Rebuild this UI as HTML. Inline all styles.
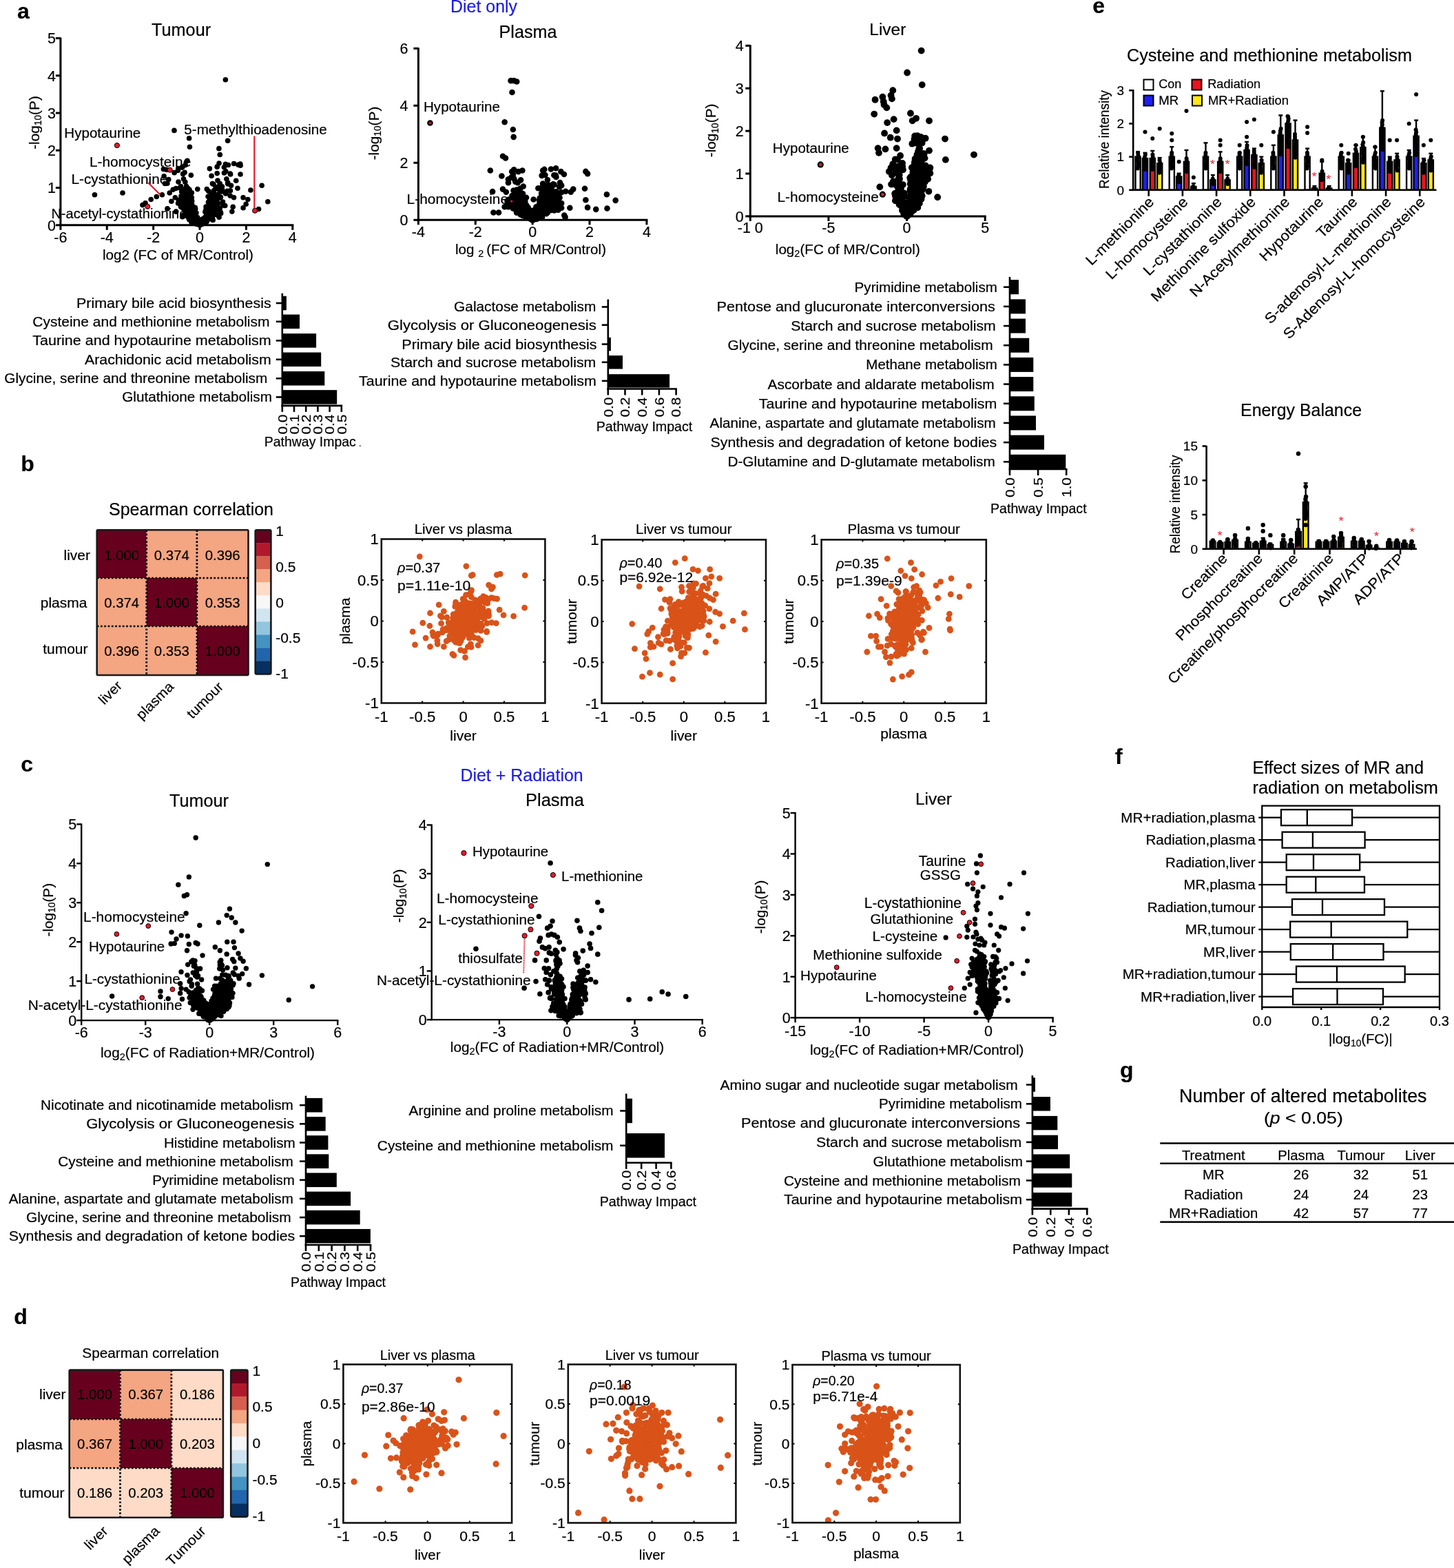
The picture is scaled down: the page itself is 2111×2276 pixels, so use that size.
<!DOCTYPE html>
<html><head><meta charset="utf-8"><title>Figure</title>
<style>
html,body{margin:0;padding:0;background:#fff;}
svg{display:block;}
text{font-family:"Liberation Sans",Arial,Helvetica,sans-serif;stroke:#000;stroke-width:0.2px;}
</style></head><body>
<svg width="2111" height="2276" viewBox="0 0 2111 2276">
<rect x="0" y="0" width="2111" height="2276" fill="#fff"/>
<text x="25" y="27.3" font-size="32" font-weight="bold">a</text>
<text x="654" y="17.6" font-size="25.18" textLength="97" lengthAdjust="spacingAndGlyphs" fill="#1c1ce6" style="stroke:#1c1ce6">Diet only</text>
<text x="263.1" y="52.4" font-size="25.49" text-anchor="middle" textLength="86" lengthAdjust="spacingAndGlyphs">Tumour</text>
<circle cx="265.61" cy="252.51" r="3.8" fill="#000"/>
<circle cx="290.03" cy="326.77" r="3.8" fill="#000"/>
<circle cx="319.37" cy="287.08" r="3.8" fill="#000"/>
<circle cx="325.39" cy="242.71" r="3.8" fill="#000"/>
<circle cx="302.8" cy="309.15" r="3.8" fill="#000"/>
<circle cx="276" cy="311.17" r="3.8" fill="#000"/>
<circle cx="263.76" cy="278.22" r="3.8" fill="#000"/>
<circle cx="309.84" cy="301.37" r="3.8" fill="#000"/>
<circle cx="283.73" cy="324.51" r="3.8" fill="#000"/>
<circle cx="294.78" cy="320.33" r="3.8" fill="#000"/>
<circle cx="297.17" cy="316.84" r="3.8" fill="#000"/>
<circle cx="284.33" cy="319.73" r="3.8" fill="#000"/>
<circle cx="297.55" cy="321.06" r="3.8" fill="#000"/>
<circle cx="278.7" cy="323.08" r="3.8" fill="#000"/>
<circle cx="258.99" cy="264.12" r="3.8" fill="#000"/>
<circle cx="309.14" cy="319.55" r="3.8" fill="#000"/>
<circle cx="309.01" cy="292.7" r="3.8" fill="#000"/>
<circle cx="284.27" cy="322.03" r="3.8" fill="#000"/>
<circle cx="298.68" cy="318.65" r="3.8" fill="#000"/>
<circle cx="283.24" cy="322.99" r="3.8" fill="#000"/>
<circle cx="328.9" cy="259.74" r="3.8" fill="#000"/>
<circle cx="282.75" cy="321.41" r="3.8" fill="#000"/>
<circle cx="304.68" cy="293.9" r="3.8" fill="#000"/>
<circle cx="282.56" cy="322.05" r="3.8" fill="#000"/>
<circle cx="291.14" cy="325.59" r="3.8" fill="#000"/>
<circle cx="298.42" cy="317.5" r="3.8" fill="#000"/>
<circle cx="293.35" cy="318.27" r="3.8" fill="#000"/>
<circle cx="334.66" cy="252.97" r="3.8" fill="#000"/>
<circle cx="272.74" cy="314.03" r="3.8" fill="#000"/>
<circle cx="300.69" cy="314.81" r="3.8" fill="#000"/>
<circle cx="318.12" cy="315.36" r="3.8" fill="#000"/>
<circle cx="306.46" cy="318.07" r="3.8" fill="#000"/>
<circle cx="281.07" cy="320.16" r="3.8" fill="#000"/>
<circle cx="253.13" cy="250.63" r="3.8" fill="#000"/>
<circle cx="323.9" cy="298.02" r="3.8" fill="#000"/>
<circle cx="307.08" cy="255.24" r="3.8" fill="#000"/>
<circle cx="348.85" cy="238.08" r="3.8" fill="#000"/>
<circle cx="311.5" cy="304.94" r="3.8" fill="#000"/>
<circle cx="264.72" cy="314.65" r="3.8" fill="#000"/>
<circle cx="273.81" cy="303.41" r="3.8" fill="#000"/>
<circle cx="287.4" cy="324.82" r="3.8" fill="#000"/>
<circle cx="305.22" cy="310.74" r="3.8" fill="#000"/>
<circle cx="297.34" cy="319.99" r="3.8" fill="#000"/>
<circle cx="322.43" cy="270.89" r="3.8" fill="#000"/>
<circle cx="279" cy="316.64" r="3.8" fill="#000"/>
<circle cx="269.68" cy="303.76" r="3.8" fill="#000"/>
<circle cx="342.72" cy="262.21" r="3.8" fill="#000"/>
<circle cx="320.34" cy="286.14" r="3.8" fill="#000"/>
<circle cx="299.99" cy="312.58" r="3.8" fill="#000"/>
<circle cx="286.78" cy="315.91" r="3.8" fill="#000"/>
<circle cx="265.05" cy="242.01" r="3.8" fill="#000"/>
<circle cx="313.15" cy="304.99" r="3.8" fill="#000"/>
<circle cx="320.34" cy="308.34" r="3.8" fill="#000"/>
<circle cx="286.21" cy="324.48" r="3.8" fill="#000"/>
<circle cx="319.04" cy="277.28" r="3.8" fill="#000"/>
<circle cx="255.38" cy="273.53" r="3.8" fill="#000"/>
<circle cx="274.02" cy="308.01" r="3.8" fill="#000"/>
<circle cx="282.49" cy="319.9" r="3.8" fill="#000"/>
<circle cx="243.01" cy="302.88" r="3.8" fill="#000"/>
<circle cx="325.48" cy="251" r="3.8" fill="#000"/>
<circle cx="271.97" cy="303.51" r="3.8" fill="#000"/>
<circle cx="309.34" cy="306.92" r="3.8" fill="#000"/>
<circle cx="302.88" cy="277.46" r="3.8" fill="#000"/>
<circle cx="266.75" cy="311.8" r="3.8" fill="#000"/>
<circle cx="299.07" cy="303.74" r="3.8" fill="#000"/>
<circle cx="272.93" cy="273.53" r="3.8" fill="#000"/>
<circle cx="269.33" cy="312.59" r="3.8" fill="#000"/>
<circle cx="288.17" cy="325.73" r="3.8" fill="#000"/>
<circle cx="297.88" cy="307.56" r="3.8" fill="#000"/>
<circle cx="277.93" cy="322.5" r="3.8" fill="#000"/>
<circle cx="275.09" cy="292.39" r="3.8" fill="#000"/>
<circle cx="323.01" cy="276.35" r="3.8" fill="#000"/>
<circle cx="293.26" cy="325.22" r="3.8" fill="#000"/>
<circle cx="251.14" cy="275.21" r="3.8" fill="#000"/>
<circle cx="268.08" cy="250.24" r="3.8" fill="#000"/>
<circle cx="273.85" cy="316.16" r="3.8" fill="#000"/>
<circle cx="290.03" cy="326.77" r="3.8" fill="#000"/>
<circle cx="266.73" cy="313.43" r="3.8" fill="#000"/>
<circle cx="318.05" cy="237.08" r="3.8" fill="#000"/>
<circle cx="264.64" cy="286.52" r="3.8" fill="#000"/>
<circle cx="315.97" cy="312.31" r="3.8" fill="#000"/>
<circle cx="318.22" cy="270" r="3.8" fill="#000"/>
<circle cx="279.88" cy="300.39" r="3.8" fill="#000"/>
<circle cx="291.63" cy="324.78" r="3.8" fill="#000"/>
<circle cx="299.31" cy="305.88" r="3.8" fill="#000"/>
<circle cx="280.94" cy="310.43" r="3.8" fill="#000"/>
<circle cx="264.39" cy="243.09" r="3.8" fill="#000"/>
<circle cx="268.84" cy="264.37" r="3.8" fill="#000"/>
<circle cx="307.13" cy="306.33" r="3.8" fill="#000"/>
<circle cx="261.55" cy="295.56" r="3.8" fill="#000"/>
<circle cx="300.35" cy="321.38" r="3.8" fill="#000"/>
<circle cx="288.72" cy="325.4" r="3.8" fill="#000"/>
<circle cx="276.79" cy="312.1" r="3.8" fill="#000"/>
<circle cx="305.31" cy="309.78" r="3.8" fill="#000"/>
<circle cx="287.28" cy="324.73" r="3.8" fill="#000"/>
<circle cx="295.62" cy="321.7" r="3.8" fill="#000"/>
<circle cx="270.88" cy="304.54" r="3.8" fill="#000"/>
<circle cx="269.37" cy="279" r="3.8" fill="#000"/>
<circle cx="297.3" cy="324.1" r="3.8" fill="#000"/>
<circle cx="317.45" cy="285.84" r="3.8" fill="#000"/>
<circle cx="289.09" cy="326.23" r="3.8" fill="#000"/>
<circle cx="326.77" cy="298.44" r="3.8" fill="#000"/>
<circle cx="288.92" cy="325.83" r="3.8" fill="#000"/>
<circle cx="285.45" cy="321.41" r="3.8" fill="#000"/>
<circle cx="272.8" cy="301.28" r="3.8" fill="#000"/>
<circle cx="303.67" cy="298.57" r="3.8" fill="#000"/>
<circle cx="306.45" cy="280.64" r="3.8" fill="#000"/>
<circle cx="284.5" cy="322.11" r="3.8" fill="#000"/>
<circle cx="268.38" cy="279.9" r="3.8" fill="#000"/>
<circle cx="276.39" cy="303.95" r="3.8" fill="#000"/>
<circle cx="294.21" cy="322.53" r="3.8" fill="#000"/>
<circle cx="317.13" cy="302.19" r="3.8" fill="#000"/>
<circle cx="283.68" cy="318.75" r="3.8" fill="#000"/>
<circle cx="275.59" cy="315.13" r="3.8" fill="#000"/>
<circle cx="296.31" cy="322.42" r="3.8" fill="#000"/>
<circle cx="316.12" cy="284.21" r="3.8" fill="#000"/>
<circle cx="278.33" cy="309.52" r="3.8" fill="#000"/>
<circle cx="320.83" cy="273.64" r="3.8" fill="#000"/>
<circle cx="275.58" cy="313.05" r="3.8" fill="#000"/>
<circle cx="320.71" cy="274.8" r="3.8" fill="#000"/>
<circle cx="287.32" cy="325.21" r="3.8" fill="#000"/>
<circle cx="317.11" cy="304.37" r="3.8" fill="#000"/>
<circle cx="274.99" cy="311.09" r="3.8" fill="#000"/>
<circle cx="302.15" cy="285.21" r="3.8" fill="#000"/>
<circle cx="322.39" cy="278.05" r="3.8" fill="#000"/>
<circle cx="285.19" cy="325.15" r="3.8" fill="#000"/>
<circle cx="296.94" cy="316.09" r="3.8" fill="#000"/>
<circle cx="291.89" cy="325.43" r="3.8" fill="#000"/>
<circle cx="313.01" cy="293.51" r="3.8" fill="#000"/>
<circle cx="272.58" cy="292.58" r="3.8" fill="#000"/>
<circle cx="273.72" cy="287.71" r="3.8" fill="#000"/>
<circle cx="292.92" cy="323.19" r="3.8" fill="#000"/>
<circle cx="294.71" cy="319.56" r="3.8" fill="#000"/>
<circle cx="272.53" cy="301.77" r="3.8" fill="#000"/>
<circle cx="285.01" cy="323.88" r="3.8" fill="#000"/>
<circle cx="271.65" cy="305.66" r="3.8" fill="#000"/>
<circle cx="292.42" cy="322.4" r="3.8" fill="#000"/>
<circle cx="310.93" cy="301.32" r="3.8" fill="#000"/>
<circle cx="242.88" cy="266.29" r="3.8" fill="#000"/>
<circle cx="315.99" cy="262.11" r="3.8" fill="#000"/>
<circle cx="334.18" cy="252.12" r="3.8" fill="#000"/>
<circle cx="265.66" cy="302.17" r="3.8" fill="#000"/>
<circle cx="284.74" cy="315.84" r="3.8" fill="#000"/>
<circle cx="241.79" cy="246.37" r="3.8" fill="#000"/>
<circle cx="275.72" cy="314.69" r="3.8" fill="#000"/>
<circle cx="302.73" cy="306.67" r="3.8" fill="#000"/>
<circle cx="280.63" cy="322.59" r="3.8" fill="#000"/>
<circle cx="334.46" cy="276.77" r="3.8" fill="#000"/>
<circle cx="284.85" cy="317.95" r="3.8" fill="#000"/>
<circle cx="284.1" cy="324.08" r="3.8" fill="#000"/>
<circle cx="304.49" cy="306.04" r="3.8" fill="#000"/>
<circle cx="263.92" cy="292.31" r="3.8" fill="#000"/>
<circle cx="272.28" cy="304.14" r="3.8" fill="#000"/>
<circle cx="311.25" cy="311.43" r="3.8" fill="#000"/>
<circle cx="296.77" cy="318.29" r="3.8" fill="#000"/>
<circle cx="298.87" cy="322.92" r="3.8" fill="#000"/>
<circle cx="302.44" cy="293.57" r="3.8" fill="#000"/>
<circle cx="330.69" cy="265.16" r="3.8" fill="#000"/>
<circle cx="291.16" cy="325.58" r="3.8" fill="#000"/>
<circle cx="302.48" cy="306.49" r="3.8" fill="#000"/>
<circle cx="290.44" cy="326.32" r="3.8" fill="#000"/>
<circle cx="279.49" cy="322.78" r="3.8" fill="#000"/>
<circle cx="312.49" cy="310.48" r="3.8" fill="#000"/>
<circle cx="281.42" cy="318.73" r="3.8" fill="#000"/>
<circle cx="288.35" cy="325.01" r="3.8" fill="#000"/>
<circle cx="311.32" cy="306.61" r="3.8" fill="#000"/>
<circle cx="300.71" cy="315.6" r="3.8" fill="#000"/>
<circle cx="258.83" cy="244.55" r="3.8" fill="#000"/>
<circle cx="302.56" cy="308.71" r="3.8" fill="#000"/>
<circle cx="274.77" cy="311.43" r="3.8" fill="#000"/>
<circle cx="271.3" cy="289.75" r="3.8" fill="#000"/>
<circle cx="314.56" cy="282.54" r="3.8" fill="#000"/>
<circle cx="327.65" cy="280.93" r="3.8" fill="#000"/>
<circle cx="312.8" cy="310.55" r="3.8" fill="#000"/>
<circle cx="262.5" cy="270.62" r="3.8" fill="#000"/>
<circle cx="290.93" cy="326.33" r="3.8" fill="#000"/>
<circle cx="292.37" cy="325.75" r="3.8" fill="#000"/>
<circle cx="280.84" cy="316.3" r="3.8" fill="#000"/>
<circle cx="295.63" cy="323.18" r="3.8" fill="#000"/>
<circle cx="292.18" cy="324.02" r="3.8" fill="#000"/>
<circle cx="285.54" cy="317.48" r="3.8" fill="#000"/>
<circle cx="323.52" cy="293.06" r="3.8" fill="#000"/>
<circle cx="303.64" cy="312.84" r="3.8" fill="#000"/>
<circle cx="278.94" cy="310.89" r="3.8" fill="#000"/>
<circle cx="312.72" cy="274.32" r="3.8" fill="#000"/>
<circle cx="274.71" cy="318.79" r="3.8" fill="#000"/>
<circle cx="330.66" cy="266.86" r="3.8" fill="#000"/>
<circle cx="306.13" cy="308.74" r="3.8" fill="#000"/>
<circle cx="327.46" cy="238.41" r="3.8" fill="#000"/>
<circle cx="295.38" cy="322.47" r="3.8" fill="#000"/>
<circle cx="327.78" cy="248.78" r="3.8" fill="#000"/>
<circle cx="298.96" cy="314.01" r="3.8" fill="#000"/>
<circle cx="277.79" cy="306.06" r="3.8" fill="#000"/>
<circle cx="295.4" cy="323.23" r="3.8" fill="#000"/>
<circle cx="276.92" cy="304.83" r="3.8" fill="#000"/>
<circle cx="283.79" cy="321.31" r="3.8" fill="#000"/>
<circle cx="310.03" cy="267.6" r="3.8" fill="#000"/>
<circle cx="301.85" cy="302.64" r="3.8" fill="#000"/>
<circle cx="310.37" cy="276.78" r="3.8" fill="#000"/>
<circle cx="267.7" cy="278.16" r="3.8" fill="#000"/>
<circle cx="291.95" cy="323.85" r="3.8" fill="#000"/>
<circle cx="298.43" cy="318.32" r="3.8" fill="#000"/>
<circle cx="295.38" cy="321.98" r="3.8" fill="#000"/>
<circle cx="314.14" cy="271.85" r="3.8" fill="#000"/>
<circle cx="293.45" cy="323.36" r="3.8" fill="#000"/>
<circle cx="244.75" cy="260.6" r="3.8" fill="#000"/>
<circle cx="275.16" cy="299.09" r="3.8" fill="#000"/>
<circle cx="282.85" cy="319.5" r="3.8" fill="#000"/>
<circle cx="301.23" cy="316.88" r="3.8" fill="#000"/>
<circle cx="276.99" cy="316.19" r="3.8" fill="#000"/>
<circle cx="303.3" cy="307.11" r="3.8" fill="#000"/>
<circle cx="292.92" cy="324.86" r="3.8" fill="#000"/>
<circle cx="303.65" cy="315.65" r="3.8" fill="#000"/>
<circle cx="295.93" cy="323.29" r="3.8" fill="#000"/>
<circle cx="345.93" cy="239.18" r="3.8" fill="#000"/>
<circle cx="255.61" cy="307.13" r="3.8" fill="#000"/>
<circle cx="279.94" cy="302.19" r="3.8" fill="#000"/>
<circle cx="237.43" cy="245.45" r="3.8" fill="#000"/>
<circle cx="319.27" cy="302.54" r="3.8" fill="#000"/>
<circle cx="284.39" cy="323.9" r="3.8" fill="#000"/>
<circle cx="327.38" cy="115.8" r="3.8" fill="#000"/>
<circle cx="252.98" cy="189.39" r="3.8" fill="#000"/>
<circle cx="274.62" cy="200.76" r="3.8" fill="#000"/>
<circle cx="330.63" cy="204.27" r="3.8" fill="#000"/>
<circle cx="275.43" cy="213.2" r="3.8" fill="#000"/>
<circle cx="317.91" cy="215.64" r="3.8" fill="#000"/>
<circle cx="319.26" cy="224.57" r="3.8" fill="#000"/>
<circle cx="137.45" cy="282.74" r="3.8" fill="#000"/>
<circle cx="178.03" cy="280.03" r="3.8" fill="#000"/>
<circle cx="380.14" cy="269.21" r="3.8" fill="#000"/>
<circle cx="388.8" cy="292.75" r="3.8" fill="#000"/>
<circle cx="363.91" cy="275.97" r="3.8" fill="#000"/>
<circle cx="375.54" cy="303.57" r="3.8" fill="#000"/>
<circle cx="304.38" cy="244.86" r="3.8" fill="#000"/>
<circle cx="315.21" cy="242.15" r="3.8" fill="#000"/>
<circle cx="331.44" cy="239.45" r="3.8" fill="#000"/>
<circle cx="339.56" cy="237.55" r="3.8" fill="#000"/>
<circle cx="349.03" cy="240.26" r="3.8" fill="#000"/>
<circle cx="349.03" cy="252.98" r="3.8" fill="#000"/>
<circle cx="315.21" cy="251.62" r="3.8" fill="#000"/>
<circle cx="277.33" cy="254.33" r="3.8" fill="#000"/>
<circle cx="258.39" cy="247.56" r="3.8" fill="#000"/>
<circle cx="269.21" cy="239.45" r="3.8" fill="#000"/>
<circle cx="238.1" cy="255.68" r="3.8" fill="#000"/>
<circle cx="239.45" cy="266.5" r="3.8" fill="#000"/>
<circle cx="235.39" cy="282.74" r="3.8" fill="#000"/>
<circle cx="227.27" cy="285.44" r="3.8" fill="#000"/>
<circle cx="219.16" cy="289.5" r="3.8" fill="#000"/>
<circle cx="211.04" cy="294.91" r="3.8" fill="#000"/>
<circle cx="206.98" cy="297.62" r="3.8" fill="#000"/>
<circle cx="286.8" cy="274.62" r="3.8" fill="#000"/>
<circle cx="300.32" cy="274.62" r="3.8" fill="#000"/>
<circle cx="308.44" cy="266.5" r="3.8" fill="#000"/>
<circle cx="319.26" cy="266.5" r="3.8" fill="#000"/>
<circle cx="335.5" cy="269.21" r="3.8" fill="#000"/>
<circle cx="344.97" cy="273.27" r="3.8" fill="#000"/>
<circle cx="353.08" cy="286.8" r="3.8" fill="#000"/>
<circle cx="359.85" cy="289.5" r="3.8" fill="#000"/>
<circle cx="357.14" cy="296.27" r="3.8" fill="#000"/>
<circle cx="353.08" cy="301.68" r="3.8" fill="#000"/>
<circle cx="338.2" cy="300.32" r="3.8" fill="#000"/>
<circle cx="336.85" cy="307.09" r="3.8" fill="#000"/>
<circle cx="313.85" cy="297.62" r="3.8" fill="#000"/>
<circle cx="320.62" cy="309.79" r="3.8" fill="#000"/>
<circle cx="308.44" cy="316.56" r="3.8" fill="#000"/>
<circle cx="270.56" cy="289.5" r="3.8" fill="#000"/>
<circle cx="254.33" cy="286.8" r="3.8" fill="#000"/>
<circle cx="248.92" cy="292.21" r="3.8" fill="#000"/>
<circle cx="246.21" cy="280.03" r="3.8" fill="#000"/>
<circle cx="271.92" cy="233.23" r="3.8" fill="#000"/>
<circle cx="334.15" cy="284.09" r="3.8" fill="#000"/>
<circle cx="339.56" cy="286.8" r="3.8" fill="#000"/>
<circle cx="330.09" cy="277.33" r="3.8" fill="#000"/>
<circle cx="261.09" cy="272.73" r="3.8" fill="#000"/>
<circle cx="266.5" cy="259.74" r="3.8" fill="#000"/>
<circle cx="270.56" cy="270.56" r="3.8" fill="#000"/>
<circle cx="268.42" cy="274.73" r="3.8" fill="#000"/>
<circle cx="272.29" cy="275.46" r="3.8" fill="#000"/>
<circle cx="274.92" cy="275.22" r="3.8" fill="#000"/>
<circle cx="267.16" cy="279.95" r="3.8" fill="#000"/>
<circle cx="271.38" cy="278.83" r="3.8" fill="#000"/>
<circle cx="275.47" cy="277.76" r="3.8" fill="#000"/>
<circle cx="278.34" cy="279.74" r="3.8" fill="#000"/>
<circle cx="263" cy="284.64" r="3.8" fill="#000"/>
<circle cx="267.37" cy="283.2" r="3.8" fill="#000"/>
<circle cx="270.64" cy="283.46" r="3.8" fill="#000"/>
<circle cx="276.84" cy="281.87" r="3.8" fill="#000"/>
<circle cx="262.97" cy="287.46" r="3.8" fill="#000"/>
<circle cx="266.72" cy="287.05" r="3.8" fill="#000"/>
<circle cx="271.43" cy="287.86" r="3.8" fill="#000"/>
<circle cx="275.83" cy="287.38" r="3.8" fill="#000"/>
<circle cx="278.3" cy="286.71" r="3.8" fill="#000"/>
<circle cx="259.29" cy="290.46" r="3.8" fill="#000"/>
<circle cx="261.55" cy="290.26" r="3.8" fill="#000"/>
<circle cx="267.89" cy="290.95" r="3.8" fill="#000"/>
<circle cx="270.18" cy="292.05" r="3.8" fill="#000"/>
<circle cx="275.04" cy="290.42" r="3.8" fill="#000"/>
<circle cx="278.68" cy="291.76" r="3.8" fill="#000"/>
<circle cx="258.55" cy="294.95" r="3.8" fill="#000"/>
<circle cx="261.82" cy="297.03" r="3.8" fill="#000"/>
<circle cx="267.17" cy="295.01" r="3.8" fill="#000"/>
<circle cx="271.63" cy="296.79" r="3.8" fill="#000"/>
<circle cx="274.1" cy="294.45" r="3.8" fill="#000"/>
<circle cx="278.65" cy="296.5" r="3.8" fill="#000"/>
<circle cx="262.65" cy="300.26" r="3.8" fill="#000"/>
<circle cx="266.62" cy="300.42" r="3.8" fill="#000"/>
<circle cx="270.03" cy="299.45" r="3.8" fill="#000"/>
<circle cx="276.87" cy="301.14" r="3.8" fill="#000"/>
<circle cx="279.11" cy="301.09" r="3.8" fill="#000"/>
<circle cx="283.31" cy="301.33" r="3.8" fill="#000"/>
<circle cx="268.22" cy="305.61" r="3.8" fill="#000"/>
<circle cx="271.92" cy="304.25" r="3.8" fill="#000"/>
<circle cx="275.14" cy="303.77" r="3.8" fill="#000"/>
<circle cx="278.82" cy="304.73" r="3.8" fill="#000"/>
<circle cx="283.66" cy="303.32" r="3.8" fill="#000"/>
<circle cx="270.85" cy="307.56" r="3.8" fill="#000"/>
<circle cx="276.01" cy="309.39" r="3.8" fill="#000"/>
<circle cx="280.94" cy="307.94" r="3.8" fill="#000"/>
<circle cx="284.98" cy="308.95" r="3.8" fill="#000"/>
<circle cx="276.58" cy="312.88" r="3.8" fill="#000"/>
<circle cx="281.01" cy="313.71" r="3.8" fill="#000"/>
<circle cx="282.79" cy="312.73" r="3.8" fill="#000"/>
<circle cx="280.92" cy="316.64" r="3.8" fill="#000"/>
<circle cx="283.21" cy="317.6" r="3.8" fill="#000"/>
<circle cx="285.06" cy="320.34" r="3.8" fill="#000"/>
<circle cx="287.32" cy="320.87" r="3.8" fill="#000"/>
<circle cx="307.28" cy="282.67" r="3.8" fill="#000"/>
<circle cx="311.38" cy="282.2" r="3.8" fill="#000"/>
<circle cx="316.96" cy="283.17" r="3.8" fill="#000"/>
<circle cx="305.05" cy="287.34" r="3.8" fill="#000"/>
<circle cx="306.57" cy="288.02" r="3.8" fill="#000"/>
<circle cx="312.81" cy="286.97" r="3.8" fill="#000"/>
<circle cx="314.97" cy="287.15" r="3.8" fill="#000"/>
<circle cx="303.81" cy="291.67" r="3.8" fill="#000"/>
<circle cx="306.91" cy="292.5" r="3.8" fill="#000"/>
<circle cx="310.92" cy="292.24" r="3.8" fill="#000"/>
<circle cx="315.06" cy="291.59" r="3.8" fill="#000"/>
<circle cx="304.68" cy="296.42" r="3.8" fill="#000"/>
<circle cx="306.65" cy="297.43" r="3.8" fill="#000"/>
<circle cx="311.16" cy="295.29" r="3.8" fill="#000"/>
<circle cx="316.98" cy="295.5" r="3.8" fill="#000"/>
<circle cx="299.08" cy="300.04" r="3.8" fill="#000"/>
<circle cx="304.98" cy="300.13" r="3.8" fill="#000"/>
<circle cx="308.04" cy="301.25" r="3.8" fill="#000"/>
<circle cx="311.07" cy="299.17" r="3.8" fill="#000"/>
<circle cx="300.58" cy="304.66" r="3.8" fill="#000"/>
<circle cx="303.41" cy="303.2" r="3.8" fill="#000"/>
<circle cx="306.47" cy="305.71" r="3.8" fill="#000"/>
<circle cx="311.23" cy="304.96" r="3.8" fill="#000"/>
<circle cx="299.63" cy="309.57" r="3.8" fill="#000"/>
<circle cx="303.97" cy="307.9" r="3.8" fill="#000"/>
<circle cx="309.04" cy="307.67" r="3.8" fill="#000"/>
<circle cx="310.59" cy="307.86" r="3.8" fill="#000"/>
<circle cx="300.87" cy="313.18" r="3.8" fill="#000"/>
<circle cx="304.2" cy="312.97" r="3.8" fill="#000"/>
<circle cx="306.77" cy="311.36" r="3.8" fill="#000"/>
<circle cx="298.22" cy="317.03" r="3.8" fill="#000"/>
<circle cx="296.34" cy="321.29" r="3.8" fill="#000"/>
<circle cx="299.83" cy="320.74" r="3.8" fill="#000"/>
<line x1="369.3" y1="197.5" x2="369.3" y2="305.7" stroke="#e8182c" stroke-width="2.2"/>
<line x1="215.1" y1="265.2" x2="232.7" y2="282.7" stroke="#e8182c" stroke-width="2.2"/>
<circle cx="169.91" cy="211.04" r="3.6" fill="#e8182c" stroke="#000" stroke-width="1"/>
<circle cx="246.75" cy="246.75" r="3.6" fill="#e8182c" stroke="#000" stroke-width="1"/>
<circle cx="214.29" cy="299.78" r="3.6" fill="#e8182c" stroke="#000" stroke-width="1"/>
<circle cx="370.13" cy="305.74" r="3.6" fill="#e8182c" stroke="#000" stroke-width="1"/>
<line x1="87.9" y1="54.5" x2="87.9" y2="328.3" stroke="#000" stroke-width="3"/>
<line x1="86.4" y1="326.8" x2="426.3" y2="326.8" stroke="#000" stroke-width="3"/>
<line x1="80.9" y1="326.8" x2="87.9" y2="326.8" stroke="#000" stroke-width="3"/>
<text x="80.9" y="334.54" font-size="21.5" text-anchor="end">0</text>
<line x1="80.9" y1="272.54" x2="87.9" y2="272.54" stroke="#000" stroke-width="3"/>
<text x="80.9" y="280.28" font-size="21.5" text-anchor="end">1</text>
<line x1="80.9" y1="218.28" x2="87.9" y2="218.28" stroke="#000" stroke-width="3"/>
<text x="80.9" y="226.02" font-size="21.5" text-anchor="end">2</text>
<line x1="80.9" y1="164.02" x2="87.9" y2="164.02" stroke="#000" stroke-width="3"/>
<text x="80.9" y="171.76" font-size="21.5" text-anchor="end">3</text>
<line x1="80.9" y1="109.76" x2="87.9" y2="109.76" stroke="#000" stroke-width="3"/>
<text x="80.9" y="117.5" font-size="21.5" text-anchor="end">4</text>
<line x1="80.9" y1="55.5" x2="87.9" y2="55.5" stroke="#000" stroke-width="3"/>
<text x="80.9" y="63.24" font-size="21.5" text-anchor="end">5</text>
<line x1="87.9" y1="326.8" x2="87.9" y2="333.8" stroke="#000" stroke-width="3"/>
<text x="87.9" y="351.7" font-size="21.5" text-anchor="middle">-6</text>
<line x1="155.28" y1="326.8" x2="155.28" y2="333.8" stroke="#000" stroke-width="3"/>
<text x="155.28" y="351.7" font-size="21.5" text-anchor="middle">-4</text>
<line x1="222.66" y1="326.8" x2="222.66" y2="333.8" stroke="#000" stroke-width="3"/>
<text x="222.66" y="351.7" font-size="21.5" text-anchor="middle">-2</text>
<line x1="290.04" y1="326.8" x2="290.04" y2="333.8" stroke="#000" stroke-width="3"/>
<text x="290.04" y="351.7" font-size="21.5" text-anchor="middle">0</text>
<line x1="357.42" y1="326.8" x2="357.42" y2="333.8" stroke="#000" stroke-width="3"/>
<text x="357.42" y="351.7" font-size="21.5" text-anchor="middle">2</text>
<line x1="424.8" y1="326.8" x2="424.8" y2="333.8" stroke="#000" stroke-width="3"/>
<text x="424.8" y="351.7" font-size="21.5" text-anchor="middle">4</text>
<text x="56.8" y="178" font-size="20.8" text-anchor="middle" transform="rotate(-90 56.8 178)">-log<tspan font-size="13.73" dy="3.54">10</tspan><tspan dy="-3.54">(P)</tspan></text>
<text x="258.4" y="377" font-size="20.84" text-anchor="middle" textLength="219" lengthAdjust="spacingAndGlyphs">log2 (FC of MR/Control)</text>
<text x="93.3" y="200.2" font-size="20.79" textLength="111" lengthAdjust="spacingAndGlyphs">Hypotaurine</text>
<text x="267.3" y="194.8" font-size="20.83" textLength="207.5" lengthAdjust="spacingAndGlyphs">5-methylthioadenosine</text>
<text x="129.9" y="241.6" font-size="21.09" textLength="147.4" lengthAdjust="spacingAndGlyphs">L-homocysteine</text>
<text x="103.4" y="266.5" font-size="21.02" textLength="140" lengthAdjust="spacingAndGlyphs">L-cystathionine</text>
<text x="74.4" y="316.6" font-size="20.23" textLength="197" lengthAdjust="spacingAndGlyphs">N-acetyl-cystathionine</text>
<text x="766.5" y="55" font-size="25.44" text-anchor="middle" textLength="84" lengthAdjust="spacingAndGlyphs">Plasma</text>
<circle cx="771.99" cy="318.54" r="4.3" fill="#000"/>
<circle cx="772.61" cy="318.77" r="4.3" fill="#000"/>
<circle cx="758.02" cy="299.51" r="4.3" fill="#000"/>
<circle cx="800.33" cy="290.87" r="4.3" fill="#000"/>
<circle cx="798.78" cy="289.7" r="4.3" fill="#000"/>
<circle cx="785.47" cy="307.47" r="4.3" fill="#000"/>
<circle cx="742.78" cy="294.68" r="4.3" fill="#000"/>
<circle cx="787.79" cy="307.24" r="4.3" fill="#000"/>
<circle cx="758.86" cy="297.57" r="4.3" fill="#000"/>
<circle cx="783.62" cy="308.13" r="4.3" fill="#000"/>
<circle cx="788.09" cy="293.33" r="4.3" fill="#000"/>
<circle cx="783.69" cy="310.66" r="4.3" fill="#000"/>
<circle cx="763.6" cy="315.64" r="4.3" fill="#000"/>
<circle cx="788.83" cy="310.7" r="4.3" fill="#000"/>
<circle cx="764.44" cy="305.65" r="4.3" fill="#000"/>
<circle cx="770.17" cy="316.51" r="4.3" fill="#000"/>
<circle cx="790.39" cy="301.94" r="4.3" fill="#000"/>
<circle cx="768.03" cy="311.11" r="4.3" fill="#000"/>
<circle cx="766.51" cy="316.07" r="4.3" fill="#000"/>
<circle cx="760.55" cy="307.58" r="4.3" fill="#000"/>
<circle cx="786.13" cy="280.51" r="4.3" fill="#000"/>
<circle cx="778.3" cy="316.95" r="4.3" fill="#000"/>
<circle cx="775.09" cy="316.72" r="4.3" fill="#000"/>
<circle cx="787.6" cy="302.41" r="4.3" fill="#000"/>
<circle cx="746.95" cy="298.74" r="4.3" fill="#000"/>
<circle cx="791.16" cy="307.48" r="4.3" fill="#000"/>
<circle cx="807.14" cy="278.37" r="4.3" fill="#000"/>
<circle cx="779.76" cy="305.57" r="4.3" fill="#000"/>
<circle cx="790.04" cy="289.13" r="4.3" fill="#000"/>
<circle cx="767.91" cy="309.21" r="4.3" fill="#000"/>
<circle cx="757.25" cy="293.07" r="4.3" fill="#000"/>
<circle cx="747.09" cy="288.79" r="4.3" fill="#000"/>
<circle cx="807.2" cy="284.24" r="4.3" fill="#000"/>
<circle cx="784.7" cy="299.73" r="4.3" fill="#000"/>
<circle cx="754.09" cy="306.87" r="4.3" fill="#000"/>
<circle cx="800.12" cy="285.34" r="4.3" fill="#000"/>
<circle cx="782.39" cy="312.06" r="4.3" fill="#000"/>
<circle cx="810.32" cy="280.64" r="4.3" fill="#000"/>
<circle cx="788.04" cy="307.35" r="4.3" fill="#000"/>
<circle cx="744.8" cy="302.37" r="4.3" fill="#000"/>
<circle cx="797.08" cy="297.07" r="4.3" fill="#000"/>
<circle cx="773.48" cy="319.13" r="4.3" fill="#000"/>
<circle cx="750.13" cy="308.66" r="4.3" fill="#000"/>
<circle cx="788.73" cy="299.57" r="4.3" fill="#000"/>
<circle cx="784.02" cy="311.58" r="4.3" fill="#000"/>
<circle cx="779.79" cy="315.94" r="4.3" fill="#000"/>
<circle cx="763.59" cy="306.77" r="4.3" fill="#000"/>
<circle cx="798.88" cy="284.46" r="4.3" fill="#000"/>
<circle cx="759.05" cy="310.5" r="4.3" fill="#000"/>
<circle cx="748.7" cy="282.93" r="4.3" fill="#000"/>
<circle cx="774.21" cy="318.26" r="4.3" fill="#000"/>
<circle cx="760.99" cy="310.4" r="4.3" fill="#000"/>
<circle cx="800.68" cy="297.8" r="4.3" fill="#000"/>
<circle cx="784.45" cy="308.38" r="4.3" fill="#000"/>
<circle cx="780.45" cy="314.19" r="4.3" fill="#000"/>
<circle cx="773.64" cy="318.94" r="4.3" fill="#000"/>
<circle cx="789.16" cy="300.78" r="4.3" fill="#000"/>
<circle cx="793.12" cy="302.2" r="4.3" fill="#000"/>
<circle cx="818.95" cy="253.02" r="4.3" fill="#000"/>
<circle cx="768.43" cy="313.97" r="4.3" fill="#000"/>
<circle cx="777.02" cy="317.17" r="4.3" fill="#000"/>
<circle cx="770.32" cy="317.27" r="4.3" fill="#000"/>
<circle cx="754.01" cy="299.33" r="4.3" fill="#000"/>
<circle cx="785.55" cy="307.76" r="4.3" fill="#000"/>
<circle cx="768.36" cy="316.22" r="4.3" fill="#000"/>
<circle cx="783.14" cy="305.15" r="4.3" fill="#000"/>
<circle cx="765.81" cy="311.75" r="4.3" fill="#000"/>
<circle cx="772.62" cy="318.84" r="4.3" fill="#000"/>
<circle cx="775.91" cy="317.83" r="4.3" fill="#000"/>
<circle cx="795.03" cy="308.55" r="4.3" fill="#000"/>
<circle cx="742.04" cy="257.78" r="4.3" fill="#000"/>
<circle cx="770.23" cy="317.45" r="4.3" fill="#000"/>
<circle cx="791.45" cy="253.95" r="4.3" fill="#000"/>
<circle cx="780.94" cy="315.4" r="4.3" fill="#000"/>
<circle cx="774.2" cy="318.49" r="4.3" fill="#000"/>
<circle cx="793.81" cy="295.62" r="4.3" fill="#000"/>
<circle cx="775.46" cy="318.39" r="4.3" fill="#000"/>
<circle cx="799.02" cy="274.91" r="4.3" fill="#000"/>
<circle cx="796.24" cy="282.48" r="4.3" fill="#000"/>
<circle cx="780.04" cy="314.84" r="4.3" fill="#000"/>
<circle cx="781.9" cy="313.25" r="4.3" fill="#000"/>
<circle cx="790.03" cy="280.53" r="4.3" fill="#000"/>
<circle cx="756.02" cy="261.34" r="4.3" fill="#000"/>
<circle cx="803.53" cy="292.77" r="4.3" fill="#000"/>
<circle cx="777.31" cy="312.14" r="4.3" fill="#000"/>
<circle cx="793.17" cy="310.2" r="4.3" fill="#000"/>
<circle cx="758.85" cy="313.04" r="4.3" fill="#000"/>
<circle cx="797.76" cy="281.41" r="4.3" fill="#000"/>
<circle cx="736.44" cy="297.39" r="4.3" fill="#000"/>
<circle cx="775.3" cy="316.74" r="4.3" fill="#000"/>
<circle cx="785.57" cy="308.88" r="4.3" fill="#000"/>
<circle cx="800.84" cy="304.89" r="4.3" fill="#000"/>
<circle cx="807.38" cy="256.88" r="4.3" fill="#000"/>
<circle cx="761.88" cy="312.8" r="4.3" fill="#000"/>
<circle cx="779.68" cy="313.49" r="4.3" fill="#000"/>
<circle cx="806.8" cy="254.46" r="4.3" fill="#000"/>
<circle cx="738.88" cy="289.47" r="4.3" fill="#000"/>
<circle cx="783.86" cy="302.94" r="4.3" fill="#000"/>
<circle cx="777.09" cy="317.02" r="4.3" fill="#000"/>
<circle cx="778.93" cy="316.67" r="4.3" fill="#000"/>
<circle cx="776.02" cy="317.83" r="4.3" fill="#000"/>
<circle cx="808.2" cy="301.28" r="4.3" fill="#000"/>
<circle cx="763.37" cy="313.32" r="4.3" fill="#000"/>
<circle cx="736.63" cy="291.91" r="4.3" fill="#000"/>
<circle cx="751.77" cy="291.71" r="4.3" fill="#000"/>
<circle cx="773.31" cy="319.16" r="4.3" fill="#000"/>
<circle cx="765.04" cy="312.31" r="4.3" fill="#000"/>
<circle cx="814.41" cy="249.16" r="4.3" fill="#000"/>
<circle cx="788.3" cy="310.02" r="4.3" fill="#000"/>
<circle cx="773.19" cy="319.23" r="4.3" fill="#000"/>
<circle cx="765.79" cy="315.38" r="4.3" fill="#000"/>
<circle cx="743.19" cy="249.02" r="4.3" fill="#000"/>
<circle cx="798.17" cy="299.51" r="4.3" fill="#000"/>
<circle cx="777.45" cy="316.76" r="4.3" fill="#000"/>
<circle cx="780.73" cy="304.18" r="4.3" fill="#000"/>
<circle cx="744.89" cy="253.12" r="4.3" fill="#000"/>
<circle cx="796.41" cy="272.89" r="4.3" fill="#000"/>
<circle cx="758.6" cy="291.92" r="4.3" fill="#000"/>
<circle cx="745.56" cy="276.44" r="4.3" fill="#000"/>
<circle cx="752.85" cy="299.37" r="4.3" fill="#000"/>
<circle cx="728.4" cy="255.52" r="4.3" fill="#000"/>
<circle cx="764" cy="286.83" r="4.3" fill="#000"/>
<circle cx="792.31" cy="290.86" r="4.3" fill="#000"/>
<circle cx="783.32" cy="305.39" r="4.3" fill="#000"/>
<circle cx="793.45" cy="303.75" r="4.3" fill="#000"/>
<circle cx="791.1" cy="301.91" r="4.3" fill="#000"/>
<circle cx="804.93" cy="289.3" r="4.3" fill="#000"/>
<circle cx="786.64" cy="254.84" r="4.3" fill="#000"/>
<circle cx="795.87" cy="306.72" r="4.3" fill="#000"/>
<circle cx="771.14" cy="317.08" r="4.3" fill="#000"/>
<circle cx="787.01" cy="315.56" r="4.3" fill="#000"/>
<circle cx="758.08" cy="308.18" r="4.3" fill="#000"/>
<circle cx="788.92" cy="308.97" r="4.3" fill="#000"/>
<circle cx="758.53" cy="301.85" r="4.3" fill="#000"/>
<circle cx="783.36" cy="312.81" r="4.3" fill="#000"/>
<circle cx="776.58" cy="315.9" r="4.3" fill="#000"/>
<circle cx="756.24" cy="293.95" r="4.3" fill="#000"/>
<circle cx="795.77" cy="291.74" r="4.3" fill="#000"/>
<circle cx="759.62" cy="293.3" r="4.3" fill="#000"/>
<circle cx="790.17" cy="304.58" r="4.3" fill="#000"/>
<circle cx="812.19" cy="271.4" r="4.3" fill="#000"/>
<circle cx="775.9" cy="317.47" r="4.3" fill="#000"/>
<circle cx="737.01" cy="291.64" r="4.3" fill="#000"/>
<circle cx="784.02" cy="301.61" r="4.3" fill="#000"/>
<circle cx="804.76" cy="305.4" r="4.3" fill="#000"/>
<circle cx="748.24" cy="263.72" r="4.3" fill="#000"/>
<circle cx="783.33" cy="309.9" r="4.3" fill="#000"/>
<circle cx="769.04" cy="312.89" r="4.3" fill="#000"/>
<circle cx="821.23" cy="277.81" r="4.3" fill="#000"/>
<circle cx="752.55" cy="249.15" r="4.3" fill="#000"/>
<circle cx="812.58" cy="287.05" r="4.3" fill="#000"/>
<circle cx="815.02" cy="279.28" r="4.3" fill="#000"/>
<circle cx="759.23" cy="306.16" r="4.3" fill="#000"/>
<circle cx="776.07" cy="317.34" r="4.3" fill="#000"/>
<circle cx="762.22" cy="306.95" r="4.3" fill="#000"/>
<circle cx="786.79" cy="307.38" r="4.3" fill="#000"/>
<circle cx="790.51" cy="301.32" r="4.3" fill="#000"/>
<circle cx="770.58" cy="317.81" r="4.3" fill="#000"/>
<circle cx="778.32" cy="311.64" r="4.3" fill="#000"/>
<circle cx="764.33" cy="310.45" r="4.3" fill="#000"/>
<circle cx="775.02" cy="317.81" r="4.3" fill="#000"/>
<circle cx="777.28" cy="315.89" r="4.3" fill="#000"/>
<circle cx="774.51" cy="317.06" r="4.3" fill="#000"/>
<circle cx="786.02" cy="311.87" r="4.3" fill="#000"/>
<circle cx="786.3" cy="303.06" r="4.3" fill="#000"/>
<circle cx="786.54" cy="291.37" r="4.3" fill="#000"/>
<circle cx="738.01" cy="265.31" r="4.3" fill="#000"/>
<circle cx="758.02" cy="308.46" r="4.3" fill="#000"/>
<circle cx="755.76" cy="311.53" r="4.3" fill="#000"/>
<circle cx="769.38" cy="312.02" r="4.3" fill="#000"/>
<circle cx="761.48" cy="310.25" r="4.3" fill="#000"/>
<circle cx="787.59" cy="304.81" r="4.3" fill="#000"/>
<circle cx="808.04" cy="286.17" r="4.3" fill="#000"/>
<circle cx="776.86" cy="316.88" r="4.3" fill="#000"/>
<circle cx="811.57" cy="287.82" r="4.3" fill="#000"/>
<circle cx="774.22" cy="318.68" r="4.3" fill="#000"/>
<circle cx="771.15" cy="318.31" r="4.3" fill="#000"/>
<circle cx="789.65" cy="308.43" r="4.3" fill="#000"/>
<circle cx="772.89" cy="319.24" r="4.3" fill="#000"/>
<circle cx="802.99" cy="267.42" r="4.3" fill="#000"/>
<circle cx="779.17" cy="317.89" r="4.3" fill="#000"/>
<circle cx="770.18" cy="317.65" r="4.3" fill="#000"/>
<circle cx="797.61" cy="286.42" r="4.3" fill="#000"/>
<circle cx="753.11" cy="297.27" r="4.3" fill="#000"/>
<circle cx="784.74" cy="313" r="4.3" fill="#000"/>
<circle cx="793.51" cy="294.15" r="4.3" fill="#000"/>
<circle cx="794.98" cy="299.77" r="4.3" fill="#000"/>
<circle cx="781.56" cy="311.21" r="4.3" fill="#000"/>
<circle cx="772.25" cy="318.77" r="4.3" fill="#000"/>
<circle cx="755.45" cy="286.69" r="4.3" fill="#000"/>
<circle cx="777.4" cy="310.45" r="4.3" fill="#000"/>
<circle cx="768.26" cy="304.64" r="4.3" fill="#000"/>
<circle cx="763.15" cy="311.95" r="4.3" fill="#000"/>
<circle cx="789.03" cy="300.3" r="4.3" fill="#000"/>
<circle cx="772.48" cy="318.15" r="4.3" fill="#000"/>
<circle cx="815.16" cy="269.23" r="4.3" fill="#000"/>
<circle cx="799.95" cy="245.52" r="4.3" fill="#000"/>
<circle cx="773.46" cy="318.66" r="4.3" fill="#000"/>
<circle cx="793.46" cy="305.48" r="4.3" fill="#000"/>
<circle cx="737.98" cy="260.4" r="4.3" fill="#000"/>
<circle cx="790.35" cy="245.92" r="4.3" fill="#000"/>
<circle cx="764.26" cy="297.77" r="4.3" fill="#000"/>
<circle cx="777.95" cy="315.45" r="4.3" fill="#000"/>
<circle cx="790.43" cy="306.24" r="4.3" fill="#000"/>
<circle cx="808.43" cy="294.84" r="4.3" fill="#000"/>
<circle cx="750.11" cy="275.57" r="4.3" fill="#000"/>
<circle cx="755.33" cy="273.64" r="4.3" fill="#000"/>
<circle cx="775.61" cy="317.16" r="4.3" fill="#000"/>
<circle cx="787.45" cy="271.16" r="4.3" fill="#000"/>
<circle cx="751.65" cy="291.29" r="4.3" fill="#000"/>
<circle cx="773.16" cy="319.29" r="4.3" fill="#000"/>
<circle cx="775.98" cy="315.54" r="4.3" fill="#000"/>
<circle cx="791.82" cy="301.32" r="4.3" fill="#000"/>
<circle cx="775.48" cy="316.41" r="4.3" fill="#000"/>
<circle cx="773.69" cy="317.49" r="4.3" fill="#000"/>
<circle cx="756.96" cy="300.95" r="4.3" fill="#000"/>
<circle cx="746.13" cy="286.27" r="4.3" fill="#000"/>
<circle cx="780.35" cy="303.24" r="4.3" fill="#000"/>
<circle cx="772.1" cy="318.26" r="4.3" fill="#000"/>
<circle cx="786.82" cy="308.94" r="4.3" fill="#000"/>
<circle cx="776.54" cy="314.48" r="4.3" fill="#000"/>
<circle cx="774.3" cy="318.29" r="4.3" fill="#000"/>
<circle cx="792.51" cy="299.69" r="4.3" fill="#000"/>
<circle cx="762.32" cy="292.07" r="4.3" fill="#000"/>
<circle cx="769.56" cy="314.48" r="4.3" fill="#000"/>
<circle cx="754.26" cy="294.31" r="4.3" fill="#000"/>
<circle cx="767.12" cy="313.93" r="4.3" fill="#000"/>
<circle cx="788.14" cy="296.98" r="4.3" fill="#000"/>
<circle cx="800.12" cy="284.47" r="4.3" fill="#000"/>
<circle cx="761.72" cy="308.91" r="4.3" fill="#000"/>
<circle cx="741.61" cy="117.15" r="4.3" fill="#000"/>
<circle cx="746.21" cy="117.15" r="4.3" fill="#000"/>
<circle cx="750.27" cy="118.51" r="4.3" fill="#000"/>
<circle cx="743.51" cy="133.93" r="4.3" fill="#000"/>
<circle cx="732.68" cy="177.22" r="4.3" fill="#000"/>
<circle cx="744.86" cy="188.04" r="4.3" fill="#000"/>
<circle cx="745.67" cy="198.86" r="4.3" fill="#000"/>
<circle cx="729.98" cy="226.73" r="4.3" fill="#000"/>
<circle cx="734.04" cy="229.44" r="4.3" fill="#000"/>
<circle cx="711.85" cy="247.56" r="4.3" fill="#000"/>
<circle cx="746.21" cy="246.21" r="4.3" fill="#000"/>
<circle cx="758.39" cy="247.56" r="4.3" fill="#000"/>
<circle cx="788.15" cy="247.56" r="4.3" fill="#000"/>
<circle cx="807.09" cy="244.32" r="4.3" fill="#000"/>
<circle cx="850.38" cy="248.92" r="4.3" fill="#000"/>
<circle cx="853.08" cy="252.16" r="4.3" fill="#000"/>
<circle cx="849.03" cy="273.81" r="4.3" fill="#000"/>
<circle cx="832.25" cy="274.62" r="4.3" fill="#000"/>
<circle cx="828.73" cy="278.68" r="4.3" fill="#000"/>
<circle cx="880.95" cy="282.2" r="4.3" fill="#000"/>
<circle cx="893.67" cy="290.85" r="4.3" fill="#000"/>
<circle cx="850.38" cy="290.31" r="4.3" fill="#000"/>
<circle cx="853.08" cy="301.14" r="4.3" fill="#000"/>
<circle cx="865.26" cy="303.84" r="4.3" fill="#000"/>
<circle cx="881.49" cy="302.49" r="4.3" fill="#000"/>
<circle cx="716.45" cy="308.44" r="4.3" fill="#000"/>
<circle cx="724.03" cy="308.44" r="4.3" fill="#000"/>
<circle cx="715.1" cy="278.14" r="4.3" fill="#000"/>
<circle cx="819.26" cy="312.5" r="4.3" fill="#000"/>
<circle cx="820.62" cy="315.21" r="4.3" fill="#000"/>
<circle cx="729.98" cy="274.62" r="4.3" fill="#000"/>
<circle cx="734.85" cy="278.68" r="4.3" fill="#000"/>
<circle cx="746.21" cy="259.2" r="4.3" fill="#000"/>
<circle cx="751.62" cy="265.15" r="4.3" fill="#000"/>
<circle cx="813.04" cy="265.15" r="4.3" fill="#000"/>
<circle cx="804.38" cy="254.33" r="4.3" fill="#000"/>
<circle cx="794.91" cy="261.09" r="4.3" fill="#000"/>
<circle cx="788.15" cy="266.5" r="4.3" fill="#000"/>
<circle cx="804.38" cy="267.86" r="4.3" fill="#000"/>
<circle cx="774.62" cy="289.5" r="4.3" fill="#000"/>
<circle cx="827.38" cy="301.68" r="4.3" fill="#000"/>
<circle cx="797.62" cy="270.56" r="4.3" fill="#000"/>
<circle cx="781.39" cy="273.27" r="4.3" fill="#000"/>
<circle cx="792.21" cy="278.68" r="4.3" fill="#000"/>
<circle cx="754.33" cy="275.97" r="4.3" fill="#000"/>
<circle cx="759.74" cy="270.56" r="4.3" fill="#000"/>
<circle cx="743.51" cy="284.09" r="4.3" fill="#000"/>
<circle cx="738.1" cy="300.32" r="4.3" fill="#000"/>
<circle cx="732.68" cy="300.32" r="4.3" fill="#000"/>
<circle cx="795.4" cy="268.03" r="4.3" fill="#000"/>
<circle cx="799.84" cy="268.97" r="4.3" fill="#000"/>
<circle cx="804.38" cy="268.22" r="4.3" fill="#000"/>
<circle cx="793" cy="270.96" r="4.3" fill="#000"/>
<circle cx="796.77" cy="271.84" r="4.3" fill="#000"/>
<circle cx="801.27" cy="271.01" r="4.3" fill="#000"/>
<circle cx="787.77" cy="276.06" r="4.3" fill="#000"/>
<circle cx="790.43" cy="275.87" r="4.3" fill="#000"/>
<circle cx="795.6" cy="275.98" r="4.3" fill="#000"/>
<circle cx="801.29" cy="276.8" r="4.3" fill="#000"/>
<circle cx="750.19" cy="281.21" r="4.3" fill="#000"/>
<circle cx="753.98" cy="283.05" r="4.3" fill="#000"/>
<circle cx="759.02" cy="280.95" r="4.3" fill="#000"/>
<circle cx="786.73" cy="281.6" r="4.3" fill="#000"/>
<circle cx="790.79" cy="281.94" r="4.3" fill="#000"/>
<circle cx="795.08" cy="280.94" r="4.3" fill="#000"/>
<circle cx="800.8" cy="283.09" r="4.3" fill="#000"/>
<circle cx="804.55" cy="282.49" r="4.3" fill="#000"/>
<circle cx="744.93" cy="287.9" r="4.3" fill="#000"/>
<circle cx="749.83" cy="284.81" r="4.3" fill="#000"/>
<circle cx="754.45" cy="287.3" r="4.3" fill="#000"/>
<circle cx="759.39" cy="286.37" r="4.3" fill="#000"/>
<circle cx="783.73" cy="287.49" r="4.3" fill="#000"/>
<circle cx="786.36" cy="285.49" r="4.3" fill="#000"/>
<circle cx="791.72" cy="285.58" r="4.3" fill="#000"/>
<circle cx="796.25" cy="286.97" r="4.3" fill="#000"/>
<circle cx="802.61" cy="286.66" r="4.3" fill="#000"/>
<circle cx="807" cy="285.04" r="4.3" fill="#000"/>
<circle cx="810.2" cy="288.03" r="4.3" fill="#000"/>
<circle cx="740.22" cy="289.88" r="4.3" fill="#000"/>
<circle cx="743.79" cy="290.22" r="4.3" fill="#000"/>
<circle cx="749.76" cy="291.71" r="4.3" fill="#000"/>
<circle cx="753.72" cy="291.19" r="4.3" fill="#000"/>
<circle cx="757.37" cy="291.25" r="4.3" fill="#000"/>
<circle cx="782.97" cy="290.79" r="4.3" fill="#000"/>
<circle cx="788.67" cy="292.05" r="4.3" fill="#000"/>
<circle cx="792" cy="289.93" r="4.3" fill="#000"/>
<circle cx="796.3" cy="289.55" r="4.3" fill="#000"/>
<circle cx="801.54" cy="292.37" r="4.3" fill="#000"/>
<circle cx="804.89" cy="291.14" r="4.3" fill="#000"/>
<circle cx="810.62" cy="290.8" r="4.3" fill="#000"/>
<circle cx="740.54" cy="296.36" r="4.3" fill="#000"/>
<circle cx="745.33" cy="297.01" r="4.3" fill="#000"/>
<circle cx="748.28" cy="296.24" r="4.3" fill="#000"/>
<circle cx="753.6" cy="296.39" r="4.3" fill="#000"/>
<circle cx="760.23" cy="296.29" r="4.3" fill="#000"/>
<circle cx="761.76" cy="295.72" r="4.3" fill="#000"/>
<circle cx="783.06" cy="296.19" r="4.3" fill="#000"/>
<circle cx="788.37" cy="297.11" r="4.3" fill="#000"/>
<circle cx="790.44" cy="296.89" r="4.3" fill="#000"/>
<circle cx="797.37" cy="294.85" r="4.3" fill="#000"/>
<circle cx="802.03" cy="296.13" r="4.3" fill="#000"/>
<circle cx="804.93" cy="296.85" r="4.3" fill="#000"/>
<circle cx="809.48" cy="296.21" r="4.3" fill="#000"/>
<circle cx="815.19" cy="295.02" r="4.3" fill="#000"/>
<circle cx="744.41" cy="301.69" r="4.3" fill="#000"/>
<circle cx="749.71" cy="301.41" r="4.3" fill="#000"/>
<circle cx="753.87" cy="301.15" r="4.3" fill="#000"/>
<circle cx="758.1" cy="299.8" r="4.3" fill="#000"/>
<circle cx="763.39" cy="299.01" r="4.3" fill="#000"/>
<circle cx="766.72" cy="301.41" r="4.3" fill="#000"/>
<circle cx="778.51" cy="300.25" r="4.3" fill="#000"/>
<circle cx="782.88" cy="301.52" r="4.3" fill="#000"/>
<circle cx="788.24" cy="299.36" r="4.3" fill="#000"/>
<circle cx="790.64" cy="300.18" r="4.3" fill="#000"/>
<circle cx="796.37" cy="299.89" r="4.3" fill="#000"/>
<circle cx="799.6" cy="300.76" r="4.3" fill="#000"/>
<circle cx="807.5" cy="300.13" r="4.3" fill="#000"/>
<circle cx="810.81" cy="300.18" r="4.3" fill="#000"/>
<circle cx="815.22" cy="301.8" r="4.3" fill="#000"/>
<circle cx="749.67" cy="306.28" r="4.3" fill="#000"/>
<circle cx="754.43" cy="304.95" r="4.3" fill="#000"/>
<circle cx="759.78" cy="303.95" r="4.3" fill="#000"/>
<circle cx="763.82" cy="304.94" r="4.3" fill="#000"/>
<circle cx="768.21" cy="306.46" r="4.3" fill="#000"/>
<circle cx="773.83" cy="305.73" r="4.3" fill="#000"/>
<circle cx="776.93" cy="304.42" r="4.3" fill="#000"/>
<circle cx="782.16" cy="304.41" r="4.3" fill="#000"/>
<circle cx="786.29" cy="306.82" r="4.3" fill="#000"/>
<circle cx="790.48" cy="306.35" r="4.3" fill="#000"/>
<circle cx="796.09" cy="304.85" r="4.3" fill="#000"/>
<circle cx="800.62" cy="303.9" r="4.3" fill="#000"/>
<circle cx="805.81" cy="304.2" r="4.3" fill="#000"/>
<circle cx="810.49" cy="304.61" r="4.3" fill="#000"/>
<circle cx="754.9" cy="309.15" r="4.3" fill="#000"/>
<circle cx="759.67" cy="310.47" r="4.3" fill="#000"/>
<circle cx="763.05" cy="311.1" r="4.3" fill="#000"/>
<circle cx="767.59" cy="311.28" r="4.3" fill="#000"/>
<circle cx="774.25" cy="310.04" r="4.3" fill="#000"/>
<circle cx="778.2" cy="311.52" r="4.3" fill="#000"/>
<circle cx="783.1" cy="310.86" r="4.3" fill="#000"/>
<circle cx="766.95" cy="314.15" r="4.3" fill="#000"/>
<circle cx="774.25" cy="313.42" r="4.3" fill="#000"/>
<circle cx="776.39" cy="313.78" r="4.3" fill="#000"/>
<circle cx="781.48" cy="314.5" r="4.3" fill="#000"/>
<circle cx="624.46" cy="178.57" r="4.3" fill="#000"/>
<circle cx="624.46" cy="178.57" r="1.6" fill="#e8182c"/>
<circle cx="742.69" cy="292.21" r="1.6" fill="#e8182c"/>
<line x1="607.4" y1="69.3" x2="607.4" y2="320.8" stroke="#000" stroke-width="3"/>
<line x1="605.9" y1="319.3" x2="940.4" y2="319.3" stroke="#000" stroke-width="3"/>
<line x1="600.4" y1="319.3" x2="607.4" y2="319.3" stroke="#000" stroke-width="3"/>
<text x="592.4" y="327.04" font-size="21.5" text-anchor="end">0</text>
<line x1="600.4" y1="236.3" x2="607.4" y2="236.3" stroke="#000" stroke-width="3"/>
<text x="592.4" y="244.04" font-size="21.5" text-anchor="end">2</text>
<line x1="600.4" y1="153.3" x2="607.4" y2="153.3" stroke="#000" stroke-width="3"/>
<text x="592.4" y="161.04" font-size="21.5" text-anchor="end">4</text>
<line x1="600.4" y1="70.3" x2="607.4" y2="70.3" stroke="#000" stroke-width="3"/>
<text x="592.4" y="78.04" font-size="21.5" text-anchor="end">6</text>
<line x1="607.4" y1="319.3" x2="607.4" y2="326.3" stroke="#000" stroke-width="3"/>
<text x="607.4" y="344.2" font-size="21.5" text-anchor="middle">-4</text>
<line x1="690.27" y1="319.3" x2="690.27" y2="326.3" stroke="#000" stroke-width="3"/>
<text x="690.27" y="344.2" font-size="21.5" text-anchor="middle">-2</text>
<line x1="773.15" y1="319.3" x2="773.15" y2="326.3" stroke="#000" stroke-width="3"/>
<text x="773.15" y="344.2" font-size="21.5" text-anchor="middle">0</text>
<line x1="856.02" y1="319.3" x2="856.02" y2="326.3" stroke="#000" stroke-width="3"/>
<text x="856.02" y="344.2" font-size="21.5" text-anchor="middle">2</text>
<line x1="938.9" y1="319.3" x2="938.9" y2="326.3" stroke="#000" stroke-width="3"/>
<text x="938.9" y="344.2" font-size="21.5" text-anchor="middle">4</text>
<text x="549.8" y="193.5" font-size="20.8" text-anchor="middle" transform="rotate(-90 549.8 193.5)">-log<tspan font-size="13.73" dy="3.54">10</tspan><tspan dy="-3.54">(P)</tspan></text>
<text x="661" y="369.3" font-size="20.6" textLength="219" lengthAdjust="spacingAndGlyphs">log <tspan font-size="14.4" dy="4">2 </tspan><tspan dy="-4">(FC of MR/Control)</tspan></text>
<text x="615" y="162.3" font-size="20.79" textLength="111" lengthAdjust="spacingAndGlyphs">Hypotaurine</text>
<text x="590.6" y="295.7" font-size="21.09" textLength="147.4" lengthAdjust="spacingAndGlyphs">L-homocysteine</text>
<text x="1288.8" y="51" font-size="24.7" text-anchor="middle" textLength="53" lengthAdjust="spacingAndGlyphs">Liver</text>
<circle cx="1325.7" cy="299.51" r="4.9" fill="#000"/>
<circle cx="1312.88" cy="308.06" r="4.9" fill="#000"/>
<circle cx="1321.28" cy="299.18" r="4.9" fill="#000"/>
<circle cx="1323.98" cy="299.06" r="4.9" fill="#000"/>
<circle cx="1338.61" cy="207.66" r="4.9" fill="#000"/>
<circle cx="1331.87" cy="197.06" r="4.9" fill="#000"/>
<circle cx="1319.94" cy="303.02" r="4.9" fill="#000"/>
<circle cx="1307.87" cy="243.31" r="4.9" fill="#000"/>
<circle cx="1304.19" cy="262.66" r="4.9" fill="#000"/>
<circle cx="1322.37" cy="294.33" r="4.9" fill="#000"/>
<circle cx="1325.39" cy="249.75" r="4.9" fill="#000"/>
<circle cx="1323.53" cy="295.92" r="4.9" fill="#000"/>
<circle cx="1319.52" cy="292.02" r="4.9" fill="#000"/>
<circle cx="1318.23" cy="301.92" r="4.9" fill="#000"/>
<circle cx="1306.78" cy="296.95" r="4.9" fill="#000"/>
<circle cx="1297" cy="263.33" r="4.9" fill="#000"/>
<circle cx="1328.62" cy="262.2" r="4.9" fill="#000"/>
<circle cx="1330.26" cy="277.46" r="4.9" fill="#000"/>
<circle cx="1337.59" cy="200.22" r="4.9" fill="#000"/>
<circle cx="1317.12" cy="312.22" r="4.9" fill="#000"/>
<circle cx="1312.19" cy="301.9" r="4.9" fill="#000"/>
<circle cx="1314.7" cy="311.18" r="4.9" fill="#000"/>
<circle cx="1312.61" cy="280.38" r="4.9" fill="#000"/>
<circle cx="1320.98" cy="298.22" r="4.9" fill="#000"/>
<circle cx="1322.58" cy="288.87" r="4.9" fill="#000"/>
<circle cx="1323.53" cy="297.01" r="4.9" fill="#000"/>
<circle cx="1343.58" cy="240.28" r="4.9" fill="#000"/>
<circle cx="1318.48" cy="309.89" r="4.9" fill="#000"/>
<circle cx="1318.7" cy="311.52" r="4.9" fill="#000"/>
<circle cx="1327.14" cy="273.47" r="4.9" fill="#000"/>
<circle cx="1321.67" cy="298.24" r="4.9" fill="#000"/>
<circle cx="1322.31" cy="287.26" r="4.9" fill="#000"/>
<circle cx="1322.69" cy="299.6" r="4.9" fill="#000"/>
<circle cx="1321.96" cy="297.61" r="4.9" fill="#000"/>
<circle cx="1328.68" cy="290.06" r="4.9" fill="#000"/>
<circle cx="1318.92" cy="306.89" r="4.9" fill="#000"/>
<circle cx="1312.2" cy="310.23" r="4.9" fill="#000"/>
<circle cx="1334.22" cy="202.6" r="4.9" fill="#000"/>
<circle cx="1309.84" cy="297.23" r="4.9" fill="#000"/>
<circle cx="1314.12" cy="303.52" r="4.9" fill="#000"/>
<circle cx="1308.32" cy="279.49" r="4.9" fill="#000"/>
<circle cx="1306.4" cy="291.26" r="4.9" fill="#000"/>
<circle cx="1325.34" cy="296.8" r="4.9" fill="#000"/>
<circle cx="1322.71" cy="295.86" r="4.9" fill="#000"/>
<circle cx="1310.34" cy="301.45" r="4.9" fill="#000"/>
<circle cx="1341.67" cy="201" r="4.9" fill="#000"/>
<circle cx="1321.55" cy="298.17" r="4.9" fill="#000"/>
<circle cx="1314.76" cy="307.43" r="4.9" fill="#000"/>
<circle cx="1319.51" cy="302.42" r="4.9" fill="#000"/>
<circle cx="1319.05" cy="299.99" r="4.9" fill="#000"/>
<circle cx="1328.9" cy="271.48" r="4.9" fill="#000"/>
<circle cx="1310.11" cy="237.01" r="4.9" fill="#000"/>
<circle cx="1324.42" cy="300.9" r="4.9" fill="#000"/>
<circle cx="1315.35" cy="310.29" r="4.9" fill="#000"/>
<circle cx="1317.42" cy="312.44" r="4.9" fill="#000"/>
<circle cx="1313.07" cy="308.38" r="4.9" fill="#000"/>
<circle cx="1320.73" cy="306.99" r="4.9" fill="#000"/>
<circle cx="1324.93" cy="284.18" r="4.9" fill="#000"/>
<circle cx="1306.04" cy="259.69" r="4.9" fill="#000"/>
<circle cx="1321.26" cy="304.88" r="4.9" fill="#000"/>
<circle cx="1327.58" cy="255.6" r="4.9" fill="#000"/>
<circle cx="1329.64" cy="287.87" r="4.9" fill="#000"/>
<circle cx="1322.66" cy="291.61" r="4.9" fill="#000"/>
<circle cx="1319.6" cy="308.74" r="4.9" fill="#000"/>
<circle cx="1331.25" cy="207.94" r="4.9" fill="#000"/>
<circle cx="1329.21" cy="252.07" r="4.9" fill="#000"/>
<circle cx="1315.13" cy="311.99" r="4.9" fill="#000"/>
<circle cx="1325.51" cy="292.7" r="4.9" fill="#000"/>
<circle cx="1316.53" cy="313.81" r="4.9" fill="#000"/>
<circle cx="1328.62" cy="286.83" r="4.9" fill="#000"/>
<circle cx="1328.5" cy="240.47" r="4.9" fill="#000"/>
<circle cx="1331.65" cy="274.25" r="4.9" fill="#000"/>
<circle cx="1327.23" cy="255.77" r="4.9" fill="#000"/>
<circle cx="1317.13" cy="313.02" r="4.9" fill="#000"/>
<circle cx="1313.29" cy="307.34" r="4.9" fill="#000"/>
<circle cx="1330.91" cy="248.69" r="4.9" fill="#000"/>
<circle cx="1296.48" cy="267.2" r="4.9" fill="#000"/>
<circle cx="1332.47" cy="235.99" r="4.9" fill="#000"/>
<circle cx="1323.85" cy="243.29" r="4.9" fill="#000"/>
<circle cx="1316.66" cy="313.57" r="4.9" fill="#000"/>
<circle cx="1321.75" cy="304.9" r="4.9" fill="#000"/>
<circle cx="1325.18" cy="292.14" r="4.9" fill="#000"/>
<circle cx="1315.79" cy="311.71" r="4.9" fill="#000"/>
<circle cx="1325.92" cy="278.27" r="4.9" fill="#000"/>
<circle cx="1329.5" cy="284.3" r="4.9" fill="#000"/>
<circle cx="1316.58" cy="313.84" r="4.9" fill="#000"/>
<circle cx="1299.19" cy="280.91" r="4.9" fill="#000"/>
<circle cx="1315.82" cy="311.62" r="4.9" fill="#000"/>
<circle cx="1324.13" cy="306.02" r="4.9" fill="#000"/>
<circle cx="1302.92" cy="270.79" r="4.9" fill="#000"/>
<circle cx="1319.57" cy="308.04" r="4.9" fill="#000"/>
<circle cx="1302.03" cy="241.88" r="4.9" fill="#000"/>
<circle cx="1335.03" cy="284.71" r="4.9" fill="#000"/>
<circle cx="1325.2" cy="285.03" r="4.9" fill="#000"/>
<circle cx="1307.32" cy="239.95" r="4.9" fill="#000"/>
<circle cx="1333.98" cy="252.62" r="4.9" fill="#000"/>
<circle cx="1322.74" cy="304.63" r="4.9" fill="#000"/>
<circle cx="1312" cy="304.53" r="4.9" fill="#000"/>
<circle cx="1324.65" cy="288.22" r="4.9" fill="#000"/>
<circle cx="1330.65" cy="266.71" r="4.9" fill="#000"/>
<circle cx="1327.86" cy="280.98" r="4.9" fill="#000"/>
<circle cx="1337.17" cy="252.17" r="4.9" fill="#000"/>
<circle cx="1320.15" cy="307.66" r="4.9" fill="#000"/>
<circle cx="1313.8" cy="309.96" r="4.9" fill="#000"/>
<circle cx="1314.4" cy="307.13" r="4.9" fill="#000"/>
<circle cx="1328.56" cy="288.43" r="4.9" fill="#000"/>
<circle cx="1335.86" cy="267.23" r="4.9" fill="#000"/>
<circle cx="1321.93" cy="288.41" r="4.9" fill="#000"/>
<circle cx="1331.39" cy="267.06" r="4.9" fill="#000"/>
<circle cx="1312.61" cy="307.54" r="4.9" fill="#000"/>
<circle cx="1327.01" cy="249.84" r="4.9" fill="#000"/>
<circle cx="1313.55" cy="307.64" r="4.9" fill="#000"/>
<circle cx="1305.05" cy="275.04" r="4.9" fill="#000"/>
<circle cx="1307.63" cy="295.36" r="4.9" fill="#000"/>
<circle cx="1315.43" cy="311.44" r="4.9" fill="#000"/>
<circle cx="1305.74" cy="268.6" r="4.9" fill="#000"/>
<circle cx="1336.36" cy="249.58" r="4.9" fill="#000"/>
<circle cx="1301.54" cy="281.44" r="4.9" fill="#000"/>
<circle cx="1335.67" cy="205.51" r="4.9" fill="#000"/>
<circle cx="1323.45" cy="302.81" r="4.9" fill="#000"/>
<circle cx="1340.9" cy="263.23" r="4.9" fill="#000"/>
<circle cx="1310.84" cy="268.04" r="4.9" fill="#000"/>
<circle cx="1322.88" cy="275.44" r="4.9" fill="#000"/>
<circle cx="1337.79" cy="257.23" r="4.9" fill="#000"/>
<circle cx="1331.48" cy="257.16" r="4.9" fill="#000"/>
<circle cx="1325.09" cy="282.16" r="4.9" fill="#000"/>
<circle cx="1329.31" cy="274.7" r="4.9" fill="#000"/>
<circle cx="1330.26" cy="246.61" r="4.9" fill="#000"/>
<circle cx="1341.95" cy="261.8" r="4.9" fill="#000"/>
<circle cx="1313.53" cy="295.11" r="4.9" fill="#000"/>
<circle cx="1325.55" cy="280.67" r="4.9" fill="#000"/>
<circle cx="1326.15" cy="248.02" r="4.9" fill="#000"/>
<circle cx="1323.23" cy="288.56" r="4.9" fill="#000"/>
<circle cx="1324.33" cy="208.72" r="4.9" fill="#000"/>
<circle cx="1334.78" cy="252.07" r="4.9" fill="#000"/>
<circle cx="1302.94" cy="231.65" r="4.9" fill="#000"/>
<circle cx="1324.91" cy="295.8" r="4.9" fill="#000"/>
<circle cx="1324.52" cy="302.51" r="4.9" fill="#000"/>
<circle cx="1324.8" cy="267.22" r="4.9" fill="#000"/>
<circle cx="1316.07" cy="313.08" r="4.9" fill="#000"/>
<circle cx="1316.86" cy="313.45" r="4.9" fill="#000"/>
<circle cx="1337.28" cy="250.89" r="4.9" fill="#000"/>
<circle cx="1337.24" cy="207.64" r="4.9" fill="#000"/>
<circle cx="1324.4" cy="280.07" r="4.9" fill="#000"/>
<circle cx="1316.89" cy="312.37" r="4.9" fill="#000"/>
<circle cx="1317.58" cy="309.97" r="4.9" fill="#000"/>
<circle cx="1306.68" cy="284.26" r="4.9" fill="#000"/>
<circle cx="1330.2" cy="250.81" r="4.9" fill="#000"/>
<circle cx="1341.63" cy="247.82" r="4.9" fill="#000"/>
<circle cx="1305.87" cy="288.12" r="4.9" fill="#000"/>
<circle cx="1328.37" cy="287.34" r="4.9" fill="#000"/>
<circle cx="1329.73" cy="291.47" r="4.9" fill="#000"/>
<circle cx="1320.92" cy="305.65" r="4.9" fill="#000"/>
<circle cx="1313.33" cy="284.73" r="4.9" fill="#000"/>
<circle cx="1318.97" cy="311.01" r="4.9" fill="#000"/>
<circle cx="1303.57" cy="288.51" r="4.9" fill="#000"/>
<circle cx="1316.03" cy="312.41" r="4.9" fill="#000"/>
<circle cx="1325.07" cy="290.46" r="4.9" fill="#000"/>
<circle cx="1312.34" cy="303.37" r="4.9" fill="#000"/>
<circle cx="1330.07" cy="284.2" r="4.9" fill="#000"/>
<circle cx="1315.09" cy="312.2" r="4.9" fill="#000"/>
<circle cx="1348.36" cy="277.81" r="4.9" fill="#000"/>
<circle cx="1307.76" cy="288.82" r="4.9" fill="#000"/>
<circle cx="1301.28" cy="267.33" r="4.9" fill="#000"/>
<circle cx="1304.69" cy="276.94" r="4.9" fill="#000"/>
<circle cx="1332.37" cy="205.93" r="4.9" fill="#000"/>
<circle cx="1321.25" cy="258.2" r="4.9" fill="#000"/>
<circle cx="1315.68" cy="311.97" r="4.9" fill="#000"/>
<circle cx="1326.42" cy="300.73" r="4.9" fill="#000"/>
<circle cx="1310.26" cy="241.84" r="4.9" fill="#000"/>
<circle cx="1330.17" cy="239.51" r="4.9" fill="#000"/>
<circle cx="1328.1" cy="288.02" r="4.9" fill="#000"/>
<circle cx="1332.03" cy="289.08" r="4.9" fill="#000"/>
<circle cx="1323.73" cy="306.53" r="4.9" fill="#000"/>
<circle cx="1319.43" cy="309.4" r="4.9" fill="#000"/>
<circle cx="1323.82" cy="286.32" r="4.9" fill="#000"/>
<circle cx="1344.31" cy="242.02" r="4.9" fill="#000"/>
<circle cx="1321.48" cy="305.53" r="4.9" fill="#000"/>
<circle cx="1308.1" cy="273.09" r="4.9" fill="#000"/>
<circle cx="1335.8" cy="232.13" r="4.9" fill="#000"/>
<circle cx="1311.24" cy="302.27" r="4.9" fill="#000"/>
<circle cx="1328.63" cy="294.07" r="4.9" fill="#000"/>
<circle cx="1336.48" cy="206.16" r="4.9" fill="#000"/>
<circle cx="1318.47" cy="308.96" r="4.9" fill="#000"/>
<circle cx="1321.65" cy="307.31" r="4.9" fill="#000"/>
<circle cx="1344.37" cy="255.45" r="4.9" fill="#000"/>
<circle cx="1329.26" cy="260.57" r="4.9" fill="#000"/>
<circle cx="1335.81" cy="206.38" r="4.9" fill="#000"/>
<circle cx="1327.47" cy="202.02" r="4.9" fill="#000"/>
<circle cx="1319.23" cy="310.59" r="4.9" fill="#000"/>
<circle cx="1311.69" cy="283.03" r="4.9" fill="#000"/>
<circle cx="1322.47" cy="306.88" r="4.9" fill="#000"/>
<circle cx="1318.55" cy="308.8" r="4.9" fill="#000"/>
<circle cx="1312.88" cy="304.47" r="4.9" fill="#000"/>
<circle cx="1320.77" cy="288.73" r="4.9" fill="#000"/>
<circle cx="1317.28" cy="312.05" r="4.9" fill="#000"/>
<circle cx="1313.76" cy="301.35" r="4.9" fill="#000"/>
<circle cx="1335.83" cy="288.57" r="4.9" fill="#000"/>
<circle cx="1320.93" cy="299.25" r="4.9" fill="#000"/>
<circle cx="1330.8" cy="251.54" r="4.9" fill="#000"/>
<circle cx="1314.74" cy="311.61" r="4.9" fill="#000"/>
<circle cx="1311.5" cy="293.09" r="4.9" fill="#000"/>
<circle cx="1316.22" cy="312.71" r="4.9" fill="#000"/>
<circle cx="1321.54" cy="303.82" r="4.9" fill="#000"/>
<circle cx="1342.54" cy="229.61" r="4.9" fill="#000"/>
<circle cx="1324.96" cy="257.46" r="4.9" fill="#000"/>
<circle cx="1323.75" cy="276.64" r="4.9" fill="#000"/>
<circle cx="1323.3" cy="302.31" r="4.9" fill="#000"/>
<circle cx="1327.07" cy="273.95" r="4.9" fill="#000"/>
<circle cx="1315.11" cy="310.38" r="4.9" fill="#000"/>
<circle cx="1325.91" cy="260.53" r="4.9" fill="#000"/>
<circle cx="1318.2" cy="311.31" r="4.9" fill="#000"/>
<circle cx="1303.76" cy="252.41" r="4.9" fill="#000"/>
<circle cx="1309.93" cy="305.4" r="4.9" fill="#000"/>
<circle cx="1332.08" cy="270.24" r="4.9" fill="#000"/>
<circle cx="1329.47" cy="274.92" r="4.9" fill="#000"/>
<circle cx="1328.17" cy="197.36" r="4.9" fill="#000"/>
<circle cx="1327.74" cy="287.18" r="4.9" fill="#000"/>
<circle cx="1306.67" cy="293.85" r="4.9" fill="#000"/>
<circle cx="1318.63" cy="308.04" r="4.9" fill="#000"/>
<circle cx="1317.93" cy="311.2" r="4.9" fill="#000"/>
<circle cx="1308.56" cy="285.96" r="4.9" fill="#000"/>
<circle cx="1327.33" cy="290.29" r="4.9" fill="#000"/>
<circle cx="1325.13" cy="283.01" r="4.9" fill="#000"/>
<circle cx="1336.19" cy="206.22" r="4.9" fill="#000"/>
<circle cx="1308.88" cy="284" r="4.9" fill="#000"/>
<circle cx="1320.43" cy="298.58" r="4.9" fill="#000"/>
<circle cx="1308.33" cy="268.43" r="4.9" fill="#000"/>
<circle cx="1316.88" cy="312.79" r="4.9" fill="#000"/>
<circle cx="1310.79" cy="296.03" r="4.9" fill="#000"/>
<circle cx="1329.86" cy="289.71" r="4.9" fill="#000"/>
<circle cx="1338.85" cy="226.59" r="4.9" fill="#000"/>
<circle cx="1316.28" cy="312.94" r="4.9" fill="#000"/>
<circle cx="1329.78" cy="253.83" r="4.9" fill="#000"/>
<circle cx="1329.12" cy="202.53" r="4.9" fill="#000"/>
<circle cx="1335.74" cy="245.55" r="4.9" fill="#000"/>
<circle cx="1325.04" cy="292.92" r="4.9" fill="#000"/>
<circle cx="1313.31" cy="310.47" r="4.9" fill="#000"/>
<circle cx="1322.23" cy="292.8" r="4.9" fill="#000"/>
<circle cx="1323.78" cy="277.04" r="4.9" fill="#000"/>
<circle cx="1325.14" cy="259.39" r="4.9" fill="#000"/>
<circle cx="1327.38" cy="281.33" r="4.9" fill="#000"/>
<circle cx="1331.9" cy="265.18" r="4.9" fill="#000"/>
<circle cx="1332.31" cy="280.76" r="4.9" fill="#000"/>
<circle cx="1319.66" cy="299.35" r="4.9" fill="#000"/>
<circle cx="1308.55" cy="297.16" r="4.9" fill="#000"/>
<circle cx="1319.82" cy="308.95" r="4.9" fill="#000"/>
<circle cx="1325.09" cy="264.52" r="4.9" fill="#000"/>
<circle cx="1335.84" cy="289.24" r="4.9" fill="#000"/>
<circle cx="1322.26" cy="286.65" r="4.9" fill="#000"/>
<circle cx="1313.95" cy="309.66" r="4.9" fill="#000"/>
<circle cx="1317.21" cy="312.11" r="4.9" fill="#000"/>
<circle cx="1333.08" cy="247.72" r="4.9" fill="#000"/>
<circle cx="1325.96" cy="271.76" r="4.9" fill="#000"/>
<circle cx="1316.54" cy="313.84" r="4.9" fill="#000"/>
<circle cx="1326.46" cy="291.04" r="4.9" fill="#000"/>
<circle cx="1318.28" cy="310.4" r="4.9" fill="#000"/>
<circle cx="1330.47" cy="264.74" r="4.9" fill="#000"/>
<circle cx="1331.65" cy="282.93" r="4.9" fill="#000"/>
<circle cx="1327" cy="280.75" r="4.9" fill="#000"/>
<circle cx="1312.4" cy="304.57" r="4.9" fill="#000"/>
<circle cx="1323.35" cy="290.17" r="4.9" fill="#000"/>
<circle cx="1314.21" cy="309.48" r="4.9" fill="#000"/>
<circle cx="1325.6" cy="291.63" r="4.9" fill="#000"/>
<circle cx="1317.12" cy="312.69" r="4.9" fill="#000"/>
<circle cx="1316.24" cy="312.91" r="4.9" fill="#000"/>
<circle cx="1327.43" cy="281.97" r="4.9" fill="#000"/>
<circle cx="1323.12" cy="283.8" r="4.9" fill="#000"/>
<circle cx="1327.82" cy="235.7" r="4.9" fill="#000"/>
<circle cx="1334.16" cy="220.71" r="4.9" fill="#000"/>
<circle cx="1324.52" cy="298.24" r="4.9" fill="#000"/>
<circle cx="1321.41" cy="303.01" r="4.9" fill="#000"/>
<circle cx="1310.93" cy="246.42" r="4.9" fill="#000"/>
<circle cx="1323.63" cy="292.44" r="4.9" fill="#000"/>
<circle cx="1329.87" cy="267.7" r="4.9" fill="#000"/>
<circle cx="1326.16" cy="286.95" r="4.9" fill="#000"/>
<circle cx="1341.7" cy="223.17" r="4.9" fill="#000"/>
<circle cx="1331.3" cy="240.65" r="4.9" fill="#000"/>
<circle cx="1327.59" cy="274.13" r="4.9" fill="#000"/>
<circle cx="1318.76" cy="310.99" r="4.9" fill="#000"/>
<circle cx="1329.58" cy="262.23" r="4.9" fill="#000"/>
<circle cx="1317.96" cy="312.52" r="4.9" fill="#000"/>
<circle cx="1333.86" cy="267.42" r="4.9" fill="#000"/>
<circle cx="1315" cy="311.87" r="4.9" fill="#000"/>
<circle cx="1331.5" cy="245.14" r="4.9" fill="#000"/>
<circle cx="1323.22" cy="262.52" r="4.9" fill="#000"/>
<circle cx="1335.04" cy="206.41" r="4.9" fill="#000"/>
<circle cx="1316.76" cy="313.53" r="4.9" fill="#000"/>
<circle cx="1327.15" cy="240.71" r="4.9" fill="#000"/>
<circle cx="1323.59" cy="299.03" r="4.9" fill="#000"/>
<circle cx="1321.39" cy="286.08" r="4.9" fill="#000"/>
<circle cx="1321.49" cy="291.01" r="4.9" fill="#000"/>
<circle cx="1317.32" cy="312.19" r="4.9" fill="#000"/>
<circle cx="1323.86" cy="289.34" r="4.9" fill="#000"/>
<circle cx="1303.9" cy="277.34" r="4.9" fill="#000"/>
<circle cx="1322.03" cy="294.84" r="4.9" fill="#000"/>
<circle cx="1326.46" cy="302.82" r="4.9" fill="#000"/>
<circle cx="1308.46" cy="246.25" r="4.9" fill="#000"/>
<circle cx="1318.49" cy="310.76" r="4.9" fill="#000"/>
<circle cx="1335.87" cy="251.28" r="4.9" fill="#000"/>
<circle cx="1337.66" cy="73.59" r="4.9" fill="#000"/>
<circle cx="1317.1" cy="105.52" r="4.9" fill="#000"/>
<circle cx="1338.74" cy="123.11" r="4.9" fill="#000"/>
<circle cx="1296.27" cy="131.22" r="4.9" fill="#000"/>
<circle cx="1293.56" cy="138.53" r="4.9" fill="#000"/>
<circle cx="1270.56" cy="144.75" r="4.9" fill="#000"/>
<circle cx="1281.39" cy="140.69" r="4.9" fill="#000"/>
<circle cx="1282.74" cy="147.46" r="4.9" fill="#000"/>
<circle cx="1283.55" cy="152.06" r="4.9" fill="#000"/>
<circle cx="1287.34" cy="156.39" r="4.9" fill="#000"/>
<circle cx="1269.21" cy="165.58" r="4.9" fill="#000"/>
<circle cx="1294.91" cy="143.4" r="4.9" fill="#000"/>
<circle cx="1297.62" cy="173.16" r="4.9" fill="#000"/>
<circle cx="1288.15" cy="178.03" r="4.9" fill="#000"/>
<circle cx="1321.97" cy="164.5" r="4.9" fill="#000"/>
<circle cx="1330.09" cy="171.81" r="4.9" fill="#000"/>
<circle cx="1324.68" cy="175.32" r="4.9" fill="#000"/>
<circle cx="1349.03" cy="175.32" r="4.9" fill="#000"/>
<circle cx="1301.68" cy="189.39" r="4.9" fill="#000"/>
<circle cx="1284.09" cy="193.45" r="4.9" fill="#000"/>
<circle cx="1292.75" cy="199.68" r="4.9" fill="#000"/>
<circle cx="1303.03" cy="201.57" r="4.9" fill="#000"/>
<circle cx="1274.62" cy="215.1" r="4.9" fill="#000"/>
<circle cx="1285.44" cy="216.45" r="4.9" fill="#000"/>
<circle cx="1301.68" cy="215.1" r="4.9" fill="#000"/>
<circle cx="1275.97" cy="221.86" r="4.9" fill="#000"/>
<circle cx="1336.85" cy="198.86" r="4.9" fill="#000"/>
<circle cx="1343.61" cy="200.76" r="4.9" fill="#000"/>
<circle cx="1372.02" cy="201.57" r="4.9" fill="#000"/>
<circle cx="1413.96" cy="224.57" r="4.9" fill="#000"/>
<circle cx="1372.84" cy="231.87" r="4.9" fill="#000"/>
<circle cx="1349.03" cy="218.61" r="4.9" fill="#000"/>
<circle cx="1361.2" cy="286.26" r="4.9" fill="#000"/>
<circle cx="1277.33" cy="271.37" r="4.9" fill="#000"/>
<circle cx="1307.09" cy="225.92" r="4.9" fill="#000"/>
<circle cx="1299.78" cy="231.33" r="4.9" fill="#000"/>
<circle cx="1296.27" cy="238.1" r="4.9" fill="#000"/>
<circle cx="1293.56" cy="243.51" r="4.9" fill="#000"/>
<circle cx="1290.85" cy="248.92" r="4.9" fill="#000"/>
<circle cx="1294.91" cy="254.33" r="4.9" fill="#000"/>
<circle cx="1300.32" cy="248.38" r="4.9" fill="#000"/>
<circle cx="1305.74" cy="253.79" r="4.9" fill="#000"/>
<circle cx="1350.38" cy="243.51" r="4.9" fill="#000"/>
<circle cx="1350.38" cy="251.62" r="4.9" fill="#000"/>
<circle cx="1347.13" cy="259.74" r="4.9" fill="#000"/>
<circle cx="1343.07" cy="263.8" r="4.9" fill="#000"/>
<circle cx="1340.91" cy="270.56" r="4.9" fill="#000"/>
<circle cx="1332.79" cy="208.33" r="4.9" fill="#000"/>
<circle cx="1334.15" cy="216.45" r="4.9" fill="#000"/>
<circle cx="1331.44" cy="224.57" r="4.9" fill="#000"/>
<circle cx="1328.73" cy="232.68" r="4.9" fill="#000"/>
<circle cx="1338.2" cy="232.68" r="4.9" fill="#000"/>
<circle cx="1335.5" cy="238.1" r="4.9" fill="#000"/>
<circle cx="1335.52" cy="208.14" r="4.9" fill="#000"/>
<circle cx="1335.12" cy="215.52" r="4.9" fill="#000"/>
<circle cx="1332.98" cy="220.17" r="4.9" fill="#000"/>
<circle cx="1332.62" cy="224.2" r="4.9" fill="#000"/>
<circle cx="1339.57" cy="223.25" r="4.9" fill="#000"/>
<circle cx="1328.59" cy="230.39" r="4.9" fill="#000"/>
<circle cx="1335.42" cy="229.97" r="4.9" fill="#000"/>
<circle cx="1338.89" cy="230.77" r="4.9" fill="#000"/>
<circle cx="1328.87" cy="233.67" r="4.9" fill="#000"/>
<circle cx="1334.24" cy="235.2" r="4.9" fill="#000"/>
<circle cx="1327.86" cy="240.01" r="4.9" fill="#000"/>
<circle cx="1333.27" cy="241.08" r="4.9" fill="#000"/>
<circle cx="1329.12" cy="244.61" r="4.9" fill="#000"/>
<circle cx="1333.09" cy="245.48" r="4.9" fill="#000"/>
<circle cx="1340.41" cy="245.88" r="4.9" fill="#000"/>
<circle cx="1349.31" cy="246.68" r="4.9" fill="#000"/>
<circle cx="1329.53" cy="252.78" r="4.9" fill="#000"/>
<circle cx="1332.57" cy="250.66" r="4.9" fill="#000"/>
<circle cx="1340.31" cy="252.04" r="4.9" fill="#000"/>
<circle cx="1345.7" cy="250.92" r="4.9" fill="#000"/>
<circle cx="1348.53" cy="250.72" r="4.9" fill="#000"/>
<circle cx="1322.68" cy="256.55" r="4.9" fill="#000"/>
<circle cx="1329.96" cy="255.59" r="4.9" fill="#000"/>
<circle cx="1331.89" cy="258.56" r="4.9" fill="#000"/>
<circle cx="1340.58" cy="258.73" r="4.9" fill="#000"/>
<circle cx="1344.29" cy="258.59" r="4.9" fill="#000"/>
<circle cx="1322.18" cy="261.68" r="4.9" fill="#000"/>
<circle cx="1327.34" cy="260.65" r="4.9" fill="#000"/>
<circle cx="1334.09" cy="261.48" r="4.9" fill="#000"/>
<circle cx="1340.32" cy="260.56" r="4.9" fill="#000"/>
<circle cx="1321.74" cy="266.91" r="4.9" fill="#000"/>
<circle cx="1328.98" cy="267.76" r="4.9" fill="#000"/>
<circle cx="1333.43" cy="269.33" r="4.9" fill="#000"/>
<circle cx="1339.57" cy="267.07" r="4.9" fill="#000"/>
<circle cx="1321.74" cy="274.16" r="4.9" fill="#000"/>
<circle cx="1329.96" cy="274.21" r="4.9" fill="#000"/>
<circle cx="1334.98" cy="271.2" r="4.9" fill="#000"/>
<circle cx="1339.64" cy="274.43" r="4.9" fill="#000"/>
<circle cx="1321.3" cy="277.04" r="4.9" fill="#000"/>
<circle cx="1326.95" cy="276.82" r="4.9" fill="#000"/>
<circle cx="1335.55" cy="279.79" r="4.9" fill="#000"/>
<circle cx="1337.59" cy="278.46" r="4.9" fill="#000"/>
<circle cx="1321.56" cy="284.05" r="4.9" fill="#000"/>
<circle cx="1329.19" cy="283.39" r="4.9" fill="#000"/>
<circle cx="1332.17" cy="282.63" r="4.9" fill="#000"/>
<circle cx="1338.67" cy="284.23" r="4.9" fill="#000"/>
<circle cx="1322.68" cy="289.96" r="4.9" fill="#000"/>
<circle cx="1328.22" cy="288.27" r="4.9" fill="#000"/>
<circle cx="1333.9" cy="289.97" r="4.9" fill="#000"/>
<circle cx="1337.53" cy="288.95" r="4.9" fill="#000"/>
<circle cx="1321.56" cy="295.8" r="4.9" fill="#000"/>
<circle cx="1328.98" cy="296.08" r="4.9" fill="#000"/>
<circle cx="1334.86" cy="295.25" r="4.9" fill="#000"/>
<circle cx="1324.42" cy="298.8" r="4.9" fill="#000"/>
<circle cx="1326.57" cy="301.3" r="4.9" fill="#000"/>
<circle cx="1332.33" cy="301.31" r="4.9" fill="#000"/>
<circle cx="1318.4" cy="303.92" r="4.9" fill="#000"/>
<circle cx="1323.92" cy="307.04" r="4.9" fill="#000"/>
<circle cx="1326.71" cy="304.74" r="4.9" fill="#000"/>
<circle cx="1321.41" cy="310.79" r="4.9" fill="#000"/>
<circle cx="1304.66" cy="259.08" r="4.9" fill="#000"/>
<circle cx="1303.56" cy="261.36" r="4.9" fill="#000"/>
<circle cx="1294.06" cy="267.6" r="4.9" fill="#000"/>
<circle cx="1297.59" cy="266.6" r="4.9" fill="#000"/>
<circle cx="1299.99" cy="284.54" r="4.9" fill="#000"/>
<circle cx="1305.62" cy="283.92" r="4.9" fill="#000"/>
<circle cx="1299.89" cy="291.28" r="4.9" fill="#000"/>
<circle cx="1303.15" cy="290.27" r="4.9" fill="#000"/>
<circle cx="1305.55" cy="296.81" r="4.9" fill="#000"/>
<circle cx="1309.8" cy="293.35" r="4.9" fill="#000"/>
<circle cx="1308.1" cy="298.59" r="4.9" fill="#000"/>
<circle cx="1191.29" cy="238.91" r="4.6" fill="#000"/>
<circle cx="1191.29" cy="238.91" r="2.2" fill="#e8182c"/>
<circle cx="1281.39" cy="282.2" r="4.6" fill="#000"/>
<circle cx="1281.39" cy="282.2" r="2.2" fill="#e8182c"/>
<line x1="1089.3" y1="65.3" x2="1089.3" y2="315.4" stroke="#000" stroke-width="3"/>
<line x1="1087.8" y1="313.9" x2="1431.7" y2="313.9" stroke="#000" stroke-width="3"/>
<line x1="1082.3" y1="313.9" x2="1089.3" y2="313.9" stroke="#000" stroke-width="3"/>
<text x="1079.8" y="321.64" font-size="21.5" text-anchor="end">0</text>
<line x1="1082.3" y1="252" x2="1089.3" y2="252" stroke="#000" stroke-width="3"/>
<text x="1079.8" y="259.74" font-size="21.5" text-anchor="end">1</text>
<line x1="1082.3" y1="190.1" x2="1089.3" y2="190.1" stroke="#000" stroke-width="3"/>
<text x="1079.8" y="197.84" font-size="21.5" text-anchor="end">2</text>
<line x1="1082.3" y1="128.2" x2="1089.3" y2="128.2" stroke="#000" stroke-width="3"/>
<text x="1079.8" y="135.94" font-size="21.5" text-anchor="end">3</text>
<line x1="1082.3" y1="66.3" x2="1089.3" y2="66.3" stroke="#000" stroke-width="3"/>
<text x="1079.8" y="74.04" font-size="21.5" text-anchor="end">4</text>
<line x1="1089.3" y1="313.9" x2="1089.3" y2="320.9" stroke="#000" stroke-width="3"/>
<text x="1089.3" y="338.2" font-size="21.5" text-anchor="middle">-1 0</text>
<line x1="1202.93" y1="313.9" x2="1202.93" y2="320.9" stroke="#000" stroke-width="3"/>
<text x="1202.93" y="338.2" font-size="21.5" text-anchor="middle">-5</text>
<line x1="1316.57" y1="313.9" x2="1316.57" y2="320.9" stroke="#000" stroke-width="3"/>
<text x="1316.57" y="338.2" font-size="21.5" text-anchor="middle">0</text>
<line x1="1430.2" y1="313.9" x2="1430.2" y2="320.9" stroke="#000" stroke-width="3"/>
<text x="1430.2" y="338.2" font-size="21.5" text-anchor="middle">5</text>
<text x="1039.3" y="189.4" font-size="20.8" text-anchor="middle" transform="rotate(-90 1039.3 189.4)">-log<tspan font-size="13.73" dy="3.54">10</tspan><tspan dy="-3.54">(P)</tspan></text>
<text x="1125.8" y="369.3" font-size="20.6" textLength="210" lengthAdjust="spacingAndGlyphs">log<tspan font-size="14.4" dy="4">2</tspan><tspan dy="-4">(FC of MR/Control)</tspan></text>
<text x="1121.8" y="221.9" font-size="20.79" textLength="111" lengthAdjust="spacingAndGlyphs">Hypotaurine</text>
<text x="1128.5" y="293" font-size="21.09" textLength="147.4" lengthAdjust="spacingAndGlyphs">L-homocysteine</text>
<rect x="409.8" y="429.75" width="6.1" height="20.5" fill="#000"/>
<line x1="400.8" y1="440" x2="409.8" y2="440" stroke="#000" stroke-width="2.6"/>
<text x="393.7" y="446.99" font-size="19.7" text-anchor="end" textLength="282.7" lengthAdjust="spacingAndGlyphs">Primary bile acid biosynthesis</text>
<rect x="409.8" y="456.55" width="25.2" height="20.5" fill="#000"/>
<line x1="400.8" y1="466.8" x2="409.8" y2="466.8" stroke="#000" stroke-width="2.6"/>
<text x="391.5" y="473.79" font-size="19.7" text-anchor="end" textLength="344.2" lengthAdjust="spacingAndGlyphs">Cysteine and methionine metabolism</text>
<rect x="409.8" y="484.15" width="49.3" height="20.5" fill="#000"/>
<line x1="400.8" y1="494.4" x2="409.8" y2="494.4" stroke="#000" stroke-width="2.6"/>
<text x="393.7" y="501.39" font-size="19.7" text-anchor="end" textLength="346.4" lengthAdjust="spacingAndGlyphs">Taurine and hypotaurine metabolism</text>
<rect x="409.8" y="511.55" width="56.4" height="20.5" fill="#000"/>
<line x1="400.8" y1="521.8" x2="409.8" y2="521.8" stroke="#000" stroke-width="2.6"/>
<text x="393.7" y="528.79" font-size="19.7" text-anchor="end" textLength="270.6" lengthAdjust="spacingAndGlyphs">Arachidonic acid metabolism</text>
<rect x="409.8" y="539.05" width="61.5" height="20.5" fill="#000"/>
<line x1="400.8" y1="549.3" x2="409.8" y2="549.3" stroke="#000" stroke-width="2.6"/>
<text x="388.3" y="556.29" font-size="19.7" text-anchor="end" textLength="382" lengthAdjust="spacingAndGlyphs">Glycine, serine and threonine metabolism</text>
<rect x="409.8" y="566.15" width="79.4" height="20.5" fill="#000"/>
<line x1="400.8" y1="576.4" x2="409.8" y2="576.4" stroke="#000" stroke-width="2.6"/>
<text x="395" y="583.39" font-size="19.7" text-anchor="end" textLength="217.8" lengthAdjust="spacingAndGlyphs">Glutathione metabolism</text>
<line x1="409.8" y1="425.7" x2="409.8" y2="590.2" stroke="#000" stroke-width="2.6"/>
<line x1="408.5" y1="588.9" x2="497.1" y2="588.9" stroke="#000" stroke-width="2.6"/>
<line x1="409.8" y1="588.9" x2="409.8" y2="597.9" stroke="#000" stroke-width="2.6"/>
<text x="416.64" y="601.5" font-size="19" text-anchor="end" textLength="29.05" lengthAdjust="spacingAndGlyphs" transform="rotate(-90 416.64 601.5)">0.0</text>
<line x1="427" y1="588.9" x2="427" y2="597.9" stroke="#000" stroke-width="2.6"/>
<text x="433.84" y="601.5" font-size="19" text-anchor="end" textLength="29.05" lengthAdjust="spacingAndGlyphs" transform="rotate(-90 433.84 601.5)">0.1</text>
<line x1="444.2" y1="588.9" x2="444.2" y2="597.9" stroke="#000" stroke-width="2.6"/>
<text x="451.04" y="601.5" font-size="19" text-anchor="end" textLength="29.05" lengthAdjust="spacingAndGlyphs" transform="rotate(-90 451.04 601.5)">0.2</text>
<line x1="461.4" y1="588.9" x2="461.4" y2="597.9" stroke="#000" stroke-width="2.6"/>
<text x="468.24" y="601.5" font-size="19" text-anchor="end" textLength="29.05" lengthAdjust="spacingAndGlyphs" transform="rotate(-90 468.24 601.5)">0.3</text>
<line x1="478.6" y1="588.9" x2="478.6" y2="597.9" stroke="#000" stroke-width="2.6"/>
<text x="485.44" y="601.5" font-size="19" text-anchor="end" textLength="29.05" lengthAdjust="spacingAndGlyphs" transform="rotate(-90 485.44 601.5)">0.4</text>
<line x1="495.8" y1="588.9" x2="495.8" y2="597.9" stroke="#000" stroke-width="2.6"/>
<text x="502.64" y="601.5" font-size="19" text-anchor="end" textLength="29.05" lengthAdjust="spacingAndGlyphs" transform="rotate(-90 502.64 601.5)">0.5</text>
<text x="383.8" y="648" font-size="19.65" textLength="133" lengthAdjust="spacingAndGlyphs">Pathway Impac</text>
<text x="521" y="648" font-size="12">.</text>
<line x1="873.8" y1="445.5" x2="882.8" y2="445.5" stroke="#000" stroke-width="2.6"/>
<text x="865.3" y="452.49" font-size="19.7" text-anchor="end" textLength="206.2" lengthAdjust="spacingAndGlyphs">Galactose metabolism</text>
<line x1="873.8" y1="471.7" x2="882.8" y2="471.7" stroke="#000" stroke-width="2.6"/>
<text x="865.8" y="478.69" font-size="19.7" text-anchor="end" textLength="303" lengthAdjust="spacingAndGlyphs">Glycolysis or Gluconeogenesis</text>
<rect x="882.8" y="489.85" width="4.1" height="19.5" fill="#000"/>
<line x1="873.8" y1="499.6" x2="882.8" y2="499.6" stroke="#000" stroke-width="2.6"/>
<text x="866.6" y="506.59" font-size="19.7" text-anchor="end" textLength="283.3" lengthAdjust="spacingAndGlyphs">Primary bile acid biosynthesis</text>
<rect x="882.8" y="516.05" width="21.2" height="19.5" fill="#000"/>
<line x1="873.8" y1="525.8" x2="882.8" y2="525.8" stroke="#000" stroke-width="2.6"/>
<text x="865.3" y="532.79" font-size="19.7" text-anchor="end" textLength="298.2" lengthAdjust="spacingAndGlyphs">Starch and sucrose metabolism</text>
<rect x="882.8" y="543.15" width="89.3" height="19.5" fill="#000"/>
<line x1="873.8" y1="552.9" x2="882.8" y2="552.9" stroke="#000" stroke-width="2.6"/>
<text x="865.8" y="559.89" font-size="19.7" text-anchor="end" textLength="344.7" lengthAdjust="spacingAndGlyphs">Taurine and hypotaurine metabolism</text>
<line x1="882.8" y1="434.6" x2="882.8" y2="565.8" stroke="#000" stroke-width="2.6"/>
<line x1="881.5" y1="564.5" x2="982.9" y2="564.5" stroke="#000" stroke-width="2.6"/>
<line x1="882.8" y1="564.5" x2="882.8" y2="573.5" stroke="#000" stroke-width="2.6"/>
<text x="889.64" y="576.5" font-size="19" text-anchor="end" textLength="29.05" lengthAdjust="spacingAndGlyphs" transform="rotate(-90 889.64 576.5)">0.0</text>
<line x1="907.5" y1="564.5" x2="907.5" y2="573.5" stroke="#000" stroke-width="2.6"/>
<text x="914.34" y="576.5" font-size="19" text-anchor="end" textLength="29.05" lengthAdjust="spacingAndGlyphs" transform="rotate(-90 914.34 576.5)">0.2</text>
<line x1="932.2" y1="564.5" x2="932.2" y2="573.5" stroke="#000" stroke-width="2.6"/>
<text x="939.04" y="576.5" font-size="19" text-anchor="end" textLength="29.05" lengthAdjust="spacingAndGlyphs" transform="rotate(-90 939.04 576.5)">0.4</text>
<line x1="956.9" y1="564.5" x2="956.9" y2="573.5" stroke="#000" stroke-width="2.6"/>
<text x="963.74" y="576.5" font-size="19" text-anchor="end" textLength="29.05" lengthAdjust="spacingAndGlyphs" transform="rotate(-90 963.74 576.5)">0.6</text>
<line x1="981.6" y1="564.5" x2="981.6" y2="573.5" stroke="#000" stroke-width="2.6"/>
<text x="988.44" y="576.5" font-size="19" text-anchor="end" textLength="29.05" lengthAdjust="spacingAndGlyphs" transform="rotate(-90 988.44 576.5)">0.8</text>
<text x="865.7" y="626" font-size="19.82" textLength="139.6" lengthAdjust="spacingAndGlyphs">Pathway Impact</text>
<rect x="1466" y="406.2" width="13" height="21" fill="#000"/>
<line x1="1457" y1="416.7" x2="1466" y2="416.7" stroke="#000" stroke-width="2.6"/>
<text x="1447.9" y="423.69" font-size="19.7" text-anchor="end" textLength="207.3" lengthAdjust="spacingAndGlyphs">Pyrimidine metabolism</text>
<rect x="1466" y="434.38" width="23" height="21" fill="#000"/>
<line x1="1457" y1="444.88" x2="1466" y2="444.88" stroke="#000" stroke-width="2.6"/>
<text x="1444.8" y="451.87" font-size="19.7" text-anchor="end" textLength="404.2" lengthAdjust="spacingAndGlyphs">Pentose and glucuronate interconversions</text>
<rect x="1466" y="462.56" width="23" height="21" fill="#000"/>
<line x1="1457" y1="473.06" x2="1466" y2="473.06" stroke="#000" stroke-width="2.6"/>
<text x="1445.8" y="480.05" font-size="19.7" text-anchor="end" textLength="297.6" lengthAdjust="spacingAndGlyphs">Starch and sucrose metabolism</text>
<rect x="1466" y="490.74" width="28.2" height="21" fill="#000"/>
<line x1="1457" y1="501.24" x2="1466" y2="501.24" stroke="#000" stroke-width="2.6"/>
<text x="1441.8" y="508.23" font-size="19.7" text-anchor="end" textLength="385.4" lengthAdjust="spacingAndGlyphs">Glycine, serine and threonine metabolism</text>
<rect x="1466" y="518.92" width="34.3" height="21" fill="#000"/>
<line x1="1457" y1="529.42" x2="1466" y2="529.42" stroke="#000" stroke-width="2.6"/>
<text x="1447.9" y="536.41" font-size="19.7" text-anchor="end" textLength="190.6" lengthAdjust="spacingAndGlyphs">Methane metabolism</text>
<rect x="1466" y="547.1" width="34.3" height="21" fill="#000"/>
<line x1="1457" y1="557.6" x2="1466" y2="557.6" stroke="#000" stroke-width="2.6"/>
<text x="1443.6" y="564.59" font-size="19.7" text-anchor="end" textLength="329.1" lengthAdjust="spacingAndGlyphs">Ascorbate and aldarate metabolism</text>
<rect x="1466" y="575.28" width="35.8" height="21" fill="#000"/>
<line x1="1457" y1="585.78" x2="1466" y2="585.78" stroke="#000" stroke-width="2.6"/>
<text x="1447.3" y="592.77" font-size="19.7" text-anchor="end" textLength="345.5" lengthAdjust="spacingAndGlyphs">Taurine and hypotaurine metabolism</text>
<rect x="1466" y="603.46" width="38" height="21" fill="#000"/>
<line x1="1457" y1="613.96" x2="1466" y2="613.96" stroke="#000" stroke-width="2.6"/>
<text x="1445.8" y="620.95" font-size="19.7" text-anchor="end" textLength="415.2" lengthAdjust="spacingAndGlyphs">Alanine, aspartate and glutamate metabolism</text>
<rect x="1466" y="631.64" width="50" height="21" fill="#000"/>
<line x1="1457" y1="642.14" x2="1466" y2="642.14" stroke="#000" stroke-width="2.6"/>
<text x="1447.3" y="649.13" font-size="19.7" text-anchor="end" textLength="415.8" lengthAdjust="spacingAndGlyphs">Synthesis and degradation of ketone bodies</text>
<rect x="1466" y="659.82" width="81.3" height="21" fill="#000"/>
<line x1="1457" y1="670.32" x2="1466" y2="670.32" stroke="#000" stroke-width="2.6"/>
<text x="1444.8" y="677.31" font-size="19.7" text-anchor="end" textLength="388.4" lengthAdjust="spacingAndGlyphs">D-Glutamine and D-glutamate metabolism</text>
<line x1="1466" y1="402" x2="1466" y2="682.3" stroke="#000" stroke-width="2.6"/>
<line x1="1464.7" y1="681" x2="1549.5" y2="681" stroke="#000" stroke-width="2.6"/>
<line x1="1466" y1="681" x2="1466" y2="690" stroke="#000" stroke-width="2.6"/>
<text x="1472.84" y="693" font-size="19" text-anchor="end" textLength="29.05" lengthAdjust="spacingAndGlyphs" transform="rotate(-90 1472.84 693)">0.0</text>
<line x1="1507.1" y1="681" x2="1507.1" y2="690" stroke="#000" stroke-width="2.6"/>
<text x="1513.94" y="693" font-size="19" text-anchor="end" textLength="29.05" lengthAdjust="spacingAndGlyphs" transform="rotate(-90 1513.94 693)">0.5</text>
<line x1="1548.2" y1="681" x2="1548.2" y2="690" stroke="#000" stroke-width="2.6"/>
<text x="1555.04" y="693" font-size="19" text-anchor="end" textLength="29.05" lengthAdjust="spacingAndGlyphs" transform="rotate(-90 1555.04 693)">1.0</text>
<text x="1438" y="744.5" font-size="19.82" textLength="139.6" lengthAdjust="spacingAndGlyphs">Pathway Impact</text>
<rect x="444" y="1593.9" width="24.2" height="20.6" fill="#000"/>
<line x1="435" y1="1604.2" x2="444" y2="1604.2" stroke="#000" stroke-width="2.6"/>
<text x="425.8" y="1611.26" font-size="19.9" text-anchor="end" textLength="366.7" lengthAdjust="spacingAndGlyphs">Nicotinate and nicotinamide metabolism</text>
<rect x="444" y="1621.05" width="28.7" height="20.6" fill="#000"/>
<line x1="435" y1="1631.35" x2="444" y2="1631.35" stroke="#000" stroke-width="2.6"/>
<text x="427.3" y="1638.41" font-size="19.9" text-anchor="end" textLength="302.1" lengthAdjust="spacingAndGlyphs">Glycolysis or Gluconeogenesis</text>
<rect x="444" y="1648.2" width="32.4" height="20.6" fill="#000"/>
<line x1="435" y1="1658.5" x2="444" y2="1658.5" stroke="#000" stroke-width="2.6"/>
<text x="428.8" y="1665.56" font-size="19.9" text-anchor="end" textLength="190.9" lengthAdjust="spacingAndGlyphs">Histidine metabolism</text>
<rect x="444" y="1675.35" width="33.3" height="20.6" fill="#000"/>
<line x1="435" y1="1685.65" x2="444" y2="1685.65" stroke="#000" stroke-width="2.6"/>
<text x="425.8" y="1692.71" font-size="19.9" text-anchor="end" textLength="341.6" lengthAdjust="spacingAndGlyphs">Cysteine and methionine metabolism</text>
<rect x="444" y="1702.5" width="44.8" height="20.6" fill="#000"/>
<line x1="435" y1="1712.8" x2="444" y2="1712.8" stroke="#000" stroke-width="2.6"/>
<text x="427.9" y="1719.86" font-size="19.9" text-anchor="end" textLength="206.7" lengthAdjust="spacingAndGlyphs">Pyrimidine metabolism</text>
<rect x="444" y="1729.65" width="65.1" height="20.6" fill="#000"/>
<line x1="435" y1="1739.95" x2="444" y2="1739.95" stroke="#000" stroke-width="2.6"/>
<text x="425.8" y="1747.01" font-size="19.9" text-anchor="end" textLength="413.1" lengthAdjust="spacingAndGlyphs">Alanine, aspartate and glutamate metabolism</text>
<rect x="444" y="1756.8" width="78.7" height="20.6" fill="#000"/>
<line x1="435" y1="1767.1" x2="444" y2="1767.1" stroke="#000" stroke-width="2.6"/>
<text x="422.7" y="1774.16" font-size="19.9" text-anchor="end" textLength="384.8" lengthAdjust="spacingAndGlyphs">Glycine, serine and threonine metabolism</text>
<rect x="444" y="1783.95" width="93.9" height="20.6" fill="#000"/>
<line x1="435" y1="1794.25" x2="444" y2="1794.25" stroke="#000" stroke-width="2.6"/>
<text x="428.2" y="1801.31" font-size="19.9" text-anchor="end" textLength="415.5" lengthAdjust="spacingAndGlyphs">Synthesis and degradation of ketone bodies</text>
<line x1="444" y1="1590.6" x2="444" y2="1808.3" stroke="#000" stroke-width="2.6"/>
<line x1="442.7" y1="1807" x2="539.3" y2="1807" stroke="#000" stroke-width="2.6"/>
<line x1="444" y1="1807" x2="444" y2="1816" stroke="#000" stroke-width="2.6"/>
<text x="450.84" y="1817" font-size="19" text-anchor="end" textLength="29.05" lengthAdjust="spacingAndGlyphs" transform="rotate(-90 450.84 1817)">0.0</text>
<line x1="462.8" y1="1807" x2="462.8" y2="1816" stroke="#000" stroke-width="2.6"/>
<text x="469.64" y="1817" font-size="19" text-anchor="end" textLength="29.05" lengthAdjust="spacingAndGlyphs" transform="rotate(-90 469.64 1817)">0.1</text>
<line x1="481.6" y1="1807" x2="481.6" y2="1816" stroke="#000" stroke-width="2.6"/>
<text x="488.44" y="1817" font-size="19" text-anchor="end" textLength="29.05" lengthAdjust="spacingAndGlyphs" transform="rotate(-90 488.44 1817)">0.2</text>
<line x1="500.4" y1="1807" x2="500.4" y2="1816" stroke="#000" stroke-width="2.6"/>
<text x="507.24" y="1817" font-size="19" text-anchor="end" textLength="29.05" lengthAdjust="spacingAndGlyphs" transform="rotate(-90 507.24 1817)">0.3</text>
<line x1="519.2" y1="1807" x2="519.2" y2="1816" stroke="#000" stroke-width="2.6"/>
<text x="526.04" y="1817" font-size="19" text-anchor="end" textLength="29.05" lengthAdjust="spacingAndGlyphs" transform="rotate(-90 526.04 1817)">0.4</text>
<line x1="538" y1="1807" x2="538" y2="1816" stroke="#000" stroke-width="2.6"/>
<text x="544.84" y="1817" font-size="19" text-anchor="end" textLength="29.05" lengthAdjust="spacingAndGlyphs" transform="rotate(-90 544.84 1817)">0.5</text>
<text x="422" y="1868" font-size="19.59" textLength="138" lengthAdjust="spacingAndGlyphs">Pathway Impact</text>
<rect x="909.2" y="1594.65" width="8.8" height="35.5" fill="#000"/>
<line x1="900.2" y1="1612.4" x2="909.2" y2="1612.4" stroke="#000" stroke-width="2.6"/>
<text x="890.5" y="1619.46" font-size="19.9" text-anchor="end" textLength="296.9" lengthAdjust="spacingAndGlyphs">Arginine and proline metabolism</text>
<rect x="909.2" y="1645.05" width="55.8" height="35.5" fill="#000"/>
<line x1="900.2" y1="1662.8" x2="909.2" y2="1662.8" stroke="#000" stroke-width="2.6"/>
<text x="890.5" y="1669.86" font-size="19.9" text-anchor="end" textLength="342.7" lengthAdjust="spacingAndGlyphs">Cysteine and methionine metabolism</text>
<line x1="909.2" y1="1587.5" x2="909.2" y2="1689.1" stroke="#000" stroke-width="2.6"/>
<line x1="907.9" y1="1687.8" x2="975.7" y2="1687.8" stroke="#000" stroke-width="2.6"/>
<line x1="909.2" y1="1687.8" x2="909.2" y2="1696.8" stroke="#000" stroke-width="2.6"/>
<text x="916.04" y="1698.6" font-size="19" text-anchor="end" textLength="29.05" lengthAdjust="spacingAndGlyphs" transform="rotate(-90 916.04 1698.6)">0.0</text>
<line x1="931.2" y1="1687.8" x2="931.2" y2="1696.8" stroke="#000" stroke-width="2.6"/>
<text x="938.04" y="1698.6" font-size="19" text-anchor="end" textLength="29.05" lengthAdjust="spacingAndGlyphs" transform="rotate(-90 938.04 1698.6)">0.2</text>
<line x1="952.6" y1="1687.8" x2="952.6" y2="1696.8" stroke="#000" stroke-width="2.6"/>
<text x="959.44" y="1698.6" font-size="19" text-anchor="end" textLength="29.05" lengthAdjust="spacingAndGlyphs" transform="rotate(-90 959.44 1698.6)">0.4</text>
<line x1="974.4" y1="1687.8" x2="974.4" y2="1696.8" stroke="#000" stroke-width="2.6"/>
<text x="981.24" y="1698.6" font-size="19" text-anchor="end" textLength="29.05" lengthAdjust="spacingAndGlyphs" transform="rotate(-90 981.24 1698.6)">0.6</text>
<text x="870.7" y="1751" font-size="19.92" textLength="140.3" lengthAdjust="spacingAndGlyphs">Pathway Impact</text>
<rect x="1498.9" y="1564.3" width="4.1" height="20.4" fill="#000"/>
<line x1="1489.9" y1="1574.5" x2="1498.9" y2="1574.5" stroke="#000" stroke-width="2.6"/>
<text x="1477.8" y="1581.56" font-size="19.9" text-anchor="end" textLength="432.2" lengthAdjust="spacingAndGlyphs">Amino sugar and nucleotide sugar metabolism</text>
<rect x="1498.9" y="1592.1" width="26.1" height="20.4" fill="#000"/>
<line x1="1489.9" y1="1602.3" x2="1498.9" y2="1602.3" stroke="#000" stroke-width="2.6"/>
<text x="1484.1" y="1609.36" font-size="19.9" text-anchor="end" textLength="208.1" lengthAdjust="spacingAndGlyphs">Pyrimidine metabolism</text>
<rect x="1498.9" y="1619.9" width="36.4" height="20.4" fill="#000"/>
<line x1="1489.9" y1="1630.1" x2="1498.9" y2="1630.1" stroke="#000" stroke-width="2.6"/>
<text x="1481" y="1637.16" font-size="19.9" text-anchor="end" textLength="404.9" lengthAdjust="spacingAndGlyphs">Pentose and glucuronate interconversions</text>
<rect x="1498.9" y="1647.7" width="37.1" height="20.4" fill="#000"/>
<line x1="1489.9" y1="1657.9" x2="1498.9" y2="1657.9" stroke="#000" stroke-width="2.6"/>
<text x="1483.2" y="1664.96" font-size="19.9" text-anchor="end" textLength="298.2" lengthAdjust="spacingAndGlyphs">Starch and sucrose metabolism</text>
<rect x="1498.9" y="1675.5" width="54.3" height="20.4" fill="#000"/>
<line x1="1489.9" y1="1685.7" x2="1498.9" y2="1685.7" stroke="#000" stroke-width="2.6"/>
<text x="1485" y="1692.76" font-size="19.9" text-anchor="end" textLength="217.4" lengthAdjust="spacingAndGlyphs">Glutathione metabolism</text>
<rect x="1498.9" y="1703.3" width="57.4" height="20.4" fill="#000"/>
<line x1="1489.9" y1="1713.5" x2="1498.9" y2="1713.5" stroke="#000" stroke-width="2.6"/>
<text x="1481.9" y="1720.56" font-size="19.9" text-anchor="end" textLength="344" lengthAdjust="spacingAndGlyphs">Cysteine and methionine metabolism</text>
<rect x="1498.9" y="1731.1" width="57.4" height="20.4" fill="#000"/>
<line x1="1489.9" y1="1741.3" x2="1498.9" y2="1741.3" stroke="#000" stroke-width="2.6"/>
<text x="1484.1" y="1748.36" font-size="19.9" text-anchor="end" textLength="346.2" lengthAdjust="spacingAndGlyphs">Taurine and hypotaurine metabolism</text>
<line x1="1498.9" y1="1561" x2="1498.9" y2="1755.9" stroke="#000" stroke-width="2.6"/>
<line x1="1497.6" y1="1754.6" x2="1579.6" y2="1754.6" stroke="#000" stroke-width="2.6"/>
<line x1="1498.9" y1="1754.6" x2="1498.9" y2="1763.6" stroke="#000" stroke-width="2.6"/>
<text x="1505.74" y="1766.6" font-size="19" text-anchor="end" textLength="29.05" lengthAdjust="spacingAndGlyphs" transform="rotate(-90 1505.74 1766.6)">0.0</text>
<line x1="1525.3" y1="1754.6" x2="1525.3" y2="1763.6" stroke="#000" stroke-width="2.6"/>
<text x="1532.14" y="1766.6" font-size="19" text-anchor="end" textLength="29.05" lengthAdjust="spacingAndGlyphs" transform="rotate(-90 1532.14 1766.6)">0.2</text>
<line x1="1551.9" y1="1754.6" x2="1551.9" y2="1763.6" stroke="#000" stroke-width="2.6"/>
<text x="1558.74" y="1766.6" font-size="19" text-anchor="end" textLength="29.05" lengthAdjust="spacingAndGlyphs" transform="rotate(-90 1558.74 1766.6)">0.4</text>
<line x1="1578.3" y1="1754.6" x2="1578.3" y2="1763.6" stroke="#000" stroke-width="2.6"/>
<text x="1585.14" y="1766.6" font-size="19" text-anchor="end" textLength="29.05" lengthAdjust="spacingAndGlyphs" transform="rotate(-90 1585.14 1766.6)">0.6</text>
<text x="1470" y="1820" font-size="19.83" textLength="139.7" lengthAdjust="spacingAndGlyphs">Pathway Impact</text>
<text x="1586.3" y="19.3" font-size="32" font-weight="bold">e</text>
<text x="1636" y="89.4" font-size="25.5" textLength="414" lengthAdjust="spacingAndGlyphs">Cysteine and methionine metabolism</text>
<rect x="1660.5" y="115.5" width="14" height="15" fill="#fff" stroke="#000" stroke-width="2"/>
<rect x="1730.5" y="115.5" width="14" height="15" fill="#e8141e" stroke="#000" stroke-width="2"/>
<rect x="1660.5" y="138.5" width="14" height="15" fill="#1e1ef0" stroke="#000" stroke-width="2"/>
<rect x="1731" y="138.5" width="14" height="15" fill="#ffe614" stroke="#000" stroke-width="2"/>
<text x="1682.3" y="128.4" font-size="18.17" textLength="33" lengthAdjust="spacingAndGlyphs">Con</text>
<text x="1753.2" y="128.4" font-size="18.41" textLength="77" lengthAdjust="spacingAndGlyphs">Radiation</text>
<text x="1682.3" y="151.6" font-size="18.83" textLength="29" lengthAdjust="spacingAndGlyphs">MR</text>
<text x="1754" y="151.6" font-size="18.57" textLength="117" lengthAdjust="spacingAndGlyphs">MR+Radiation</text>
<line x1="1652.1" y1="227.6" x2="1652.1" y2="220.37" stroke="#000" stroke-width="2.4"/>
<line x1="1649.1" y1="220.37" x2="1655.1" y2="220.37" stroke="#000" stroke-width="2.4"/>
<rect x="1648.5" y="227.6" width="7.2" height="48.2" fill="#ffffff" stroke="#000" stroke-width="2.4"/>
<circle cx="1651.7" cy="244.47" r="3" fill="#000"/>
<circle cx="1652.33" cy="241.23" r="3" fill="#000"/>
<circle cx="1652.26" cy="238" r="3" fill="#000"/>
<circle cx="1652.07" cy="234.76" r="3" fill="#000"/>
<circle cx="1651.76" cy="231.52" r="3" fill="#000"/>
<circle cx="1652.45" cy="228.29" r="3" fill="#000"/>
<circle cx="1652.47" cy="225.05" r="3" fill="#000"/>
<circle cx="1652.11" cy="221.82" r="3" fill="#000"/>
<line x1="1662.5" y1="230.01" x2="1662.5" y2="221.82" stroke="#000" stroke-width="2.4"/>
<line x1="1659.5" y1="221.82" x2="1665.5" y2="221.82" stroke="#000" stroke-width="2.4"/>
<rect x="1658.9" y="230.01" width="7.2" height="45.79" fill="#1e1ef0" stroke="#000" stroke-width="2.4"/>
<circle cx="1662.51" cy="246.04" r="3" fill="#000"/>
<circle cx="1662.18" cy="242.45" r="3" fill="#000"/>
<circle cx="1661.9" cy="238.86" r="3" fill="#000"/>
<circle cx="1662.35" cy="235.28" r="3" fill="#000"/>
<circle cx="1662.6" cy="231.69" r="3" fill="#000"/>
<circle cx="1661.98" cy="228.1" r="3" fill="#000"/>
<circle cx="1662.85" cy="224.52" r="3" fill="#000"/>
<circle cx="1662.5" cy="191.45" r="3" fill="#000"/>
<line x1="1673.3" y1="230.01" x2="1673.3" y2="218.92" stroke="#000" stroke-width="2.4"/>
<line x1="1670.3" y1="218.92" x2="1676.3" y2="218.92" stroke="#000" stroke-width="2.4"/>
<rect x="1669.7" y="230.01" width="7.2" height="45.79" fill="#e8141e" stroke="#000" stroke-width="2.4"/>
<circle cx="1672.98" cy="246.04" r="3" fill="#000"/>
<circle cx="1672.98" cy="242.45" r="3" fill="#000"/>
<circle cx="1672.75" cy="238.86" r="3" fill="#000"/>
<circle cx="1673.9" cy="235.28" r="3" fill="#000"/>
<circle cx="1673.59" cy="231.69" r="3" fill="#000"/>
<circle cx="1673.75" cy="228.1" r="3" fill="#000"/>
<circle cx="1673.44" cy="224.52" r="3" fill="#000"/>
<circle cx="1673.3" cy="201.09" r="3" fill="#000"/>
<line x1="1683.7" y1="237.24" x2="1683.7" y2="229.05" stroke="#000" stroke-width="2.4"/>
<line x1="1680.7" y1="229.05" x2="1686.7" y2="229.05" stroke="#000" stroke-width="2.4"/>
<rect x="1680.1" y="237.24" width="7.2" height="38.56" fill="#ffe614" stroke="#000" stroke-width="2.4"/>
<circle cx="1683.14" cy="250.74" r="3" fill="#000"/>
<circle cx="1683.49" cy="247.11" r="3" fill="#000"/>
<circle cx="1683.7" cy="243.49" r="3" fill="#000"/>
<circle cx="1683.24" cy="239.86" r="3" fill="#000"/>
<circle cx="1684.24" cy="236.24" r="3" fill="#000"/>
<circle cx="1683.54" cy="232.61" r="3" fill="#000"/>
<circle cx="1683.7" cy="186.63" r="3" fill="#000"/>
<line x1="1701.3" y1="227.6" x2="1701.3" y2="213.14" stroke="#000" stroke-width="2.4"/>
<line x1="1698.3" y1="213.14" x2="1704.3" y2="213.14" stroke="#000" stroke-width="2.4"/>
<rect x="1697.7" y="227.6" width="7.2" height="48.2" fill="#ffffff" stroke="#000" stroke-width="2.4"/>
<circle cx="1700.89" cy="244.47" r="3" fill="#000"/>
<circle cx="1701.68" cy="241.23" r="3" fill="#000"/>
<circle cx="1700.85" cy="238" r="3" fill="#000"/>
<circle cx="1701.81" cy="234.76" r="3" fill="#000"/>
<circle cx="1701.24" cy="231.52" r="3" fill="#000"/>
<circle cx="1701.36" cy="228.29" r="3" fill="#000"/>
<circle cx="1701.11" cy="225.05" r="3" fill="#000"/>
<circle cx="1701.28" cy="221.82" r="3" fill="#000"/>
<circle cx="1701.3" cy="193.86" r="3" fill="#000"/>
<circle cx="1701.3" cy="203.5" r="3" fill="#000"/>
<line x1="1711.7" y1="256.52" x2="1711.7" y2="251.7" stroke="#000" stroke-width="2.4"/>
<line x1="1708.7" y1="251.7" x2="1714.7" y2="251.7" stroke="#000" stroke-width="2.4"/>
<rect x="1708.1" y="256.52" width="7.2" height="19.28" fill="#1e1ef0" stroke="#000" stroke-width="2.4"/>
<circle cx="1711.32" cy="264.23" r="3" fill="#000"/>
<circle cx="1711.14" cy="260.89" r="3" fill="#000"/>
<circle cx="1712.14" cy="257.55" r="3" fill="#000"/>
<circle cx="1711.38" cy="254.21" r="3" fill="#000"/>
<circle cx="1711.7" cy="234.83" r="3" fill="#000"/>
<line x1="1722.5" y1="234.83" x2="1722.5" y2="217.96" stroke="#000" stroke-width="2.4"/>
<line x1="1719.5" y1="217.96" x2="1725.5" y2="217.96" stroke="#000" stroke-width="2.4"/>
<rect x="1718.9" y="234.83" width="7.2" height="40.97" fill="#e8141e" stroke="#000" stroke-width="2.4"/>
<circle cx="1722.84" cy="249.17" r="3" fill="#000"/>
<circle cx="1722.15" cy="245.96" r="3" fill="#000"/>
<circle cx="1723.06" cy="242.75" r="3" fill="#000"/>
<circle cx="1722.97" cy="239.54" r="3" fill="#000"/>
<circle cx="1722.81" cy="236.33" r="3" fill="#000"/>
<circle cx="1722.82" cy="233.12" r="3" fill="#000"/>
<circle cx="1722.6" cy="229.91" r="3" fill="#000"/>
<circle cx="1722.5" cy="161.08" r="3" fill="#000"/>
<line x1="1732.9" y1="270.98" x2="1732.9" y2="266.16" stroke="#000" stroke-width="2.4"/>
<line x1="1729.9" y1="266.16" x2="1735.9" y2="266.16" stroke="#000" stroke-width="2.4"/>
<rect x="1729.3" y="270.98" width="7.2" height="4.82" fill="#ffe614" stroke="#000" stroke-width="2.4"/>
<circle cx="1733.18" cy="272.91" r="3" fill="#000"/>
<circle cx="1732.45" cy="270.4" r="3" fill="#000"/>
<circle cx="1732.9" cy="257.48" r="3" fill="#000"/>
<line x1="1750.5" y1="227.6" x2="1750.5" y2="207.36" stroke="#000" stroke-width="2.4"/>
<line x1="1747.5" y1="207.36" x2="1753.5" y2="207.36" stroke="#000" stroke-width="2.4"/>
<rect x="1746.9" y="227.6" width="7.2" height="48.2" fill="#ffffff" stroke="#000" stroke-width="2.4"/>
<circle cx="1750.47" cy="244.47" r="3" fill="#000"/>
<circle cx="1750.89" cy="241.23" r="3" fill="#000"/>
<circle cx="1750.14" cy="238" r="3" fill="#000"/>
<circle cx="1751.01" cy="234.76" r="3" fill="#000"/>
<circle cx="1750.97" cy="231.52" r="3" fill="#000"/>
<circle cx="1750.39" cy="228.29" r="3" fill="#000"/>
<circle cx="1750.34" cy="225.05" r="3" fill="#000"/>
<circle cx="1750.44" cy="221.82" r="3" fill="#000"/>
<line x1="1760.9" y1="261.34" x2="1760.9" y2="254.11" stroke="#000" stroke-width="2.4"/>
<line x1="1757.9" y1="254.11" x2="1763.9" y2="254.11" stroke="#000" stroke-width="2.4"/>
<rect x="1757.3" y="261.34" width="7.2" height="14.46" fill="#1e1ef0" stroke="#000" stroke-width="2.4"/>
<circle cx="1760.76" cy="267.12" r="3" fill="#000"/>
<circle cx="1761.49" cy="263.36" r="3" fill="#000"/>
<circle cx="1760.76" cy="259.6" r="3" fill="#000"/>
<line x1="1771.7" y1="234.83" x2="1771.7" y2="220.37" stroke="#000" stroke-width="2.4"/>
<line x1="1768.7" y1="220.37" x2="1774.7" y2="220.37" stroke="#000" stroke-width="2.4"/>
<rect x="1768.1" y="234.83" width="7.2" height="40.97" fill="#e8141e" stroke="#000" stroke-width="2.4"/>
<circle cx="1771.13" cy="249.17" r="3" fill="#000"/>
<circle cx="1771.21" cy="245.96" r="3" fill="#000"/>
<circle cx="1771.96" cy="242.75" r="3" fill="#000"/>
<circle cx="1772.29" cy="239.54" r="3" fill="#000"/>
<circle cx="1771.7" cy="236.33" r="3" fill="#000"/>
<circle cx="1771.69" cy="233.12" r="3" fill="#000"/>
<circle cx="1771.76" cy="229.91" r="3" fill="#000"/>
<circle cx="1771.7" cy="203.5" r="3" fill="#000"/>
<circle cx="1771.7" cy="210.73" r="3" fill="#000"/>
<line x1="1782.1" y1="261.34" x2="1782.1" y2="254.11" stroke="#000" stroke-width="2.4"/>
<line x1="1779.1" y1="254.11" x2="1785.1" y2="254.11" stroke="#000" stroke-width="2.4"/>
<rect x="1778.5" y="261.34" width="7.2" height="14.46" fill="#ffe614" stroke="#000" stroke-width="2.4"/>
<circle cx="1782.4" cy="267.12" r="3" fill="#000"/>
<circle cx="1781.77" cy="263.36" r="3" fill="#000"/>
<circle cx="1782.23" cy="259.6" r="3" fill="#000"/>
<line x1="1799.7" y1="227.6" x2="1799.7" y2="221.82" stroke="#000" stroke-width="2.4"/>
<line x1="1796.7" y1="221.82" x2="1802.7" y2="221.82" stroke="#000" stroke-width="2.4"/>
<rect x="1796.1" y="227.6" width="7.2" height="48.2" fill="#ffffff" stroke="#000" stroke-width="2.4"/>
<circle cx="1799.77" cy="244.47" r="3" fill="#000"/>
<circle cx="1799.85" cy="241.23" r="3" fill="#000"/>
<circle cx="1799.32" cy="238" r="3" fill="#000"/>
<circle cx="1799.3" cy="234.76" r="3" fill="#000"/>
<circle cx="1799.52" cy="231.52" r="3" fill="#000"/>
<circle cx="1800.21" cy="228.29" r="3" fill="#000"/>
<circle cx="1799.52" cy="225.05" r="3" fill="#000"/>
<circle cx="1799.82" cy="221.82" r="3" fill="#000"/>
<circle cx="1799.7" cy="210.73" r="3" fill="#000"/>
<line x1="1810.1" y1="217.96" x2="1810.1" y2="205.91" stroke="#000" stroke-width="2.4"/>
<line x1="1807.1" y1="205.91" x2="1813.1" y2="205.91" stroke="#000" stroke-width="2.4"/>
<rect x="1806.5" y="217.96" width="7.2" height="57.84" fill="#1e1ef0" stroke="#000" stroke-width="2.4"/>
<circle cx="1809.87" cy="238.2" r="3" fill="#000"/>
<circle cx="1809.62" cy="234.81" r="3" fill="#000"/>
<circle cx="1809.58" cy="231.41" r="3" fill="#000"/>
<circle cx="1810.48" cy="228.01" r="3" fill="#000"/>
<circle cx="1810.43" cy="224.61" r="3" fill="#000"/>
<circle cx="1809.95" cy="221.21" r="3" fill="#000"/>
<circle cx="1810.32" cy="217.82" r="3" fill="#000"/>
<circle cx="1810.31" cy="214.42" r="3" fill="#000"/>
<circle cx="1810.58" cy="211.02" r="3" fill="#000"/>
<circle cx="1810.1" cy="176.99" r="3" fill="#000"/>
<circle cx="1810.1" cy="198.68" r="3" fill="#000"/>
<line x1="1820.9" y1="225.19" x2="1820.9" y2="215.55" stroke="#000" stroke-width="2.4"/>
<line x1="1817.9" y1="215.55" x2="1823.9" y2="215.55" stroke="#000" stroke-width="2.4"/>
<rect x="1817.3" y="225.19" width="7.2" height="50.61" fill="#e8141e" stroke="#000" stroke-width="2.4"/>
<circle cx="1821.45" cy="242.9" r="3" fill="#000"/>
<circle cx="1820.79" cy="239.51" r="3" fill="#000"/>
<circle cx="1821.49" cy="236.11" r="3" fill="#000"/>
<circle cx="1821.45" cy="232.71" r="3" fill="#000"/>
<circle cx="1821.01" cy="229.31" r="3" fill="#000"/>
<circle cx="1821.36" cy="225.91" r="3" fill="#000"/>
<circle cx="1820.89" cy="222.51" r="3" fill="#000"/>
<circle cx="1820.75" cy="219.12" r="3" fill="#000"/>
<circle cx="1820.9" cy="173.62" r="3" fill="#000"/>
<line x1="1831.3" y1="237.24" x2="1831.3" y2="227.6" stroke="#000" stroke-width="2.4"/>
<line x1="1828.3" y1="227.6" x2="1834.3" y2="227.6" stroke="#000" stroke-width="2.4"/>
<rect x="1827.7" y="237.24" width="7.2" height="38.56" fill="#ffe614" stroke="#000" stroke-width="2.4"/>
<circle cx="1831" cy="250.74" r="3" fill="#000"/>
<circle cx="1831.75" cy="247.11" r="3" fill="#000"/>
<circle cx="1830.89" cy="243.49" r="3" fill="#000"/>
<circle cx="1830.78" cy="239.86" r="3" fill="#000"/>
<circle cx="1831.67" cy="236.24" r="3" fill="#000"/>
<circle cx="1831.63" cy="232.61" r="3" fill="#000"/>
<circle cx="1831.3" cy="210.73" r="3" fill="#000"/>
<line x1="1848.9" y1="227.6" x2="1848.9" y2="210.73" stroke="#000" stroke-width="2.4"/>
<line x1="1845.9" y1="210.73" x2="1851.9" y2="210.73" stroke="#000" stroke-width="2.4"/>
<rect x="1845.3" y="227.6" width="7.2" height="48.2" fill="#ffffff" stroke="#000" stroke-width="2.4"/>
<circle cx="1848.88" cy="244.47" r="3" fill="#000"/>
<circle cx="1849.3" cy="241.23" r="3" fill="#000"/>
<circle cx="1848.36" cy="238" r="3" fill="#000"/>
<circle cx="1848.61" cy="234.76" r="3" fill="#000"/>
<circle cx="1848.65" cy="231.52" r="3" fill="#000"/>
<circle cx="1848.8" cy="228.29" r="3" fill="#000"/>
<circle cx="1848.5" cy="225.05" r="3" fill="#000"/>
<circle cx="1848.38" cy="221.82" r="3" fill="#000"/>
<circle cx="1848.9" cy="191.45" r="3" fill="#000"/>
<line x1="1859.3" y1="196.27" x2="1859.3" y2="167.35" stroke="#000" stroke-width="2.4"/>
<line x1="1856.3" y1="167.35" x2="1862.3" y2="167.35" stroke="#000" stroke-width="2.4"/>
<rect x="1855.7" y="196.27" width="7.2" height="79.53" fill="#1e1ef0" stroke="#000" stroke-width="2.4"/>
<circle cx="1859.11" cy="224.11" r="3" fill="#000"/>
<circle cx="1859.78" cy="220.71" r="3" fill="#000"/>
<circle cx="1859.88" cy="217.31" r="3" fill="#000"/>
<circle cx="1859.6" cy="213.91" r="3" fill="#000"/>
<circle cx="1859.27" cy="210.51" r="3" fill="#000"/>
<circle cx="1859" cy="207.12" r="3" fill="#000"/>
<circle cx="1859.85" cy="203.72" r="3" fill="#000"/>
<circle cx="1859.33" cy="200.32" r="3" fill="#000"/>
<circle cx="1859.57" cy="196.92" r="3" fill="#000"/>
<circle cx="1858.73" cy="193.52" r="3" fill="#000"/>
<circle cx="1858.95" cy="190.12" r="3" fill="#000"/>
<circle cx="1859.71" cy="186.73" r="3" fill="#000"/>
<line x1="1870.1" y1="179.4" x2="1870.1" y2="168.8" stroke="#000" stroke-width="2.4"/>
<line x1="1867.1" y1="168.8" x2="1873.1" y2="168.8" stroke="#000" stroke-width="2.4"/>
<rect x="1866.5" y="179.4" width="7.2" height="96.4" fill="#e8141e" stroke="#000" stroke-width="2.4"/>
<circle cx="1870.45" cy="213.14" r="3" fill="#000"/>
<circle cx="1870.56" cy="209.73" r="3" fill="#000"/>
<circle cx="1870.22" cy="206.32" r="3" fill="#000"/>
<circle cx="1870.01" cy="202.91" r="3" fill="#000"/>
<circle cx="1870.2" cy="199.5" r="3" fill="#000"/>
<circle cx="1870.52" cy="196.08" r="3" fill="#000"/>
<circle cx="1869.87" cy="192.67" r="3" fill="#000"/>
<circle cx="1870.14" cy="189.26" r="3" fill="#000"/>
<circle cx="1869.83" cy="185.85" r="3" fill="#000"/>
<circle cx="1870.42" cy="182.44" r="3" fill="#000"/>
<circle cx="1869.51" cy="179.03" r="3" fill="#000"/>
<circle cx="1870.32" cy="175.62" r="3" fill="#000"/>
<circle cx="1870.64" cy="172.21" r="3" fill="#000"/>
<circle cx="1869.53" cy="168.8" r="3" fill="#000"/>
<line x1="1880.5" y1="203.5" x2="1880.5" y2="174.58" stroke="#000" stroke-width="2.4"/>
<line x1="1877.5" y1="174.58" x2="1883.5" y2="174.58" stroke="#000" stroke-width="2.4"/>
<rect x="1876.9" y="203.5" width="7.2" height="72.3" fill="#ffe614" stroke="#000" stroke-width="2.4"/>
<circle cx="1880.61" cy="228.81" r="3" fill="#000"/>
<circle cx="1880.67" cy="225.41" r="3" fill="#000"/>
<circle cx="1880.92" cy="222.01" r="3" fill="#000"/>
<circle cx="1880.6" cy="218.61" r="3" fill="#000"/>
<circle cx="1880.21" cy="215.21" r="3" fill="#000"/>
<circle cx="1880.39" cy="211.81" r="3" fill="#000"/>
<circle cx="1881.05" cy="208.42" r="3" fill="#000"/>
<circle cx="1880.99" cy="205.02" r="3" fill="#000"/>
<circle cx="1880.06" cy="201.62" r="3" fill="#000"/>
<circle cx="1880.01" cy="198.22" r="3" fill="#000"/>
<circle cx="1880.01" cy="194.82" r="3" fill="#000"/>
<line x1="1898.1" y1="227.6" x2="1898.1" y2="215.55" stroke="#000" stroke-width="2.4"/>
<line x1="1895.1" y1="215.55" x2="1901.1" y2="215.55" stroke="#000" stroke-width="2.4"/>
<rect x="1894.5" y="227.6" width="7.2" height="48.2" fill="#ffffff" stroke="#000" stroke-width="2.4"/>
<circle cx="1897.53" cy="244.47" r="3" fill="#000"/>
<circle cx="1898.04" cy="241.23" r="3" fill="#000"/>
<circle cx="1897.67" cy="238" r="3" fill="#000"/>
<circle cx="1898.54" cy="234.76" r="3" fill="#000"/>
<circle cx="1898.29" cy="231.52" r="3" fill="#000"/>
<circle cx="1897.65" cy="228.29" r="3" fill="#000"/>
<circle cx="1898.15" cy="225.05" r="3" fill="#000"/>
<circle cx="1897.89" cy="221.82" r="3" fill="#000"/>
<circle cx="1898.1" cy="184.22" r="3" fill="#000"/>
<circle cx="1898.1" cy="192.9" r="3" fill="#000"/>
<line x1="1908.5" y1="273.39" x2="1908.5" y2="270.02" stroke="#000" stroke-width="2.4"/>
<line x1="1905.5" y1="270.02" x2="1911.5" y2="270.02" stroke="#000" stroke-width="2.4"/>
<rect x="1904.9" y="273.39" width="7.2" height="2.41" fill="#1e1ef0" stroke="#000" stroke-width="2.4"/>
<circle cx="1908.49" cy="274.35" r="3" fill="#000"/>
<circle cx="1908.16" cy="273.1" r="3" fill="#000"/>
<line x1="1919.3" y1="251.7" x2="1919.3" y2="234.83" stroke="#000" stroke-width="2.4"/>
<line x1="1916.3" y1="234.83" x2="1922.3" y2="234.83" stroke="#000" stroke-width="2.4"/>
<rect x="1915.7" y="251.7" width="7.2" height="24.1" fill="#e8141e" stroke="#000" stroke-width="2.4"/>
<circle cx="1918.9" cy="261.34" r="3" fill="#000"/>
<circle cx="1918.92" cy="257.16" r="3" fill="#000"/>
<circle cx="1919.15" cy="252.99" r="3" fill="#000"/>
<circle cx="1919.55" cy="248.81" r="3" fill="#000"/>
<circle cx="1919.3" cy="232.42" r="3" fill="#000"/>
<line x1="1929.7" y1="273.39" x2="1929.7" y2="270.02" stroke="#000" stroke-width="2.4"/>
<line x1="1926.7" y1="270.02" x2="1932.7" y2="270.02" stroke="#000" stroke-width="2.4"/>
<rect x="1926.1" y="273.39" width="7.2" height="2.41" fill="#ffe614" stroke="#000" stroke-width="2.4"/>
<circle cx="1929.76" cy="274.35" r="3" fill="#000"/>
<circle cx="1929.16" cy="273.1" r="3" fill="#000"/>
<line x1="1947.3" y1="227.6" x2="1947.3" y2="221.82" stroke="#000" stroke-width="2.4"/>
<line x1="1944.3" y1="221.82" x2="1950.3" y2="221.82" stroke="#000" stroke-width="2.4"/>
<rect x="1943.7" y="227.6" width="7.2" height="48.2" fill="#ffffff" stroke="#000" stroke-width="2.4"/>
<circle cx="1947.55" cy="244.47" r="3" fill="#000"/>
<circle cx="1947.75" cy="241.23" r="3" fill="#000"/>
<circle cx="1947.63" cy="238" r="3" fill="#000"/>
<circle cx="1947.65" cy="234.76" r="3" fill="#000"/>
<circle cx="1946.71" cy="231.52" r="3" fill="#000"/>
<circle cx="1947.26" cy="228.29" r="3" fill="#000"/>
<circle cx="1946.78" cy="225.05" r="3" fill="#000"/>
<circle cx="1947.62" cy="221.82" r="3" fill="#000"/>
<circle cx="1947.3" cy="210.73" r="3" fill="#000"/>
<line x1="1957.7" y1="237.24" x2="1957.7" y2="232.42" stroke="#000" stroke-width="2.4"/>
<line x1="1954.7" y1="232.42" x2="1960.7" y2="232.42" stroke="#000" stroke-width="2.4"/>
<rect x="1954.1" y="237.24" width="7.2" height="38.56" fill="#1e1ef0" stroke="#000" stroke-width="2.4"/>
<circle cx="1957.31" cy="250.74" r="3" fill="#000"/>
<circle cx="1957.95" cy="247.11" r="3" fill="#000"/>
<circle cx="1957.4" cy="243.49" r="3" fill="#000"/>
<circle cx="1957.94" cy="239.86" r="3" fill="#000"/>
<circle cx="1957.48" cy="236.24" r="3" fill="#000"/>
<circle cx="1957.15" cy="232.61" r="3" fill="#000"/>
<circle cx="1957.7" cy="222.78" r="3" fill="#000"/>
<line x1="1968.5" y1="222.78" x2="1968.5" y2="210.73" stroke="#000" stroke-width="2.4"/>
<line x1="1965.5" y1="210.73" x2="1971.5" y2="210.73" stroke="#000" stroke-width="2.4"/>
<rect x="1964.9" y="222.78" width="7.2" height="53.02" fill="#e8141e" stroke="#000" stroke-width="2.4"/>
<circle cx="1968.37" cy="241.34" r="3" fill="#000"/>
<circle cx="1968.27" cy="237.78" r="3" fill="#000"/>
<circle cx="1968.98" cy="234.22" r="3" fill="#000"/>
<circle cx="1968.25" cy="230.66" r="3" fill="#000"/>
<circle cx="1968.5" cy="227.1" r="3" fill="#000"/>
<circle cx="1968.56" cy="223.54" r="3" fill="#000"/>
<circle cx="1969.04" cy="219.98" r="3" fill="#000"/>
<circle cx="1968.02" cy="216.42" r="3" fill="#000"/>
<circle cx="1968.5" cy="210.73" r="3" fill="#000"/>
<line x1="1978.9" y1="214.1" x2="1978.9" y2="198.68" stroke="#000" stroke-width="2.4"/>
<line x1="1975.9" y1="198.68" x2="1981.9" y2="198.68" stroke="#000" stroke-width="2.4"/>
<rect x="1975.3" y="214.1" width="7.2" height="61.7" fill="#ffe614" stroke="#000" stroke-width="2.4"/>
<circle cx="1979.02" cy="235.7" r="3" fill="#000"/>
<circle cx="1978.91" cy="232.48" r="3" fill="#000"/>
<circle cx="1979.18" cy="229.25" r="3" fill="#000"/>
<circle cx="1979.46" cy="226.03" r="3" fill="#000"/>
<circle cx="1978.67" cy="222.81" r="3" fill="#000"/>
<circle cx="1979.14" cy="219.59" r="3" fill="#000"/>
<circle cx="1978.93" cy="216.37" r="3" fill="#000"/>
<circle cx="1978.97" cy="213.14" r="3" fill="#000"/>
<circle cx="1978.38" cy="209.92" r="3" fill="#000"/>
<circle cx="1979.28" cy="206.7" r="3" fill="#000"/>
<circle cx="1978.9" cy="198.68" r="3" fill="#000"/>
<line x1="1996.5" y1="227.6" x2="1996.5" y2="213.14" stroke="#000" stroke-width="2.4"/>
<line x1="1993.5" y1="213.14" x2="1999.5" y2="213.14" stroke="#000" stroke-width="2.4"/>
<rect x="1992.9" y="227.6" width="7.2" height="48.2" fill="#ffffff" stroke="#000" stroke-width="2.4"/>
<circle cx="1997.07" cy="244.47" r="3" fill="#000"/>
<circle cx="1996.33" cy="241.23" r="3" fill="#000"/>
<circle cx="1996.28" cy="238" r="3" fill="#000"/>
<circle cx="1997.09" cy="234.76" r="3" fill="#000"/>
<circle cx="1996.03" cy="231.52" r="3" fill="#000"/>
<circle cx="1995.99" cy="228.29" r="3" fill="#000"/>
<circle cx="1995.99" cy="225.05" r="3" fill="#000"/>
<circle cx="1996.88" cy="221.82" r="3" fill="#000"/>
<circle cx="1996.5" cy="213.14" r="3" fill="#000"/>
<line x1="2006.9" y1="185.67" x2="2006.9" y2="132.16" stroke="#000" stroke-width="2.4"/>
<line x1="2003.9" y1="132.16" x2="2009.9" y2="132.16" stroke="#000" stroke-width="2.4"/>
<rect x="2003.3" y="185.67" width="7.2" height="90.13" fill="#1e1ef0" stroke="#000" stroke-width="2.4"/>
<circle cx="2007.21" cy="217.21" r="3" fill="#000"/>
<circle cx="2006.84" cy="213.95" r="3" fill="#000"/>
<circle cx="2007.05" cy="210.7" r="3" fill="#000"/>
<circle cx="2006.32" cy="207.44" r="3" fill="#000"/>
<circle cx="2007.07" cy="204.18" r="3" fill="#000"/>
<circle cx="2006.83" cy="200.92" r="3" fill="#000"/>
<circle cx="2006.92" cy="197.66" r="3" fill="#000"/>
<circle cx="2006.77" cy="194.4" r="3" fill="#000"/>
<circle cx="2006.78" cy="191.14" r="3" fill="#000"/>
<circle cx="2006.57" cy="187.88" r="3" fill="#000"/>
<circle cx="2006.36" cy="184.63" r="3" fill="#000"/>
<circle cx="2006.82" cy="181.37" r="3" fill="#000"/>
<circle cx="2006.6" cy="178.11" r="3" fill="#000"/>
<circle cx="2007.15" cy="174.85" r="3" fill="#000"/>
<line x1="2017.7" y1="234.83" x2="2017.7" y2="227.6" stroke="#000" stroke-width="2.4"/>
<line x1="2014.7" y1="227.6" x2="2020.7" y2="227.6" stroke="#000" stroke-width="2.4"/>
<rect x="2014.1" y="234.83" width="7.2" height="40.97" fill="#e8141e" stroke="#000" stroke-width="2.4"/>
<circle cx="2018.08" cy="249.17" r="3" fill="#000"/>
<circle cx="2017.97" cy="245.96" r="3" fill="#000"/>
<circle cx="2017.65" cy="242.75" r="3" fill="#000"/>
<circle cx="2017.38" cy="239.54" r="3" fill="#000"/>
<circle cx="2017.56" cy="236.33" r="3" fill="#000"/>
<circle cx="2017.68" cy="233.12" r="3" fill="#000"/>
<circle cx="2017.86" cy="229.91" r="3" fill="#000"/>
<circle cx="2017.7" cy="203.5" r="3" fill="#000"/>
<line x1="2028.1" y1="232.42" x2="2028.1" y2="222.78" stroke="#000" stroke-width="2.4"/>
<line x1="2025.1" y1="222.78" x2="2031.1" y2="222.78" stroke="#000" stroke-width="2.4"/>
<rect x="2024.5" y="232.42" width="7.2" height="43.38" fill="#ffe614" stroke="#000" stroke-width="2.4"/>
<circle cx="2028.66" cy="247.6" r="3" fill="#000"/>
<circle cx="2027.6" cy="244.2" r="3" fill="#000"/>
<circle cx="2028.08" cy="240.81" r="3" fill="#000"/>
<circle cx="2028.09" cy="237.41" r="3" fill="#000"/>
<circle cx="2028.36" cy="234.01" r="3" fill="#000"/>
<circle cx="2028.57" cy="230.61" r="3" fill="#000"/>
<circle cx="2028.44" cy="227.21" r="3" fill="#000"/>
<circle cx="2028.1" cy="203.5" r="3" fill="#000"/>
<line x1="2045.7" y1="227.6" x2="2045.7" y2="217.96" stroke="#000" stroke-width="2.4"/>
<line x1="2042.7" y1="217.96" x2="2048.7" y2="217.96" stroke="#000" stroke-width="2.4"/>
<rect x="2042.1" y="227.6" width="7.2" height="48.2" fill="#ffffff" stroke="#000" stroke-width="2.4"/>
<circle cx="2045.85" cy="244.47" r="3" fill="#000"/>
<circle cx="2046.01" cy="241.23" r="3" fill="#000"/>
<circle cx="2045.9" cy="238" r="3" fill="#000"/>
<circle cx="2046.13" cy="234.76" r="3" fill="#000"/>
<circle cx="2045.94" cy="231.52" r="3" fill="#000"/>
<circle cx="2045.92" cy="228.29" r="3" fill="#000"/>
<circle cx="2045.39" cy="225.05" r="3" fill="#000"/>
<circle cx="2046.2" cy="221.82" r="3" fill="#000"/>
<circle cx="2045.7" cy="179.4" r="3" fill="#000"/>
<line x1="2056.1" y1="197.72" x2="2056.1" y2="174.58" stroke="#000" stroke-width="2.4"/>
<line x1="2053.1" y1="174.58" x2="2059.1" y2="174.58" stroke="#000" stroke-width="2.4"/>
<rect x="2052.5" y="197.72" width="7.2" height="78.08" fill="#1e1ef0" stroke="#000" stroke-width="2.4"/>
<circle cx="2055.96" cy="225.05" r="3" fill="#000"/>
<circle cx="2056.24" cy="221.71" r="3" fill="#000"/>
<circle cx="2056.49" cy="218.37" r="3" fill="#000"/>
<circle cx="2056.66" cy="215.04" r="3" fill="#000"/>
<circle cx="2056.69" cy="211.7" r="3" fill="#000"/>
<circle cx="2055.51" cy="208.36" r="3" fill="#000"/>
<circle cx="2055.88" cy="205.03" r="3" fill="#000"/>
<circle cx="2055.87" cy="201.69" r="3" fill="#000"/>
<circle cx="2055.97" cy="198.35" r="3" fill="#000"/>
<circle cx="2055.67" cy="195.02" r="3" fill="#000"/>
<circle cx="2056.16" cy="191.68" r="3" fill="#000"/>
<circle cx="2055.6" cy="188.35" r="3" fill="#000"/>
<circle cx="2056.1" cy="136.98" r="3" fill="#000"/>
<line x1="2066.9" y1="237.24" x2="2066.9" y2="230.01" stroke="#000" stroke-width="2.4"/>
<line x1="2063.9" y1="230.01" x2="2069.9" y2="230.01" stroke="#000" stroke-width="2.4"/>
<rect x="2063.3" y="237.24" width="7.2" height="38.56" fill="#e8141e" stroke="#000" stroke-width="2.4"/>
<circle cx="2066.66" cy="250.74" r="3" fill="#000"/>
<circle cx="2067.43" cy="247.11" r="3" fill="#000"/>
<circle cx="2067.19" cy="243.49" r="3" fill="#000"/>
<circle cx="2066.85" cy="239.86" r="3" fill="#000"/>
<circle cx="2066.43" cy="236.24" r="3" fill="#000"/>
<circle cx="2067.45" cy="232.61" r="3" fill="#000"/>
<circle cx="2066.9" cy="210.73" r="3" fill="#000"/>
<line x1="2077.3" y1="232.42" x2="2077.3" y2="222.78" stroke="#000" stroke-width="2.4"/>
<line x1="2074.3" y1="222.78" x2="2080.3" y2="222.78" stroke="#000" stroke-width="2.4"/>
<rect x="2073.7" y="232.42" width="7.2" height="43.38" fill="#ffe614" stroke="#000" stroke-width="2.4"/>
<circle cx="2077.54" cy="247.6" r="3" fill="#000"/>
<circle cx="2076.95" cy="244.2" r="3" fill="#000"/>
<circle cx="2077.1" cy="240.81" r="3" fill="#000"/>
<circle cx="2077.47" cy="237.41" r="3" fill="#000"/>
<circle cx="2077.52" cy="234.01" r="3" fill="#000"/>
<circle cx="2077.01" cy="230.61" r="3" fill="#000"/>
<circle cx="2077.84" cy="227.21" r="3" fill="#000"/>
<circle cx="2077.3" cy="203.5" r="3" fill="#000"/>
<text x="1760.4" y="243.5" font-size="17.1" text-anchor="middle" fill="#f0283c" style="stroke:#f0283c">*</text>
<text x="1782.1" y="243.5" font-size="17.1" text-anchor="middle" fill="#f0283c" style="stroke:#f0283c">*</text>
<text x="1908.2" y="262" font-size="17.1" text-anchor="middle" fill="#f0283c" style="stroke:#f0283c">*</text>
<text x="1928.8" y="266" font-size="17.1" text-anchor="middle" fill="#f0283c" style="stroke:#f0283c">*</text>
<line x1="1645.2" y1="130" x2="1645.2" y2="277.1" stroke="#000" stroke-width="2.6"/>
<line x1="1643.9" y1="275.8" x2="2085.5" y2="275.8" stroke="#000" stroke-width="2.6"/>
<line x1="1639.2" y1="275.8" x2="1645.2" y2="275.8" stroke="#000" stroke-width="2.6"/>
<text x="1632" y="282.6" font-size="19" text-anchor="end">0</text>
<line x1="1639.2" y1="227.6" x2="1645.2" y2="227.6" stroke="#000" stroke-width="2.6"/>
<text x="1632" y="234.4" font-size="19" text-anchor="end">1</text>
<line x1="1639.2" y1="179.4" x2="1645.2" y2="179.4" stroke="#000" stroke-width="2.6"/>
<text x="1632" y="186.2" font-size="19" text-anchor="end">2</text>
<line x1="1639.2" y1="131.2" x2="1645.2" y2="131.2" stroke="#000" stroke-width="2.6"/>
<text x="1632" y="138" font-size="19" text-anchor="end">3</text>
<line x1="1667.7" y1="275.8" x2="1667.7" y2="284.8" stroke="#000" stroke-width="2.6"/>
<text x="1676.7" y="294.5" font-size="21" text-anchor="end" textLength="129.89" lengthAdjust="spacingAndGlyphs" transform="rotate(-45 1676.7 294.5)">L-methionine</text>
<line x1="1716.9" y1="275.8" x2="1716.9" y2="284.8" stroke="#000" stroke-width="2.6"/>
<text x="1725.9" y="294.5" font-size="21" text-anchor="end" textLength="158.61" lengthAdjust="spacingAndGlyphs" transform="rotate(-45 1725.9 294.5)">L-homocysteine</text>
<line x1="1766.1" y1="275.8" x2="1766.1" y2="284.8" stroke="#000" stroke-width="2.6"/>
<text x="1775.1" y="294.5" font-size="21" text-anchor="end" textLength="151.12" lengthAdjust="spacingAndGlyphs" transform="rotate(-45 1775.1 294.5)">L-cystathionine</text>
<line x1="1815.3" y1="275.8" x2="1815.3" y2="284.8" stroke="#000" stroke-width="2.6"/>
<text x="1824.3" y="294.5" font-size="21" text-anchor="end" textLength="204.84" lengthAdjust="spacingAndGlyphs" transform="rotate(-45 1824.3 294.5)">Methionine sulfoxide</text>
<line x1="1864.5" y1="275.8" x2="1864.5" y2="284.8" stroke="#000" stroke-width="2.6"/>
<text x="1873.5" y="294.5" font-size="21" text-anchor="end" textLength="194.81" lengthAdjust="spacingAndGlyphs" transform="rotate(-45 1873.5 294.5)">N-Acetylmethionine</text>
<line x1="1913.7" y1="275.8" x2="1913.7" y2="284.8" stroke="#000" stroke-width="2.6"/>
<text x="1922.7" y="294.5" font-size="21" text-anchor="end" textLength="121.15" lengthAdjust="spacingAndGlyphs" transform="rotate(-45 1922.7 294.5)">Hypotaurine</text>
<line x1="1962.9" y1="275.8" x2="1962.9" y2="284.8" stroke="#000" stroke-width="2.6"/>
<text x="1971.9" y="294.5" font-size="21" text-anchor="end" textLength="73.69" lengthAdjust="spacingAndGlyphs" transform="rotate(-45 1971.9 294.5)">Taurine</text>
<line x1="2012.1" y1="275.8" x2="2012.1" y2="284.8" stroke="#000" stroke-width="2.6"/>
<text x="2021.1" y="294.5" font-size="21" text-anchor="end" textLength="249.79" lengthAdjust="spacingAndGlyphs" transform="rotate(-45 2021.1 294.5)">S-adenosyl-L-methionine</text>
<line x1="2061.3" y1="275.8" x2="2061.3" y2="284.8" stroke="#000" stroke-width="2.6"/>
<text x="2070.3" y="294.5" font-size="21" text-anchor="end" textLength="280.99" lengthAdjust="spacingAndGlyphs" transform="rotate(-45 2070.3 294.5)">S-Adenosyl-L-homocysteine</text>
<text x="1610" y="202.5" font-size="19.5" text-anchor="middle" textLength="143" lengthAdjust="spacingAndGlyphs" transform="rotate(-90 1610 202.5)">Relative intensity</text>
<text x="1801" y="604.2" font-size="25.18" textLength="176" lengthAdjust="spacingAndGlyphs">Energy Balance</text>
<line x1="1760.6" y1="785.85" x2="1760.6" y2="783.87" stroke="#000" stroke-width="2.4"/>
<line x1="1757.6" y1="783.87" x2="1763.6" y2="783.87" stroke="#000" stroke-width="2.4"/>
<rect x="1756.8" y="785.85" width="7.6" height="10.95" fill="#ffffff" stroke="#000" stroke-width="2.4"/>
<circle cx="1760.39" cy="794.06" r="3.2" fill="#000"/>
<circle cx="1760.31" cy="789.3" r="3.2" fill="#000"/>
<circle cx="1761.01" cy="784.54" r="3.2" fill="#000"/>
<line x1="1771.6" y1="787.84" x2="1771.6" y2="786.85" stroke="#000" stroke-width="2.4"/>
<line x1="1768.6" y1="786.85" x2="1774.6" y2="786.85" stroke="#000" stroke-width="2.4"/>
<rect x="1767.8" y="787.84" width="7.6" height="8.96" fill="#1e1ef0" stroke="#000" stroke-width="2.4"/>
<circle cx="1771.18" cy="794.56" r="3.2" fill="#000"/>
<circle cx="1771.82" cy="790.71" r="3.2" fill="#000"/>
<circle cx="1771.24" cy="786.85" r="3.2" fill="#000"/>
<line x1="1782.4" y1="786.85" x2="1782.4" y2="782.87" stroke="#000" stroke-width="2.4"/>
<line x1="1779.4" y1="782.87" x2="1785.4" y2="782.87" stroke="#000" stroke-width="2.4"/>
<rect x="1778.6" y="786.85" width="7.6" height="9.95" fill="#e8141e" stroke="#000" stroke-width="2.4"/>
<circle cx="1782.52" cy="794.31" r="3.2" fill="#000"/>
<circle cx="1782.13" cy="789.98" r="3.2" fill="#000"/>
<circle cx="1782.25" cy="785.66" r="3.2" fill="#000"/>
<circle cx="1782.4" cy="782.87" r="3.2" fill="#000"/>
<line x1="1793.1" y1="783.87" x2="1793.1" y2="776.9" stroke="#000" stroke-width="2.4"/>
<line x1="1790.1" y1="776.9" x2="1796.1" y2="776.9" stroke="#000" stroke-width="2.4"/>
<rect x="1789.3" y="783.87" width="7.6" height="12.93" fill="#ffe614" stroke="#000" stroke-width="2.4"/>
<circle cx="1793.63" cy="793.57" r="3.2" fill="#000"/>
<circle cx="1793.06" cy="789.82" r="3.2" fill="#000"/>
<circle cx="1793.02" cy="786.06" r="3.2" fill="#000"/>
<circle cx="1793.24" cy="782.31" r="3.2" fill="#000"/>
<circle cx="1793.1" cy="776.9" r="3.2" fill="#000"/>
<line x1="1811.9" y1="786.85" x2="1811.9" y2="781.88" stroke="#000" stroke-width="2.4"/>
<line x1="1808.9" y1="781.88" x2="1814.9" y2="781.88" stroke="#000" stroke-width="2.4"/>
<rect x="1808.1" y="786.85" width="7.6" height="9.95" fill="#ffffff" stroke="#000" stroke-width="2.4"/>
<circle cx="1811.64" cy="794.31" r="3.2" fill="#000"/>
<circle cx="1811.51" cy="789.98" r="3.2" fill="#000"/>
<circle cx="1811.76" cy="785.66" r="3.2" fill="#000"/>
<circle cx="1811.9" cy="766.95" r="3.2" fill="#000"/>
<circle cx="1811.9" cy="781.88" r="3.2" fill="#000"/>
<line x1="1822.9" y1="788.84" x2="1822.9" y2="787.35" stroke="#000" stroke-width="2.4"/>
<line x1="1819.9" y1="787.35" x2="1825.9" y2="787.35" stroke="#000" stroke-width="2.4"/>
<rect x="1819.1" y="788.84" width="7.6" height="7.96" fill="#1e1ef0" stroke="#000" stroke-width="2.4"/>
<circle cx="1822.63" cy="794.81" r="3.2" fill="#000"/>
<circle cx="1822.53" cy="791.35" r="3.2" fill="#000"/>
<circle cx="1823.45" cy="787.88" r="3.2" fill="#000"/>
<line x1="1833.7" y1="785.85" x2="1833.7" y2="780.88" stroke="#000" stroke-width="2.4"/>
<line x1="1830.7" y1="780.88" x2="1836.7" y2="780.88" stroke="#000" stroke-width="2.4"/>
<rect x="1829.9" y="785.85" width="7.6" height="10.95" fill="#e8141e" stroke="#000" stroke-width="2.4"/>
<circle cx="1833.14" cy="794.06" r="3.2" fill="#000"/>
<circle cx="1834.07" cy="789.3" r="3.2" fill="#000"/>
<circle cx="1834.22" cy="784.54" r="3.2" fill="#000"/>
<circle cx="1833.7" cy="761.97" r="3.2" fill="#000"/>
<circle cx="1833.7" cy="770.93" r="3.2" fill="#000"/>
<line x1="1844.4" y1="790.83" x2="1844.4" y2="788.84" stroke="#000" stroke-width="2.4"/>
<line x1="1841.4" y1="788.84" x2="1847.4" y2="788.84" stroke="#000" stroke-width="2.4"/>
<rect x="1840.6" y="790.83" width="7.6" height="5.97" fill="#ffe614" stroke="#000" stroke-width="2.4"/>
<circle cx="1844.65" cy="795.31" r="3.2" fill="#000"/>
<circle cx="1843.82" cy="790.11" r="3.2" fill="#000"/>
<circle cx="1844.4" cy="776.9" r="3.2" fill="#000"/>
<line x1="1863.2" y1="786.85" x2="1863.2" y2="781.88" stroke="#000" stroke-width="2.4"/>
<line x1="1860.2" y1="781.88" x2="1866.2" y2="781.88" stroke="#000" stroke-width="2.4"/>
<rect x="1859.4" y="786.85" width="7.6" height="9.95" fill="#ffffff" stroke="#000" stroke-width="2.4"/>
<circle cx="1863.2" cy="794.31" r="3.2" fill="#000"/>
<circle cx="1862.65" cy="789.98" r="3.2" fill="#000"/>
<circle cx="1863.33" cy="785.66" r="3.2" fill="#000"/>
<circle cx="1863.2" cy="776.9" r="3.2" fill="#000"/>
<circle cx="1863.2" cy="783.87" r="3.2" fill="#000"/>
<line x1="1874.2" y1="789.83" x2="1874.2" y2="783.87" stroke="#000" stroke-width="2.4"/>
<line x1="1871.2" y1="783.87" x2="1877.2" y2="783.87" stroke="#000" stroke-width="2.4"/>
<rect x="1870.4" y="789.83" width="7.6" height="6.97" fill="#1e1ef0" stroke="#000" stroke-width="2.4"/>
<circle cx="1874.44" cy="795.06" r="3.2" fill="#000"/>
<circle cx="1873.89" cy="789" r="3.2" fill="#000"/>
<circle cx="1874.2" cy="783.87" r="3.2" fill="#000"/>
<line x1="1885" y1="771.92" x2="1885" y2="754.01" stroke="#000" stroke-width="2.4"/>
<line x1="1882" y1="754.01" x2="1888" y2="754.01" stroke="#000" stroke-width="2.4"/>
<rect x="1881.2" y="771.92" width="7.6" height="24.88" fill="#e8141e" stroke="#000" stroke-width="2.4"/>
<circle cx="1884.41" cy="790.58" r="3.2" fill="#000"/>
<circle cx="1885.05" cy="786.97" r="3.2" fill="#000"/>
<circle cx="1884.51" cy="783.37" r="3.2" fill="#000"/>
<circle cx="1884.77" cy="779.76" r="3.2" fill="#000"/>
<circle cx="1884.94" cy="776.15" r="3.2" fill="#000"/>
<circle cx="1885.47" cy="772.55" r="3.2" fill="#000"/>
<circle cx="1884.84" cy="768.94" r="3.2" fill="#000"/>
<circle cx="1885" cy="658.49" r="3.2" fill="#000"/>
<line x1="1895.7" y1="729.14" x2="1895.7" y2="701.28" stroke="#000" stroke-width="2.4"/>
<line x1="1892.7" y1="701.28" x2="1898.7" y2="701.28" stroke="#000" stroke-width="2.4"/>
<rect x="1891.9" y="729.14" width="7.6" height="67.66" fill="#ffe614" stroke="#000" stroke-width="2.4"/>
<circle cx="1895.26" cy="752.82" r="3.2" fill="#000"/>
<circle cx="1896.05" cy="749.29" r="3.2" fill="#000"/>
<circle cx="1896.09" cy="745.75" r="3.2" fill="#000"/>
<circle cx="1895.74" cy="742.22" r="3.2" fill="#000"/>
<circle cx="1895.16" cy="738.69" r="3.2" fill="#000"/>
<circle cx="1895.33" cy="735.15" r="3.2" fill="#000"/>
<circle cx="1895.58" cy="731.62" r="3.2" fill="#000"/>
<circle cx="1895.76" cy="728.09" r="3.2" fill="#000"/>
<circle cx="1895.37" cy="724.55" r="3.2" fill="#000"/>
<circle cx="1896.06" cy="721.02" r="3.2" fill="#000"/>
<circle cx="1895.7" cy="706.25" r="3.2" fill="#000"/>
<circle cx="1895.7" cy="761.97" r="3.2" fill="#000"/>
<line x1="1914.5" y1="786.85" x2="1914.5" y2="784.36" stroke="#000" stroke-width="2.4"/>
<line x1="1911.5" y1="784.36" x2="1917.5" y2="784.36" stroke="#000" stroke-width="2.4"/>
<rect x="1910.7" y="786.85" width="7.6" height="9.95" fill="#ffffff" stroke="#000" stroke-width="2.4"/>
<circle cx="1914.91" cy="794.31" r="3.2" fill="#000"/>
<circle cx="1915.01" cy="789.98" r="3.2" fill="#000"/>
<circle cx="1914.96" cy="785.66" r="3.2" fill="#000"/>
<line x1="1925.5" y1="786.85" x2="1925.5" y2="784.86" stroke="#000" stroke-width="2.4"/>
<line x1="1922.5" y1="784.86" x2="1928.5" y2="784.86" stroke="#000" stroke-width="2.4"/>
<rect x="1921.7" y="786.85" width="7.6" height="9.95" fill="#1e1ef0" stroke="#000" stroke-width="2.4"/>
<circle cx="1924.92" cy="794.31" r="3.2" fill="#000"/>
<circle cx="1925.6" cy="789.98" r="3.2" fill="#000"/>
<circle cx="1925" cy="785.66" r="3.2" fill="#000"/>
<line x1="1936.3" y1="785.85" x2="1936.3" y2="783.87" stroke="#000" stroke-width="2.4"/>
<line x1="1933.3" y1="783.87" x2="1939.3" y2="783.87" stroke="#000" stroke-width="2.4"/>
<rect x="1932.5" y="785.85" width="7.6" height="10.95" fill="#e8141e" stroke="#000" stroke-width="2.4"/>
<circle cx="1936.78" cy="794.06" r="3.2" fill="#000"/>
<circle cx="1936.6" cy="789.3" r="3.2" fill="#000"/>
<circle cx="1936.61" cy="784.54" r="3.2" fill="#000"/>
<circle cx="1936.3" cy="778.89" r="3.2" fill="#000"/>
<line x1="1947" y1="779.88" x2="1947" y2="772.92" stroke="#000" stroke-width="2.4"/>
<line x1="1944" y1="772.92" x2="1950" y2="772.92" stroke="#000" stroke-width="2.4"/>
<rect x="1943.2" y="779.88" width="7.6" height="16.91" fill="#ffe614" stroke="#000" stroke-width="2.4"/>
<circle cx="1946.63" cy="792.57" r="3.2" fill="#000"/>
<circle cx="1946.47" cy="788.89" r="3.2" fill="#000"/>
<circle cx="1947.38" cy="785.21" r="3.2" fill="#000"/>
<circle cx="1947.13" cy="781.53" r="3.2" fill="#000"/>
<circle cx="1947.14" cy="777.86" r="3.2" fill="#000"/>
<circle cx="1947" cy="773.91" r="3.2" fill="#000"/>
<line x1="1965.8" y1="785.85" x2="1965.8" y2="780.88" stroke="#000" stroke-width="2.4"/>
<line x1="1962.8" y1="780.88" x2="1968.8" y2="780.88" stroke="#000" stroke-width="2.4"/>
<rect x="1962" y="785.85" width="7.6" height="10.95" fill="#ffffff" stroke="#000" stroke-width="2.4"/>
<circle cx="1965.77" cy="794.06" r="3.2" fill="#000"/>
<circle cx="1966.16" cy="789.3" r="3.2" fill="#000"/>
<circle cx="1965.61" cy="784.54" r="3.2" fill="#000"/>
<circle cx="1965.8" cy="780.88" r="3.2" fill="#000"/>
<line x1="1976.8" y1="785.85" x2="1976.8" y2="782.87" stroke="#000" stroke-width="2.4"/>
<line x1="1973.8" y1="782.87" x2="1979.8" y2="782.87" stroke="#000" stroke-width="2.4"/>
<rect x="1973" y="785.85" width="7.6" height="10.95" fill="#1e1ef0" stroke="#000" stroke-width="2.4"/>
<circle cx="1976.52" cy="794.06" r="3.2" fill="#000"/>
<circle cx="1976.62" cy="789.3" r="3.2" fill="#000"/>
<circle cx="1976.56" cy="784.54" r="3.2" fill="#000"/>
<circle cx="1976.8" cy="782.87" r="3.2" fill="#000"/>
<line x1="1987.6" y1="791.82" x2="1987.6" y2="785.85" stroke="#000" stroke-width="2.4"/>
<line x1="1984.6" y1="785.85" x2="1990.6" y2="785.85" stroke="#000" stroke-width="2.4"/>
<rect x="1983.8" y="791.82" width="7.6" height="4.98" fill="#e8141e" stroke="#000" stroke-width="2.4"/>
<circle cx="1987.75" cy="795.56" r="3.2" fill="#000"/>
<circle cx="1988.07" cy="791.23" r="3.2" fill="#000"/>
<circle cx="1987.6" cy="785.85" r="3.2" fill="#000"/>
<line x1="1998.3" y1="795.8" x2="1998.3" y2="793.81" stroke="#000" stroke-width="2.4"/>
<line x1="1995.3" y1="793.81" x2="2001.3" y2="793.81" stroke="#000" stroke-width="2.4"/>
<rect x="1994.5" y="795.8" width="7.6" height="1" fill="#ffe614" stroke="#000" stroke-width="2.4"/>
<circle cx="1997.79" cy="795.8" r="3.2" fill="#000"/>
<circle cx="1997.78" cy="795.69" r="3.2" fill="#000"/>
<circle cx="1998.3" cy="792.82" r="3.2" fill="#000"/>
<line x1="2017.1" y1="786.85" x2="2017.1" y2="783.87" stroke="#000" stroke-width="2.4"/>
<line x1="2014.1" y1="783.87" x2="2020.1" y2="783.87" stroke="#000" stroke-width="2.4"/>
<rect x="2013.3" y="786.85" width="7.6" height="9.95" fill="#ffffff" stroke="#000" stroke-width="2.4"/>
<circle cx="2017.11" cy="794.31" r="3.2" fill="#000"/>
<circle cx="2017.31" cy="789.98" r="3.2" fill="#000"/>
<circle cx="2016.73" cy="785.66" r="3.2" fill="#000"/>
<circle cx="2017.1" cy="783.87" r="3.2" fill="#000"/>
<line x1="2028.1" y1="786.85" x2="2028.1" y2="784.36" stroke="#000" stroke-width="2.4"/>
<line x1="2025.1" y1="784.36" x2="2031.1" y2="784.36" stroke="#000" stroke-width="2.4"/>
<rect x="2024.3" y="786.85" width="7.6" height="9.95" fill="#1e1ef0" stroke="#000" stroke-width="2.4"/>
<circle cx="2027.82" cy="794.31" r="3.2" fill="#000"/>
<circle cx="2027.57" cy="789.98" r="3.2" fill="#000"/>
<circle cx="2027.54" cy="785.66" r="3.2" fill="#000"/>
<circle cx="2028.1" cy="784.36" r="3.2" fill="#000"/>
<line x1="2038.9" y1="788.84" x2="2038.9" y2="785.85" stroke="#000" stroke-width="2.4"/>
<line x1="2035.9" y1="785.85" x2="2041.9" y2="785.85" stroke="#000" stroke-width="2.4"/>
<rect x="2035.1" y="788.84" width="7.6" height="7.96" fill="#e8141e" stroke="#000" stroke-width="2.4"/>
<circle cx="2038.89" cy="794.81" r="3.2" fill="#000"/>
<circle cx="2039.12" cy="791.35" r="3.2" fill="#000"/>
<circle cx="2039.08" cy="787.88" r="3.2" fill="#000"/>
<circle cx="2038.9" cy="785.85" r="3.2" fill="#000"/>
<line x1="2049.6" y1="790.83" x2="2049.6" y2="786.85" stroke="#000" stroke-width="2.4"/>
<line x1="2046.6" y1="786.85" x2="2052.6" y2="786.85" stroke="#000" stroke-width="2.4"/>
<rect x="2045.8" y="790.83" width="7.6" height="5.97" fill="#ffe614" stroke="#000" stroke-width="2.4"/>
<circle cx="2049.19" cy="795.31" r="3.2" fill="#000"/>
<circle cx="2049.12" cy="790.11" r="3.2" fill="#000"/>
<circle cx="2049.6" cy="785.85" r="3.2" fill="#000"/>
<text x="1771.2" y="782.5" font-size="17.1" text-anchor="middle" fill="#f0283c" style="stroke:#f0283c">*</text>
<text x="1947.1" y="761.5" font-size="17.1" text-anchor="middle" fill="#f0283c" style="stroke:#f0283c">*</text>
<text x="1998.4" y="783.5" font-size="17.1" text-anchor="middle" fill="#f0283c" style="stroke:#f0283c">*</text>
<text x="2050.4" y="777.5" font-size="17.1" text-anchor="middle" fill="#f0283c" style="stroke:#f0283c">*</text>
<line x1="1751.6" y1="647" x2="1751.6" y2="798.1" stroke="#000" stroke-width="2.6"/>
<line x1="1750.3" y1="796.8" x2="2057" y2="796.8" stroke="#000" stroke-width="2.6"/>
<line x1="1745.6" y1="796.8" x2="1751.6" y2="796.8" stroke="#000" stroke-width="2.6"/>
<text x="1739" y="803.6" font-size="19" text-anchor="end">0</text>
<line x1="1745.6" y1="747.05" x2="1751.6" y2="747.05" stroke="#000" stroke-width="2.6"/>
<text x="1739" y="753.85" font-size="19" text-anchor="end">5</text>
<line x1="1745.6" y1="697.3" x2="1751.6" y2="697.3" stroke="#000" stroke-width="2.6"/>
<text x="1739" y="704.1" font-size="19" text-anchor="end">10</text>
<line x1="1745.6" y1="647.55" x2="1751.6" y2="647.55" stroke="#000" stroke-width="2.6"/>
<text x="1739" y="654.35" font-size="19" text-anchor="end">15</text>
<line x1="1776.6" y1="796.8" x2="1776.6" y2="804.8" stroke="#000" stroke-width="2.6"/>
<text x="1783.1" y="812" font-size="21" text-anchor="end" textLength="84.93" lengthAdjust="spacingAndGlyphs" transform="rotate(-45 1783.1 812)">Creatine</text>
<line x1="1827.9" y1="796.8" x2="1827.9" y2="804.8" stroke="#000" stroke-width="2.6"/>
<text x="1834.4" y="812" font-size="21" text-anchor="end" textLength="168.63" lengthAdjust="spacingAndGlyphs" transform="rotate(-45 1834.4 812)">Phosphocreatine</text>
<line x1="1879.2" y1="796.8" x2="1879.2" y2="804.8" stroke="#000" stroke-width="2.6"/>
<text x="1885.7" y="812" font-size="21" text-anchor="end" textLength="257.31" lengthAdjust="spacingAndGlyphs" transform="rotate(-45 1885.7 812)">Creatine/phosphocreatine</text>
<line x1="1930.5" y1="796.8" x2="1930.5" y2="804.8" stroke="#000" stroke-width="2.6"/>
<text x="1937" y="812" font-size="21" text-anchor="end" textLength="102.41" lengthAdjust="spacingAndGlyphs" transform="rotate(-45 1937 812)">Creatinine</text>
<line x1="1981.8" y1="796.8" x2="1981.8" y2="804.8" stroke="#000" stroke-width="2.6"/>
<text x="1988.3" y="812" font-size="21" text-anchor="end" textLength="96.97" lengthAdjust="spacingAndGlyphs" transform="rotate(-45 1988.3 812)">AMP/ATP</text>
<line x1="2033.1" y1="796.8" x2="2033.1" y2="804.8" stroke="#000" stroke-width="2.6"/>
<text x="2039.6" y="812" font-size="21" text-anchor="end" textLength="94.48" lengthAdjust="spacingAndGlyphs" transform="rotate(-45 2039.6 812)">ADP/ATP</text>
<text x="1713" y="732" font-size="19.5" text-anchor="middle" textLength="143" lengthAdjust="spacingAndGlyphs" transform="rotate(-90 1713 732)">Relative intensity</text>
<text x="30.3" y="684.3" font-size="32" font-weight="bold">b</text>
<text x="158" y="747.7" font-size="25.25" textLength="239" lengthAdjust="spacingAndGlyphs">Spearman correlation</text>
<rect x="140.7" y="769.3" width="72" height="69.7" fill="#67001f"/>
<rect x="212.7" y="769.3" width="73.2" height="69.7" fill="#f4a582"/>
<rect x="285.9" y="769.3" width="74.6" height="69.7" fill="#f4a582"/>
<rect x="140.7" y="839" width="72" height="70" fill="#f4a582"/>
<rect x="212.7" y="839" width="73.2" height="70" fill="#67001f"/>
<rect x="285.9" y="839" width="74.6" height="70" fill="#f4a582"/>
<rect x="140.7" y="909" width="72" height="71" fill="#f4a582"/>
<rect x="212.7" y="909" width="73.2" height="71" fill="#f4a582"/>
<rect x="285.9" y="909" width="74.6" height="71" fill="#67001f"/>
<text x="176.7" y="812.5" font-size="20.4" text-anchor="middle" textLength="51" lengthAdjust="spacingAndGlyphs">1.000</text>
<text x="249.3" y="812.5" font-size="20.4" text-anchor="middle" textLength="51" lengthAdjust="spacingAndGlyphs">0.374</text>
<text x="323.2" y="812.5" font-size="20.4" text-anchor="middle" textLength="51" lengthAdjust="spacingAndGlyphs">0.396</text>
<text x="176.7" y="881.8" font-size="20.4" text-anchor="middle" textLength="51" lengthAdjust="spacingAndGlyphs">0.374</text>
<text x="249.3" y="881.8" font-size="20.4" text-anchor="middle" textLength="51" lengthAdjust="spacingAndGlyphs">1.000</text>
<text x="323.2" y="881.8" font-size="20.4" text-anchor="middle" textLength="51" lengthAdjust="spacingAndGlyphs">0.353</text>
<text x="176.7" y="952.3" font-size="20.4" text-anchor="middle" textLength="51" lengthAdjust="spacingAndGlyphs">0.396</text>
<text x="249.3" y="952.3" font-size="20.4" text-anchor="middle" textLength="51" lengthAdjust="spacingAndGlyphs">0.353</text>
<text x="323.2" y="952.3" font-size="20.4" text-anchor="middle" textLength="51" lengthAdjust="spacingAndGlyphs">1.000</text>
<line x1="212.7" y1="769.3" x2="212.7" y2="980" stroke="#000" stroke-width="2.7" stroke-dasharray="2.7 2.6"/>
<line x1="140.7" y1="839" x2="360.5" y2="839" stroke="#000" stroke-width="2.7" stroke-dasharray="2.7 2.6"/>
<line x1="285.9" y1="769.3" x2="285.9" y2="980" stroke="#000" stroke-width="2.7" stroke-dasharray="2.7 2.6"/>
<line x1="140.7" y1="909" x2="360.5" y2="909" stroke="#000" stroke-width="2.7" stroke-dasharray="2.7 2.6"/>
<rect x="140.7" y="769.3" width="219.8" height="210.7" fill="none" stroke="#1a1a1a" stroke-width="2.6" rx="1.5"/>
<rect x="370.7" y="769.3" width="22.7" height="19.31" fill="#67001f"/>
<rect x="370.7" y="788.31" width="22.7" height="19.31" fill="#b2182b"/>
<rect x="370.7" y="807.32" width="22.7" height="19.31" fill="#d6604d"/>
<rect x="370.7" y="826.33" width="22.7" height="19.31" fill="#f4a582"/>
<rect x="370.7" y="845.34" width="22.7" height="19.31" fill="#fddbc7"/>
<rect x="370.7" y="864.35" width="22.7" height="19.31" fill="#f7f7f7"/>
<rect x="370.7" y="883.35" width="22.7" height="19.31" fill="#d1e5f0"/>
<rect x="370.7" y="902.36" width="22.7" height="19.31" fill="#92c5de"/>
<rect x="370.7" y="921.37" width="22.7" height="19.31" fill="#4393c3"/>
<rect x="370.7" y="940.38" width="22.7" height="19.31" fill="#2166ac"/>
<rect x="370.7" y="959.39" width="22.7" height="19.31" fill="#053061"/>
<rect x="370.7" y="769.3" width="22.7" height="209.1" fill="none" stroke="#1a1a1a" stroke-width="2.6" rx="2"/>
<text x="400.2" y="778.4" font-size="20" textLength="11.68" lengthAdjust="spacingAndGlyphs">1</text>
<text x="400.2" y="829.5" font-size="20" textLength="29.19" lengthAdjust="spacingAndGlyphs">0.5</text>
<text x="400.2" y="881.8" font-size="20" textLength="11.68" lengthAdjust="spacingAndGlyphs">0</text>
<text x="400.2" y="933" font-size="20" textLength="36.18" lengthAdjust="spacingAndGlyphs">-0.5</text>
<text x="400.2" y="985.2" font-size="20" textLength="18.67" lengthAdjust="spacingAndGlyphs">-1</text>
<text x="131" y="812.5" font-size="20" text-anchor="end" textLength="38.5" lengthAdjust="spacingAndGlyphs">liver</text>
<text x="126.4" y="881.8" font-size="20" text-anchor="end" textLength="67.69" lengthAdjust="spacingAndGlyphs">plasma</text>
<text x="127.5" y="948.9" font-size="20" text-anchor="end" textLength="65.35" lengthAdjust="spacingAndGlyphs">tumour</text>
<text x="178.5" y="996.5" font-size="20" text-anchor="end" textLength="38.5" lengthAdjust="spacingAndGlyphs" transform="rotate(-45 178.5 996.5)">liver</text>
<text x="253.5" y="998" font-size="20" text-anchor="end" textLength="67.69" lengthAdjust="spacingAndGlyphs" transform="rotate(-45 253.5 998)">plasma</text>
<text x="325.5" y="998" font-size="20" text-anchor="end" textLength="65.35" lengthAdjust="spacingAndGlyphs" transform="rotate(-45 325.5 998)">tumour</text>
<circle cx="697.59" cy="869.09" r="4.4" fill="#d95319"/>
<circle cx="677.27" cy="911.19" r="4.4" fill="#d95319"/>
<circle cx="658" cy="908.03" r="4.4" fill="#d95319"/>
<circle cx="659.16" cy="929.35" r="4.4" fill="#d95319"/>
<circle cx="679.48" cy="896.83" r="4.4" fill="#d95319"/>
<circle cx="685.25" cy="909.81" r="4.4" fill="#d95319"/>
<circle cx="676.25" cy="901.24" r="4.4" fill="#d95319"/>
<circle cx="651.12" cy="903.59" r="4.4" fill="#d95319"/>
<circle cx="681.5" cy="862.36" r="4.4" fill="#d95319"/>
<circle cx="679.54" cy="900.94" r="4.4" fill="#d95319"/>
<circle cx="696.67" cy="888.11" r="4.4" fill="#d95319"/>
<circle cx="691.28" cy="898.93" r="4.4" fill="#d95319"/>
<circle cx="679.79" cy="883.44" r="4.4" fill="#d95319"/>
<circle cx="687.74" cy="893.18" r="4.4" fill="#d95319"/>
<circle cx="658.16" cy="901.8" r="4.4" fill="#d95319"/>
<circle cx="677.44" cy="889.01" r="4.4" fill="#d95319"/>
<circle cx="679.76" cy="882.5" r="4.4" fill="#d95319"/>
<circle cx="675.31" cy="897.69" r="4.4" fill="#d95319"/>
<circle cx="687.25" cy="911.48" r="4.4" fill="#d95319"/>
<circle cx="669.48" cy="910.76" r="4.4" fill="#d95319"/>
<circle cx="709.11" cy="886.84" r="4.4" fill="#d95319"/>
<circle cx="687.01" cy="886.21" r="4.4" fill="#d95319"/>
<circle cx="671.49" cy="925.49" r="4.4" fill="#d95319"/>
<circle cx="692.21" cy="899.13" r="4.4" fill="#d95319"/>
<circle cx="688.11" cy="914.35" r="4.4" fill="#d95319"/>
<circle cx="668.88" cy="884.89" r="4.4" fill="#d95319"/>
<circle cx="699.96" cy="908.96" r="4.4" fill="#d95319"/>
<circle cx="654" cy="910.96" r="4.4" fill="#d95319"/>
<circle cx="688.28" cy="892.46" r="4.4" fill="#d95319"/>
<circle cx="681.21" cy="912.75" r="4.4" fill="#d95319"/>
<circle cx="685.92" cy="879.29" r="4.4" fill="#d95319"/>
<circle cx="668.92" cy="924.9" r="4.4" fill="#d95319"/>
<circle cx="663.54" cy="894.67" r="4.4" fill="#d95319"/>
<circle cx="647.33" cy="914.67" r="4.4" fill="#d95319"/>
<circle cx="659.68" cy="909.69" r="4.4" fill="#d95319"/>
<circle cx="672.1" cy="901.91" r="4.4" fill="#d95319"/>
<circle cx="701.13" cy="882.8" r="4.4" fill="#d95319"/>
<circle cx="698.35" cy="892.42" r="4.4" fill="#d95319"/>
<circle cx="668.19" cy="898.27" r="4.4" fill="#d95319"/>
<circle cx="629" cy="922.16" r="4.4" fill="#d95319"/>
<circle cx="678.83" cy="917.49" r="4.4" fill="#d95319"/>
<circle cx="683.89" cy="905.15" r="4.4" fill="#d95319"/>
<circle cx="635.26" cy="921.92" r="4.4" fill="#d95319"/>
<circle cx="659.88" cy="915.39" r="4.4" fill="#d95319"/>
<circle cx="673.63" cy="882.84" r="4.4" fill="#d95319"/>
<circle cx="677.88" cy="899.96" r="4.4" fill="#d95319"/>
<circle cx="682.63" cy="924.35" r="4.4" fill="#d95319"/>
<circle cx="696.79" cy="907.04" r="4.4" fill="#d95319"/>
<circle cx="683.47" cy="913.78" r="4.4" fill="#d95319"/>
<circle cx="659.92" cy="913.53" r="4.4" fill="#d95319"/>
<circle cx="707.69" cy="875.72" r="4.4" fill="#d95319"/>
<circle cx="666.12" cy="909.07" r="4.4" fill="#d95319"/>
<circle cx="657.01" cy="909.45" r="4.4" fill="#d95319"/>
<circle cx="666.63" cy="893.87" r="4.4" fill="#d95319"/>
<circle cx="653.59" cy="915.46" r="4.4" fill="#d95319"/>
<circle cx="662.16" cy="917.32" r="4.4" fill="#d95319"/>
<circle cx="687.99" cy="893.1" r="4.4" fill="#d95319"/>
<circle cx="685.9" cy="878.23" r="4.4" fill="#d95319"/>
<circle cx="695.28" cy="912.1" r="4.4" fill="#d95319"/>
<circle cx="685.09" cy="922.49" r="4.4" fill="#d95319"/>
<circle cx="675.1" cy="872.24" r="4.4" fill="#d95319"/>
<circle cx="672.94" cy="907.25" r="4.4" fill="#d95319"/>
<circle cx="679" cy="898.77" r="4.4" fill="#d95319"/>
<circle cx="676.61" cy="911.38" r="4.4" fill="#d95319"/>
<circle cx="694.16" cy="878.97" r="4.4" fill="#d95319"/>
<circle cx="672.63" cy="897.22" r="4.4" fill="#d95319"/>
<circle cx="687.12" cy="880.02" r="4.4" fill="#d95319"/>
<circle cx="682.7" cy="887.02" r="4.4" fill="#d95319"/>
<circle cx="671.79" cy="918.19" r="4.4" fill="#d95319"/>
<circle cx="667.93" cy="888.86" r="4.4" fill="#d95319"/>
<circle cx="692.43" cy="890.8" r="4.4" fill="#d95319"/>
<circle cx="666.73" cy="899.99" r="4.4" fill="#d95319"/>
<circle cx="703.83" cy="867.69" r="4.4" fill="#d95319"/>
<circle cx="664.8" cy="906.08" r="4.4" fill="#d95319"/>
<circle cx="652.02" cy="928.09" r="4.4" fill="#d95319"/>
<circle cx="679.3" cy="898.53" r="4.4" fill="#d95319"/>
<circle cx="692.21" cy="874.22" r="4.4" fill="#d95319"/>
<circle cx="690.05" cy="874.42" r="4.4" fill="#d95319"/>
<circle cx="667.06" cy="921.21" r="4.4" fill="#d95319"/>
<circle cx="684.49" cy="856.7" r="4.4" fill="#d95319"/>
<circle cx="682.1" cy="914.77" r="4.4" fill="#d95319"/>
<circle cx="680.2" cy="877.28" r="4.4" fill="#d95319"/>
<circle cx="658.96" cy="896.11" r="4.4" fill="#d95319"/>
<circle cx="666" cy="885.95" r="4.4" fill="#d95319"/>
<circle cx="689.23" cy="889.9" r="4.4" fill="#d95319"/>
<circle cx="709.43" cy="891.4" r="4.4" fill="#d95319"/>
<circle cx="664.75" cy="877.86" r="4.4" fill="#d95319"/>
<circle cx="661.59" cy="874.17" r="4.4" fill="#d95319"/>
<circle cx="675.5" cy="916.03" r="4.4" fill="#d95319"/>
<circle cx="676.13" cy="898.38" r="4.4" fill="#d95319"/>
<circle cx="679.51" cy="901.66" r="4.4" fill="#d95319"/>
<circle cx="694.15" cy="926.72" r="4.4" fill="#d95319"/>
<circle cx="666.94" cy="908.37" r="4.4" fill="#d95319"/>
<circle cx="706.43" cy="916.32" r="4.4" fill="#d95319"/>
<circle cx="670.51" cy="919.86" r="4.4" fill="#d95319"/>
<circle cx="665.11" cy="895.77" r="4.4" fill="#d95319"/>
<circle cx="683" cy="875.8" r="4.4" fill="#d95319"/>
<circle cx="666.19" cy="900.81" r="4.4" fill="#d95319"/>
<circle cx="695.68" cy="878.07" r="4.4" fill="#d95319"/>
<circle cx="670.58" cy="886.05" r="4.4" fill="#d95319"/>
<circle cx="660.8" cy="880.41" r="4.4" fill="#d95319"/>
<circle cx="678.73" cy="900.83" r="4.4" fill="#d95319"/>
<circle cx="680.67" cy="885.65" r="4.4" fill="#d95319"/>
<circle cx="705.13" cy="889.37" r="4.4" fill="#d95319"/>
<circle cx="670.05" cy="894.34" r="4.4" fill="#d95319"/>
<circle cx="661.67" cy="932.08" r="4.4" fill="#d95319"/>
<circle cx="690.07" cy="899.69" r="4.4" fill="#d95319"/>
<circle cx="694.91" cy="907.14" r="4.4" fill="#d95319"/>
<circle cx="627.99" cy="917.81" r="4.4" fill="#d95319"/>
<circle cx="678.74" cy="875.34" r="4.4" fill="#d95319"/>
<circle cx="684.9" cy="891.77" r="4.4" fill="#d95319"/>
<circle cx="685.92" cy="901.38" r="4.4" fill="#d95319"/>
<circle cx="677.45" cy="919.84" r="4.4" fill="#d95319"/>
<circle cx="684.8" cy="908.4" r="4.4" fill="#d95319"/>
<circle cx="668.75" cy="893.24" r="4.4" fill="#d95319"/>
<circle cx="691.39" cy="908.43" r="4.4" fill="#d95319"/>
<circle cx="709.49" cy="894.09" r="4.4" fill="#d95319"/>
<circle cx="690.05" cy="879.9" r="4.4" fill="#d95319"/>
<circle cx="679.89" cy="896.07" r="4.4" fill="#d95319"/>
<circle cx="706.06" cy="873.59" r="4.4" fill="#d95319"/>
<circle cx="683.57" cy="924.11" r="4.4" fill="#d95319"/>
<circle cx="663.74" cy="888.61" r="4.4" fill="#d95319"/>
<circle cx="679.39" cy="913.06" r="4.4" fill="#d95319"/>
<circle cx="665.48" cy="909.68" r="4.4" fill="#d95319"/>
<circle cx="687.57" cy="889.41" r="4.4" fill="#d95319"/>
<circle cx="692.75" cy="904.99" r="4.4" fill="#d95319"/>
<circle cx="692.56" cy="900.38" r="4.4" fill="#d95319"/>
<circle cx="671.19" cy="876.77" r="4.4" fill="#d95319"/>
<circle cx="677.4" cy="901.83" r="4.4" fill="#d95319"/>
<circle cx="672.67" cy="907.61" r="4.4" fill="#d95319"/>
<circle cx="702.1" cy="868.14" r="4.4" fill="#d95319"/>
<circle cx="688.09" cy="892.19" r="4.4" fill="#d95319"/>
<circle cx="693.5" cy="893.65" r="4.4" fill="#d95319"/>
<circle cx="683.69" cy="890.94" r="4.4" fill="#d95319"/>
<circle cx="677.64" cy="875.12" r="4.4" fill="#d95319"/>
<circle cx="705.36" cy="867.46" r="4.4" fill="#d95319"/>
<circle cx="644.34" cy="887.34" r="4.4" fill="#d95319"/>
<circle cx="687.85" cy="901.75" r="4.4" fill="#d95319"/>
<circle cx="675.76" cy="883.56" r="4.4" fill="#d95319"/>
<circle cx="695.7" cy="878.78" r="4.4" fill="#d95319"/>
<circle cx="678.51" cy="898.72" r="4.4" fill="#d95319"/>
<circle cx="690" cy="895.43" r="4.4" fill="#d95319"/>
<circle cx="661.23" cy="916.32" r="4.4" fill="#d95319"/>
<circle cx="673.84" cy="896.41" r="4.4" fill="#d95319"/>
<circle cx="713.81" cy="903.72" r="4.4" fill="#d95319"/>
<circle cx="684.1" cy="898.1" r="4.4" fill="#d95319"/>
<circle cx="681.17" cy="877.91" r="4.4" fill="#d95319"/>
<circle cx="696.81" cy="893.34" r="4.4" fill="#d95319"/>
<circle cx="666.89" cy="924.77" r="4.4" fill="#d95319"/>
<circle cx="674.98" cy="882.29" r="4.4" fill="#d95319"/>
<circle cx="671.76" cy="891.82" r="4.4" fill="#d95319"/>
<circle cx="687.94" cy="889.09" r="4.4" fill="#d95319"/>
<circle cx="694.19" cy="893.87" r="4.4" fill="#d95319"/>
<circle cx="662.37" cy="923.97" r="4.4" fill="#d95319"/>
<circle cx="691.58" cy="898.75" r="4.4" fill="#d95319"/>
<circle cx="670.99" cy="890.23" r="4.4" fill="#d95319"/>
<circle cx="663.04" cy="879.89" r="4.4" fill="#d95319"/>
<circle cx="687.24" cy="903.15" r="4.4" fill="#d95319"/>
<circle cx="665.63" cy="888.97" r="4.4" fill="#d95319"/>
<circle cx="656.47" cy="918.72" r="4.4" fill="#d95319"/>
<circle cx="676.27" cy="897.25" r="4.4" fill="#d95319"/>
<circle cx="676.42" cy="894.44" r="4.4" fill="#d95319"/>
<circle cx="670.11" cy="904.84" r="4.4" fill="#d95319"/>
<circle cx="697.21" cy="881.22" r="4.4" fill="#d95319"/>
<circle cx="668.68" cy="878.17" r="4.4" fill="#d95319"/>
<circle cx="643.05" cy="913.98" r="4.4" fill="#d95319"/>
<circle cx="687.28" cy="880.83" r="4.4" fill="#d95319"/>
<circle cx="678.02" cy="905.2" r="4.4" fill="#d95319"/>
<circle cx="685.91" cy="898.8" r="4.4" fill="#d95319"/>
<circle cx="684.06" cy="939.25" r="4.4" fill="#d95319"/>
<circle cx="682.51" cy="909.21" r="4.4" fill="#d95319"/>
<circle cx="691.81" cy="882.13" r="4.4" fill="#d95319"/>
<circle cx="688.29" cy="900.86" r="4.4" fill="#d95319"/>
<circle cx="683.38" cy="902.15" r="4.4" fill="#d95319"/>
<circle cx="679.74" cy="900.71" r="4.4" fill="#d95319"/>
<circle cx="661.67" cy="877.43" r="4.4" fill="#d95319"/>
<circle cx="688.2" cy="925.48" r="4.4" fill="#d95319"/>
<circle cx="691.03" cy="914.35" r="4.4" fill="#d95319"/>
<circle cx="672.3" cy="910.71" r="4.4" fill="#d95319"/>
<circle cx="667.27" cy="900.73" r="4.4" fill="#d95319"/>
<circle cx="670.75" cy="924.3" r="4.4" fill="#d95319"/>
<circle cx="676.07" cy="894.93" r="4.4" fill="#d95319"/>
<circle cx="705.6" cy="893.21" r="4.4" fill="#d95319"/>
<circle cx="656.38" cy="914.89" r="4.4" fill="#d95319"/>
<circle cx="687.03" cy="908.56" r="4.4" fill="#d95319"/>
<circle cx="664.17" cy="897.47" r="4.4" fill="#d95319"/>
<circle cx="675.98" cy="897.09" r="4.4" fill="#d95319"/>
<circle cx="665.7" cy="917.32" r="4.4" fill="#d95319"/>
<circle cx="670.77" cy="905.03" r="4.4" fill="#d95319"/>
<circle cx="670.6" cy="896.4" r="4.4" fill="#d95319"/>
<circle cx="685.26" cy="888.05" r="4.4" fill="#d95319"/>
<circle cx="684.14" cy="909.9" r="4.4" fill="#d95319"/>
<circle cx="657.55" cy="896.77" r="4.4" fill="#d95319"/>
<circle cx="676.37" cy="898.4" r="4.4" fill="#d95319"/>
<circle cx="656.87" cy="912.15" r="4.4" fill="#d95319"/>
<circle cx="665.56" cy="917.95" r="4.4" fill="#d95319"/>
<circle cx="665.69" cy="927.26" r="4.4" fill="#d95319"/>
<circle cx="677.58" cy="882.32" r="4.4" fill="#d95319"/>
<circle cx="664.39" cy="904.21" r="4.4" fill="#d95319"/>
<circle cx="658" cy="898.5" r="4.4" fill="#d95319"/>
<circle cx="707.16" cy="904.69" r="4.4" fill="#d95319"/>
<circle cx="672.38" cy="880.83" r="4.4" fill="#d95319"/>
<circle cx="682.28" cy="895.84" r="4.4" fill="#d95319"/>
<circle cx="642.18" cy="917.87" r="4.4" fill="#d95319"/>
<circle cx="691.43" cy="872.06" r="4.4" fill="#d95319"/>
<circle cx="686.83" cy="904.13" r="4.4" fill="#d95319"/>
<circle cx="664.74" cy="932.52" r="4.4" fill="#d95319"/>
<circle cx="658.27" cy="891.68" r="4.4" fill="#d95319"/>
<circle cx="674.26" cy="921.09" r="4.4" fill="#d95319"/>
<circle cx="698.1" cy="915.31" r="4.4" fill="#d95319"/>
<circle cx="697.13" cy="895.66" r="4.4" fill="#d95319"/>
<circle cx="681.81" cy="887.66" r="4.4" fill="#d95319"/>
<circle cx="680.53" cy="879.43" r="4.4" fill="#d95319"/>
<circle cx="676.43" cy="905.05" r="4.4" fill="#d95319"/>
<circle cx="665.16" cy="926.77" r="4.4" fill="#d95319"/>
<circle cx="664.61" cy="890.91" r="4.4" fill="#d95319"/>
<circle cx="689.89" cy="873.42" r="4.4" fill="#d95319"/>
<circle cx="721.53" cy="869.25" r="4.4" fill="#d95319"/>
<circle cx="684.5" cy="916.12" r="4.4" fill="#d95319"/>
<circle cx="672.13" cy="869.46" r="4.4" fill="#d95319"/>
<circle cx="684.97" cy="898.39" r="4.4" fill="#d95319"/>
<circle cx="681.31" cy="926.19" r="4.4" fill="#d95319"/>
<circle cx="662.29" cy="926.05" r="4.4" fill="#d95319"/>
<circle cx="640.6" cy="904.9" r="4.4" fill="#d95319"/>
<circle cx="692.22" cy="895.7" r="4.4" fill="#d95319"/>
<circle cx="681.92" cy="912.7" r="4.4" fill="#d95319"/>
<circle cx="683.7" cy="885.56" r="4.4" fill="#d95319"/>
<circle cx="701.69" cy="865.58" r="4.4" fill="#d95319"/>
<circle cx="684.27" cy="898.55" r="4.4" fill="#d95319"/>
<circle cx="662.42" cy="915.51" r="4.4" fill="#d95319"/>
<circle cx="686.42" cy="887.27" r="4.4" fill="#d95319"/>
<circle cx="676.47" cy="875.41" r="4.4" fill="#d95319"/>
<circle cx="686.95" cy="895.2" r="4.4" fill="#d95319"/>
<circle cx="672.99" cy="900.59" r="4.4" fill="#d95319"/>
<circle cx="660.38" cy="922" r="4.4" fill="#d95319"/>
<circle cx="681.94" cy="906.41" r="4.4" fill="#d95319"/>
<circle cx="671.66" cy="884.18" r="4.4" fill="#d95319"/>
<circle cx="672.95" cy="882.22" r="4.4" fill="#d95319"/>
<circle cx="676.02" cy="877.8" r="4.4" fill="#d95319"/>
<circle cx="683.89" cy="922.99" r="4.4" fill="#d95319"/>
<circle cx="696.76" cy="894.11" r="4.4" fill="#d95319"/>
<circle cx="643.49" cy="913.35" r="4.4" fill="#d95319"/>
<circle cx="678.75" cy="918.35" r="4.4" fill="#d95319"/>
<circle cx="666.06" cy="896.72" r="4.4" fill="#d95319"/>
<circle cx="699.65" cy="872.75" r="4.4" fill="#d95319"/>
<circle cx="696.5" cy="874.47" r="4.4" fill="#d95319"/>
<circle cx="634.84" cy="929.75" r="4.4" fill="#d95319"/>
<circle cx="679.28" cy="938.9" r="4.4" fill="#d95319"/>
<circle cx="688.97" cy="881.27" r="4.4" fill="#d95319"/>
<circle cx="663.27" cy="911.78" r="4.4" fill="#d95319"/>
<circle cx="660.54" cy="907.62" r="4.4" fill="#d95319"/>
<circle cx="675.49" cy="900.72" r="4.4" fill="#d95319"/>
<circle cx="659.17" cy="902.21" r="4.4" fill="#d95319"/>
<circle cx="670.49" cy="888.72" r="4.4" fill="#d95319"/>
<circle cx="681.37" cy="920.04" r="4.4" fill="#d95319"/>
<circle cx="652.17" cy="910.09" r="4.4" fill="#d95319"/>
<circle cx="668.09" cy="896.96" r="4.4" fill="#d95319"/>
<circle cx="689.57" cy="893.97" r="4.4" fill="#d95319"/>
<circle cx="648.13" cy="930.72" r="4.4" fill="#d95319"/>
<circle cx="685.68" cy="911.64" r="4.4" fill="#d95319"/>
<circle cx="694.61" cy="893.34" r="4.4" fill="#d95319"/>
<circle cx="684.81" cy="909.57" r="4.4" fill="#d95319"/>
<circle cx="674.5" cy="945.12" r="4.4" fill="#d95319"/>
<circle cx="672.7" cy="893.32" r="4.4" fill="#d95319"/>
<circle cx="661.25" cy="919.57" r="4.4" fill="#d95319"/>
<circle cx="675.28" cy="899.74" r="4.4" fill="#d95319"/>
<circle cx="662.72" cy="896.31" r="4.4" fill="#d95319"/>
<circle cx="648.79" cy="896.07" r="4.4" fill="#d95319"/>
<circle cx="652.82" cy="923.08" r="4.4" fill="#d95319"/>
<circle cx="698.31" cy="905.12" r="4.4" fill="#d95319"/>
<circle cx="648.67" cy="911.58" r="4.4" fill="#d95319"/>
<circle cx="660.87" cy="923.82" r="4.4" fill="#d95319"/>
<circle cx="664.5" cy="916.63" r="4.4" fill="#d95319"/>
<circle cx="659.95" cy="922.92" r="4.4" fill="#d95319"/>
<circle cx="702.98" cy="898.23" r="4.4" fill="#d95319"/>
<circle cx="692.32" cy="913.93" r="4.4" fill="#d95319"/>
<circle cx="685.22" cy="914.84" r="4.4" fill="#d95319"/>
<circle cx="668.54" cy="894.29" r="4.4" fill="#d95319"/>
<circle cx="667.34" cy="933.52" r="4.4" fill="#d95319"/>
<circle cx="666.98" cy="906.8" r="4.4" fill="#d95319"/>
<circle cx="685.7" cy="910.86" r="4.4" fill="#d95319"/>
<circle cx="671.2" cy="901.62" r="4.4" fill="#d95319"/>
<circle cx="648.74" cy="914.26" r="4.4" fill="#d95319"/>
<circle cx="662.39" cy="900" r="4.4" fill="#d95319"/>
<circle cx="674.33" cy="903.61" r="4.4" fill="#d95319"/>
<circle cx="636" cy="920.03" r="4.4" fill="#d95319"/>
<circle cx="670" cy="917.13" r="4.4" fill="#d95319"/>
<circle cx="667.67" cy="922.94" r="4.4" fill="#d95319"/>
<circle cx="679.06" cy="889.19" r="4.4" fill="#d95319"/>
<circle cx="686.1" cy="903.57" r="4.4" fill="#d95319"/>
<circle cx="704.1" cy="875" r="4.4" fill="#d95319"/>
<circle cx="660.39" cy="909.49" r="4.4" fill="#d95319"/>
<circle cx="649.06" cy="914.28" r="4.4" fill="#d95319"/>
<circle cx="688.02" cy="876.09" r="4.4" fill="#d95319"/>
<circle cx="669.21" cy="930.06" r="4.4" fill="#d95319"/>
<circle cx="673.34" cy="881.33" r="4.4" fill="#d95319"/>
<circle cx="678.56" cy="880.26" r="4.4" fill="#d95319"/>
<circle cx="689.93" cy="870.89" r="4.4" fill="#d95319"/>
<circle cx="686.12" cy="905.71" r="4.4" fill="#d95319"/>
<circle cx="683.58" cy="859.22" r="4.4" fill="#d95319"/>
<circle cx="609.3" cy="807.82" r="4.4" fill="#d95319"/>
<circle cx="676.88" cy="821.84" r="4.4" fill="#d95319"/>
<circle cx="684.29" cy="835.48" r="4.4" fill="#d95319"/>
<circle cx="686.23" cy="834.5" r="4.4" fill="#d95319"/>
<circle cx="721.29" cy="834.5" r="4.4" fill="#d95319"/>
<circle cx="726.16" cy="833.14" r="4.4" fill="#d95319"/>
<circle cx="762.19" cy="835.09" r="4.4" fill="#d95319"/>
<circle cx="709.6" cy="849.11" r="4.4" fill="#d95319"/>
<circle cx="715.45" cy="852.03" r="4.4" fill="#d95319"/>
<circle cx="713.5" cy="854.95" r="4.4" fill="#d95319"/>
<circle cx="637.15" cy="877.93" r="4.4" fill="#d95319"/>
<circle cx="624.5" cy="890.01" r="4.4" fill="#d95319"/>
<circle cx="613.78" cy="904.23" r="4.4" fill="#d95319"/>
<circle cx="623.91" cy="908.51" r="4.4" fill="#d95319"/>
<circle cx="599.18" cy="916.89" r="4.4" fill="#d95319"/>
<circle cx="602.49" cy="935.78" r="4.4" fill="#d95319"/>
<circle cx="624.5" cy="938.7" r="4.4" fill="#d95319"/>
<circle cx="618.07" cy="926.04" r="4.4" fill="#d95319"/>
<circle cx="629.75" cy="923.12" r="4.4" fill="#d95319"/>
<circle cx="635.21" cy="934.8" r="4.4" fill="#d95319"/>
<circle cx="644.36" cy="938.7" r="4.4" fill="#d95319"/>
<circle cx="657.02" cy="949.41" r="4.4" fill="#d95319"/>
<circle cx="658.97" cy="951.36" r="4.4" fill="#d95319"/>
<circle cx="668.7" cy="943.57" r="4.4" fill="#d95319"/>
<circle cx="675.52" cy="954.28" r="4.4" fill="#d95319"/>
<circle cx="683.31" cy="934.8" r="4.4" fill="#d95319"/>
<circle cx="694.02" cy="936.75" r="4.4" fill="#d95319"/>
<circle cx="697.92" cy="929.94" r="4.4" fill="#d95319"/>
<circle cx="706.68" cy="917.28" r="4.4" fill="#d95319"/>
<circle cx="720.31" cy="904.62" r="4.4" fill="#d95319"/>
<circle cx="725.18" cy="885.14" r="4.4" fill="#d95319"/>
<circle cx="731.03" cy="892.93" r="4.4" fill="#d95319"/>
<circle cx="745.63" cy="894.29" r="4.4" fill="#d95319"/>
<circle cx="761.6" cy="882.22" r="4.4" fill="#d95319"/>
<circle cx="676.5" cy="863.72" r="4.4" fill="#d95319"/>
<circle cx="684.29" cy="866.64" r="4.4" fill="#d95319"/>
<circle cx="713.5" cy="867.61" r="4.4" fill="#d95319"/>
<circle cx="703.76" cy="868.59" r="4.4" fill="#d95319"/>
<circle cx="709.6" cy="869.56" r="4.4" fill="#d95319"/>
<circle cx="717.39" cy="868.59" r="4.4" fill="#d95319"/>
<circle cx="639.49" cy="893.9" r="4.4" fill="#d95319"/>
<circle cx="641.44" cy="895.85" r="4.4" fill="#d95319"/>
<rect x="553.8" y="782.5" width="237.6" height="238" fill="none" stroke="#111" stroke-width="2.6"/>
<line x1="613.2" y1="1020.5" x2="613.2" y2="1017.5" stroke="#000" stroke-width="2"/>
<line x1="613.2" y1="782.5" x2="613.2" y2="785.5" stroke="#000" stroke-width="2"/>
<line x1="553.8" y1="961" x2="556.8" y2="961" stroke="#000" stroke-width="2"/>
<line x1="791.4" y1="961" x2="788.4" y2="961" stroke="#000" stroke-width="2"/>
<line x1="672.6" y1="1020.5" x2="672.6" y2="1017.5" stroke="#000" stroke-width="2"/>
<line x1="672.6" y1="782.5" x2="672.6" y2="785.5" stroke="#000" stroke-width="2"/>
<line x1="553.8" y1="901.5" x2="556.8" y2="901.5" stroke="#000" stroke-width="2"/>
<line x1="791.4" y1="901.5" x2="788.4" y2="901.5" stroke="#000" stroke-width="2"/>
<line x1="732" y1="1020.5" x2="732" y2="1017.5" stroke="#000" stroke-width="2"/>
<line x1="732" y1="782.5" x2="732" y2="785.5" stroke="#000" stroke-width="2"/>
<line x1="553.8" y1="842" x2="556.8" y2="842" stroke="#000" stroke-width="2"/>
<line x1="791.4" y1="842" x2="788.4" y2="842" stroke="#000" stroke-width="2"/>
<text x="553.8" y="1047.8" font-size="21.5" text-anchor="middle" textLength="19.69" lengthAdjust="spacingAndGlyphs">-1</text>
<text x="549.8" y="1028.24" font-size="21.5" text-anchor="end" textLength="19.69" lengthAdjust="spacingAndGlyphs">-1</text>
<text x="613.2" y="1047.8" font-size="21.5" text-anchor="middle" textLength="38.16" lengthAdjust="spacingAndGlyphs">-0.5</text>
<text x="549.8" y="968.74" font-size="21.5" text-anchor="end" textLength="38.16" lengthAdjust="spacingAndGlyphs">-0.5</text>
<text x="672.6" y="1047.8" font-size="21.5" text-anchor="middle" textLength="12.31" lengthAdjust="spacingAndGlyphs">0</text>
<text x="549.8" y="909.24" font-size="21.5" text-anchor="end" textLength="12.31" lengthAdjust="spacingAndGlyphs">0</text>
<text x="732" y="1047.8" font-size="21.5" text-anchor="middle" textLength="30.78" lengthAdjust="spacingAndGlyphs">0.5</text>
<text x="549.8" y="849.74" font-size="21.5" text-anchor="end" textLength="30.78" lengthAdjust="spacingAndGlyphs">0.5</text>
<text x="791.4" y="1047.8" font-size="21.5" text-anchor="middle" textLength="12.31" lengthAdjust="spacingAndGlyphs">1</text>
<text x="549.8" y="790.24" font-size="21.5" text-anchor="end" textLength="12.31" lengthAdjust="spacingAndGlyphs">1</text>
<text x="672.6" y="775" font-size="20" text-anchor="middle" textLength="141.71" lengthAdjust="spacingAndGlyphs">Liver vs plasma</text>
<text x="672.6" y="1074.5" font-size="20" text-anchor="middle" textLength="38.5" lengthAdjust="spacingAndGlyphs">liver</text>
<text x="507.5" y="901.5" font-size="20" text-anchor="middle" textLength="67.69" lengthAdjust="spacingAndGlyphs" transform="rotate(-90 507.5 901.5)">plasma</text>
<text x="577.1" y="830.6" font-size="20"><tspan font-style="italic">&#961;</tspan>=0.37</text>
<text x="577.1" y="856.9" font-size="20" textLength="106.2" lengthAdjust="spacingAndGlyphs">p=1.11e-10</text>
<circle cx="1029.82" cy="883.68" r="4.4" fill="#d95319"/>
<circle cx="1002.02" cy="888.82" r="4.4" fill="#d95319"/>
<circle cx="1008.32" cy="910.11" r="4.4" fill="#d95319"/>
<circle cx="990.44" cy="911.28" r="4.4" fill="#d95319"/>
<circle cx="981" cy="919.06" r="4.4" fill="#d95319"/>
<circle cx="989.05" cy="904.56" r="4.4" fill="#d95319"/>
<circle cx="983.41" cy="896.65" r="4.4" fill="#d95319"/>
<circle cx="988.54" cy="952.77" r="4.4" fill="#d95319"/>
<circle cx="1013.41" cy="890.12" r="4.4" fill="#d95319"/>
<circle cx="985.74" cy="897.62" r="4.4" fill="#d95319"/>
<circle cx="999.66" cy="891.93" r="4.4" fill="#d95319"/>
<circle cx="984.15" cy="899.94" r="4.4" fill="#d95319"/>
<circle cx="974.38" cy="885.84" r="4.4" fill="#d95319"/>
<circle cx="978.27" cy="910.39" r="4.4" fill="#d95319"/>
<circle cx="996.65" cy="891.2" r="4.4" fill="#d95319"/>
<circle cx="992.85" cy="889.38" r="4.4" fill="#d95319"/>
<circle cx="944.39" cy="933.34" r="4.4" fill="#d95319"/>
<circle cx="992.24" cy="907" r="4.4" fill="#d95319"/>
<circle cx="1016.41" cy="899.88" r="4.4" fill="#d95319"/>
<circle cx="993.33" cy="932.64" r="4.4" fill="#d95319"/>
<circle cx="998.42" cy="922.57" r="4.4" fill="#d95319"/>
<circle cx="971.94" cy="874.4" r="4.4" fill="#d95319"/>
<circle cx="1004.61" cy="891.82" r="4.4" fill="#d95319"/>
<circle cx="996.95" cy="920.66" r="4.4" fill="#d95319"/>
<circle cx="979.3" cy="901.46" r="4.4" fill="#d95319"/>
<circle cx="963.9" cy="914.19" r="4.4" fill="#d95319"/>
<circle cx="969.38" cy="913.06" r="4.4" fill="#d95319"/>
<circle cx="978.38" cy="879.87" r="4.4" fill="#d95319"/>
<circle cx="1009.22" cy="897.22" r="4.4" fill="#d95319"/>
<circle cx="967.07" cy="929.7" r="4.4" fill="#d95319"/>
<circle cx="993.67" cy="915.51" r="4.4" fill="#d95319"/>
<circle cx="998.61" cy="879.15" r="4.4" fill="#d95319"/>
<circle cx="993.69" cy="906.18" r="4.4" fill="#d95319"/>
<circle cx="1005.84" cy="895.8" r="4.4" fill="#d95319"/>
<circle cx="1006.83" cy="895.52" r="4.4" fill="#d95319"/>
<circle cx="1017.97" cy="887.46" r="4.4" fill="#d95319"/>
<circle cx="979.11" cy="906.97" r="4.4" fill="#d95319"/>
<circle cx="985.32" cy="920.15" r="4.4" fill="#d95319"/>
<circle cx="992.68" cy="887.04" r="4.4" fill="#d95319"/>
<circle cx="963.1" cy="919.93" r="4.4" fill="#d95319"/>
<circle cx="992.33" cy="902.22" r="4.4" fill="#d95319"/>
<circle cx="1006.23" cy="912.35" r="4.4" fill="#d95319"/>
<circle cx="1004.17" cy="895.68" r="4.4" fill="#d95319"/>
<circle cx="996.21" cy="900.81" r="4.4" fill="#d95319"/>
<circle cx="989.83" cy="910.09" r="4.4" fill="#d95319"/>
<circle cx="1000.65" cy="858.93" r="4.4" fill="#d95319"/>
<circle cx="1010.03" cy="873.53" r="4.4" fill="#d95319"/>
<circle cx="1002.89" cy="900.44" r="4.4" fill="#d95319"/>
<circle cx="1003.62" cy="857.3" r="4.4" fill="#d95319"/>
<circle cx="976.26" cy="896.16" r="4.4" fill="#d95319"/>
<circle cx="1009.67" cy="883.05" r="4.4" fill="#d95319"/>
<circle cx="1006.45" cy="866.61" r="4.4" fill="#d95319"/>
<circle cx="1027.23" cy="854.14" r="4.4" fill="#d95319"/>
<circle cx="1019.21" cy="875.6" r="4.4" fill="#d95319"/>
<circle cx="1007.27" cy="886.07" r="4.4" fill="#d95319"/>
<circle cx="999.62" cy="901.69" r="4.4" fill="#d95319"/>
<circle cx="1005.25" cy="866.02" r="4.4" fill="#d95319"/>
<circle cx="993.18" cy="893.88" r="4.4" fill="#d95319"/>
<circle cx="1004.56" cy="890.14" r="4.4" fill="#d95319"/>
<circle cx="1009.18" cy="883.07" r="4.4" fill="#d95319"/>
<circle cx="978.73" cy="924.64" r="4.4" fill="#d95319"/>
<circle cx="1006.21" cy="878.72" r="4.4" fill="#d95319"/>
<circle cx="1011.69" cy="881.36" r="4.4" fill="#d95319"/>
<circle cx="998.73" cy="920.28" r="4.4" fill="#d95319"/>
<circle cx="1015.98" cy="897.91" r="4.4" fill="#d95319"/>
<circle cx="1010.89" cy="904.9" r="4.4" fill="#d95319"/>
<circle cx="986.3" cy="899.67" r="4.4" fill="#d95319"/>
<circle cx="989.75" cy="911.53" r="4.4" fill="#d95319"/>
<circle cx="1008.87" cy="875.96" r="4.4" fill="#d95319"/>
<circle cx="1001.65" cy="897.56" r="4.4" fill="#d95319"/>
<circle cx="984.07" cy="911.51" r="4.4" fill="#d95319"/>
<circle cx="988.44" cy="901.1" r="4.4" fill="#d95319"/>
<circle cx="1007.1" cy="891.05" r="4.4" fill="#d95319"/>
<circle cx="984.65" cy="913.37" r="4.4" fill="#d95319"/>
<circle cx="1014.54" cy="880.55" r="4.4" fill="#d95319"/>
<circle cx="999.48" cy="888.57" r="4.4" fill="#d95319"/>
<circle cx="1004.67" cy="887.43" r="4.4" fill="#d95319"/>
<circle cx="1013.11" cy="870.64" r="4.4" fill="#d95319"/>
<circle cx="955.46" cy="924.59" r="4.4" fill="#d95319"/>
<circle cx="1038.64" cy="888.27" r="4.4" fill="#d95319"/>
<circle cx="998.08" cy="876.11" r="4.4" fill="#d95319"/>
<circle cx="996.28" cy="873.04" r="4.4" fill="#d95319"/>
<circle cx="978.13" cy="927.85" r="4.4" fill="#d95319"/>
<circle cx="993.6" cy="909.08" r="4.4" fill="#d95319"/>
<circle cx="980.9" cy="895.9" r="4.4" fill="#d95319"/>
<circle cx="1000.22" cy="892.29" r="4.4" fill="#d95319"/>
<circle cx="990.54" cy="894.52" r="4.4" fill="#d95319"/>
<circle cx="994.63" cy="908.18" r="4.4" fill="#d95319"/>
<circle cx="1003.71" cy="884" r="4.4" fill="#d95319"/>
<circle cx="997.54" cy="882.77" r="4.4" fill="#d95319"/>
<circle cx="980.53" cy="907.89" r="4.4" fill="#d95319"/>
<circle cx="988.86" cy="878.04" r="4.4" fill="#d95319"/>
<circle cx="1003.66" cy="855.32" r="4.4" fill="#d95319"/>
<circle cx="1018.87" cy="886.15" r="4.4" fill="#d95319"/>
<circle cx="980.72" cy="897.41" r="4.4" fill="#d95319"/>
<circle cx="992.33" cy="900.27" r="4.4" fill="#d95319"/>
<circle cx="981.19" cy="895.17" r="4.4" fill="#d95319"/>
<circle cx="999.03" cy="886.58" r="4.4" fill="#d95319"/>
<circle cx="1000.81" cy="906.89" r="4.4" fill="#d95319"/>
<circle cx="964.35" cy="920.71" r="4.4" fill="#d95319"/>
<circle cx="987.29" cy="909.72" r="4.4" fill="#d95319"/>
<circle cx="1010.1" cy="887.5" r="4.4" fill="#d95319"/>
<circle cx="1017.97" cy="877.65" r="4.4" fill="#d95319"/>
<circle cx="1006.21" cy="880.1" r="4.4" fill="#d95319"/>
<circle cx="1007.9" cy="908.03" r="4.4" fill="#d95319"/>
<circle cx="1011.97" cy="882.85" r="4.4" fill="#d95319"/>
<circle cx="982.41" cy="894.15" r="4.4" fill="#d95319"/>
<circle cx="1001.32" cy="870.52" r="4.4" fill="#d95319"/>
<circle cx="1006.84" cy="882.01" r="4.4" fill="#d95319"/>
<circle cx="973.02" cy="882.91" r="4.4" fill="#d95319"/>
<circle cx="1017.64" cy="868.1" r="4.4" fill="#d95319"/>
<circle cx="1002.97" cy="870.57" r="4.4" fill="#d95319"/>
<circle cx="983.97" cy="891.68" r="4.4" fill="#d95319"/>
<circle cx="996.7" cy="911.25" r="4.4" fill="#d95319"/>
<circle cx="1001.64" cy="885.68" r="4.4" fill="#d95319"/>
<circle cx="1020.75" cy="863.27" r="4.4" fill="#d95319"/>
<circle cx="973.45" cy="942.48" r="4.4" fill="#d95319"/>
<circle cx="995.25" cy="899.17" r="4.4" fill="#d95319"/>
<circle cx="982.98" cy="927.85" r="4.4" fill="#d95319"/>
<circle cx="993.59" cy="915.87" r="4.4" fill="#d95319"/>
<circle cx="986.49" cy="887.36" r="4.4" fill="#d95319"/>
<circle cx="999.79" cy="905.13" r="4.4" fill="#d95319"/>
<circle cx="980.3" cy="908.73" r="4.4" fill="#d95319"/>
<circle cx="1021.17" cy="886.86" r="4.4" fill="#d95319"/>
<circle cx="1021.13" cy="891.49" r="4.4" fill="#d95319"/>
<circle cx="993.37" cy="885.55" r="4.4" fill="#d95319"/>
<circle cx="985.32" cy="901.42" r="4.4" fill="#d95319"/>
<circle cx="977" cy="896.95" r="4.4" fill="#d95319"/>
<circle cx="1012.94" cy="894.67" r="4.4" fill="#d95319"/>
<circle cx="999.03" cy="899.94" r="4.4" fill="#d95319"/>
<circle cx="965.5" cy="870.33" r="4.4" fill="#d95319"/>
<circle cx="1005.37" cy="875.41" r="4.4" fill="#d95319"/>
<circle cx="1001.92" cy="888.45" r="4.4" fill="#d95319"/>
<circle cx="1030.28" cy="902.51" r="4.4" fill="#d95319"/>
<circle cx="991.89" cy="904.87" r="4.4" fill="#d95319"/>
<circle cx="993.39" cy="885.52" r="4.4" fill="#d95319"/>
<circle cx="986.05" cy="923.68" r="4.4" fill="#d95319"/>
<circle cx="980.22" cy="898.19" r="4.4" fill="#d95319"/>
<circle cx="1009.98" cy="872.66" r="4.4" fill="#d95319"/>
<circle cx="1019.22" cy="888.36" r="4.4" fill="#d95319"/>
<circle cx="1010.57" cy="874.29" r="4.4" fill="#d95319"/>
<circle cx="993.99" cy="908.95" r="4.4" fill="#d95319"/>
<circle cx="1008.93" cy="897.86" r="4.4" fill="#d95319"/>
<circle cx="992.16" cy="913.8" r="4.4" fill="#d95319"/>
<circle cx="1021.36" cy="879.27" r="4.4" fill="#d95319"/>
<circle cx="989.21" cy="903.83" r="4.4" fill="#d95319"/>
<circle cx="993.12" cy="895.69" r="4.4" fill="#d95319"/>
<circle cx="971.94" cy="930.33" r="4.4" fill="#d95319"/>
<circle cx="1003.61" cy="872.37" r="4.4" fill="#d95319"/>
<circle cx="981.89" cy="902.75" r="4.4" fill="#d95319"/>
<circle cx="988.11" cy="937.92" r="4.4" fill="#d95319"/>
<circle cx="991.9" cy="915.83" r="4.4" fill="#d95319"/>
<circle cx="1008.83" cy="890.2" r="4.4" fill="#d95319"/>
<circle cx="995.8" cy="919.46" r="4.4" fill="#d95319"/>
<circle cx="998.41" cy="925.69" r="4.4" fill="#d95319"/>
<circle cx="999.49" cy="870.27" r="4.4" fill="#d95319"/>
<circle cx="979" cy="892.51" r="4.4" fill="#d95319"/>
<circle cx="1016.47" cy="884.96" r="4.4" fill="#d95319"/>
<circle cx="1012.32" cy="883.05" r="4.4" fill="#d95319"/>
<circle cx="989.29" cy="932.78" r="4.4" fill="#d95319"/>
<circle cx="980.92" cy="929.74" r="4.4" fill="#d95319"/>
<circle cx="1030.44" cy="868.13" r="4.4" fill="#d95319"/>
<circle cx="993.86" cy="918.92" r="4.4" fill="#d95319"/>
<circle cx="1021" cy="897.79" r="4.4" fill="#d95319"/>
<circle cx="1017.61" cy="863.03" r="4.4" fill="#d95319"/>
<circle cx="997.39" cy="905.21" r="4.4" fill="#d95319"/>
<circle cx="995.69" cy="917.27" r="4.4" fill="#d95319"/>
<circle cx="1005.66" cy="861.1" r="4.4" fill="#d95319"/>
<circle cx="1009.13" cy="869.26" r="4.4" fill="#d95319"/>
<circle cx="986.35" cy="896.59" r="4.4" fill="#d95319"/>
<circle cx="981.69" cy="912.17" r="4.4" fill="#d95319"/>
<circle cx="1006.79" cy="846.85" r="4.4" fill="#d95319"/>
<circle cx="997.38" cy="893.75" r="4.4" fill="#d95319"/>
<circle cx="969.24" cy="910.13" r="4.4" fill="#d95319"/>
<circle cx="983.32" cy="926.77" r="4.4" fill="#d95319"/>
<circle cx="975.03" cy="906.83" r="4.4" fill="#d95319"/>
<circle cx="990.64" cy="887.62" r="4.4" fill="#d95319"/>
<circle cx="993" cy="897.29" r="4.4" fill="#d95319"/>
<circle cx="1017.38" cy="867.79" r="4.4" fill="#d95319"/>
<circle cx="1007.37" cy="863.37" r="4.4" fill="#d95319"/>
<circle cx="999.5" cy="909.26" r="4.4" fill="#d95319"/>
<circle cx="984.95" cy="928.35" r="4.4" fill="#d95319"/>
<circle cx="1001.43" cy="898.3" r="4.4" fill="#d95319"/>
<circle cx="1003.7" cy="876.36" r="4.4" fill="#d95319"/>
<circle cx="984.71" cy="899.69" r="4.4" fill="#d95319"/>
<circle cx="1014.6" cy="881.51" r="4.4" fill="#d95319"/>
<circle cx="1009.75" cy="889.34" r="4.4" fill="#d95319"/>
<circle cx="982.73" cy="907.85" r="4.4" fill="#d95319"/>
<circle cx="969.3" cy="901.26" r="4.4" fill="#d95319"/>
<circle cx="988.95" cy="877.69" r="4.4" fill="#d95319"/>
<circle cx="978.68" cy="904.65" r="4.4" fill="#d95319"/>
<circle cx="1001.29" cy="895.07" r="4.4" fill="#d95319"/>
<circle cx="1001.86" cy="903.84" r="4.4" fill="#d95319"/>
<circle cx="980.91" cy="928.56" r="4.4" fill="#d95319"/>
<circle cx="988.22" cy="913.89" r="4.4" fill="#d95319"/>
<circle cx="999.79" cy="898.83" r="4.4" fill="#d95319"/>
<circle cx="986.84" cy="913.48" r="4.4" fill="#d95319"/>
<circle cx="968.98" cy="919.27" r="4.4" fill="#d95319"/>
<circle cx="1002.34" cy="913.14" r="4.4" fill="#d95319"/>
<circle cx="992.66" cy="886.26" r="4.4" fill="#d95319"/>
<circle cx="986.35" cy="898.48" r="4.4" fill="#d95319"/>
<circle cx="990.19" cy="858.32" r="4.4" fill="#d95319"/>
<circle cx="1016.53" cy="861.94" r="4.4" fill="#d95319"/>
<circle cx="986.49" cy="890.76" r="4.4" fill="#d95319"/>
<circle cx="993.98" cy="890.56" r="4.4" fill="#d95319"/>
<circle cx="988.05" cy="897.88" r="4.4" fill="#d95319"/>
<circle cx="985.27" cy="897.48" r="4.4" fill="#d95319"/>
<circle cx="1021.84" cy="900.91" r="4.4" fill="#d95319"/>
<circle cx="977.28" cy="899.28" r="4.4" fill="#d95319"/>
<circle cx="1007.87" cy="893.6" r="4.4" fill="#d95319"/>
<circle cx="1004.92" cy="882.21" r="4.4" fill="#d95319"/>
<circle cx="1004.37" cy="866.66" r="4.4" fill="#d95319"/>
<circle cx="986.96" cy="890.23" r="4.4" fill="#d95319"/>
<circle cx="999.29" cy="904.55" r="4.4" fill="#d95319"/>
<circle cx="1003.66" cy="911.87" r="4.4" fill="#d95319"/>
<circle cx="974.8" cy="891.34" r="4.4" fill="#d95319"/>
<circle cx="980.29" cy="877.4" r="4.4" fill="#d95319"/>
<circle cx="1011.48" cy="893.67" r="4.4" fill="#d95319"/>
<circle cx="983.54" cy="940.78" r="4.4" fill="#d95319"/>
<circle cx="995.26" cy="923.11" r="4.4" fill="#d95319"/>
<circle cx="1019.2" cy="908.02" r="4.4" fill="#d95319"/>
<circle cx="997.26" cy="940.12" r="4.4" fill="#d95319"/>
<circle cx="991.22" cy="876.23" r="4.4" fill="#d95319"/>
<circle cx="989.83" cy="913.15" r="4.4" fill="#d95319"/>
<circle cx="989.36" cy="893.39" r="4.4" fill="#d95319"/>
<circle cx="1009.28" cy="890.45" r="4.4" fill="#d95319"/>
<circle cx="966.42" cy="909.77" r="4.4" fill="#d95319"/>
<circle cx="1010.52" cy="847.04" r="4.4" fill="#d95319"/>
<circle cx="998.76" cy="890.59" r="4.4" fill="#d95319"/>
<circle cx="988.39" cy="887.77" r="4.4" fill="#d95319"/>
<circle cx="1022.14" cy="894.74" r="4.4" fill="#d95319"/>
<circle cx="997.49" cy="911.81" r="4.4" fill="#d95319"/>
<circle cx="986.24" cy="904.91" r="4.4" fill="#d95319"/>
<circle cx="1003.5" cy="904.4" r="4.4" fill="#d95319"/>
<circle cx="991.97" cy="875.01" r="4.4" fill="#d95319"/>
<circle cx="1003.67" cy="878.5" r="4.4" fill="#d95319"/>
<circle cx="1002.09" cy="894.47" r="4.4" fill="#d95319"/>
<circle cx="1002.44" cy="882.29" r="4.4" fill="#d95319"/>
<circle cx="996.28" cy="877.86" r="4.4" fill="#d95319"/>
<circle cx="996.36" cy="879.92" r="4.4" fill="#d95319"/>
<circle cx="996.61" cy="882.64" r="4.4" fill="#d95319"/>
<circle cx="986.43" cy="911.12" r="4.4" fill="#d95319"/>
<circle cx="979.33" cy="886.14" r="4.4" fill="#d95319"/>
<circle cx="1003.76" cy="886.61" r="4.4" fill="#d95319"/>
<circle cx="1005.35" cy="903.07" r="4.4" fill="#d95319"/>
<circle cx="997.75" cy="902.7" r="4.4" fill="#d95319"/>
<circle cx="969.03" cy="917.71" r="4.4" fill="#d95319"/>
<circle cx="983.53" cy="879.58" r="4.4" fill="#d95319"/>
<circle cx="985.36" cy="912.83" r="4.4" fill="#d95319"/>
<circle cx="1010.65" cy="885.77" r="4.4" fill="#d95319"/>
<circle cx="976.76" cy="904.25" r="4.4" fill="#d95319"/>
<circle cx="985.26" cy="873.72" r="4.4" fill="#d95319"/>
<circle cx="980.79" cy="917.92" r="4.4" fill="#d95319"/>
<circle cx="956.15" cy="933.12" r="4.4" fill="#d95319"/>
<circle cx="1023.73" cy="879.01" r="4.4" fill="#d95319"/>
<circle cx="982.24" cy="899.59" r="4.4" fill="#d95319"/>
<circle cx="992.03" cy="898.65" r="4.4" fill="#d95319"/>
<circle cx="1032.76" cy="836.98" r="4.4" fill="#d95319"/>
<circle cx="1019.7" cy="851.57" r="4.4" fill="#d95319"/>
<circle cx="982.8" cy="937.02" r="4.4" fill="#d95319"/>
<circle cx="1007.18" cy="881.24" r="4.4" fill="#d95319"/>
<circle cx="996.94" cy="896.7" r="4.4" fill="#d95319"/>
<circle cx="1006.83" cy="878.6" r="4.4" fill="#d95319"/>
<circle cx="1000.12" cy="884.28" r="4.4" fill="#d95319"/>
<circle cx="993.34" cy="903.32" r="4.4" fill="#d95319"/>
<circle cx="1016.75" cy="885.69" r="4.4" fill="#d95319"/>
<circle cx="1025.5" cy="864.81" r="4.4" fill="#d95319"/>
<circle cx="997.25" cy="875.58" r="4.4" fill="#d95319"/>
<circle cx="989.09" cy="903.06" r="4.4" fill="#d95319"/>
<circle cx="991.33" cy="898.41" r="4.4" fill="#d95319"/>
<circle cx="1006.35" cy="853.35" r="4.4" fill="#d95319"/>
<circle cx="1003.99" cy="907.92" r="4.4" fill="#d95319"/>
<circle cx="984.25" cy="933.57" r="4.4" fill="#d95319"/>
<circle cx="1006.99" cy="873.18" r="4.4" fill="#d95319"/>
<circle cx="1001.19" cy="885.75" r="4.4" fill="#d95319"/>
<circle cx="1004.05" cy="882.75" r="4.4" fill="#d95319"/>
<circle cx="1005.78" cy="884.98" r="4.4" fill="#d95319"/>
<circle cx="981.89" cy="888.78" r="4.4" fill="#d95319"/>
<circle cx="1015.91" cy="909.65" r="4.4" fill="#d95319"/>
<circle cx="992.93" cy="916.42" r="4.4" fill="#d95319"/>
<circle cx="1003.77" cy="894.96" r="4.4" fill="#d95319"/>
<circle cx="1017.19" cy="862.49" r="4.4" fill="#d95319"/>
<circle cx="989.52" cy="907.63" r="4.4" fill="#d95319"/>
<circle cx="987.76" cy="891.07" r="4.4" fill="#d95319"/>
<circle cx="982.67" cy="896.77" r="4.4" fill="#d95319"/>
<circle cx="975.86" cy="891.04" r="4.4" fill="#d95319"/>
<circle cx="1003.31" cy="909.96" r="4.4" fill="#d95319"/>
<circle cx="984.84" cy="900.34" r="4.4" fill="#d95319"/>
<circle cx="1000.43" cy="940.48" r="4.4" fill="#d95319"/>
<circle cx="999.29" cy="867.63" r="4.4" fill="#d95319"/>
<circle cx="994.27" cy="810.64" r="4.4" fill="#d95319"/>
<circle cx="980.29" cy="816.53" r="4.4" fill="#d95319"/>
<circle cx="1006.04" cy="826.46" r="4.4" fill="#d95319"/>
<circle cx="1013.4" cy="828.3" r="4.4" fill="#d95319"/>
<circle cx="1030.69" cy="826.46" r="4.4" fill="#d95319"/>
<circle cx="1044.67" cy="839.35" r="4.4" fill="#d95319"/>
<circle cx="1024.44" cy="839.35" r="4.4" fill="#d95319"/>
<circle cx="1029.96" cy="846.71" r="4.4" fill="#d95319"/>
<circle cx="928.05" cy="851.12" r="4.4" fill="#d95319"/>
<circle cx="958.22" cy="854.8" r="4.4" fill="#d95319"/>
<circle cx="989.49" cy="852.23" r="4.4" fill="#d95319"/>
<circle cx="972.93" cy="869.53" r="4.4" fill="#d95319"/>
<circle cx="1039.16" cy="862.17" r="4.4" fill="#d95319"/>
<circle cx="1035.48" cy="870.63" r="4.4" fill="#d95319"/>
<circle cx="960.06" cy="883.51" r="4.4" fill="#d95319"/>
<circle cx="1044.67" cy="890.87" r="4.4" fill="#d95319"/>
<circle cx="1080.36" cy="890.14" r="4.4" fill="#d95319"/>
<circle cx="1064.17" cy="901.18" r="4.4" fill="#d95319"/>
<circle cx="1049.46" cy="909.28" r="4.4" fill="#d95319"/>
<circle cx="1081.46" cy="913.69" r="4.4" fill="#d95319"/>
<circle cx="917.75" cy="905.6" r="4.4" fill="#d95319"/>
<circle cx="921.43" cy="941.67" r="4.4" fill="#d95319"/>
<circle cx="936.14" cy="947.92" r="4.4" fill="#d95319"/>
<circle cx="937.98" cy="956.39" r="4.4" fill="#d95319"/>
<circle cx="944.24" cy="939.46" r="4.4" fill="#d95319"/>
<circle cx="949.02" cy="938.72" r="4.4" fill="#d95319"/>
<circle cx="939.82" cy="920.32" r="4.4" fill="#d95319"/>
<circle cx="941.66" cy="916.64" r="4.4" fill="#d95319"/>
<circle cx="947.18" cy="911.12" r="4.4" fill="#d95319"/>
<circle cx="960.06" cy="935.04" r="4.4" fill="#d95319"/>
<circle cx="976.61" cy="962.65" r="4.4" fill="#d95319"/>
<circle cx="989.49" cy="947.92" r="4.4" fill="#d95319"/>
<circle cx="993.9" cy="947.92" r="4.4" fill="#d95319"/>
<circle cx="1024.44" cy="947.19" r="4.4" fill="#d95319"/>
<circle cx="1039.16" cy="931.36" r="4.4" fill="#d95319"/>
<circle cx="932.46" cy="982.15" r="4.4" fill="#d95319"/>
<circle cx="943.5" cy="976.63" r="4.4" fill="#d95319"/>
<circle cx="958.22" cy="979.21" r="4.4" fill="#d95319"/>
<circle cx="976.61" cy="985.83" r="4.4" fill="#d95319"/>
<circle cx="1028.85" cy="922.16" r="4.4" fill="#d95319"/>
<circle cx="1020.76" cy="850.39" r="4.4" fill="#d95319"/>
<circle cx="1017.08" cy="857.75" r="4.4" fill="#d95319"/>
<circle cx="1009.72" cy="861.43" r="4.4" fill="#d95319"/>
<circle cx="1000.53" cy="850.39" r="4.4" fill="#d95319"/>
<rect x="873.6" y="783.4" width="238.4" height="237.4" fill="none" stroke="#111" stroke-width="2.6"/>
<line x1="933.2" y1="1020.8" x2="933.2" y2="1017.8" stroke="#000" stroke-width="2"/>
<line x1="933.2" y1="783.4" x2="933.2" y2="786.4" stroke="#000" stroke-width="2"/>
<line x1="873.6" y1="961.45" x2="876.6" y2="961.45" stroke="#000" stroke-width="2"/>
<line x1="1112" y1="961.45" x2="1109" y2="961.45" stroke="#000" stroke-width="2"/>
<line x1="992.8" y1="1020.8" x2="992.8" y2="1017.8" stroke="#000" stroke-width="2"/>
<line x1="992.8" y1="783.4" x2="992.8" y2="786.4" stroke="#000" stroke-width="2"/>
<line x1="873.6" y1="902.1" x2="876.6" y2="902.1" stroke="#000" stroke-width="2"/>
<line x1="1112" y1="902.1" x2="1109" y2="902.1" stroke="#000" stroke-width="2"/>
<line x1="1052.4" y1="1020.8" x2="1052.4" y2="1017.8" stroke="#000" stroke-width="2"/>
<line x1="1052.4" y1="783.4" x2="1052.4" y2="786.4" stroke="#000" stroke-width="2"/>
<line x1="873.6" y1="842.75" x2="876.6" y2="842.75" stroke="#000" stroke-width="2"/>
<line x1="1112" y1="842.75" x2="1109" y2="842.75" stroke="#000" stroke-width="2"/>
<text x="873.6" y="1047.8" font-size="21.5" text-anchor="middle" textLength="19.69" lengthAdjust="spacingAndGlyphs">-1</text>
<text x="869.6" y="1028.54" font-size="21.5" text-anchor="end" textLength="19.69" lengthAdjust="spacingAndGlyphs">-1</text>
<text x="933.2" y="1047.8" font-size="21.5" text-anchor="middle" textLength="38.16" lengthAdjust="spacingAndGlyphs">-0.5</text>
<text x="869.6" y="969.19" font-size="21.5" text-anchor="end" textLength="38.16" lengthAdjust="spacingAndGlyphs">-0.5</text>
<text x="992.8" y="1047.8" font-size="21.5" text-anchor="middle" textLength="12.31" lengthAdjust="spacingAndGlyphs">0</text>
<text x="869.6" y="909.84" font-size="21.5" text-anchor="end" textLength="12.31" lengthAdjust="spacingAndGlyphs">0</text>
<text x="1052.4" y="1047.8" font-size="21.5" text-anchor="middle" textLength="30.78" lengthAdjust="spacingAndGlyphs">0.5</text>
<text x="869.6" y="850.49" font-size="21.5" text-anchor="end" textLength="30.78" lengthAdjust="spacingAndGlyphs">0.5</text>
<text x="1112" y="1047.8" font-size="21.5" text-anchor="middle" textLength="12.31" lengthAdjust="spacingAndGlyphs">1</text>
<text x="869.6" y="791.14" font-size="21.5" text-anchor="end" textLength="12.31" lengthAdjust="spacingAndGlyphs">1</text>
<text x="992.8" y="775" font-size="20" text-anchor="middle" textLength="139.43" lengthAdjust="spacingAndGlyphs">Liver vs tumour</text>
<text x="992.8" y="1074.5" font-size="20" text-anchor="middle" textLength="38.5" lengthAdjust="spacingAndGlyphs">liver</text>
<text x="836.8" y="902.1" font-size="20" text-anchor="middle" textLength="65.35" lengthAdjust="spacingAndGlyphs" transform="rotate(-90 836.8 902.1)">tumour</text>
<text x="899.4" y="823.9" font-size="20"><tspan font-style="italic">&#961;</tspan>=0.40</text>
<text x="899.4" y="844.9" font-size="20" textLength="106.7" lengthAdjust="spacingAndGlyphs">p=6.92e-12</text>
<circle cx="1316.92" cy="872.06" r="4.4" fill="#d95319"/>
<circle cx="1304.65" cy="885.88" r="4.4" fill="#d95319"/>
<circle cx="1312.69" cy="904.69" r="4.4" fill="#d95319"/>
<circle cx="1338.51" cy="878.03" r="4.4" fill="#d95319"/>
<circle cx="1315.27" cy="883.43" r="4.4" fill="#d95319"/>
<circle cx="1329.27" cy="888.33" r="4.4" fill="#d95319"/>
<circle cx="1322.82" cy="911.39" r="4.4" fill="#d95319"/>
<circle cx="1311.4" cy="909.07" r="4.4" fill="#d95319"/>
<circle cx="1299.85" cy="938.28" r="4.4" fill="#d95319"/>
<circle cx="1296.33" cy="915.93" r="4.4" fill="#d95319"/>
<circle cx="1313.73" cy="905.1" r="4.4" fill="#d95319"/>
<circle cx="1316.61" cy="922.91" r="4.4" fill="#d95319"/>
<circle cx="1314.84" cy="893.37" r="4.4" fill="#d95319"/>
<circle cx="1324.77" cy="907.5" r="4.4" fill="#d95319"/>
<circle cx="1311.01" cy="940.23" r="4.4" fill="#d95319"/>
<circle cx="1309.76" cy="944.67" r="4.4" fill="#d95319"/>
<circle cx="1298.81" cy="887.91" r="4.4" fill="#d95319"/>
<circle cx="1289.46" cy="900.53" r="4.4" fill="#d95319"/>
<circle cx="1319.71" cy="900.67" r="4.4" fill="#d95319"/>
<circle cx="1321.28" cy="883.1" r="4.4" fill="#d95319"/>
<circle cx="1328.29" cy="892.93" r="4.4" fill="#d95319"/>
<circle cx="1308.71" cy="914.25" r="4.4" fill="#d95319"/>
<circle cx="1303.99" cy="906.66" r="4.4" fill="#d95319"/>
<circle cx="1306.39" cy="883.14" r="4.4" fill="#d95319"/>
<circle cx="1293.43" cy="934.75" r="4.4" fill="#d95319"/>
<circle cx="1304.39" cy="946.48" r="4.4" fill="#d95319"/>
<circle cx="1338.54" cy="928.26" r="4.4" fill="#d95319"/>
<circle cx="1312.4" cy="910.06" r="4.4" fill="#d95319"/>
<circle cx="1335.59" cy="922.08" r="4.4" fill="#d95319"/>
<circle cx="1328.61" cy="902.51" r="4.4" fill="#d95319"/>
<circle cx="1313.93" cy="911.82" r="4.4" fill="#d95319"/>
<circle cx="1323.45" cy="914.16" r="4.4" fill="#d95319"/>
<circle cx="1314.84" cy="891.11" r="4.4" fill="#d95319"/>
<circle cx="1337.8" cy="928.73" r="4.4" fill="#d95319"/>
<circle cx="1334.03" cy="865.75" r="4.4" fill="#d95319"/>
<circle cx="1310" cy="895.51" r="4.4" fill="#d95319"/>
<circle cx="1310.21" cy="869.09" r="4.4" fill="#d95319"/>
<circle cx="1318.29" cy="899.78" r="4.4" fill="#d95319"/>
<circle cx="1313.06" cy="903.22" r="4.4" fill="#d95319"/>
<circle cx="1313.68" cy="916.07" r="4.4" fill="#d95319"/>
<circle cx="1340.41" cy="917.18" r="4.4" fill="#d95319"/>
<circle cx="1272.66" cy="930.57" r="4.4" fill="#d95319"/>
<circle cx="1314.04" cy="891.31" r="4.4" fill="#d95319"/>
<circle cx="1313.34" cy="902" r="4.4" fill="#d95319"/>
<circle cx="1319.76" cy="875.55" r="4.4" fill="#d95319"/>
<circle cx="1310.43" cy="908.48" r="4.4" fill="#d95319"/>
<circle cx="1339" cy="870.39" r="4.4" fill="#d95319"/>
<circle cx="1304" cy="860.27" r="4.4" fill="#d95319"/>
<circle cx="1325.07" cy="902.25" r="4.4" fill="#d95319"/>
<circle cx="1301.74" cy="901.55" r="4.4" fill="#d95319"/>
<circle cx="1305.83" cy="925.17" r="4.4" fill="#d95319"/>
<circle cx="1300.29" cy="918.34" r="4.4" fill="#d95319"/>
<circle cx="1329.03" cy="896.38" r="4.4" fill="#d95319"/>
<circle cx="1298.45" cy="896.64" r="4.4" fill="#d95319"/>
<circle cx="1316.57" cy="880.27" r="4.4" fill="#d95319"/>
<circle cx="1330.16" cy="890.39" r="4.4" fill="#d95319"/>
<circle cx="1314.06" cy="899.48" r="4.4" fill="#d95319"/>
<circle cx="1302.22" cy="893.95" r="4.4" fill="#d95319"/>
<circle cx="1332.2" cy="882.22" r="4.4" fill="#d95319"/>
<circle cx="1312.95" cy="904.47" r="4.4" fill="#d95319"/>
<circle cx="1306.45" cy="919.77" r="4.4" fill="#d95319"/>
<circle cx="1310.99" cy="917.26" r="4.4" fill="#d95319"/>
<circle cx="1310.56" cy="931.98" r="4.4" fill="#d95319"/>
<circle cx="1319.98" cy="893.4" r="4.4" fill="#d95319"/>
<circle cx="1302" cy="952.21" r="4.4" fill="#d95319"/>
<circle cx="1315.69" cy="875.8" r="4.4" fill="#d95319"/>
<circle cx="1307.01" cy="913.08" r="4.4" fill="#d95319"/>
<circle cx="1308.99" cy="889.42" r="4.4" fill="#d95319"/>
<circle cx="1304.83" cy="885.88" r="4.4" fill="#d95319"/>
<circle cx="1312.16" cy="881.83" r="4.4" fill="#d95319"/>
<circle cx="1316.18" cy="901.6" r="4.4" fill="#d95319"/>
<circle cx="1298.11" cy="923.44" r="4.4" fill="#d95319"/>
<circle cx="1312.66" cy="886.67" r="4.4" fill="#d95319"/>
<circle cx="1318.72" cy="908.9" r="4.4" fill="#d95319"/>
<circle cx="1320.69" cy="874.52" r="4.4" fill="#d95319"/>
<circle cx="1314.01" cy="907.22" r="4.4" fill="#d95319"/>
<circle cx="1311.08" cy="884.84" r="4.4" fill="#d95319"/>
<circle cx="1322.23" cy="910.96" r="4.4" fill="#d95319"/>
<circle cx="1320.27" cy="903.55" r="4.4" fill="#d95319"/>
<circle cx="1306.8" cy="879.5" r="4.4" fill="#d95319"/>
<circle cx="1325.61" cy="904.53" r="4.4" fill="#d95319"/>
<circle cx="1316.74" cy="886.85" r="4.4" fill="#d95319"/>
<circle cx="1308.14" cy="905.18" r="4.4" fill="#d95319"/>
<circle cx="1323.76" cy="926.69" r="4.4" fill="#d95319"/>
<circle cx="1319.71" cy="880.09" r="4.4" fill="#d95319"/>
<circle cx="1321.82" cy="919.31" r="4.4" fill="#d95319"/>
<circle cx="1319.6" cy="911.54" r="4.4" fill="#d95319"/>
<circle cx="1322.61" cy="880.64" r="4.4" fill="#d95319"/>
<circle cx="1318.38" cy="910.49" r="4.4" fill="#d95319"/>
<circle cx="1308.72" cy="885.68" r="4.4" fill="#d95319"/>
<circle cx="1305.04" cy="895.32" r="4.4" fill="#d95319"/>
<circle cx="1321.9" cy="898.44" r="4.4" fill="#d95319"/>
<circle cx="1344.43" cy="875.51" r="4.4" fill="#d95319"/>
<circle cx="1341.46" cy="918.49" r="4.4" fill="#d95319"/>
<circle cx="1288.95" cy="897.3" r="4.4" fill="#d95319"/>
<circle cx="1323.4" cy="898.03" r="4.4" fill="#d95319"/>
<circle cx="1315.15" cy="935.07" r="4.4" fill="#d95319"/>
<circle cx="1308.27" cy="922.97" r="4.4" fill="#d95319"/>
<circle cx="1313.14" cy="881.9" r="4.4" fill="#d95319"/>
<circle cx="1316.42" cy="889.62" r="4.4" fill="#d95319"/>
<circle cx="1307.44" cy="911.84" r="4.4" fill="#d95319"/>
<circle cx="1317.13" cy="901.92" r="4.4" fill="#d95319"/>
<circle cx="1330.91" cy="903.69" r="4.4" fill="#d95319"/>
<circle cx="1338.4" cy="900.4" r="4.4" fill="#d95319"/>
<circle cx="1328.46" cy="903.44" r="4.4" fill="#d95319"/>
<circle cx="1335.5" cy="880.59" r="4.4" fill="#d95319"/>
<circle cx="1320.55" cy="879.37" r="4.4" fill="#d95319"/>
<circle cx="1308.19" cy="923.18" r="4.4" fill="#d95319"/>
<circle cx="1291.55" cy="890.78" r="4.4" fill="#d95319"/>
<circle cx="1307.46" cy="914.89" r="4.4" fill="#d95319"/>
<circle cx="1315.42" cy="858.67" r="4.4" fill="#d95319"/>
<circle cx="1295.12" cy="907.24" r="4.4" fill="#d95319"/>
<circle cx="1311.05" cy="890.32" r="4.4" fill="#d95319"/>
<circle cx="1294.27" cy="920.52" r="4.4" fill="#d95319"/>
<circle cx="1325.84" cy="859.64" r="4.4" fill="#d95319"/>
<circle cx="1334.88" cy="900.45" r="4.4" fill="#d95319"/>
<circle cx="1316.44" cy="899.04" r="4.4" fill="#d95319"/>
<circle cx="1299.33" cy="937.32" r="4.4" fill="#d95319"/>
<circle cx="1324.84" cy="886.07" r="4.4" fill="#d95319"/>
<circle cx="1314.08" cy="874.76" r="4.4" fill="#d95319"/>
<circle cx="1303.81" cy="895.6" r="4.4" fill="#d95319"/>
<circle cx="1315.91" cy="898.43" r="4.4" fill="#d95319"/>
<circle cx="1321.65" cy="889.72" r="4.4" fill="#d95319"/>
<circle cx="1318.98" cy="889.87" r="4.4" fill="#d95319"/>
<circle cx="1338.97" cy="886.87" r="4.4" fill="#d95319"/>
<circle cx="1327.89" cy="876.79" r="4.4" fill="#d95319"/>
<circle cx="1311.61" cy="884.76" r="4.4" fill="#d95319"/>
<circle cx="1305.53" cy="881.96" r="4.4" fill="#d95319"/>
<circle cx="1306.11" cy="913.86" r="4.4" fill="#d95319"/>
<circle cx="1319.65" cy="878.29" r="4.4" fill="#d95319"/>
<circle cx="1326.64" cy="872.1" r="4.4" fill="#d95319"/>
<circle cx="1313.31" cy="917.84" r="4.4" fill="#d95319"/>
<circle cx="1322.36" cy="886.74" r="4.4" fill="#d95319"/>
<circle cx="1304.4" cy="886.43" r="4.4" fill="#d95319"/>
<circle cx="1318.17" cy="914.41" r="4.4" fill="#d95319"/>
<circle cx="1321.07" cy="919.53" r="4.4" fill="#d95319"/>
<circle cx="1305.29" cy="896.97" r="4.4" fill="#d95319"/>
<circle cx="1297.16" cy="909.93" r="4.4" fill="#d95319"/>
<circle cx="1299.63" cy="894.46" r="4.4" fill="#d95319"/>
<circle cx="1307.09" cy="899.99" r="4.4" fill="#d95319"/>
<circle cx="1297.82" cy="916.93" r="4.4" fill="#d95319"/>
<circle cx="1327.12" cy="880.3" r="4.4" fill="#d95319"/>
<circle cx="1293.8" cy="894.96" r="4.4" fill="#d95319"/>
<circle cx="1326.46" cy="897.09" r="4.4" fill="#d95319"/>
<circle cx="1332.74" cy="905.98" r="4.4" fill="#d95319"/>
<circle cx="1314.77" cy="876.27" r="4.4" fill="#d95319"/>
<circle cx="1331.46" cy="861.09" r="4.4" fill="#d95319"/>
<circle cx="1302.7" cy="941.57" r="4.4" fill="#d95319"/>
<circle cx="1320.47" cy="922.04" r="4.4" fill="#d95319"/>
<circle cx="1314.22" cy="923.57" r="4.4" fill="#d95319"/>
<circle cx="1328.48" cy="872.55" r="4.4" fill="#d95319"/>
<circle cx="1322.44" cy="892.26" r="4.4" fill="#d95319"/>
<circle cx="1316.34" cy="902.79" r="4.4" fill="#d95319"/>
<circle cx="1320.37" cy="889.19" r="4.4" fill="#d95319"/>
<circle cx="1321.28" cy="901.82" r="4.4" fill="#d95319"/>
<circle cx="1338.5" cy="875.6" r="4.4" fill="#d95319"/>
<circle cx="1332.46" cy="859.38" r="4.4" fill="#d95319"/>
<circle cx="1305.27" cy="937.9" r="4.4" fill="#d95319"/>
<circle cx="1330.82" cy="894.2" r="4.4" fill="#d95319"/>
<circle cx="1316.77" cy="901.73" r="4.4" fill="#d95319"/>
<circle cx="1317.35" cy="919.53" r="4.4" fill="#d95319"/>
<circle cx="1314.55" cy="907.32" r="4.4" fill="#d95319"/>
<circle cx="1315.61" cy="943.21" r="4.4" fill="#d95319"/>
<circle cx="1325.61" cy="883.84" r="4.4" fill="#d95319"/>
<circle cx="1295.13" cy="926.49" r="4.4" fill="#d95319"/>
<circle cx="1316.16" cy="884.77" r="4.4" fill="#d95319"/>
<circle cx="1315.79" cy="870.26" r="4.4" fill="#d95319"/>
<circle cx="1316.05" cy="916.75" r="4.4" fill="#d95319"/>
<circle cx="1307.7" cy="888.57" r="4.4" fill="#d95319"/>
<circle cx="1308.45" cy="886.13" r="4.4" fill="#d95319"/>
<circle cx="1327.99" cy="877.11" r="4.4" fill="#d95319"/>
<circle cx="1327.95" cy="892.06" r="4.4" fill="#d95319"/>
<circle cx="1315.67" cy="909.02" r="4.4" fill="#d95319"/>
<circle cx="1308.49" cy="933.22" r="4.4" fill="#d95319"/>
<circle cx="1309.14" cy="923.07" r="4.4" fill="#d95319"/>
<circle cx="1298.71" cy="906.68" r="4.4" fill="#d95319"/>
<circle cx="1321.22" cy="900.16" r="4.4" fill="#d95319"/>
<circle cx="1332.15" cy="867.23" r="4.4" fill="#d95319"/>
<circle cx="1328.29" cy="900.24" r="4.4" fill="#d95319"/>
<circle cx="1297.94" cy="899.18" r="4.4" fill="#d95319"/>
<circle cx="1319.47" cy="880.5" r="4.4" fill="#d95319"/>
<circle cx="1320.77" cy="869.11" r="4.4" fill="#d95319"/>
<circle cx="1312.34" cy="886.74" r="4.4" fill="#d95319"/>
<circle cx="1305.08" cy="950.22" r="4.4" fill="#d95319"/>
<circle cx="1310.47" cy="871.8" r="4.4" fill="#d95319"/>
<circle cx="1295.74" cy="891.76" r="4.4" fill="#d95319"/>
<circle cx="1307.66" cy="910.99" r="4.4" fill="#d95319"/>
<circle cx="1316.31" cy="892.83" r="4.4" fill="#d95319"/>
<circle cx="1304.14" cy="903.21" r="4.4" fill="#d95319"/>
<circle cx="1321.1" cy="877.21" r="4.4" fill="#d95319"/>
<circle cx="1306.76" cy="873.42" r="4.4" fill="#d95319"/>
<circle cx="1338.6" cy="833.76" r="4.4" fill="#d95319"/>
<circle cx="1299.75" cy="905.43" r="4.4" fill="#d95319"/>
<circle cx="1293.55" cy="905.83" r="4.4" fill="#d95319"/>
<circle cx="1322.43" cy="915.11" r="4.4" fill="#d95319"/>
<circle cx="1296.82" cy="907.24" r="4.4" fill="#d95319"/>
<circle cx="1323.3" cy="907.5" r="4.4" fill="#d95319"/>
<circle cx="1312.66" cy="949.06" r="4.4" fill="#d95319"/>
<circle cx="1307.33" cy="900.52" r="4.4" fill="#d95319"/>
<circle cx="1317.6" cy="865.05" r="4.4" fill="#d95319"/>
<circle cx="1302.14" cy="951.21" r="4.4" fill="#d95319"/>
<circle cx="1321.2" cy="905.07" r="4.4" fill="#d95319"/>
<circle cx="1319.21" cy="880.83" r="4.4" fill="#d95319"/>
<circle cx="1322.97" cy="863.98" r="4.4" fill="#d95319"/>
<circle cx="1331.96" cy="918.39" r="4.4" fill="#d95319"/>
<circle cx="1315.03" cy="858.71" r="4.4" fill="#d95319"/>
<circle cx="1310.92" cy="881.89" r="4.4" fill="#d95319"/>
<circle cx="1315.12" cy="906.06" r="4.4" fill="#d95319"/>
<circle cx="1334.72" cy="863.42" r="4.4" fill="#d95319"/>
<circle cx="1312.87" cy="881.67" r="4.4" fill="#d95319"/>
<circle cx="1300.08" cy="922.78" r="4.4" fill="#d95319"/>
<circle cx="1326.58" cy="888.88" r="4.4" fill="#d95319"/>
<circle cx="1303.08" cy="897.62" r="4.4" fill="#d95319"/>
<circle cx="1319.72" cy="869.38" r="4.4" fill="#d95319"/>
<circle cx="1327.23" cy="894.58" r="4.4" fill="#d95319"/>
<circle cx="1310" cy="904.21" r="4.4" fill="#d95319"/>
<circle cx="1313.05" cy="870.68" r="4.4" fill="#d95319"/>
<circle cx="1334.78" cy="857.2" r="4.4" fill="#d95319"/>
<circle cx="1320.32" cy="898.91" r="4.4" fill="#d95319"/>
<circle cx="1326.59" cy="896.47" r="4.4" fill="#d95319"/>
<circle cx="1318.61" cy="927.96" r="4.4" fill="#d95319"/>
<circle cx="1310.72" cy="872.77" r="4.4" fill="#d95319"/>
<circle cx="1303.51" cy="935.34" r="4.4" fill="#d95319"/>
<circle cx="1313.83" cy="866.1" r="4.4" fill="#d95319"/>
<circle cx="1333.14" cy="892" r="4.4" fill="#d95319"/>
<circle cx="1310.07" cy="903.6" r="4.4" fill="#d95319"/>
<circle cx="1304.65" cy="904.61" r="4.4" fill="#d95319"/>
<circle cx="1312.2" cy="928.83" r="4.4" fill="#d95319"/>
<circle cx="1308.86" cy="907.33" r="4.4" fill="#d95319"/>
<circle cx="1305.49" cy="926.62" r="4.4" fill="#d95319"/>
<circle cx="1326.61" cy="852.49" r="4.4" fill="#d95319"/>
<circle cx="1312.35" cy="908.12" r="4.4" fill="#d95319"/>
<circle cx="1321.8" cy="897.55" r="4.4" fill="#d95319"/>
<circle cx="1306.43" cy="876.79" r="4.4" fill="#d95319"/>
<circle cx="1303.33" cy="920.57" r="4.4" fill="#d95319"/>
<circle cx="1307.84" cy="920.35" r="4.4" fill="#d95319"/>
<circle cx="1312.94" cy="888.12" r="4.4" fill="#d95319"/>
<circle cx="1333.03" cy="872.06" r="4.4" fill="#d95319"/>
<circle cx="1316.21" cy="921.55" r="4.4" fill="#d95319"/>
<circle cx="1315.05" cy="916.31" r="4.4" fill="#d95319"/>
<circle cx="1314.62" cy="879.03" r="4.4" fill="#d95319"/>
<circle cx="1318.23" cy="899.73" r="4.4" fill="#d95319"/>
<circle cx="1306.78" cy="904.23" r="4.4" fill="#d95319"/>
<circle cx="1317.11" cy="914.59" r="4.4" fill="#d95319"/>
<circle cx="1309.74" cy="884.41" r="4.4" fill="#d95319"/>
<circle cx="1295.93" cy="920.22" r="4.4" fill="#d95319"/>
<circle cx="1301.83" cy="877.04" r="4.4" fill="#d95319"/>
<circle cx="1323.03" cy="882.11" r="4.4" fill="#d95319"/>
<circle cx="1320.53" cy="888.35" r="4.4" fill="#d95319"/>
<circle cx="1319.28" cy="925.9" r="4.4" fill="#d95319"/>
<circle cx="1318.87" cy="883.52" r="4.4" fill="#d95319"/>
<circle cx="1298.71" cy="893.41" r="4.4" fill="#d95319"/>
<circle cx="1323.77" cy="921.46" r="4.4" fill="#d95319"/>
<circle cx="1310.15" cy="907.4" r="4.4" fill="#d95319"/>
<circle cx="1309.49" cy="894.2" r="4.4" fill="#d95319"/>
<circle cx="1300.52" cy="912.64" r="4.4" fill="#d95319"/>
<circle cx="1318.48" cy="881.24" r="4.4" fill="#d95319"/>
<circle cx="1316.37" cy="901.68" r="4.4" fill="#d95319"/>
<circle cx="1324.05" cy="930.42" r="4.4" fill="#d95319"/>
<circle cx="1326.95" cy="895.4" r="4.4" fill="#d95319"/>
<circle cx="1300.82" cy="916.45" r="4.4" fill="#d95319"/>
<circle cx="1293.86" cy="953.06" r="4.4" fill="#d95319"/>
<circle cx="1311.88" cy="915.37" r="4.4" fill="#d95319"/>
<circle cx="1324.56" cy="908.44" r="4.4" fill="#d95319"/>
<circle cx="1300.3" cy="927.18" r="4.4" fill="#d95319"/>
<circle cx="1336.3" cy="882.19" r="4.4" fill="#d95319"/>
<circle cx="1308.47" cy="921.96" r="4.4" fill="#d95319"/>
<circle cx="1302.65" cy="909.96" r="4.4" fill="#d95319"/>
<circle cx="1320.9" cy="871.15" r="4.4" fill="#d95319"/>
<circle cx="1329.5" cy="882.23" r="4.4" fill="#d95319"/>
<circle cx="1307.9" cy="919.83" r="4.4" fill="#d95319"/>
<circle cx="1288.12" cy="937.07" r="4.4" fill="#d95319"/>
<circle cx="1320.82" cy="900.39" r="4.4" fill="#d95319"/>
<circle cx="1320.19" cy="920.61" r="4.4" fill="#d95319"/>
<circle cx="1326.52" cy="883.9" r="4.4" fill="#d95319"/>
<circle cx="1316.29" cy="889.15" r="4.4" fill="#d95319"/>
<circle cx="1289.04" cy="927.38" r="4.4" fill="#d95319"/>
<circle cx="1305.06" cy="869.53" r="4.4" fill="#d95319"/>
<circle cx="1313.6" cy="908.81" r="4.4" fill="#d95319"/>
<circle cx="1325.99" cy="910.7" r="4.4" fill="#d95319"/>
<circle cx="1332.8" cy="898.96" r="4.4" fill="#d95319"/>
<circle cx="1315.08" cy="915.79" r="4.4" fill="#d95319"/>
<circle cx="1325.45" cy="932.97" r="4.4" fill="#d95319"/>
<circle cx="1324.05" cy="907.5" r="4.4" fill="#d95319"/>
<circle cx="1316.38" cy="919.47" r="4.4" fill="#d95319"/>
<circle cx="1318.52" cy="891.73" r="4.4" fill="#d95319"/>
<circle cx="1322.84" cy="886.15" r="4.4" fill="#d95319"/>
<circle cx="1323.24" cy="872.58" r="4.4" fill="#d95319"/>
<circle cx="1311.13" cy="923.77" r="4.4" fill="#d95319"/>
<circle cx="1300.51" cy="894.95" r="4.4" fill="#d95319"/>
<circle cx="1288.28" cy="810.82" r="4.4" fill="#d95319"/>
<circle cx="1322.5" cy="816.71" r="4.4" fill="#d95319"/>
<circle cx="1327.66" cy="826.65" r="4.4" fill="#d95319"/>
<circle cx="1307.78" cy="828.49" r="4.4" fill="#d95319"/>
<circle cx="1323.24" cy="839.53" r="4.4" fill="#d95319"/>
<circle cx="1314.04" cy="835.85" r="4.4" fill="#d95319"/>
<circle cx="1381.02" cy="839.53" r="4.4" fill="#d95319"/>
<circle cx="1406.78" cy="850.57" r="4.4" fill="#d95319"/>
<circle cx="1358.94" cy="849.84" r="4.4" fill="#d95319"/>
<circle cx="1365.56" cy="844.31" r="4.4" fill="#d95319"/>
<circle cx="1361.88" cy="868.24" r="4.4" fill="#d95319"/>
<circle cx="1380.28" cy="862.72" r="4.4" fill="#d95319"/>
<circle cx="1393.16" cy="866.4" r="4.4" fill="#d95319"/>
<circle cx="1279.08" cy="869.71" r="4.4" fill="#d95319"/>
<circle cx="1287.18" cy="879.28" r="4.4" fill="#d95319"/>
<circle cx="1273.56" cy="891.06" r="4.4" fill="#d95319"/>
<circle cx="1277.24" cy="896.58" r="4.4" fill="#d95319"/>
<circle cx="1261.42" cy="894" r="4.4" fill="#d95319"/>
<circle cx="1378.44" cy="891.06" r="4.4" fill="#d95319"/>
<circle cx="1377.34" cy="898.42" r="4.4" fill="#d95319"/>
<circle cx="1379.18" cy="913.14" r="4.4" fill="#d95319"/>
<circle cx="1379.54" cy="914.98" r="4.4" fill="#d95319"/>
<circle cx="1347.16" cy="881.86" r="4.4" fill="#d95319"/>
<circle cx="1349" cy="911.3" r="4.4" fill="#d95319"/>
<circle cx="1264.36" cy="923.08" r="4.4" fill="#d95319"/>
<circle cx="1271.72" cy="923.08" r="4.4" fill="#d95319"/>
<circle cx="1275.4" cy="938.91" r="4.4" fill="#d95319"/>
<circle cx="1279.08" cy="938.91" r="4.4" fill="#d95319"/>
<circle cx="1258.84" cy="946.27" r="4.4" fill="#d95319"/>
<circle cx="1284.6" cy="946.27" r="4.4" fill="#d95319"/>
<circle cx="1286.44" cy="953.63" r="4.4" fill="#d95319"/>
<circle cx="1291.96" cy="962.09" r="4.4" fill="#d95319"/>
<circle cx="1301.16" cy="949.21" r="4.4" fill="#d95319"/>
<circle cx="1323.24" cy="940.75" r="4.4" fill="#d95319"/>
<circle cx="1343.48" cy="946.27" r="4.4" fill="#d95319"/>
<circle cx="1296.38" cy="986.02" r="4.4" fill="#d95319"/>
<circle cx="1309.62" cy="981.97" r="4.4" fill="#d95319"/>
<circle cx="1319.56" cy="979.39" r="4.4" fill="#d95319"/>
<circle cx="1323.24" cy="975.71" r="4.4" fill="#d95319"/>
<circle cx="1293.8" cy="850.57" r="4.4" fill="#d95319"/>
<circle cx="1301.16" cy="857.93" r="4.4" fill="#d95319"/>
<circle cx="1330.6" cy="850.57" r="4.4" fill="#d95319"/>
<circle cx="1336.12" cy="859.77" r="4.4" fill="#d95319"/>
<circle cx="1341.64" cy="870.81" r="4.4" fill="#d95319"/>
<rect x="1192.6" y="783.4" width="239.2" height="237.4" fill="none" stroke="#111" stroke-width="2.6"/>
<line x1="1252.4" y1="1020.8" x2="1252.4" y2="1017.8" stroke="#000" stroke-width="2"/>
<line x1="1252.4" y1="783.4" x2="1252.4" y2="786.4" stroke="#000" stroke-width="2"/>
<line x1="1192.6" y1="961.45" x2="1195.6" y2="961.45" stroke="#000" stroke-width="2"/>
<line x1="1431.8" y1="961.45" x2="1428.8" y2="961.45" stroke="#000" stroke-width="2"/>
<line x1="1312.2" y1="1020.8" x2="1312.2" y2="1017.8" stroke="#000" stroke-width="2"/>
<line x1="1312.2" y1="783.4" x2="1312.2" y2="786.4" stroke="#000" stroke-width="2"/>
<line x1="1192.6" y1="902.1" x2="1195.6" y2="902.1" stroke="#000" stroke-width="2"/>
<line x1="1431.8" y1="902.1" x2="1428.8" y2="902.1" stroke="#000" stroke-width="2"/>
<line x1="1372" y1="1020.8" x2="1372" y2="1017.8" stroke="#000" stroke-width="2"/>
<line x1="1372" y1="783.4" x2="1372" y2="786.4" stroke="#000" stroke-width="2"/>
<line x1="1192.6" y1="842.75" x2="1195.6" y2="842.75" stroke="#000" stroke-width="2"/>
<line x1="1431.8" y1="842.75" x2="1428.8" y2="842.75" stroke="#000" stroke-width="2"/>
<text x="1192.6" y="1047.8" font-size="21.5" text-anchor="middle" textLength="19.69" lengthAdjust="spacingAndGlyphs">-1</text>
<text x="1188.6" y="1028.54" font-size="21.5" text-anchor="end" textLength="19.69" lengthAdjust="spacingAndGlyphs">-1</text>
<text x="1252.4" y="1047.8" font-size="21.5" text-anchor="middle" textLength="38.16" lengthAdjust="spacingAndGlyphs">-0.5</text>
<text x="1188.6" y="969.19" font-size="21.5" text-anchor="end" textLength="38.16" lengthAdjust="spacingAndGlyphs">-0.5</text>
<text x="1312.2" y="1047.8" font-size="21.5" text-anchor="middle" textLength="12.31" lengthAdjust="spacingAndGlyphs">0</text>
<text x="1188.6" y="909.84" font-size="21.5" text-anchor="end" textLength="12.31" lengthAdjust="spacingAndGlyphs">0</text>
<text x="1372" y="1047.8" font-size="21.5" text-anchor="middle" textLength="30.78" lengthAdjust="spacingAndGlyphs">0.5</text>
<text x="1188.6" y="850.49" font-size="21.5" text-anchor="end" textLength="30.78" lengthAdjust="spacingAndGlyphs">0.5</text>
<text x="1431.8" y="1047.8" font-size="21.5" text-anchor="middle" textLength="12.31" lengthAdjust="spacingAndGlyphs">1</text>
<text x="1188.6" y="791.14" font-size="21.5" text-anchor="end" textLength="12.31" lengthAdjust="spacingAndGlyphs">1</text>
<text x="1312.2" y="775" font-size="20" text-anchor="middle" textLength="163.24" lengthAdjust="spacingAndGlyphs">Plasma vs tumour</text>
<text x="1312.2" y="1072" font-size="20" text-anchor="middle" textLength="67.69" lengthAdjust="spacingAndGlyphs">plasma</text>
<text x="1152.5" y="902.1" font-size="20" text-anchor="middle" textLength="65.35" lengthAdjust="spacingAndGlyphs" transform="rotate(-90 1152.5 902.1)">tumour</text>
<text x="1214" y="825.4" font-size="20"><tspan font-style="italic">&#961;</tspan>=0.35</text>
<text x="1214" y="850.4" font-size="20" textLength="95.7" lengthAdjust="spacingAndGlyphs">p=1.39e-9</text>
<text x="30.3" y="1119.8" font-size="32" font-weight="bold">c</text>
<text x="668.4" y="1133.8" font-size="25.21" textLength="178.3" lengthAdjust="spacingAndGlyphs" fill="#1c1ce6" style="stroke:#1c1ce6">Diet + Radiation</text>
<text x="289" y="1171" font-size="25.49" text-anchor="middle" textLength="86" lengthAdjust="spacingAndGlyphs">Tumour</text>
<circle cx="323.76" cy="1428.8" r="3.7" fill="#000"/>
<circle cx="311.78" cy="1445.54" r="3.7" fill="#000"/>
<circle cx="304.1" cy="1480.93" r="3.7" fill="#000"/>
<circle cx="326.9" cy="1431.42" r="3.7" fill="#000"/>
<circle cx="308.53" cy="1470.43" r="3.7" fill="#000"/>
<circle cx="292.6" cy="1458.65" r="3.7" fill="#000"/>
<circle cx="340.32" cy="1414.49" r="3.7" fill="#000"/>
<circle cx="316.39" cy="1450.06" r="3.7" fill="#000"/>
<circle cx="302.29" cy="1475.59" r="3.7" fill="#000"/>
<circle cx="321.12" cy="1438.99" r="3.7" fill="#000"/>
<circle cx="298.56" cy="1467.37" r="3.7" fill="#000"/>
<circle cx="347.24" cy="1420.17" r="3.7" fill="#000"/>
<circle cx="330.27" cy="1455.73" r="3.7" fill="#000"/>
<circle cx="326.68" cy="1430.02" r="3.7" fill="#000"/>
<circle cx="338.29" cy="1412" r="3.7" fill="#000"/>
<circle cx="280.06" cy="1465.18" r="3.7" fill="#000"/>
<circle cx="286.18" cy="1463.11" r="3.7" fill="#000"/>
<circle cx="318.12" cy="1440.02" r="3.7" fill="#000"/>
<circle cx="291.54" cy="1453.36" r="3.7" fill="#000"/>
<circle cx="305.32" cy="1480.43" r="3.7" fill="#000"/>
<circle cx="317.76" cy="1468.76" r="3.7" fill="#000"/>
<circle cx="286.65" cy="1428.28" r="3.7" fill="#000"/>
<circle cx="327.58" cy="1453.32" r="3.7" fill="#000"/>
<circle cx="322.96" cy="1422.63" r="3.7" fill="#000"/>
<circle cx="288.77" cy="1471.18" r="3.7" fill="#000"/>
<circle cx="295.77" cy="1462.2" r="3.7" fill="#000"/>
<circle cx="296.8" cy="1473.56" r="3.7" fill="#000"/>
<circle cx="305.14" cy="1480.43" r="3.7" fill="#000"/>
<circle cx="306.74" cy="1474.96" r="3.7" fill="#000"/>
<circle cx="312.06" cy="1466.4" r="3.7" fill="#000"/>
<circle cx="282.81" cy="1400.71" r="3.7" fill="#000"/>
<circle cx="284.11" cy="1456.2" r="3.7" fill="#000"/>
<circle cx="299.32" cy="1474.83" r="3.7" fill="#000"/>
<circle cx="308.76" cy="1475.77" r="3.7" fill="#000"/>
<circle cx="318.73" cy="1458.66" r="3.7" fill="#000"/>
<circle cx="321.46" cy="1399.87" r="3.7" fill="#000"/>
<circle cx="311.06" cy="1467.15" r="3.7" fill="#000"/>
<circle cx="316.19" cy="1454.63" r="3.7" fill="#000"/>
<circle cx="313.52" cy="1420.13" r="3.7" fill="#000"/>
<circle cx="298.46" cy="1465.37" r="3.7" fill="#000"/>
<circle cx="315.84" cy="1461.26" r="3.7" fill="#000"/>
<circle cx="299.8" cy="1471.41" r="3.7" fill="#000"/>
<circle cx="294.55" cy="1461.57" r="3.7" fill="#000"/>
<circle cx="316.9" cy="1465.13" r="3.7" fill="#000"/>
<circle cx="305.47" cy="1477.71" r="3.7" fill="#000"/>
<circle cx="292.07" cy="1466.05" r="3.7" fill="#000"/>
<circle cx="287.73" cy="1434.04" r="3.7" fill="#000"/>
<circle cx="263.05" cy="1410.76" r="3.7" fill="#000"/>
<circle cx="309" cy="1469.36" r="3.7" fill="#000"/>
<circle cx="303.85" cy="1480.73" r="3.7" fill="#000"/>
<circle cx="305.92" cy="1478.78" r="3.7" fill="#000"/>
<circle cx="308.02" cy="1468.51" r="3.7" fill="#000"/>
<circle cx="274.04" cy="1439.66" r="3.7" fill="#000"/>
<circle cx="297.24" cy="1474.94" r="3.7" fill="#000"/>
<circle cx="295.34" cy="1457.52" r="3.7" fill="#000"/>
<circle cx="303.12" cy="1480.09" r="3.7" fill="#000"/>
<circle cx="289.97" cy="1435.25" r="3.7" fill="#000"/>
<circle cx="296.83" cy="1467.61" r="3.7" fill="#000"/>
<circle cx="283.05" cy="1394.58" r="3.7" fill="#000"/>
<circle cx="310.76" cy="1459.52" r="3.7" fill="#000"/>
<circle cx="288.09" cy="1454.7" r="3.7" fill="#000"/>
<circle cx="288.28" cy="1440.63" r="3.7" fill="#000"/>
<circle cx="323.35" cy="1439.05" r="3.7" fill="#000"/>
<circle cx="278.44" cy="1428.51" r="3.7" fill="#000"/>
<circle cx="312.39" cy="1471.89" r="3.7" fill="#000"/>
<circle cx="280.19" cy="1411.86" r="3.7" fill="#000"/>
<circle cx="329.55" cy="1423.97" r="3.7" fill="#000"/>
<circle cx="317.32" cy="1454.58" r="3.7" fill="#000"/>
<circle cx="331.61" cy="1417.33" r="3.7" fill="#000"/>
<circle cx="309.62" cy="1467.63" r="3.7" fill="#000"/>
<circle cx="314.21" cy="1445.05" r="3.7" fill="#000"/>
<circle cx="330.46" cy="1431.02" r="3.7" fill="#000"/>
<circle cx="317.63" cy="1467.98" r="3.7" fill="#000"/>
<circle cx="306.76" cy="1478.71" r="3.7" fill="#000"/>
<circle cx="327.59" cy="1415.21" r="3.7" fill="#000"/>
<circle cx="292.19" cy="1471.31" r="3.7" fill="#000"/>
<circle cx="311.21" cy="1467.35" r="3.7" fill="#000"/>
<circle cx="307.02" cy="1474.36" r="3.7" fill="#000"/>
<circle cx="301.55" cy="1478.47" r="3.7" fill="#000"/>
<circle cx="295.36" cy="1463.39" r="3.7" fill="#000"/>
<circle cx="293.68" cy="1461.74" r="3.7" fill="#000"/>
<circle cx="318.85" cy="1459.74" r="3.7" fill="#000"/>
<circle cx="302.11" cy="1476.32" r="3.7" fill="#000"/>
<circle cx="314.3" cy="1470.28" r="3.7" fill="#000"/>
<circle cx="321.01" cy="1474.56" r="3.7" fill="#000"/>
<circle cx="311.32" cy="1463.95" r="3.7" fill="#000"/>
<circle cx="303.44" cy="1480.45" r="3.7" fill="#000"/>
<circle cx="290.69" cy="1450.55" r="3.7" fill="#000"/>
<circle cx="277.76" cy="1395.98" r="3.7" fill="#000"/>
<circle cx="322.34" cy="1460.96" r="3.7" fill="#000"/>
<circle cx="320.63" cy="1463.4" r="3.7" fill="#000"/>
<circle cx="295.13" cy="1474.8" r="3.7" fill="#000"/>
<circle cx="287.35" cy="1459.02" r="3.7" fill="#000"/>
<circle cx="323.2" cy="1463.63" r="3.7" fill="#000"/>
<circle cx="312.29" cy="1453.66" r="3.7" fill="#000"/>
<circle cx="295.21" cy="1474.4" r="3.7" fill="#000"/>
<circle cx="308.92" cy="1458.86" r="3.7" fill="#000"/>
<circle cx="305.51" cy="1479.77" r="3.7" fill="#000"/>
<circle cx="308.8" cy="1475.94" r="3.7" fill="#000"/>
<circle cx="318.35" cy="1452.61" r="3.7" fill="#000"/>
<circle cx="289.13" cy="1450.64" r="3.7" fill="#000"/>
<circle cx="322.8" cy="1414.88" r="3.7" fill="#000"/>
<circle cx="329.48" cy="1464.49" r="3.7" fill="#000"/>
<circle cx="324.06" cy="1446.27" r="3.7" fill="#000"/>
<circle cx="310.25" cy="1464.02" r="3.7" fill="#000"/>
<circle cx="295.55" cy="1475.8" r="3.7" fill="#000"/>
<circle cx="314.26" cy="1466.25" r="3.7" fill="#000"/>
<circle cx="290.64" cy="1406.03" r="3.7" fill="#000"/>
<circle cx="312.56" cy="1458.02" r="3.7" fill="#000"/>
<circle cx="317.41" cy="1473.04" r="3.7" fill="#000"/>
<circle cx="319.44" cy="1420.32" r="3.7" fill="#000"/>
<circle cx="307.89" cy="1476.45" r="3.7" fill="#000"/>
<circle cx="275.25" cy="1448.13" r="3.7" fill="#000"/>
<circle cx="313.53" cy="1470.8" r="3.7" fill="#000"/>
<circle cx="332.39" cy="1418.52" r="3.7" fill="#000"/>
<circle cx="334.77" cy="1423.26" r="3.7" fill="#000"/>
<circle cx="289.36" cy="1451.34" r="3.7" fill="#000"/>
<circle cx="307.93" cy="1477.41" r="3.7" fill="#000"/>
<circle cx="309.01" cy="1469.52" r="3.7" fill="#000"/>
<circle cx="313.45" cy="1471.38" r="3.7" fill="#000"/>
<circle cx="312.16" cy="1474.88" r="3.7" fill="#000"/>
<circle cx="293.92" cy="1469.03" r="3.7" fill="#000"/>
<circle cx="318.46" cy="1469.73" r="3.7" fill="#000"/>
<circle cx="288.87" cy="1451.12" r="3.7" fill="#000"/>
<circle cx="302.87" cy="1478.66" r="3.7" fill="#000"/>
<circle cx="311.48" cy="1474.06" r="3.7" fill="#000"/>
<circle cx="272.64" cy="1400.12" r="3.7" fill="#000"/>
<circle cx="304.01" cy="1480.71" r="3.7" fill="#000"/>
<circle cx="322.43" cy="1401.27" r="3.7" fill="#000"/>
<circle cx="290.12" cy="1455.43" r="3.7" fill="#000"/>
<circle cx="329.96" cy="1404.68" r="3.7" fill="#000"/>
<circle cx="320.33" cy="1442.54" r="3.7" fill="#000"/>
<circle cx="329.5" cy="1424.94" r="3.7" fill="#000"/>
<circle cx="313.38" cy="1470.37" r="3.7" fill="#000"/>
<circle cx="318.19" cy="1454.69" r="3.7" fill="#000"/>
<circle cx="301.43" cy="1477.2" r="3.7" fill="#000"/>
<circle cx="301.49" cy="1479.04" r="3.7" fill="#000"/>
<circle cx="307.85" cy="1477.52" r="3.7" fill="#000"/>
<circle cx="298.35" cy="1473.95" r="3.7" fill="#000"/>
<circle cx="331.48" cy="1419.56" r="3.7" fill="#000"/>
<circle cx="304.61" cy="1480.23" r="3.7" fill="#000"/>
<circle cx="322.84" cy="1453.15" r="3.7" fill="#000"/>
<circle cx="292.38" cy="1459.91" r="3.7" fill="#000"/>
<circle cx="310.03" cy="1461.61" r="3.7" fill="#000"/>
<circle cx="311.16" cy="1469.07" r="3.7" fill="#000"/>
<circle cx="312.1" cy="1462.75" r="3.7" fill="#000"/>
<circle cx="298.36" cy="1471.02" r="3.7" fill="#000"/>
<circle cx="289.96" cy="1464.96" r="3.7" fill="#000"/>
<circle cx="314.05" cy="1462.11" r="3.7" fill="#000"/>
<circle cx="301.89" cy="1478.12" r="3.7" fill="#000"/>
<circle cx="308.39" cy="1471.97" r="3.7" fill="#000"/>
<circle cx="319.93" cy="1469.8" r="3.7" fill="#000"/>
<circle cx="301.79" cy="1480.44" r="3.7" fill="#000"/>
<circle cx="315.42" cy="1463.16" r="3.7" fill="#000"/>
<circle cx="293.04" cy="1461.53" r="3.7" fill="#000"/>
<circle cx="299.1" cy="1468.85" r="3.7" fill="#000"/>
<circle cx="307.2" cy="1476.87" r="3.7" fill="#000"/>
<circle cx="310.1" cy="1471.52" r="3.7" fill="#000"/>
<circle cx="271.96" cy="1415.57" r="3.7" fill="#000"/>
<circle cx="292.85" cy="1456.37" r="3.7" fill="#000"/>
<circle cx="278.2" cy="1431.22" r="3.7" fill="#000"/>
<circle cx="314.5" cy="1457.55" r="3.7" fill="#000"/>
<circle cx="299.4" cy="1469.7" r="3.7" fill="#000"/>
<circle cx="285.6" cy="1405.64" r="3.7" fill="#000"/>
<circle cx="309.39" cy="1470.54" r="3.7" fill="#000"/>
<circle cx="306.55" cy="1478" r="3.7" fill="#000"/>
<circle cx="333" cy="1459.76" r="3.7" fill="#000"/>
<circle cx="297.67" cy="1467.96" r="3.7" fill="#000"/>
<circle cx="303.44" cy="1480.44" r="3.7" fill="#000"/>
<circle cx="338.22" cy="1430.1" r="3.7" fill="#000"/>
<circle cx="304.2" cy="1481.1" r="3.7" fill="#000"/>
<circle cx="289.71" cy="1449.27" r="3.7" fill="#000"/>
<circle cx="310.04" cy="1465.71" r="3.7" fill="#000"/>
<circle cx="310.45" cy="1475.69" r="3.7" fill="#000"/>
<circle cx="300.76" cy="1476.54" r="3.7" fill="#000"/>
<circle cx="305.45" cy="1475.82" r="3.7" fill="#000"/>
<circle cx="276.52" cy="1421.85" r="3.7" fill="#000"/>
<circle cx="310.91" cy="1472.28" r="3.7" fill="#000"/>
<circle cx="315.23" cy="1470.87" r="3.7" fill="#000"/>
<circle cx="314.02" cy="1471.36" r="3.7" fill="#000"/>
<circle cx="318.73" cy="1406.1" r="3.7" fill="#000"/>
<circle cx="311.84" cy="1471.09" r="3.7" fill="#000"/>
<circle cx="314.87" cy="1461.18" r="3.7" fill="#000"/>
<circle cx="306.72" cy="1479.42" r="3.7" fill="#000"/>
<circle cx="317.65" cy="1431.91" r="3.7" fill="#000"/>
<circle cx="331.69" cy="1424.25" r="3.7" fill="#000"/>
<circle cx="311.94" cy="1467.13" r="3.7" fill="#000"/>
<circle cx="297.71" cy="1475.52" r="3.7" fill="#000"/>
<circle cx="319.17" cy="1396.72" r="3.7" fill="#000"/>
<circle cx="324.1" cy="1464.53" r="3.7" fill="#000"/>
<circle cx="285.41" cy="1406.73" r="3.7" fill="#000"/>
<circle cx="311.99" cy="1468.58" r="3.7" fill="#000"/>
<circle cx="323.22" cy="1457.56" r="3.7" fill="#000"/>
<circle cx="300.7" cy="1461.51" r="3.7" fill="#000"/>
<circle cx="311.18" cy="1469.2" r="3.7" fill="#000"/>
<circle cx="288.71" cy="1463.83" r="3.7" fill="#000"/>
<circle cx="296.72" cy="1471.31" r="3.7" fill="#000"/>
<circle cx="317.47" cy="1470.63" r="3.7" fill="#000"/>
<circle cx="299" cy="1476.24" r="3.7" fill="#000"/>
<circle cx="306.71" cy="1479.47" r="3.7" fill="#000"/>
<circle cx="301.23" cy="1476.87" r="3.7" fill="#000"/>
<circle cx="326.09" cy="1449.07" r="3.7" fill="#000"/>
<circle cx="303.43" cy="1480.32" r="3.7" fill="#000"/>
<circle cx="306.45" cy="1475.99" r="3.7" fill="#000"/>
<circle cx="287.73" cy="1453.25" r="3.7" fill="#000"/>
<circle cx="307.62" cy="1477.23" r="3.7" fill="#000"/>
<circle cx="296.02" cy="1466.1" r="3.7" fill="#000"/>
<circle cx="317.8" cy="1455.38" r="3.7" fill="#000"/>
<circle cx="325.69" cy="1437.36" r="3.7" fill="#000"/>
<circle cx="302.95" cy="1479.76" r="3.7" fill="#000"/>
<circle cx="325.16" cy="1465.16" r="3.7" fill="#000"/>
<circle cx="286.26" cy="1418.23" r="3.7" fill="#000"/>
<circle cx="339.81" cy="1395.65" r="3.7" fill="#000"/>
<circle cx="297.97" cy="1463.72" r="3.7" fill="#000"/>
<circle cx="297.01" cy="1474.41" r="3.7" fill="#000"/>
<circle cx="316.38" cy="1459.53" r="3.7" fill="#000"/>
<circle cx="298.06" cy="1466.64" r="3.7" fill="#000"/>
<circle cx="292.84" cy="1451.5" r="3.7" fill="#000"/>
<circle cx="315.33" cy="1468.41" r="3.7" fill="#000"/>
<circle cx="307.17" cy="1464.91" r="3.7" fill="#000"/>
<circle cx="303.11" cy="1479.96" r="3.7" fill="#000"/>
<circle cx="275.13" cy="1424.48" r="3.7" fill="#000"/>
<circle cx="293.43" cy="1437.93" r="3.7" fill="#000"/>
<circle cx="305.32" cy="1478.79" r="3.7" fill="#000"/>
<circle cx="290.92" cy="1445.56" r="3.7" fill="#000"/>
<circle cx="320.56" cy="1427.75" r="3.7" fill="#000"/>
<circle cx="283.55" cy="1416.08" r="3.7" fill="#000"/>
<circle cx="299.87" cy="1462.42" r="3.7" fill="#000"/>
<circle cx="308.7" cy="1471.33" r="3.7" fill="#000"/>
<circle cx="313.86" cy="1462.72" r="3.7" fill="#000"/>
<circle cx="284.19" cy="1216.06" r="3.7" fill="#000"/>
<circle cx="388.29" cy="1254.6" r="3.7" fill="#000"/>
<circle cx="274.34" cy="1272.89" r="3.7" fill="#000"/>
<circle cx="258.86" cy="1284.15" r="3.7" fill="#000"/>
<circle cx="267.3" cy="1300.47" r="3.7" fill="#000"/>
<circle cx="271.53" cy="1298.78" r="3.7" fill="#000"/>
<circle cx="270.12" cy="1325.79" r="3.7" fill="#000"/>
<circle cx="333.43" cy="1319.32" r="3.7" fill="#000"/>
<circle cx="329.21" cy="1328.6" r="3.7" fill="#000"/>
<circle cx="336.24" cy="1331.98" r="3.7" fill="#000"/>
<circle cx="341.87" cy="1339.02" r="3.7" fill="#000"/>
<circle cx="317.39" cy="1339.02" r="3.7" fill="#000"/>
<circle cx="289.81" cy="1343.24" r="3.7" fill="#000"/>
<circle cx="351.15" cy="1351.11" r="3.7" fill="#000"/>
<circle cx="249.02" cy="1353.08" r="3.7" fill="#000"/>
<circle cx="263.08" cy="1357.87" r="3.7" fill="#000"/>
<circle cx="272.37" cy="1358.71" r="3.7" fill="#000"/>
<circle cx="256.05" cy="1362.93" r="3.7" fill="#000"/>
<circle cx="248.17" cy="1369.97" r="3.7" fill="#000"/>
<circle cx="253.24" cy="1369.4" r="3.7" fill="#000"/>
<circle cx="274.34" cy="1370.53" r="3.7" fill="#000"/>
<circle cx="284.19" cy="1368.56" r="3.7" fill="#000"/>
<circle cx="287" cy="1369.97" r="3.7" fill="#000"/>
<circle cx="271.53" cy="1379.81" r="3.7" fill="#000"/>
<circle cx="294.03" cy="1386.85" r="3.7" fill="#000"/>
<circle cx="312.32" cy="1374.75" r="3.7" fill="#000"/>
<circle cx="319.36" cy="1379.81" r="3.7" fill="#000"/>
<circle cx="329.77" cy="1367.15" r="3.7" fill="#000"/>
<circle cx="339.05" cy="1367.15" r="3.7" fill="#000"/>
<circle cx="340.46" cy="1375.59" r="3.7" fill="#000"/>
<circle cx="329.21" cy="1384.88" r="3.7" fill="#000"/>
<circle cx="346.09" cy="1384.03" r="3.7" fill="#000"/>
<circle cx="348.9" cy="1391.07" r="3.7" fill="#000"/>
<circle cx="353.12" cy="1395.29" r="3.7" fill="#000"/>
<circle cx="380.42" cy="1415.83" r="3.7" fill="#000"/>
<circle cx="357.34" cy="1405.7" r="3.7" fill="#000"/>
<circle cx="361.56" cy="1429.05" r="3.7" fill="#000"/>
<circle cx="419.25" cy="1451.56" r="3.7" fill="#000"/>
<circle cx="453.57" cy="1431.87" r="3.7" fill="#000"/>
<circle cx="162.63" cy="1445.94" r="3.7" fill="#000"/>
<circle cx="232.98" cy="1438.9" r="3.7" fill="#000"/>
<circle cx="232.98" cy="1446.78" r="3.7" fill="#000"/>
<circle cx="244.23" cy="1449.59" r="3.7" fill="#000"/>
<circle cx="279.97" cy="1393.88" r="3.7" fill="#000"/>
<circle cx="281.37" cy="1402.32" r="3.7" fill="#000"/>
<circle cx="285.59" cy="1410.77" r="3.7" fill="#000"/>
<circle cx="287.56" cy="1416.39" r="3.7" fill="#000"/>
<circle cx="292.63" cy="1422.02" r="3.7" fill="#000"/>
<circle cx="320.77" cy="1393.88" r="3.7" fill="#000"/>
<circle cx="319.36" cy="1400.92" r="3.7" fill="#000"/>
<circle cx="323.58" cy="1407.95" r="3.7" fill="#000"/>
<circle cx="337.65" cy="1392.48" r="3.7" fill="#000"/>
<circle cx="341.87" cy="1405.14" r="3.7" fill="#000"/>
<circle cx="346.09" cy="1416.39" r="3.7" fill="#000"/>
<circle cx="332.02" cy="1416.39" r="3.7" fill="#000"/>
<circle cx="261.68" cy="1427.65" r="3.7" fill="#000"/>
<circle cx="263.08" cy="1434.68" r="3.7" fill="#000"/>
<circle cx="261.68" cy="1441.72" r="3.7" fill="#000"/>
<circle cx="270.12" cy="1436.09" r="3.7" fill="#000"/>
<circle cx="264.49" cy="1450.16" r="3.7" fill="#000"/>
<circle cx="351.72" cy="1413.58" r="3.7" fill="#000"/>
<circle cx="332.02" cy="1427.65" r="3.7" fill="#000"/>
<circle cx="339.05" cy="1427.65" r="3.7" fill="#000"/>
<circle cx="321.05" cy="1429.05" r="3.7" fill="#000"/>
<circle cx="323.04" cy="1428.89" r="3.7" fill="#000"/>
<circle cx="311.68" cy="1431.22" r="3.7" fill="#000"/>
<circle cx="315.07" cy="1431.14" r="3.7" fill="#000"/>
<circle cx="320.88" cy="1433.56" r="3.7" fill="#000"/>
<circle cx="323.45" cy="1430.85" r="3.7" fill="#000"/>
<circle cx="329.87" cy="1432.24" r="3.7" fill="#000"/>
<circle cx="332.28" cy="1431.39" r="3.7" fill="#000"/>
<circle cx="284.37" cy="1437.49" r="3.7" fill="#000"/>
<circle cx="288.15" cy="1437.03" r="3.7" fill="#000"/>
<circle cx="309.49" cy="1436.08" r="3.7" fill="#000"/>
<circle cx="312.17" cy="1436.86" r="3.7" fill="#000"/>
<circle cx="316.21" cy="1435.61" r="3.7" fill="#000"/>
<circle cx="320.07" cy="1435.2" r="3.7" fill="#000"/>
<circle cx="324.06" cy="1437.6" r="3.7" fill="#000"/>
<circle cx="329.79" cy="1436.57" r="3.7" fill="#000"/>
<circle cx="332.55" cy="1435.75" r="3.7" fill="#000"/>
<circle cx="335.45" cy="1435.56" r="3.7" fill="#000"/>
<circle cx="280.11" cy="1441.02" r="3.7" fill="#000"/>
<circle cx="283.32" cy="1440.86" r="3.7" fill="#000"/>
<circle cx="287.16" cy="1440.24" r="3.7" fill="#000"/>
<circle cx="312.09" cy="1441.18" r="3.7" fill="#000"/>
<circle cx="316.69" cy="1441.13" r="3.7" fill="#000"/>
<circle cx="319.91" cy="1440.69" r="3.7" fill="#000"/>
<circle cx="325.09" cy="1441.22" r="3.7" fill="#000"/>
<circle cx="328.05" cy="1441.26" r="3.7" fill="#000"/>
<circle cx="333.6" cy="1440.82" r="3.7" fill="#000"/>
<circle cx="337.98" cy="1441.58" r="3.7" fill="#000"/>
<circle cx="276.82" cy="1444.29" r="3.7" fill="#000"/>
<circle cx="280.19" cy="1444.98" r="3.7" fill="#000"/>
<circle cx="284.37" cy="1443.42" r="3.7" fill="#000"/>
<circle cx="288.58" cy="1444.58" r="3.7" fill="#000"/>
<circle cx="311.4" cy="1444.88" r="3.7" fill="#000"/>
<circle cx="316.64" cy="1443.04" r="3.7" fill="#000"/>
<circle cx="320.26" cy="1443.57" r="3.7" fill="#000"/>
<circle cx="323.14" cy="1443.31" r="3.7" fill="#000"/>
<circle cx="327.96" cy="1443.44" r="3.7" fill="#000"/>
<circle cx="331.68" cy="1443.03" r="3.7" fill="#000"/>
<circle cx="336.52" cy="1444.01" r="3.7" fill="#000"/>
<circle cx="279.01" cy="1448.16" r="3.7" fill="#000"/>
<circle cx="282.61" cy="1449.36" r="3.7" fill="#000"/>
<circle cx="287.42" cy="1447.1" r="3.7" fill="#000"/>
<circle cx="292.17" cy="1447.27" r="3.7" fill="#000"/>
<circle cx="309.02" cy="1448.83" r="3.7" fill="#000"/>
<circle cx="311.83" cy="1447.4" r="3.7" fill="#000"/>
<circle cx="316.54" cy="1448.6" r="3.7" fill="#000"/>
<circle cx="321.64" cy="1449.75" r="3.7" fill="#000"/>
<circle cx="324.72" cy="1448" r="3.7" fill="#000"/>
<circle cx="329.6" cy="1447" r="3.7" fill="#000"/>
<circle cx="331.43" cy="1448.61" r="3.7" fill="#000"/>
<circle cx="336.95" cy="1447.4" r="3.7" fill="#000"/>
<circle cx="280.99" cy="1452.15" r="3.7" fill="#000"/>
<circle cx="285.02" cy="1453.67" r="3.7" fill="#000"/>
<circle cx="288.05" cy="1451.81" r="3.7" fill="#000"/>
<circle cx="293.22" cy="1452.48" r="3.7" fill="#000"/>
<circle cx="295.68" cy="1451.97" r="3.7" fill="#000"/>
<circle cx="307.05" cy="1452.84" r="3.7" fill="#000"/>
<circle cx="312.04" cy="1451.9" r="3.7" fill="#000"/>
<circle cx="317.07" cy="1453.42" r="3.7" fill="#000"/>
<circle cx="318.95" cy="1452.58" r="3.7" fill="#000"/>
<circle cx="323.77" cy="1453.73" r="3.7" fill="#000"/>
<circle cx="329.28" cy="1451.77" r="3.7" fill="#000"/>
<circle cx="331.89" cy="1451.51" r="3.7" fill="#000"/>
<circle cx="276.26" cy="1455.47" r="3.7" fill="#000"/>
<circle cx="280.38" cy="1455.99" r="3.7" fill="#000"/>
<circle cx="283.81" cy="1456.09" r="3.7" fill="#000"/>
<circle cx="287.2" cy="1456.65" r="3.7" fill="#000"/>
<circle cx="291.75" cy="1456.16" r="3.7" fill="#000"/>
<circle cx="296.62" cy="1456.82" r="3.7" fill="#000"/>
<circle cx="298.67" cy="1455.85" r="3.7" fill="#000"/>
<circle cx="303.93" cy="1457.75" r="3.7" fill="#000"/>
<circle cx="309.24" cy="1456.69" r="3.7" fill="#000"/>
<circle cx="310.82" cy="1457.35" r="3.7" fill="#000"/>
<circle cx="316.06" cy="1456.78" r="3.7" fill="#000"/>
<circle cx="320.93" cy="1456.94" r="3.7" fill="#000"/>
<circle cx="324.36" cy="1457.73" r="3.7" fill="#000"/>
<circle cx="328.15" cy="1456.25" r="3.7" fill="#000"/>
<circle cx="333.55" cy="1455.7" r="3.7" fill="#000"/>
<circle cx="280.81" cy="1459.61" r="3.7" fill="#000"/>
<circle cx="283.65" cy="1460.77" r="3.7" fill="#000"/>
<circle cx="287.77" cy="1460.15" r="3.7" fill="#000"/>
<circle cx="290.86" cy="1460.87" r="3.7" fill="#000"/>
<circle cx="296.81" cy="1459.4" r="3.7" fill="#000"/>
<circle cx="299.22" cy="1461.54" r="3.7" fill="#000"/>
<circle cx="304.89" cy="1461.1" r="3.7" fill="#000"/>
<circle cx="306.78" cy="1461.26" r="3.7" fill="#000"/>
<circle cx="313.56" cy="1462.05" r="3.7" fill="#000"/>
<circle cx="316.84" cy="1459.34" r="3.7" fill="#000"/>
<circle cx="321.31" cy="1459.83" r="3.7" fill="#000"/>
<circle cx="324.83" cy="1461.92" r="3.7" fill="#000"/>
<circle cx="329.09" cy="1459.59" r="3.7" fill="#000"/>
<circle cx="331.96" cy="1461.82" r="3.7" fill="#000"/>
<circle cx="288.86" cy="1463.66" r="3.7" fill="#000"/>
<circle cx="291.66" cy="1464.17" r="3.7" fill="#000"/>
<circle cx="296.21" cy="1464.67" r="3.7" fill="#000"/>
<circle cx="301.24" cy="1464.34" r="3.7" fill="#000"/>
<circle cx="302.79" cy="1465.26" r="3.7" fill="#000"/>
<circle cx="307.14" cy="1465.07" r="3.7" fill="#000"/>
<circle cx="312.22" cy="1465.87" r="3.7" fill="#000"/>
<circle cx="316.43" cy="1465.04" r="3.7" fill="#000"/>
<circle cx="319.67" cy="1464.85" r="3.7" fill="#000"/>
<circle cx="323.71" cy="1465.41" r="3.7" fill="#000"/>
<circle cx="328.53" cy="1463.66" r="3.7" fill="#000"/>
<circle cx="294.65" cy="1467.78" r="3.7" fill="#000"/>
<circle cx="301.28" cy="1469.29" r="3.7" fill="#000"/>
<circle cx="303.27" cy="1467.68" r="3.7" fill="#000"/>
<circle cx="309.48" cy="1469.24" r="3.7" fill="#000"/>
<circle cx="313.11" cy="1467.74" r="3.7" fill="#000"/>
<circle cx="316.63" cy="1468.35" r="3.7" fill="#000"/>
<circle cx="319.59" cy="1468.29" r="3.7" fill="#000"/>
<circle cx="324.73" cy="1468.34" r="3.7" fill="#000"/>
<circle cx="300.33" cy="1472.64" r="3.7" fill="#000"/>
<circle cx="303.96" cy="1471.7" r="3.7" fill="#000"/>
<circle cx="307.15" cy="1471.87" r="3.7" fill="#000"/>
<circle cx="311.84" cy="1472.51" r="3.7" fill="#000"/>
<circle cx="317.35" cy="1471.85" r="3.7" fill="#000"/>
<circle cx="299.6" cy="1476.37" r="3.7" fill="#000"/>
<circle cx="303.97" cy="1476.29" r="3.7" fill="#000"/>
<circle cx="308.79" cy="1477.53" r="3.7" fill="#000"/>
<circle cx="311.24" cy="1476.17" r="3.7" fill="#000"/>
<circle cx="215.25" cy="1344.08" r="3.4" fill="#e8182c" stroke="#000" stroke-width="1"/>
<circle cx="169.39" cy="1355.9" r="3.4" fill="#e8182c" stroke="#000" stroke-width="1"/>
<circle cx="206.25" cy="1448.19" r="3.4" fill="#e8182c" stroke="#000" stroke-width="1"/>
<circle cx="250.42" cy="1436.09" r="3.4" fill="#e8182c" stroke="#000" stroke-width="1"/>
<line x1="118.2" y1="1195.4" x2="118.2" y2="1482.3" stroke="#000" stroke-width="2.4"/>
<line x1="117" y1="1481.1" x2="491.4" y2="1481.1" stroke="#000" stroke-width="2.4"/>
<line x1="111.2" y1="1481.1" x2="118.2" y2="1481.1" stroke="#000" stroke-width="2.4"/>
<text x="111.2" y="1488.84" font-size="21.5" text-anchor="end">0</text>
<line x1="111.2" y1="1424.16" x2="118.2" y2="1424.16" stroke="#000" stroke-width="2.4"/>
<text x="111.2" y="1431.9" font-size="21.5" text-anchor="end">1</text>
<line x1="111.2" y1="1367.22" x2="118.2" y2="1367.22" stroke="#000" stroke-width="2.4"/>
<text x="111.2" y="1374.96" font-size="21.5" text-anchor="end">2</text>
<line x1="111.2" y1="1310.28" x2="118.2" y2="1310.28" stroke="#000" stroke-width="2.4"/>
<text x="111.2" y="1318.02" font-size="21.5" text-anchor="end">3</text>
<line x1="111.2" y1="1253.34" x2="118.2" y2="1253.34" stroke="#000" stroke-width="2.4"/>
<text x="111.2" y="1261.08" font-size="21.5" text-anchor="end">4</text>
<line x1="111.2" y1="1196.4" x2="118.2" y2="1196.4" stroke="#000" stroke-width="2.4"/>
<text x="111.2" y="1204.14" font-size="21.5" text-anchor="end">5</text>
<line x1="118.2" y1="1481.1" x2="118.2" y2="1488.1" stroke="#000" stroke-width="2.4"/>
<text x="118.2" y="1506.4" font-size="21.5" text-anchor="middle">-6</text>
<line x1="211.2" y1="1481.1" x2="211.2" y2="1488.1" stroke="#000" stroke-width="2.4"/>
<text x="211.2" y="1506.4" font-size="21.5" text-anchor="middle">-3</text>
<line x1="304.2" y1="1481.1" x2="304.2" y2="1488.1" stroke="#000" stroke-width="2.4"/>
<text x="304.2" y="1506.4" font-size="21.5" text-anchor="middle">0</text>
<line x1="397.2" y1="1481.1" x2="397.2" y2="1488.1" stroke="#000" stroke-width="2.4"/>
<text x="397.2" y="1506.4" font-size="21.5" text-anchor="middle">3</text>
<line x1="490.2" y1="1481.1" x2="490.2" y2="1488.1" stroke="#000" stroke-width="2.4"/>
<text x="490.2" y="1506.4" font-size="21.5" text-anchor="middle">6</text>
<text x="76.8" y="1320.7" font-size="20.8" text-anchor="middle" transform="rotate(-90 76.8 1320.7)">-log<tspan font-size="13.73" dy="3.54">10</tspan><tspan dy="-3.54">(P)</tspan></text>
<text x="146" y="1534.6" font-size="20.6" textLength="311" lengthAdjust="spacingAndGlyphs">log<tspan font-size="14.4" dy="4">2</tspan><tspan dy="-4">(FC of Radiation+MR/Control)</tspan></text>
<text x="121" y="1337.6" font-size="21.13" textLength="147.7" lengthAdjust="spacingAndGlyphs">L-homocysteine</text>
<text x="128.9" y="1381.2" font-size="20.66" textLength="110.3" lengthAdjust="spacingAndGlyphs">Hypotaurine</text>
<text x="122.4" y="1427.6" font-size="20.92" textLength="139.3" lengthAdjust="spacingAndGlyphs">L-cystathionine</text>
<text x="40.8" y="1465.6" font-size="21.06" textLength="223.7" lengthAdjust="spacingAndGlyphs">N-acetyl-L-cystathionine</text>
<text x="805.5" y="1169.5" font-size="25.75" text-anchor="middle" textLength="85" lengthAdjust="spacingAndGlyphs">Plasma</text>
<circle cx="828.1" cy="1470.79" r="3.8" fill="#000"/>
<circle cx="810.34" cy="1442.3" r="3.8" fill="#000"/>
<circle cx="815.65" cy="1465.61" r="3.8" fill="#000"/>
<circle cx="829" cy="1474.53" r="3.8" fill="#000"/>
<circle cx="826.24" cy="1477.44" r="3.8" fill="#000"/>
<circle cx="829.47" cy="1469.83" r="3.8" fill="#000"/>
<circle cx="819.47" cy="1469.06" r="3.8" fill="#000"/>
<circle cx="799.38" cy="1414.85" r="3.8" fill="#000"/>
<circle cx="820.09" cy="1475.61" r="3.8" fill="#000"/>
<circle cx="827.36" cy="1466.12" r="3.8" fill="#000"/>
<circle cx="812.07" cy="1433.55" r="3.8" fill="#000"/>
<circle cx="837.06" cy="1448.72" r="3.8" fill="#000"/>
<circle cx="824.17" cy="1477.93" r="3.8" fill="#000"/>
<circle cx="803.82" cy="1409.71" r="3.8" fill="#000"/>
<circle cx="820.84" cy="1476.93" r="3.8" fill="#000"/>
<circle cx="800.16" cy="1432.84" r="3.8" fill="#000"/>
<circle cx="809.78" cy="1439.71" r="3.8" fill="#000"/>
<circle cx="817.45" cy="1466.77" r="3.8" fill="#000"/>
<circle cx="828.95" cy="1473.88" r="3.8" fill="#000"/>
<circle cx="827.21" cy="1471.14" r="3.8" fill="#000"/>
<circle cx="828.36" cy="1472.88" r="3.8" fill="#000"/>
<circle cx="834.78" cy="1460.31" r="3.8" fill="#000"/>
<circle cx="816.42" cy="1472.57" r="3.8" fill="#000"/>
<circle cx="820.29" cy="1476.98" r="3.8" fill="#000"/>
<circle cx="826.51" cy="1469.82" r="3.8" fill="#000"/>
<circle cx="822.93" cy="1479.66" r="3.8" fill="#000"/>
<circle cx="828.17" cy="1460.18" r="3.8" fill="#000"/>
<circle cx="828.45" cy="1467.51" r="3.8" fill="#000"/>
<circle cx="843.19" cy="1469.53" r="3.8" fill="#000"/>
<circle cx="837.66" cy="1456.5" r="3.8" fill="#000"/>
<circle cx="849.85" cy="1423.06" r="3.8" fill="#000"/>
<circle cx="823.22" cy="1479.9" r="3.8" fill="#000"/>
<circle cx="837.45" cy="1447.9" r="3.8" fill="#000"/>
<circle cx="825.34" cy="1477.46" r="3.8" fill="#000"/>
<circle cx="813.77" cy="1463.78" r="3.8" fill="#000"/>
<circle cx="824.76" cy="1478.31" r="3.8" fill="#000"/>
<circle cx="814.46" cy="1462.77" r="3.8" fill="#000"/>
<circle cx="797.33" cy="1382.92" r="3.8" fill="#000"/>
<circle cx="823" cy="1479.84" r="3.8" fill="#000"/>
<circle cx="836.28" cy="1440.67" r="3.8" fill="#000"/>
<circle cx="806.17" cy="1467.57" r="3.8" fill="#000"/>
<circle cx="835.51" cy="1386.6" r="3.8" fill="#000"/>
<circle cx="817.5" cy="1462.77" r="3.8" fill="#000"/>
<circle cx="813.58" cy="1422.28" r="3.8" fill="#000"/>
<circle cx="816.34" cy="1462.99" r="3.8" fill="#000"/>
<circle cx="819.06" cy="1475.97" r="3.8" fill="#000"/>
<circle cx="825.85" cy="1472.05" r="3.8" fill="#000"/>
<circle cx="797.06" cy="1374.9" r="3.8" fill="#000"/>
<circle cx="839.47" cy="1460.44" r="3.8" fill="#000"/>
<circle cx="813.95" cy="1471" r="3.8" fill="#000"/>
<circle cx="828.99" cy="1465.96" r="3.8" fill="#000"/>
<circle cx="828.99" cy="1469.68" r="3.8" fill="#000"/>
<circle cx="806.27" cy="1428.7" r="3.8" fill="#000"/>
<circle cx="825.07" cy="1478.67" r="3.8" fill="#000"/>
<circle cx="807.47" cy="1450.54" r="3.8" fill="#000"/>
<circle cx="823.04" cy="1479.69" r="3.8" fill="#000"/>
<circle cx="804.76" cy="1461.15" r="3.8" fill="#000"/>
<circle cx="841.91" cy="1464.58" r="3.8" fill="#000"/>
<circle cx="829.71" cy="1475.1" r="3.8" fill="#000"/>
<circle cx="830.77" cy="1472.42" r="3.8" fill="#000"/>
<circle cx="817.92" cy="1471.9" r="3.8" fill="#000"/>
<circle cx="818.05" cy="1463.44" r="3.8" fill="#000"/>
<circle cx="816.44" cy="1455.98" r="3.8" fill="#000"/>
<circle cx="806.39" cy="1431.1" r="3.8" fill="#000"/>
<circle cx="813.97" cy="1474.66" r="3.8" fill="#000"/>
<circle cx="849.12" cy="1448.12" r="3.8" fill="#000"/>
<circle cx="834.61" cy="1441.21" r="3.8" fill="#000"/>
<circle cx="827.02" cy="1466.18" r="3.8" fill="#000"/>
<circle cx="813.63" cy="1455.35" r="3.8" fill="#000"/>
<circle cx="817.51" cy="1473.87" r="3.8" fill="#000"/>
<circle cx="811.27" cy="1474.19" r="3.8" fill="#000"/>
<circle cx="815.38" cy="1471.26" r="3.8" fill="#000"/>
<circle cx="799.55" cy="1448.16" r="3.8" fill="#000"/>
<circle cx="804.76" cy="1443.17" r="3.8" fill="#000"/>
<circle cx="822.89" cy="1479.69" r="3.8" fill="#000"/>
<circle cx="832.04" cy="1467.24" r="3.8" fill="#000"/>
<circle cx="820.79" cy="1478.65" r="3.8" fill="#000"/>
<circle cx="816.17" cy="1467.45" r="3.8" fill="#000"/>
<circle cx="816.02" cy="1468.05" r="3.8" fill="#000"/>
<circle cx="808.73" cy="1439.76" r="3.8" fill="#000"/>
<circle cx="830.48" cy="1461.94" r="3.8" fill="#000"/>
<circle cx="829.88" cy="1463.7" r="3.8" fill="#000"/>
<circle cx="844.08" cy="1425.81" r="3.8" fill="#000"/>
<circle cx="849.08" cy="1433.03" r="3.8" fill="#000"/>
<circle cx="821.06" cy="1477.93" r="3.8" fill="#000"/>
<circle cx="840.3" cy="1465.78" r="3.8" fill="#000"/>
<circle cx="843.64" cy="1453.76" r="3.8" fill="#000"/>
<circle cx="805.67" cy="1458.62" r="3.8" fill="#000"/>
<circle cx="821.71" cy="1478.08" r="3.8" fill="#000"/>
<circle cx="841.81" cy="1409.91" r="3.8" fill="#000"/>
<circle cx="842.78" cy="1469.99" r="3.8" fill="#000"/>
<circle cx="831.26" cy="1462.62" r="3.8" fill="#000"/>
<circle cx="843.41" cy="1438.54" r="3.8" fill="#000"/>
<circle cx="838.64" cy="1465.19" r="3.8" fill="#000"/>
<circle cx="800.58" cy="1435.5" r="3.8" fill="#000"/>
<circle cx="800.4" cy="1384.32" r="3.8" fill="#000"/>
<circle cx="832.01" cy="1445.76" r="3.8" fill="#000"/>
<circle cx="812.29" cy="1451.36" r="3.8" fill="#000"/>
<circle cx="827.62" cy="1474.12" r="3.8" fill="#000"/>
<circle cx="829.53" cy="1465.41" r="3.8" fill="#000"/>
<circle cx="811.78" cy="1462.44" r="3.8" fill="#000"/>
<circle cx="810.01" cy="1433.07" r="3.8" fill="#000"/>
<circle cx="833.28" cy="1448.43" r="3.8" fill="#000"/>
<circle cx="809.47" cy="1465.79" r="3.8" fill="#000"/>
<circle cx="822.2" cy="1474.54" r="3.8" fill="#000"/>
<circle cx="811.65" cy="1472.73" r="3.8" fill="#000"/>
<circle cx="833.22" cy="1467.86" r="3.8" fill="#000"/>
<circle cx="827.47" cy="1459.88" r="3.8" fill="#000"/>
<circle cx="837.62" cy="1454.86" r="3.8" fill="#000"/>
<circle cx="819.28" cy="1463.03" r="3.8" fill="#000"/>
<circle cx="813.41" cy="1459.74" r="3.8" fill="#000"/>
<circle cx="819.03" cy="1473.74" r="3.8" fill="#000"/>
<circle cx="817.06" cy="1473.79" r="3.8" fill="#000"/>
<circle cx="832" cy="1446.44" r="3.8" fill="#000"/>
<circle cx="813.79" cy="1466.02" r="3.8" fill="#000"/>
<circle cx="814.54" cy="1472.75" r="3.8" fill="#000"/>
<circle cx="814.74" cy="1466.29" r="3.8" fill="#000"/>
<circle cx="831.71" cy="1448.31" r="3.8" fill="#000"/>
<circle cx="841.19" cy="1432.98" r="3.8" fill="#000"/>
<circle cx="812.16" cy="1445.63" r="3.8" fill="#000"/>
<circle cx="844.83" cy="1422.27" r="3.8" fill="#000"/>
<circle cx="818.5" cy="1472.71" r="3.8" fill="#000"/>
<circle cx="831.19" cy="1456.5" r="3.8" fill="#000"/>
<circle cx="819.56" cy="1474.71" r="3.8" fill="#000"/>
<circle cx="837.63" cy="1454.29" r="3.8" fill="#000"/>
<circle cx="847.21" cy="1408.34" r="3.8" fill="#000"/>
<circle cx="817.69" cy="1457.75" r="3.8" fill="#000"/>
<circle cx="822.02" cy="1478.65" r="3.8" fill="#000"/>
<circle cx="819.03" cy="1472.12" r="3.8" fill="#000"/>
<circle cx="808.23" cy="1431.75" r="3.8" fill="#000"/>
<circle cx="816.07" cy="1466.25" r="3.8" fill="#000"/>
<circle cx="838.5" cy="1456.42" r="3.8" fill="#000"/>
<circle cx="836.18" cy="1467.15" r="3.8" fill="#000"/>
<circle cx="815.8" cy="1473.66" r="3.8" fill="#000"/>
<circle cx="823.33" cy="1480.02" r="3.8" fill="#000"/>
<circle cx="813.72" cy="1460.75" r="3.8" fill="#000"/>
<circle cx="799.96" cy="1466.68" r="3.8" fill="#000"/>
<circle cx="821.9" cy="1478.67" r="3.8" fill="#000"/>
<circle cx="804.8" cy="1440.06" r="3.8" fill="#000"/>
<circle cx="826.42" cy="1472.28" r="3.8" fill="#000"/>
<circle cx="826.34" cy="1475.08" r="3.8" fill="#000"/>
<circle cx="828.1" cy="1463.51" r="3.8" fill="#000"/>
<circle cx="830.21" cy="1465.32" r="3.8" fill="#000"/>
<circle cx="819.72" cy="1472.74" r="3.8" fill="#000"/>
<circle cx="844.49" cy="1457.45" r="3.8" fill="#000"/>
<circle cx="828.63" cy="1472" r="3.8" fill="#000"/>
<circle cx="829.91" cy="1450.83" r="3.8" fill="#000"/>
<circle cx="843.39" cy="1419.51" r="3.8" fill="#000"/>
<circle cx="811.59" cy="1456.37" r="3.8" fill="#000"/>
<circle cx="831.09" cy="1474.23" r="3.8" fill="#000"/>
<circle cx="822.65" cy="1478.91" r="3.8" fill="#000"/>
<circle cx="827.22" cy="1471.33" r="3.8" fill="#000"/>
<circle cx="824.37" cy="1478.73" r="3.8" fill="#000"/>
<circle cx="819.04" cy="1470.94" r="3.8" fill="#000"/>
<circle cx="823.43" cy="1479.9" r="3.8" fill="#000"/>
<circle cx="832.38" cy="1434.18" r="3.8" fill="#000"/>
<circle cx="805.89" cy="1424.2" r="3.8" fill="#000"/>
<circle cx="829.52" cy="1455.84" r="3.8" fill="#000"/>
<circle cx="840.15" cy="1464.64" r="3.8" fill="#000"/>
<circle cx="811.45" cy="1467.76" r="3.8" fill="#000"/>
<circle cx="791.49" cy="1376.82" r="3.8" fill="#000"/>
<circle cx="798.5" cy="1448.7" r="3.8" fill="#000"/>
<circle cx="834.7" cy="1463.16" r="3.8" fill="#000"/>
<circle cx="813.6" cy="1440.85" r="3.8" fill="#000"/>
<circle cx="828.28" cy="1468.39" r="3.8" fill="#000"/>
<circle cx="832.07" cy="1432.91" r="3.8" fill="#000"/>
<circle cx="828.34" cy="1473.4" r="3.8" fill="#000"/>
<circle cx="811.53" cy="1444.13" r="3.8" fill="#000"/>
<circle cx="796.49" cy="1405.72" r="3.8" fill="#000"/>
<circle cx="805.2" cy="1434.74" r="3.8" fill="#000"/>
<circle cx="832.07" cy="1428.15" r="3.8" fill="#000"/>
<circle cx="821.27" cy="1478.51" r="3.8" fill="#000"/>
<circle cx="833.7" cy="1429.96" r="3.8" fill="#000"/>
<circle cx="835.51" cy="1465.78" r="3.8" fill="#000"/>
<circle cx="817.04" cy="1472.05" r="3.8" fill="#000"/>
<circle cx="824.07" cy="1478.62" r="3.8" fill="#000"/>
<circle cx="823.5" cy="1479.91" r="3.8" fill="#000"/>
<circle cx="835.57" cy="1441" r="3.8" fill="#000"/>
<circle cx="833.33" cy="1469.99" r="3.8" fill="#000"/>
<circle cx="823.37" cy="1480.01" r="3.8" fill="#000"/>
<circle cx="827.2" cy="1464.12" r="3.8" fill="#000"/>
<circle cx="834.17" cy="1468.92" r="3.8" fill="#000"/>
<circle cx="807.08" cy="1394.01" r="3.8" fill="#000"/>
<circle cx="818.69" cy="1472.86" r="3.8" fill="#000"/>
<circle cx="833.7" cy="1455.62" r="3.8" fill="#000"/>
<circle cx="822.1" cy="1476.82" r="3.8" fill="#000"/>
<circle cx="825.74" cy="1473.86" r="3.8" fill="#000"/>
<circle cx="836.32" cy="1461.86" r="3.8" fill="#000"/>
<circle cx="797.37" cy="1423.17" r="3.8" fill="#000"/>
<circle cx="805.33" cy="1457.03" r="3.8" fill="#000"/>
<circle cx="806.23" cy="1462.06" r="3.8" fill="#000"/>
<circle cx="837.21" cy="1470.6" r="3.8" fill="#000"/>
<circle cx="826.33" cy="1475.02" r="3.8" fill="#000"/>
<circle cx="839.4" cy="1390.37" r="3.8" fill="#000"/>
<circle cx="820.86" cy="1475.19" r="3.8" fill="#000"/>
<circle cx="820.58" cy="1468.98" r="3.8" fill="#000"/>
<circle cx="843.03" cy="1417.17" r="3.8" fill="#000"/>
<circle cx="830.62" cy="1465.04" r="3.8" fill="#000"/>
<circle cx="817.89" cy="1475.26" r="3.8" fill="#000"/>
<circle cx="809.81" cy="1424.54" r="3.8" fill="#000"/>
<circle cx="803.71" cy="1456.22" r="3.8" fill="#000"/>
<circle cx="811.21" cy="1445.1" r="3.8" fill="#000"/>
<circle cx="818.78" cy="1474.35" r="3.8" fill="#000"/>
<circle cx="836.61" cy="1454.26" r="3.8" fill="#000"/>
<circle cx="821.42" cy="1477.7" r="3.8" fill="#000"/>
<circle cx="809.66" cy="1453.81" r="3.8" fill="#000"/>
<circle cx="846.24" cy="1380.11" r="3.8" fill="#000"/>
<circle cx="808.78" cy="1382.17" r="3.8" fill="#000"/>
<circle cx="822.17" cy="1478.75" r="3.8" fill="#000"/>
<circle cx="815.13" cy="1460.66" r="3.8" fill="#000"/>
<circle cx="799.08" cy="1252.77" r="3.8" fill="#000"/>
<circle cx="782.42" cy="1330.21" r="3.8" fill="#000"/>
<circle cx="802" cy="1336.93" r="3.8" fill="#000"/>
<circle cx="794.69" cy="1347.16" r="3.8" fill="#000"/>
<circle cx="799.08" cy="1344.24" r="3.8" fill="#000"/>
<circle cx="837.94" cy="1336.35" r="3.8" fill="#000"/>
<circle cx="841.45" cy="1347.16" r="3.8" fill="#000"/>
<circle cx="842.91" cy="1351.54" r="3.8" fill="#000"/>
<circle cx="858.98" cy="1354.47" r="3.8" fill="#000"/>
<circle cx="867.75" cy="1309.75" r="3.8" fill="#000"/>
<circle cx="873.59" cy="1321.74" r="3.8" fill="#000"/>
<circle cx="869.8" cy="1346.28" r="3.8" fill="#000"/>
<circle cx="690.95" cy="1377.26" r="3.8" fill="#000"/>
<circle cx="856.06" cy="1369.95" r="3.8" fill="#000"/>
<circle cx="857.52" cy="1376.38" r="3.8" fill="#000"/>
<circle cx="867.75" cy="1385.15" r="3.8" fill="#000"/>
<circle cx="776.58" cy="1393.92" r="3.8" fill="#000"/>
<circle cx="778.04" cy="1424.6" r="3.8" fill="#000"/>
<circle cx="761.09" cy="1434.24" r="3.8" fill="#000"/>
<circle cx="783.88" cy="1442.72" r="3.8" fill="#000"/>
<circle cx="913.05" cy="1450.9" r="3.8" fill="#000"/>
<circle cx="943.73" cy="1450.02" r="3.8" fill="#000"/>
<circle cx="961.26" cy="1439.8" r="3.8" fill="#000"/>
<circle cx="970.03" cy="1443.01" r="3.8" fill="#000"/>
<circle cx="995.75" cy="1446.52" r="3.8" fill="#000"/>
<circle cx="864.83" cy="1425.48" r="3.8" fill="#000"/>
<circle cx="857.52" cy="1421.68" r="3.8" fill="#000"/>
<circle cx="784.47" cy="1361.77" r="3.8" fill="#000"/>
<circle cx="783" cy="1366.15" r="3.8" fill="#000"/>
<circle cx="787.39" cy="1374.92" r="3.8" fill="#000"/>
<circle cx="796.15" cy="1357.39" r="3.8" fill="#000"/>
<circle cx="800.54" cy="1355.93" r="3.8" fill="#000"/>
<circle cx="804.92" cy="1357.39" r="3.8" fill="#000"/>
<circle cx="809.3" cy="1360.31" r="3.8" fill="#000"/>
<circle cx="812.23" cy="1367.62" r="3.8" fill="#000"/>
<circle cx="806.38" cy="1379.3" r="3.8" fill="#000"/>
<circle cx="818.07" cy="1377.84" r="3.8" fill="#000"/>
<circle cx="835.6" cy="1383.69" r="3.8" fill="#000"/>
<circle cx="837.07" cy="1393.92" r="3.8" fill="#000"/>
<circle cx="838.53" cy="1396.84" r="3.8" fill="#000"/>
<circle cx="853.14" cy="1402.1" r="3.8" fill="#000"/>
<circle cx="847.29" cy="1409.99" r="3.8" fill="#000"/>
<circle cx="853.14" cy="1411.45" r="3.8" fill="#000"/>
<circle cx="850.22" cy="1423.14" r="3.8" fill="#000"/>
<circle cx="848.76" cy="1437.75" r="3.8" fill="#000"/>
<circle cx="850.22" cy="1442.13" r="3.8" fill="#000"/>
<circle cx="850.22" cy="1450.9" r="3.8" fill="#000"/>
<circle cx="793.23" cy="1393.92" r="3.8" fill="#000"/>
<circle cx="790.31" cy="1405.6" r="3.8" fill="#000"/>
<circle cx="793.23" cy="1411.45" r="3.8" fill="#000"/>
<circle cx="791.77" cy="1421.68" r="3.8" fill="#000"/>
<circle cx="794.69" cy="1428.98" r="3.8" fill="#000"/>
<circle cx="796.15" cy="1440.67" r="3.8" fill="#000"/>
<circle cx="802" cy="1461.13" r="3.8" fill="#000"/>
<circle cx="800.54" cy="1449.44" r="3.8" fill="#000"/>
<circle cx="807.27" cy="1385.67" r="3.8" fill="#000"/>
<circle cx="808.88" cy="1391.32" r="3.8" fill="#000"/>
<circle cx="807.34" cy="1395.4" r="3.8" fill="#000"/>
<circle cx="812.09" cy="1394.03" r="3.8" fill="#000"/>
<circle cx="807.97" cy="1400.28" r="3.8" fill="#000"/>
<circle cx="812.99" cy="1398.53" r="3.8" fill="#000"/>
<circle cx="809.87" cy="1402.53" r="3.8" fill="#000"/>
<circle cx="808.19" cy="1406.25" r="3.8" fill="#000"/>
<circle cx="808.32" cy="1412.89" r="3.8" fill="#000"/>
<circle cx="809.35" cy="1415.3" r="3.8" fill="#000"/>
<circle cx="813.11" cy="1417.2" r="3.8" fill="#000"/>
<circle cx="807.85" cy="1418.56" r="3.8" fill="#000"/>
<circle cx="812.49" cy="1418.7" r="3.8" fill="#000"/>
<circle cx="815.45" cy="1420.8" r="3.8" fill="#000"/>
<circle cx="805.31" cy="1422.9" r="3.8" fill="#000"/>
<circle cx="807.56" cy="1425.49" r="3.8" fill="#000"/>
<circle cx="812.97" cy="1423.95" r="3.8" fill="#000"/>
<circle cx="808.77" cy="1427.32" r="3.8" fill="#000"/>
<circle cx="813.01" cy="1427.18" r="3.8" fill="#000"/>
<circle cx="815.67" cy="1428.79" r="3.8" fill="#000"/>
<circle cx="803.19" cy="1433.51" r="3.8" fill="#000"/>
<circle cx="807.24" cy="1432.89" r="3.8" fill="#000"/>
<circle cx="813.84" cy="1433.73" r="3.8" fill="#000"/>
<circle cx="817.97" cy="1432.4" r="3.8" fill="#000"/>
<circle cx="805.48" cy="1436.55" r="3.8" fill="#000"/>
<circle cx="809.27" cy="1436.57" r="3.8" fill="#000"/>
<circle cx="811.99" cy="1437.34" r="3.8" fill="#000"/>
<circle cx="815.54" cy="1437.6" r="3.8" fill="#000"/>
<circle cx="805.33" cy="1440.26" r="3.8" fill="#000"/>
<circle cx="809.82" cy="1440.7" r="3.8" fill="#000"/>
<circle cx="813.88" cy="1439.53" r="3.8" fill="#000"/>
<circle cx="815.61" cy="1441.83" r="3.8" fill="#000"/>
<circle cx="809.9" cy="1445.86" r="3.8" fill="#000"/>
<circle cx="813.96" cy="1445.67" r="3.8" fill="#000"/>
<circle cx="816.36" cy="1443.84" r="3.8" fill="#000"/>
<circle cx="811.27" cy="1449.33" r="3.8" fill="#000"/>
<circle cx="815.8" cy="1448.62" r="3.8" fill="#000"/>
<circle cx="819.98" cy="1449.46" r="3.8" fill="#000"/>
<circle cx="811.65" cy="1452.9" r="3.8" fill="#000"/>
<circle cx="816.06" cy="1453.65" r="3.8" fill="#000"/>
<circle cx="812.79" cy="1458.09" r="3.8" fill="#000"/>
<circle cx="817.45" cy="1458.04" r="3.8" fill="#000"/>
<circle cx="815.69" cy="1462.42" r="3.8" fill="#000"/>
<circle cx="819.83" cy="1461.41" r="3.8" fill="#000"/>
<circle cx="817.48" cy="1467.05" r="3.8" fill="#000"/>
<circle cx="820.03" cy="1466.45" r="3.8" fill="#000"/>
<circle cx="817.26" cy="1469.54" r="3.8" fill="#000"/>
<circle cx="820.83" cy="1469.29" r="3.8" fill="#000"/>
<circle cx="821.54" cy="1475.15" r="3.8" fill="#000"/>
<circle cx="847.55" cy="1410.72" r="3.8" fill="#000"/>
<circle cx="845.16" cy="1415.24" r="3.8" fill="#000"/>
<circle cx="847.73" cy="1414.88" r="3.8" fill="#000"/>
<circle cx="838.77" cy="1419.33" r="3.8" fill="#000"/>
<circle cx="845.07" cy="1419.05" r="3.8" fill="#000"/>
<circle cx="840.55" cy="1424.46" r="3.8" fill="#000"/>
<circle cx="845.24" cy="1422.39" r="3.8" fill="#000"/>
<circle cx="838.89" cy="1427.05" r="3.8" fill="#000"/>
<circle cx="844.44" cy="1428.32" r="3.8" fill="#000"/>
<circle cx="840.38" cy="1430.69" r="3.8" fill="#000"/>
<circle cx="842.85" cy="1431.14" r="3.8" fill="#000"/>
<circle cx="832.93" cy="1436.38" r="3.8" fill="#000"/>
<circle cx="837.04" cy="1436.43" r="3.8" fill="#000"/>
<circle cx="839.81" cy="1435.26" r="3.8" fill="#000"/>
<circle cx="843.14" cy="1435.95" r="3.8" fill="#000"/>
<circle cx="834.55" cy="1440.84" r="3.8" fill="#000"/>
<circle cx="840.45" cy="1438.71" r="3.8" fill="#000"/>
<circle cx="843.58" cy="1439.29" r="3.8" fill="#000"/>
<circle cx="848.08" cy="1438.64" r="3.8" fill="#000"/>
<circle cx="831.3" cy="1443.23" r="3.8" fill="#000"/>
<circle cx="836.9" cy="1442.93" r="3.8" fill="#000"/>
<circle cx="838.72" cy="1445.24" r="3.8" fill="#000"/>
<circle cx="844.38" cy="1442.89" r="3.8" fill="#000"/>
<circle cx="830.79" cy="1448.9" r="3.8" fill="#000"/>
<circle cx="836.04" cy="1448.92" r="3.8" fill="#000"/>
<circle cx="839.62" cy="1447.29" r="3.8" fill="#000"/>
<circle cx="830.38" cy="1451.63" r="3.8" fill="#000"/>
<circle cx="835.24" cy="1452.84" r="3.8" fill="#000"/>
<circle cx="841.46" cy="1452.13" r="3.8" fill="#000"/>
<circle cx="827.94" cy="1457.63" r="3.8" fill="#000"/>
<circle cx="832.76" cy="1456.4" r="3.8" fill="#000"/>
<circle cx="836.39" cy="1457.34" r="3.8" fill="#000"/>
<circle cx="838.91" cy="1456.93" r="3.8" fill="#000"/>
<circle cx="828.96" cy="1460.34" r="3.8" fill="#000"/>
<circle cx="831.47" cy="1461.95" r="3.8" fill="#000"/>
<circle cx="836.6" cy="1459.67" r="3.8" fill="#000"/>
<circle cx="833.14" cy="1465.26" r="3.8" fill="#000"/>
<circle cx="831.33" cy="1468.88" r="3.8" fill="#000"/>
<line x1="761.67" y1="1358.26" x2="760.21" y2="1412.91" stroke="#e8182c" stroke-width="2" stroke-dasharray="1.5 1"/>
<circle cx="673.42" cy="1238.16" r="3.6" fill="#e8182c" stroke="#000" stroke-width="1"/>
<circle cx="802.88" cy="1270.01" r="3.6" fill="#e8182c" stroke="#000" stroke-width="1"/>
<circle cx="771.32" cy="1315.01" r="3.6" fill="#e8182c" stroke="#000" stroke-width="1"/>
<circle cx="770.44" cy="1349.21" r="3.6" fill="#e8182c" stroke="#000" stroke-width="1"/>
<circle cx="761.67" cy="1358.26" r="3.6" fill="#e8182c" stroke="#000" stroke-width="1"/>
<circle cx="779.5" cy="1383.69" r="3.6" fill="#e8182c" stroke="#000" stroke-width="1"/>
<line x1="626.7" y1="1196.5" x2="626.7" y2="1481.3" stroke="#000" stroke-width="2.4"/>
<line x1="625.5" y1="1480.1" x2="1020.9" y2="1480.1" stroke="#000" stroke-width="2.4"/>
<line x1="619.7" y1="1480.1" x2="626.7" y2="1480.1" stroke="#000" stroke-width="2.4"/>
<text x="619.7" y="1487.84" font-size="21.5" text-anchor="end">0</text>
<line x1="619.7" y1="1409.45" x2="626.7" y2="1409.45" stroke="#000" stroke-width="2.4"/>
<text x="619.7" y="1417.19" font-size="21.5" text-anchor="end">1</text>
<line x1="619.7" y1="1338.8" x2="626.7" y2="1338.8" stroke="#000" stroke-width="2.4"/>
<text x="619.7" y="1346.54" font-size="21.5" text-anchor="end">2</text>
<line x1="619.7" y1="1268.15" x2="626.7" y2="1268.15" stroke="#000" stroke-width="2.4"/>
<text x="619.7" y="1275.89" font-size="21.5" text-anchor="end">3</text>
<line x1="619.7" y1="1197.5" x2="626.7" y2="1197.5" stroke="#000" stroke-width="2.4"/>
<text x="619.7" y="1205.24" font-size="21.5" text-anchor="end">4</text>
<line x1="724.9" y1="1480.1" x2="724.9" y2="1487.1" stroke="#000" stroke-width="2.4"/>
<text x="724.9" y="1505" font-size="21.5" text-anchor="middle">-3</text>
<line x1="823.3" y1="1480.1" x2="823.3" y2="1487.1" stroke="#000" stroke-width="2.4"/>
<text x="823.3" y="1505" font-size="21.5" text-anchor="middle">0</text>
<line x1="921.5" y1="1480.1" x2="921.5" y2="1487.1" stroke="#000" stroke-width="2.4"/>
<text x="921.5" y="1505" font-size="21.5" text-anchor="middle">3</text>
<line x1="1019.7" y1="1480.1" x2="1019.7" y2="1487.1" stroke="#000" stroke-width="2.4"/>
<text x="1019.7" y="1505" font-size="21.5" text-anchor="middle">6</text>
<text x="586.3" y="1300.4" font-size="20.8" text-anchor="middle" transform="rotate(-90 586.3 1300.4)">-log<tspan font-size="13.73" dy="3.54">10</tspan><tspan dy="-3.54">(P)</tspan></text>
<text x="653.8" y="1526.9" font-size="20.6" textLength="310.4" lengthAdjust="spacingAndGlyphs">log<tspan font-size="14.4" dy="4">2</tspan><tspan dy="-4">(FC of Radiation+MR/Control)</tspan></text>
<text x="686" y="1243.4" font-size="20.64" textLength="110.2" lengthAdjust="spacingAndGlyphs">Hypotaurine</text>
<text x="815.1" y="1278.5" font-size="20.69" textLength="118.4" lengthAdjust="spacingAndGlyphs">L-methionine</text>
<text x="634" y="1310.6" font-size="21.11" textLength="147.5" lengthAdjust="spacingAndGlyphs">L-homocysteine</text>
<text x="636.3" y="1341.9" font-size="21.07" textLength="140.3" lengthAdjust="spacingAndGlyphs">L-cystathionine</text>
<text x="665.2" y="1398.3" font-size="20.78" textLength="93.8" lengthAdjust="spacingAndGlyphs">thiosulfate</text>
<text x="546.9" y="1430.4" font-size="21.07" textLength="223.8" lengthAdjust="spacingAndGlyphs">N-acetyl-L-cystathionine</text>
<text x="1355.5" y="1168" font-size="24.7" text-anchor="middle" textLength="53" lengthAdjust="spacingAndGlyphs">Liver</text>
<circle cx="1436.87" cy="1466.94" r="3.6" fill="#000"/>
<circle cx="1424.36" cy="1414.47" r="3.6" fill="#000"/>
<circle cx="1435.58" cy="1475.08" r="3.6" fill="#000"/>
<circle cx="1434.67" cy="1476.16" r="3.6" fill="#000"/>
<circle cx="1440.61" cy="1457.03" r="3.6" fill="#000"/>
<circle cx="1431.1" cy="1439.48" r="3.6" fill="#000"/>
<circle cx="1434.5" cy="1474.16" r="3.6" fill="#000"/>
<circle cx="1440.29" cy="1425.57" r="3.6" fill="#000"/>
<circle cx="1435.36" cy="1476.3" r="3.6" fill="#000"/>
<circle cx="1420.92" cy="1425.92" r="3.6" fill="#000"/>
<circle cx="1434.52" cy="1474.97" r="3.6" fill="#000"/>
<circle cx="1430.12" cy="1449.42" r="3.6" fill="#000"/>
<circle cx="1445.2" cy="1388.88" r="3.6" fill="#000"/>
<circle cx="1435.87" cy="1475.39" r="3.6" fill="#000"/>
<circle cx="1432.61" cy="1454.62" r="3.6" fill="#000"/>
<circle cx="1429.9" cy="1419.32" r="3.6" fill="#000"/>
<circle cx="1439.77" cy="1446.68" r="3.6" fill="#000"/>
<circle cx="1429.43" cy="1450.17" r="3.6" fill="#000"/>
<circle cx="1431.62" cy="1460.07" r="3.6" fill="#000"/>
<circle cx="1431.72" cy="1448.27" r="3.6" fill="#000"/>
<circle cx="1439.16" cy="1468.09" r="3.6" fill="#000"/>
<circle cx="1439.46" cy="1454.35" r="3.6" fill="#000"/>
<circle cx="1438.18" cy="1456.44" r="3.6" fill="#000"/>
<circle cx="1429.76" cy="1429.47" r="3.6" fill="#000"/>
<circle cx="1450.59" cy="1410.18" r="3.6" fill="#000"/>
<circle cx="1436.83" cy="1469.13" r="3.6" fill="#000"/>
<circle cx="1427.2" cy="1445.9" r="3.6" fill="#000"/>
<circle cx="1438.4" cy="1439.1" r="3.6" fill="#000"/>
<circle cx="1431.97" cy="1464.84" r="3.6" fill="#000"/>
<circle cx="1436.77" cy="1467.98" r="3.6" fill="#000"/>
<circle cx="1441.01" cy="1454.03" r="3.6" fill="#000"/>
<circle cx="1433.86" cy="1466.91" r="3.6" fill="#000"/>
<circle cx="1435.34" cy="1472.45" r="3.6" fill="#000"/>
<circle cx="1432.58" cy="1462.31" r="3.6" fill="#000"/>
<circle cx="1428.91" cy="1440.98" r="3.6" fill="#000"/>
<circle cx="1434.25" cy="1473.14" r="3.6" fill="#000"/>
<circle cx="1443.83" cy="1442.58" r="3.6" fill="#000"/>
<circle cx="1443.05" cy="1420.43" r="3.6" fill="#000"/>
<circle cx="1434.55" cy="1475.06" r="3.6" fill="#000"/>
<circle cx="1435.94" cy="1470.59" r="3.6" fill="#000"/>
<circle cx="1436.56" cy="1472.13" r="3.6" fill="#000"/>
<circle cx="1430.14" cy="1396.14" r="3.6" fill="#000"/>
<circle cx="1438.05" cy="1446.8" r="3.6" fill="#000"/>
<circle cx="1429.31" cy="1433.01" r="3.6" fill="#000"/>
<circle cx="1442.57" cy="1445.74" r="3.6" fill="#000"/>
<circle cx="1432.65" cy="1412.28" r="3.6" fill="#000"/>
<circle cx="1440.59" cy="1460.96" r="3.6" fill="#000"/>
<circle cx="1439.01" cy="1458.85" r="3.6" fill="#000"/>
<circle cx="1437.88" cy="1465.33" r="3.6" fill="#000"/>
<circle cx="1430.46" cy="1457.67" r="3.6" fill="#000"/>
<circle cx="1430.97" cy="1413.01" r="3.6" fill="#000"/>
<circle cx="1433.82" cy="1474.1" r="3.6" fill="#000"/>
<circle cx="1431.92" cy="1409.83" r="3.6" fill="#000"/>
<circle cx="1443.34" cy="1411.34" r="3.6" fill="#000"/>
<circle cx="1437.81" cy="1454.47" r="3.6" fill="#000"/>
<circle cx="1437.29" cy="1471.72" r="3.6" fill="#000"/>
<circle cx="1428.26" cy="1440.2" r="3.6" fill="#000"/>
<circle cx="1436.27" cy="1466.91" r="3.6" fill="#000"/>
<circle cx="1434.88" cy="1476.38" r="3.6" fill="#000"/>
<circle cx="1426.69" cy="1441.37" r="3.6" fill="#000"/>
<circle cx="1424.54" cy="1427.57" r="3.6" fill="#000"/>
<circle cx="1438.41" cy="1458.4" r="3.6" fill="#000"/>
<circle cx="1432.42" cy="1464.97" r="3.6" fill="#000"/>
<circle cx="1441.62" cy="1429.06" r="3.6" fill="#000"/>
<circle cx="1430.76" cy="1460.16" r="3.6" fill="#000"/>
<circle cx="1433.38" cy="1467.08" r="3.6" fill="#000"/>
<circle cx="1424.07" cy="1420.4" r="3.6" fill="#000"/>
<circle cx="1428.08" cy="1459.66" r="3.6" fill="#000"/>
<circle cx="1434.16" cy="1469.81" r="3.6" fill="#000"/>
<circle cx="1441.28" cy="1444.52" r="3.6" fill="#000"/>
<circle cx="1435.99" cy="1474.03" r="3.6" fill="#000"/>
<circle cx="1437.27" cy="1458" r="3.6" fill="#000"/>
<circle cx="1424.67" cy="1418.32" r="3.6" fill="#000"/>
<circle cx="1428.24" cy="1406.08" r="3.6" fill="#000"/>
<circle cx="1421.43" cy="1389.5" r="3.6" fill="#000"/>
<circle cx="1433.8" cy="1473.76" r="3.6" fill="#000"/>
<circle cx="1430.57" cy="1420.85" r="3.6" fill="#000"/>
<circle cx="1438.46" cy="1457.84" r="3.6" fill="#000"/>
<circle cx="1434.71" cy="1475.4" r="3.6" fill="#000"/>
<circle cx="1432.36" cy="1462.11" r="3.6" fill="#000"/>
<circle cx="1425.41" cy="1412.62" r="3.6" fill="#000"/>
<circle cx="1429.39" cy="1436.25" r="3.6" fill="#000"/>
<circle cx="1425.28" cy="1398.89" r="3.6" fill="#000"/>
<circle cx="1432.26" cy="1446.14" r="3.6" fill="#000"/>
<circle cx="1434.81" cy="1475.97" r="3.6" fill="#000"/>
<circle cx="1434.85" cy="1475.75" r="3.6" fill="#000"/>
<circle cx="1429.97" cy="1453.82" r="3.6" fill="#000"/>
<circle cx="1444.98" cy="1396.55" r="3.6" fill="#000"/>
<circle cx="1426.01" cy="1401.98" r="3.6" fill="#000"/>
<circle cx="1438.19" cy="1426.91" r="3.6" fill="#000"/>
<circle cx="1439.91" cy="1424.86" r="3.6" fill="#000"/>
<circle cx="1429.34" cy="1434.55" r="3.6" fill="#000"/>
<circle cx="1435.89" cy="1472.1" r="3.6" fill="#000"/>
<circle cx="1429.28" cy="1442.04" r="3.6" fill="#000"/>
<circle cx="1422.98" cy="1442.27" r="3.6" fill="#000"/>
<circle cx="1427.53" cy="1423.78" r="3.6" fill="#000"/>
<circle cx="1432.09" cy="1466.12" r="3.6" fill="#000"/>
<circle cx="1429.92" cy="1408.85" r="3.6" fill="#000"/>
<circle cx="1435.32" cy="1476.38" r="3.6" fill="#000"/>
<circle cx="1432.21" cy="1471.17" r="3.6" fill="#000"/>
<circle cx="1439.3" cy="1463.89" r="3.6" fill="#000"/>
<circle cx="1443.44" cy="1437.77" r="3.6" fill="#000"/>
<circle cx="1431.93" cy="1468.83" r="3.6" fill="#000"/>
<circle cx="1430.48" cy="1445.92" r="3.6" fill="#000"/>
<circle cx="1444.35" cy="1428.62" r="3.6" fill="#000"/>
<circle cx="1426.36" cy="1438.29" r="3.6" fill="#000"/>
<circle cx="1430.57" cy="1444.28" r="3.6" fill="#000"/>
<circle cx="1438.62" cy="1431.9" r="3.6" fill="#000"/>
<circle cx="1433.79" cy="1467.65" r="3.6" fill="#000"/>
<circle cx="1430.49" cy="1395.49" r="3.6" fill="#000"/>
<circle cx="1433.86" cy="1466.78" r="3.6" fill="#000"/>
<circle cx="1433.06" cy="1467.18" r="3.6" fill="#000"/>
<circle cx="1430.02" cy="1427.29" r="3.6" fill="#000"/>
<circle cx="1441.56" cy="1413.12" r="3.6" fill="#000"/>
<circle cx="1436.06" cy="1470.75" r="3.6" fill="#000"/>
<circle cx="1428.71" cy="1428.67" r="3.6" fill="#000"/>
<circle cx="1429.35" cy="1434.04" r="3.6" fill="#000"/>
<circle cx="1438.25" cy="1446.43" r="3.6" fill="#000"/>
<circle cx="1420.98" cy="1406.1" r="3.6" fill="#000"/>
<circle cx="1436.24" cy="1467.6" r="3.6" fill="#000"/>
<circle cx="1434.77" cy="1475.85" r="3.6" fill="#000"/>
<circle cx="1436.01" cy="1470.95" r="3.6" fill="#000"/>
<circle cx="1447.62" cy="1396.78" r="3.6" fill="#000"/>
<circle cx="1429.19" cy="1403.22" r="3.6" fill="#000"/>
<circle cx="1434.89" cy="1476.32" r="3.6" fill="#000"/>
<circle cx="1438.69" cy="1399.87" r="3.6" fill="#000"/>
<circle cx="1430.51" cy="1451.99" r="3.6" fill="#000"/>
<circle cx="1440.16" cy="1447.57" r="3.6" fill="#000"/>
<circle cx="1432.51" cy="1463.31" r="3.6" fill="#000"/>
<circle cx="1429.13" cy="1460" r="3.6" fill="#000"/>
<circle cx="1440.21" cy="1446.15" r="3.6" fill="#000"/>
<circle cx="1428.8" cy="1421.81" r="3.6" fill="#000"/>
<circle cx="1436.09" cy="1471.98" r="3.6" fill="#000"/>
<circle cx="1445.76" cy="1447.76" r="3.6" fill="#000"/>
<circle cx="1438.59" cy="1444.63" r="3.6" fill="#000"/>
<circle cx="1433.28" cy="1473.27" r="3.6" fill="#000"/>
<circle cx="1428.34" cy="1441.6" r="3.6" fill="#000"/>
<circle cx="1436.19" cy="1472.87" r="3.6" fill="#000"/>
<circle cx="1442.77" cy="1410.63" r="3.6" fill="#000"/>
<circle cx="1441.83" cy="1388.67" r="3.6" fill="#000"/>
<circle cx="1440.05" cy="1458.76" r="3.6" fill="#000"/>
<circle cx="1431.15" cy="1441.91" r="3.6" fill="#000"/>
<circle cx="1426.37" cy="1393.06" r="3.6" fill="#000"/>
<circle cx="1437.71" cy="1467.21" r="3.6" fill="#000"/>
<circle cx="1429.61" cy="1445.78" r="3.6" fill="#000"/>
<circle cx="1427.59" cy="1434.78" r="3.6" fill="#000"/>
<circle cx="1441.28" cy="1433.96" r="3.6" fill="#000"/>
<circle cx="1426.24" cy="1444.65" r="3.6" fill="#000"/>
<circle cx="1441.28" cy="1411.77" r="3.6" fill="#000"/>
<circle cx="1442.04" cy="1436.53" r="3.6" fill="#000"/>
<circle cx="1434.62" cy="1472.93" r="3.6" fill="#000"/>
<circle cx="1438.69" cy="1454.17" r="3.6" fill="#000"/>
<circle cx="1438.93" cy="1445.22" r="3.6" fill="#000"/>
<circle cx="1439.19" cy="1445.22" r="3.6" fill="#000"/>
<circle cx="1429.02" cy="1431.7" r="3.6" fill="#000"/>
<circle cx="1440.83" cy="1452.59" r="3.6" fill="#000"/>
<circle cx="1428.42" cy="1396.68" r="3.6" fill="#000"/>
<circle cx="1446.07" cy="1425.54" r="3.6" fill="#000"/>
<circle cx="1426.49" cy="1422.56" r="3.6" fill="#000"/>
<circle cx="1441.27" cy="1412.89" r="3.6" fill="#000"/>
<circle cx="1437.4" cy="1460.88" r="3.6" fill="#000"/>
<circle cx="1423.45" cy="1442.88" r="3.6" fill="#000"/>
<circle cx="1435.99" cy="1471.44" r="3.6" fill="#000"/>
<circle cx="1433.17" cy="1467.72" r="3.6" fill="#000"/>
<circle cx="1430.53" cy="1458.33" r="3.6" fill="#000"/>
<circle cx="1432.99" cy="1471.44" r="3.6" fill="#000"/>
<circle cx="1433.68" cy="1463.62" r="3.6" fill="#000"/>
<circle cx="1434.77" cy="1475.28" r="3.6" fill="#000"/>
<circle cx="1429.27" cy="1421.61" r="3.6" fill="#000"/>
<circle cx="1440.31" cy="1452.9" r="3.6" fill="#000"/>
<circle cx="1435.74" cy="1474.11" r="3.6" fill="#000"/>
<circle cx="1438.07" cy="1464.12" r="3.6" fill="#000"/>
<circle cx="1436.22" cy="1468.25" r="3.6" fill="#000"/>
<circle cx="1442.42" cy="1445.87" r="3.6" fill="#000"/>
<circle cx="1437.51" cy="1463.55" r="3.6" fill="#000"/>
<circle cx="1434.59" cy="1475.61" r="3.6" fill="#000"/>
<circle cx="1431.16" cy="1435.25" r="3.6" fill="#000"/>
<circle cx="1437.86" cy="1436.23" r="3.6" fill="#000"/>
<circle cx="1428.76" cy="1403.44" r="3.6" fill="#000"/>
<circle cx="1433.68" cy="1470.32" r="3.6" fill="#000"/>
<circle cx="1441.73" cy="1388.36" r="3.6" fill="#000"/>
<circle cx="1430.52" cy="1415.19" r="3.6" fill="#000"/>
<circle cx="1430.57" cy="1438.78" r="3.6" fill="#000"/>
<circle cx="1433.09" cy="1469.64" r="3.6" fill="#000"/>
<circle cx="1436.28" cy="1463.52" r="3.6" fill="#000"/>
<circle cx="1428.83" cy="1444.87" r="3.6" fill="#000"/>
<circle cx="1439.96" cy="1446.18" r="3.6" fill="#000"/>
<circle cx="1433.28" cy="1471.25" r="3.6" fill="#000"/>
<circle cx="1433.06" cy="1459.48" r="3.6" fill="#000"/>
<circle cx="1427.08" cy="1438.45" r="3.6" fill="#000"/>
<circle cx="1439.48" cy="1466.83" r="3.6" fill="#000"/>
<circle cx="1429.57" cy="1397.59" r="3.6" fill="#000"/>
<circle cx="1429.63" cy="1463.21" r="3.6" fill="#000"/>
<circle cx="1432" cy="1446.87" r="3.6" fill="#000"/>
<circle cx="1431.87" cy="1459.95" r="3.6" fill="#000"/>
<circle cx="1428.41" cy="1452.97" r="3.6" fill="#000"/>
<circle cx="1433.12" cy="1468.28" r="3.6" fill="#000"/>
<circle cx="1437.68" cy="1423.09" r="3.6" fill="#000"/>
<circle cx="1436.6" cy="1460.93" r="3.6" fill="#000"/>
<circle cx="1439.35" cy="1449.77" r="3.6" fill="#000"/>
<circle cx="1425.75" cy="1435.85" r="3.6" fill="#000"/>
<circle cx="1426.69" cy="1445.12" r="3.6" fill="#000"/>
<circle cx="1432.39" cy="1472.21" r="3.6" fill="#000"/>
<circle cx="1424.05" cy="1390.08" r="3.6" fill="#000"/>
<circle cx="1428.48" cy="1408.32" r="3.6" fill="#000"/>
<circle cx="1424.27" cy="1389.13" r="3.6" fill="#000"/>
<circle cx="1445.86" cy="1409.11" r="3.6" fill="#000"/>
<circle cx="1427.29" cy="1457.25" r="3.6" fill="#000"/>
<circle cx="1420.49" cy="1420.04" r="3.6" fill="#000"/>
<circle cx="1431.92" cy="1439.13" r="3.6" fill="#000"/>
<circle cx="1433.18" cy="1465.56" r="3.6" fill="#000"/>
<circle cx="1441.75" cy="1439.47" r="3.6" fill="#000"/>
<circle cx="1430.52" cy="1457.67" r="3.6" fill="#000"/>
<circle cx="1430.87" cy="1416.13" r="3.6" fill="#000"/>
<circle cx="1435.04" cy="1476.84" r="3.6" fill="#000"/>
<circle cx="1439.08" cy="1405.91" r="3.6" fill="#000"/>
<circle cx="1433.68" cy="1470.6" r="3.6" fill="#000"/>
<circle cx="1434.36" cy="1473.93" r="3.6" fill="#000"/>
<circle cx="1427.24" cy="1406.35" r="3.6" fill="#000"/>
<circle cx="1442.86" cy="1459.98" r="3.6" fill="#000"/>
<circle cx="1427.94" cy="1402.63" r="3.6" fill="#000"/>
<circle cx="1439.83" cy="1426.56" r="3.6" fill="#000"/>
<circle cx="1442.14" cy="1409.18" r="3.6" fill="#000"/>
<circle cx="1433.12" cy="1468.66" r="3.6" fill="#000"/>
<circle cx="1427.57" cy="1448.97" r="3.6" fill="#000"/>
<circle cx="1437.36" cy="1454.85" r="3.6" fill="#000"/>
<circle cx="1428.79" cy="1388.57" r="3.6" fill="#000"/>
<circle cx="1435.19" cy="1476.89" r="3.6" fill="#000"/>
<circle cx="1443.76" cy="1401.24" r="3.6" fill="#000"/>
<circle cx="1429.15" cy="1413.26" r="3.6" fill="#000"/>
<circle cx="1445.48" cy="1414.11" r="3.6" fill="#000"/>
<circle cx="1430.06" cy="1395.82" r="3.6" fill="#000"/>
<circle cx="1437.29" cy="1461.14" r="3.6" fill="#000"/>
<circle cx="1432.27" cy="1440.65" r="3.6" fill="#000"/>
<circle cx="1436.33" cy="1471.3" r="3.6" fill="#000"/>
<circle cx="1438.01" cy="1459.27" r="3.6" fill="#000"/>
<circle cx="1434.67" cy="1473.36" r="3.6" fill="#000"/>
<circle cx="1441.58" cy="1432.52" r="3.6" fill="#000"/>
<circle cx="1430.52" cy="1459.11" r="3.6" fill="#000"/>
<circle cx="1429.59" cy="1445.53" r="3.6" fill="#000"/>
<circle cx="1432.35" cy="1457.58" r="3.6" fill="#000"/>
<circle cx="1433.68" cy="1459.52" r="3.6" fill="#000"/>
<circle cx="1430.92" cy="1469.05" r="3.6" fill="#000"/>
<circle cx="1440.09" cy="1415.96" r="3.6" fill="#000"/>
<circle cx="1439.31" cy="1459.33" r="3.6" fill="#000"/>
<circle cx="1433.55" cy="1473.12" r="3.6" fill="#000"/>
<circle cx="1433.8" cy="1462.35" r="3.6" fill="#000"/>
<circle cx="1429.76" cy="1464.78" r="3.6" fill="#000"/>
<circle cx="1432.75" cy="1471.9" r="3.6" fill="#000"/>
<circle cx="1440.28" cy="1409.34" r="3.6" fill="#000"/>
<circle cx="1438.88" cy="1454.38" r="3.6" fill="#000"/>
<circle cx="1437.61" cy="1463.43" r="3.6" fill="#000"/>
<circle cx="1427.2" cy="1438.84" r="3.6" fill="#000"/>
<circle cx="1434.01" cy="1470.23" r="3.6" fill="#000"/>
<circle cx="1433.1" cy="1461.6" r="3.6" fill="#000"/>
<circle cx="1432.98" cy="1463.25" r="3.6" fill="#000"/>
<circle cx="1422.61" cy="1432.35" r="3.6" fill="#000"/>
<circle cx="1434.97" cy="1476.47" r="3.6" fill="#000"/>
<circle cx="1420.58" cy="1406.24" r="3.6" fill="#000"/>
<circle cx="1436.89" cy="1470.8" r="3.6" fill="#000"/>
<circle cx="1423.4" cy="1241.96" r="3.6" fill="#000"/>
<circle cx="1417.56" cy="1253.65" r="3.6" fill="#000"/>
<circle cx="1418.43" cy="1266.8" r="3.6" fill="#000"/>
<circle cx="1404.7" cy="1283.45" r="3.6" fill="#000"/>
<circle cx="1412.59" cy="1290.18" r="3.6" fill="#000"/>
<circle cx="1427.2" cy="1287.25" r="3.6" fill="#000"/>
<circle cx="1466.07" cy="1283.45" r="3.6" fill="#000"/>
<circle cx="1486.52" cy="1266.8" r="3.6" fill="#000"/>
<circle cx="1453.5" cy="1302.74" r="3.6" fill="#000"/>
<circle cx="1419.89" cy="1310.63" r="3.6" fill="#000"/>
<circle cx="1418.43" cy="1320.86" r="3.6" fill="#000"/>
<circle cx="1415.51" cy="1334.01" r="3.6" fill="#000"/>
<circle cx="1438.01" cy="1326.12" r="3.6" fill="#000"/>
<circle cx="1492.37" cy="1326.12" r="3.6" fill="#000"/>
<circle cx="1438.01" cy="1342.78" r="3.6" fill="#000"/>
<circle cx="1485.65" cy="1348.04" r="3.6" fill="#000"/>
<circle cx="1453.5" cy="1345.7" r="3.6" fill="#000"/>
<circle cx="1458.47" cy="1347.16" r="3.6" fill="#000"/>
<circle cx="1447.66" cy="1355.93" r="3.6" fill="#000"/>
<circle cx="1450.58" cy="1358.85" r="3.6" fill="#000"/>
<circle cx="1373.14" cy="1360.89" r="3.6" fill="#000"/>
<circle cx="1403.82" cy="1360.31" r="3.6" fill="#000"/>
<circle cx="1443.27" cy="1372" r="3.6" fill="#000"/>
<circle cx="1449.7" cy="1379.3" r="3.6" fill="#000"/>
<circle cx="1446.78" cy="1390.99" r="3.6" fill="#000"/>
<circle cx="1468.99" cy="1398.88" r="3.6" fill="#000"/>
<circle cx="1491.49" cy="1394.79" r="3.6" fill="#000"/>
<circle cx="1485.65" cy="1412.91" r="3.6" fill="#000"/>
<circle cx="1452.62" cy="1408.53" r="3.6" fill="#000"/>
<circle cx="1459.93" cy="1405.6" r="3.6" fill="#000"/>
<circle cx="1457.3" cy="1418.76" r="3.6" fill="#000"/>
<circle cx="1459.35" cy="1434.24" r="3.6" fill="#000"/>
<circle cx="1463.14" cy="1452.36" r="3.6" fill="#000"/>
<circle cx="1400.32" cy="1434.24" r="3.6" fill="#000"/>
<circle cx="1419.89" cy="1294.56" r="3.6" fill="#000"/>
<circle cx="1418.43" cy="1300.4" r="3.6" fill="#000"/>
<circle cx="1416.97" cy="1315.01" r="3.6" fill="#000"/>
<circle cx="1415.51" cy="1341.32" r="3.6" fill="#000"/>
<circle cx="1403.82" cy="1344.24" r="3.6" fill="#000"/>
<circle cx="1405.28" cy="1350.08" r="3.6" fill="#000"/>
<circle cx="1416.97" cy="1353" r="3.6" fill="#000"/>
<circle cx="1419.89" cy="1363.23" r="3.6" fill="#000"/>
<circle cx="1425.74" cy="1364.69" r="3.6" fill="#000"/>
<circle cx="1428.66" cy="1372" r="3.6" fill="#000"/>
<circle cx="1415.51" cy="1379.3" r="3.6" fill="#000"/>
<circle cx="1411.13" cy="1390.99" r="3.6" fill="#000"/>
<circle cx="1409.67" cy="1399.76" r="3.6" fill="#000"/>
<circle cx="1408.21" cy="1411.45" r="3.6" fill="#000"/>
<circle cx="1405.28" cy="1420.22" r="3.6" fill="#000"/>
<circle cx="1408.21" cy="1428.98" r="3.6" fill="#000"/>
<circle cx="1443.27" cy="1405.6" r="3.6" fill="#000"/>
<circle cx="1446.2" cy="1411.45" r="3.6" fill="#000"/>
<circle cx="1449.12" cy="1423.14" r="3.6" fill="#000"/>
<circle cx="1447.66" cy="1440.67" r="3.6" fill="#000"/>
<circle cx="1450.58" cy="1449.44" r="3.6" fill="#000"/>
<circle cx="1419.89" cy="1455.28" r="3.6" fill="#000"/>
<circle cx="1416.97" cy="1469.89" r="3.6" fill="#000"/>
<circle cx="1418.27" cy="1380.98" r="3.6" fill="#000"/>
<circle cx="1422.32" cy="1384.55" r="3.6" fill="#000"/>
<circle cx="1425.01" cy="1385.64" r="3.6" fill="#000"/>
<circle cx="1422.97" cy="1388.04" r="3.6" fill="#000"/>
<circle cx="1425.29" cy="1388.3" r="3.6" fill="#000"/>
<circle cx="1417.96" cy="1392.64" r="3.6" fill="#000"/>
<circle cx="1422.92" cy="1392.03" r="3.6" fill="#000"/>
<circle cx="1427.49" cy="1391.06" r="3.6" fill="#000"/>
<circle cx="1413.27" cy="1396.62" r="3.6" fill="#000"/>
<circle cx="1418.15" cy="1395.36" r="3.6" fill="#000"/>
<circle cx="1422.07" cy="1397.03" r="3.6" fill="#000"/>
<circle cx="1426.8" cy="1396.32" r="3.6" fill="#000"/>
<circle cx="1411.07" cy="1400.37" r="3.6" fill="#000"/>
<circle cx="1414.89" cy="1399.53" r="3.6" fill="#000"/>
<circle cx="1417.53" cy="1400.43" r="3.6" fill="#000"/>
<circle cx="1422.92" cy="1400.77" r="3.6" fill="#000"/>
<circle cx="1424.83" cy="1400.67" r="3.6" fill="#000"/>
<circle cx="1411.15" cy="1403.75" r="3.6" fill="#000"/>
<circle cx="1415.28" cy="1403.48" r="3.6" fill="#000"/>
<circle cx="1417.92" cy="1405.59" r="3.6" fill="#000"/>
<circle cx="1423.2" cy="1403.8" r="3.6" fill="#000"/>
<circle cx="1425.62" cy="1404.63" r="3.6" fill="#000"/>
<circle cx="1413.26" cy="1409.19" r="3.6" fill="#000"/>
<circle cx="1417.65" cy="1407.7" r="3.6" fill="#000"/>
<circle cx="1423.08" cy="1408.29" r="3.6" fill="#000"/>
<circle cx="1425.58" cy="1409.36" r="3.6" fill="#000"/>
<circle cx="1411.14" cy="1413.61" r="3.6" fill="#000"/>
<circle cx="1415.49" cy="1413.03" r="3.6" fill="#000"/>
<circle cx="1417.27" cy="1412.55" r="3.6" fill="#000"/>
<circle cx="1422.75" cy="1411.1" r="3.6" fill="#000"/>
<circle cx="1426.1" cy="1413.26" r="3.6" fill="#000"/>
<circle cx="1410.98" cy="1416.48" r="3.6" fill="#000"/>
<circle cx="1413.82" cy="1415.64" r="3.6" fill="#000"/>
<circle cx="1417.88" cy="1415.72" r="3.6" fill="#000"/>
<circle cx="1422.3" cy="1415.13" r="3.6" fill="#000"/>
<circle cx="1426.81" cy="1415.78" r="3.6" fill="#000"/>
<circle cx="1429.22" cy="1415.52" r="3.6" fill="#000"/>
<circle cx="1418.93" cy="1420.1" r="3.6" fill="#000"/>
<circle cx="1422.41" cy="1421.37" r="3.6" fill="#000"/>
<circle cx="1427.58" cy="1421.36" r="3.6" fill="#000"/>
<circle cx="1429.14" cy="1419.68" r="3.6" fill="#000"/>
<circle cx="1419.23" cy="1424.2" r="3.6" fill="#000"/>
<circle cx="1421.71" cy="1424.62" r="3.6" fill="#000"/>
<circle cx="1426.13" cy="1423.09" r="3.6" fill="#000"/>
<circle cx="1422.76" cy="1426.91" r="3.6" fill="#000"/>
<circle cx="1425.33" cy="1428.3" r="3.6" fill="#000"/>
<circle cx="1429.13" cy="1429.37" r="3.6" fill="#000"/>
<circle cx="1423.09" cy="1431.69" r="3.6" fill="#000"/>
<circle cx="1426.56" cy="1430.76" r="3.6" fill="#000"/>
<circle cx="1429.16" cy="1432.62" r="3.6" fill="#000"/>
<circle cx="1419.28" cy="1435.85" r="3.6" fill="#000"/>
<circle cx="1422.6" cy="1436" r="3.6" fill="#000"/>
<circle cx="1426.63" cy="1435.56" r="3.6" fill="#000"/>
<circle cx="1430.38" cy="1436.66" r="3.6" fill="#000"/>
<circle cx="1419.34" cy="1439.12" r="3.6" fill="#000"/>
<circle cx="1421.17" cy="1438.68" r="3.6" fill="#000"/>
<circle cx="1426.81" cy="1439.16" r="3.6" fill="#000"/>
<circle cx="1429.65" cy="1441.28" r="3.6" fill="#000"/>
<circle cx="1434.77" cy="1440.62" r="3.6" fill="#000"/>
<circle cx="1423.36" cy="1443.71" r="3.6" fill="#000"/>
<circle cx="1425.22" cy="1442.94" r="3.6" fill="#000"/>
<circle cx="1430.74" cy="1445.17" r="3.6" fill="#000"/>
<circle cx="1434.58" cy="1443.49" r="3.6" fill="#000"/>
<circle cx="1438.35" cy="1444.35" r="3.6" fill="#000"/>
<circle cx="1441.36" cy="1444.46" r="3.6" fill="#000"/>
<circle cx="1421.43" cy="1448.41" r="3.6" fill="#000"/>
<circle cx="1426.76" cy="1447.02" r="3.6" fill="#000"/>
<circle cx="1431.01" cy="1448.31" r="3.6" fill="#000"/>
<circle cx="1435.14" cy="1448.66" r="3.6" fill="#000"/>
<circle cx="1438.06" cy="1448.48" r="3.6" fill="#000"/>
<circle cx="1441.53" cy="1448.31" r="3.6" fill="#000"/>
<circle cx="1444.84" cy="1447.45" r="3.6" fill="#000"/>
<circle cx="1423.06" cy="1452.15" r="3.6" fill="#000"/>
<circle cx="1425.26" cy="1451.12" r="3.6" fill="#000"/>
<circle cx="1429.39" cy="1452.46" r="3.6" fill="#000"/>
<circle cx="1434.39" cy="1451.01" r="3.6" fill="#000"/>
<circle cx="1438.6" cy="1452.02" r="3.6" fill="#000"/>
<circle cx="1441.39" cy="1451.69" r="3.6" fill="#000"/>
<circle cx="1447.37" cy="1450.84" r="3.6" fill="#000"/>
<circle cx="1422.09" cy="1456.07" r="3.6" fill="#000"/>
<circle cx="1426.17" cy="1455.93" r="3.6" fill="#000"/>
<circle cx="1431.22" cy="1457.12" r="3.6" fill="#000"/>
<circle cx="1433.29" cy="1456.51" r="3.6" fill="#000"/>
<circle cx="1439.31" cy="1456.1" r="3.6" fill="#000"/>
<circle cx="1442.04" cy="1455.45" r="3.6" fill="#000"/>
<circle cx="1445.96" cy="1456.02" r="3.6" fill="#000"/>
<circle cx="1425.25" cy="1459.73" r="3.6" fill="#000"/>
<circle cx="1430.98" cy="1460.12" r="3.6" fill="#000"/>
<circle cx="1435.42" cy="1461.01" r="3.6" fill="#000"/>
<circle cx="1438.02" cy="1459.67" r="3.6" fill="#000"/>
<circle cx="1442.77" cy="1460.81" r="3.6" fill="#000"/>
<circle cx="1427.35" cy="1464.37" r="3.6" fill="#000"/>
<circle cx="1430.34" cy="1464.97" r="3.6" fill="#000"/>
<circle cx="1434.46" cy="1463.57" r="3.6" fill="#000"/>
<circle cx="1437.2" cy="1462.78" r="3.6" fill="#000"/>
<circle cx="1429.28" cy="1466.57" r="3.6" fill="#000"/>
<circle cx="1433.08" cy="1466.8" r="3.6" fill="#000"/>
<circle cx="1438.04" cy="1467.87" r="3.6" fill="#000"/>
<circle cx="1433.98" cy="1471.18" r="3.6" fill="#000"/>
<circle cx="1438.14" cy="1472.17" r="3.6" fill="#000"/>
<circle cx="1434.13" cy="1475.77" r="3.6" fill="#000"/>
<circle cx="1413" cy="1360" r="3.6" fill="#000"/>
<circle cx="1418" cy="1356" r="3.6" fill="#000"/>
<circle cx="1424" cy="1362" r="3.6" fill="#000"/>
<circle cx="1430" cy="1368" r="3.6" fill="#000"/>
<circle cx="1416" cy="1370" r="3.6" fill="#000"/>
<circle cx="1422" cy="1372" r="3.6" fill="#000"/>
<circle cx="1424.28" cy="1254.23" r="3.4" fill="#e8182c" stroke="#000" stroke-width="1"/>
<circle cx="1412.59" cy="1281.99" r="3.4" fill="#e8182c" stroke="#000" stroke-width="1"/>
<circle cx="1398.56" cy="1324.66" r="3.4" fill="#e8182c" stroke="#000" stroke-width="1"/>
<circle cx="1407.62" cy="1338.98" r="3.4" fill="#e8182c" stroke="#000" stroke-width="1"/>
<circle cx="1393.01" cy="1358.85" r="3.4" fill="#e8182c" stroke="#000" stroke-width="1"/>
<circle cx="1389.21" cy="1394.79" r="3.4" fill="#e8182c" stroke="#000" stroke-width="1"/>
<circle cx="1214.75" cy="1404.14" r="3.4" fill="#e8182c" stroke="#000" stroke-width="1"/>
<circle cx="1380.44" cy="1434.24" r="3.4" fill="#e8182c" stroke="#000" stroke-width="1"/>
<line x1="1154.6" y1="1179" x2="1154.6" y2="1478.4" stroke="#000" stroke-width="2.4"/>
<line x1="1153.4" y1="1477.2" x2="1529.8" y2="1477.2" stroke="#000" stroke-width="2.4"/>
<line x1="1147.6" y1="1477.2" x2="1154.6" y2="1477.2" stroke="#000" stroke-width="2.4"/>
<text x="1147.6" y="1484.94" font-size="21.5" text-anchor="end">0</text>
<line x1="1147.6" y1="1417.76" x2="1154.6" y2="1417.76" stroke="#000" stroke-width="2.4"/>
<text x="1147.6" y="1425.5" font-size="21.5" text-anchor="end">1</text>
<line x1="1147.6" y1="1358.32" x2="1154.6" y2="1358.32" stroke="#000" stroke-width="2.4"/>
<text x="1147.6" y="1366.06" font-size="21.5" text-anchor="end">2</text>
<line x1="1147.6" y1="1298.88" x2="1154.6" y2="1298.88" stroke="#000" stroke-width="2.4"/>
<text x="1147.6" y="1306.62" font-size="21.5" text-anchor="end">3</text>
<line x1="1147.6" y1="1239.44" x2="1154.6" y2="1239.44" stroke="#000" stroke-width="2.4"/>
<text x="1147.6" y="1247.18" font-size="21.5" text-anchor="end">4</text>
<line x1="1147.6" y1="1180" x2="1154.6" y2="1180" stroke="#000" stroke-width="2.4"/>
<text x="1147.6" y="1187.74" font-size="21.5" text-anchor="end">5</text>
<line x1="1154.6" y1="1477.2" x2="1154.6" y2="1484.2" stroke="#000" stroke-width="2.4"/>
<text x="1154.6" y="1503.5" font-size="21.5" text-anchor="middle">-15</text>
<line x1="1248.1" y1="1477.2" x2="1248.1" y2="1484.2" stroke="#000" stroke-width="2.4"/>
<text x="1248.1" y="1503.5" font-size="21.5" text-anchor="middle">-10</text>
<line x1="1341.6" y1="1477.2" x2="1341.6" y2="1484.2" stroke="#000" stroke-width="2.4"/>
<text x="1341.6" y="1503.5" font-size="21.5" text-anchor="middle">-5</text>
<line x1="1435.1" y1="1477.2" x2="1435.1" y2="1484.2" stroke="#000" stroke-width="2.4"/>
<text x="1435.1" y="1503.5" font-size="21.5" text-anchor="middle">0</text>
<line x1="1528.6" y1="1477.2" x2="1528.6" y2="1484.2" stroke="#000" stroke-width="2.4"/>
<text x="1528.6" y="1503.5" font-size="21.5" text-anchor="middle">5</text>
<text x="1110.8" y="1316.5" font-size="20.8" text-anchor="middle" transform="rotate(-90 1110.8 1316.5)">-log<tspan font-size="13.73" dy="3.54">10</tspan><tspan dy="-3.54">(P)</tspan></text>
<text x="1175.9" y="1531.3" font-size="20.6" textLength="310.6" lengthAdjust="spacingAndGlyphs">log<tspan font-size="14.4" dy="4">2</tspan><tspan dy="-4">(FC of Radiation+MR/Control)</tspan></text>
<text x="1333.7" y="1256.6" font-size="21.16" textLength="68.7" lengthAdjust="spacingAndGlyphs">Taurine</text>
<text x="1335.7" y="1277" font-size="20.73" textLength="59.3" lengthAdjust="spacingAndGlyphs">GSSG</text>
<text x="1254.8" y="1317.9" font-size="21.19" textLength="141.1" lengthAdjust="spacingAndGlyphs">L-cystathionine</text>
<text x="1263.5" y="1340.7" font-size="20.69" textLength="120.7" lengthAdjust="spacingAndGlyphs">Glutathionine</text>
<text x="1266.5" y="1366.2" font-size="21.03" textLength="94.9" lengthAdjust="spacingAndGlyphs">L-cysteine</text>
<text x="1180.3" y="1392.5" font-size="20.78" textLength="187.6" lengthAdjust="spacingAndGlyphs">Methionine sulfoxide</text>
<text x="1162.1" y="1423.1" font-size="20.76" textLength="110.8" lengthAdjust="spacingAndGlyphs">Hypotaurine</text>
<text x="1256.2" y="1453.8" font-size="21.12" textLength="147.6" lengthAdjust="spacingAndGlyphs">L-homocysteine</text>
<text x="1619" y="1109" font-size="32" font-weight="bold">f</text>
<text x="1818.5" y="1122.5" font-size="25.14" textLength="248.5" lengthAdjust="spacingAndGlyphs">Effect sizes of MR and</text>
<text x="1818.5" y="1151.6" font-size="25.64" textLength="269.5" lengthAdjust="spacingAndGlyphs">radiation on metabolism</text>
<line x1="1832.3" y1="1186.7" x2="1860" y2="1186.7" stroke="#000" stroke-width="2.3"/>
<line x1="1963.1" y1="1186.7" x2="2090" y2="1186.7" stroke="#000" stroke-width="2.3"/>
<rect x="1860" y="1175.2" width="103.1" height="23" fill="#fff" stroke="#000" stroke-width="2.3"/>
<line x1="1897.8" y1="1175.2" x2="1897.8" y2="1198.2" stroke="#000" stroke-width="2.3"/>
<line x1="1827.3" y1="1186.7" x2="1832.3" y2="1186.7" stroke="#000" stroke-width="2.3"/>
<text x="1822.6" y="1194" font-size="20" text-anchor="end" textLength="195.21" lengthAdjust="spacingAndGlyphs">MR+radiation,plasma</text>
<line x1="1832.3" y1="1219.19" x2="1861.6" y2="1219.19" stroke="#000" stroke-width="2.3"/>
<line x1="1981.6" y1="1219.19" x2="2090" y2="1219.19" stroke="#000" stroke-width="2.3"/>
<rect x="1861.6" y="1207.69" width="120" height="23" fill="#fff" stroke="#000" stroke-width="2.3"/>
<line x1="1905.9" y1="1207.69" x2="1905.9" y2="1230.69" stroke="#000" stroke-width="2.3"/>
<line x1="1827.3" y1="1219.19" x2="1832.3" y2="1219.19" stroke="#000" stroke-width="2.3"/>
<text x="1822.6" y="1226.49" font-size="20" text-anchor="end" textLength="159.16" lengthAdjust="spacingAndGlyphs">Radiation,plasma</text>
<line x1="1832.3" y1="1251.68" x2="1867.7" y2="1251.68" stroke="#000" stroke-width="2.3"/>
<line x1="1974.2" y1="1251.68" x2="2090" y2="1251.68" stroke="#000" stroke-width="2.3"/>
<rect x="1867.7" y="1240.18" width="106.5" height="23" fill="#fff" stroke="#000" stroke-width="2.3"/>
<line x1="1907" y1="1240.18" x2="1907" y2="1263.18" stroke="#000" stroke-width="2.3"/>
<line x1="1827.3" y1="1251.68" x2="1832.3" y2="1251.68" stroke="#000" stroke-width="2.3"/>
<text x="1822.6" y="1258.98" font-size="20" text-anchor="end" textLength="130.52" lengthAdjust="spacingAndGlyphs">Radiation,liver</text>
<line x1="1832.3" y1="1284.17" x2="1867.7" y2="1284.17" stroke="#000" stroke-width="2.3"/>
<line x1="1981" y1="1284.17" x2="2090" y2="1284.17" stroke="#000" stroke-width="2.3"/>
<rect x="1867.7" y="1272.67" width="113.3" height="23" fill="#fff" stroke="#000" stroke-width="2.3"/>
<line x1="1910.3" y1="1272.67" x2="1910.3" y2="1295.67" stroke="#000" stroke-width="2.3"/>
<line x1="1827.3" y1="1284.17" x2="1832.3" y2="1284.17" stroke="#000" stroke-width="2.3"/>
<text x="1822.6" y="1291.47" font-size="20" text-anchor="end" textLength="104.16" lengthAdjust="spacingAndGlyphs">MR,plasma</text>
<line x1="1832.3" y1="1316.66" x2="1876" y2="1316.66" stroke="#000" stroke-width="2.3"/>
<line x1="2010" y1="1316.66" x2="2090" y2="1316.66" stroke="#000" stroke-width="2.3"/>
<rect x="1876" y="1305.16" width="134" height="23" fill="#fff" stroke="#000" stroke-width="2.3"/>
<line x1="1920" y1="1305.16" x2="1920" y2="1328.16" stroke="#000" stroke-width="2.3"/>
<line x1="1827.3" y1="1316.66" x2="1832.3" y2="1316.66" stroke="#000" stroke-width="2.3"/>
<text x="1822.6" y="1323.96" font-size="20" text-anchor="end" textLength="156.86" lengthAdjust="spacingAndGlyphs">Radiation,tumour</text>
<line x1="1832.3" y1="1349.15" x2="1873.2" y2="1349.15" stroke="#000" stroke-width="2.3"/>
<line x1="2043.3" y1="1349.15" x2="2090" y2="1349.15" stroke="#000" stroke-width="2.3"/>
<rect x="1873.2" y="1337.65" width="170.1" height="23" fill="#fff" stroke="#000" stroke-width="2.3"/>
<line x1="1932.7" y1="1337.65" x2="1932.7" y2="1360.65" stroke="#000" stroke-width="2.3"/>
<line x1="1827.3" y1="1349.15" x2="1832.3" y2="1349.15" stroke="#000" stroke-width="2.3"/>
<text x="1822.6" y="1356.45" font-size="20" text-anchor="end" textLength="101.87" lengthAdjust="spacingAndGlyphs">MR,tumour</text>
<line x1="1832.3" y1="1381.64" x2="1873.8" y2="1381.64" stroke="#000" stroke-width="2.3"/>
<line x1="2008.5" y1="1381.64" x2="2090" y2="1381.64" stroke="#000" stroke-width="2.3"/>
<rect x="1873.8" y="1370.14" width="134.7" height="23" fill="#fff" stroke="#000" stroke-width="2.3"/>
<line x1="1935.2" y1="1370.14" x2="1935.2" y2="1393.14" stroke="#000" stroke-width="2.3"/>
<line x1="1827.3" y1="1381.64" x2="1832.3" y2="1381.64" stroke="#000" stroke-width="2.3"/>
<text x="1822.6" y="1388.94" font-size="20" text-anchor="end" textLength="75.53" lengthAdjust="spacingAndGlyphs">MR,liver</text>
<line x1="1832.3" y1="1414.13" x2="1882" y2="1414.13" stroke="#000" stroke-width="2.3"/>
<line x1="2039.7" y1="1414.13" x2="2090" y2="1414.13" stroke="#000" stroke-width="2.3"/>
<rect x="1882" y="1402.63" width="157.7" height="23" fill="#fff" stroke="#000" stroke-width="2.3"/>
<line x1="1941" y1="1402.63" x2="1941" y2="1425.63" stroke="#000" stroke-width="2.3"/>
<line x1="1827.3" y1="1414.13" x2="1832.3" y2="1414.13" stroke="#000" stroke-width="2.3"/>
<text x="1822.6" y="1421.43" font-size="20" text-anchor="end" textLength="192.91" lengthAdjust="spacingAndGlyphs">MR+radiation,tumour</text>
<line x1="1832.3" y1="1446.62" x2="1877.1" y2="1446.62" stroke="#000" stroke-width="2.3"/>
<line x1="2008" y1="1446.62" x2="2090" y2="1446.62" stroke="#000" stroke-width="2.3"/>
<rect x="1877.1" y="1435.12" width="130.9" height="23" fill="#fff" stroke="#000" stroke-width="2.3"/>
<line x1="1941.5" y1="1435.12" x2="1941.5" y2="1458.12" stroke="#000" stroke-width="2.3"/>
<line x1="1827.3" y1="1446.62" x2="1832.3" y2="1446.62" stroke="#000" stroke-width="2.3"/>
<text x="1822.6" y="1453.92" font-size="20" text-anchor="end" textLength="166.57" lengthAdjust="spacingAndGlyphs">MR+radiation,liver</text>
<line x1="1832.3" y1="1169.6" x2="1832.3" y2="1462" stroke="#000" stroke-width="2.3"/>
<line x1="2090" y1="1169.6" x2="2090" y2="1462" stroke="#000" stroke-width="2.3"/>
<line x1="1831.3" y1="1169.6" x2="2091" y2="1169.6" stroke="#000" stroke-width="2.3"/>
<line x1="1831.3" y1="1462" x2="2091" y2="1462" stroke="#000" stroke-width="2.3"/>
<line x1="1832.3" y1="1462" x2="1832.3" y2="1466" stroke="#000" stroke-width="2.3"/>
<text x="1832.3" y="1489" font-size="20" text-anchor="middle" textLength="27.8" lengthAdjust="spacingAndGlyphs">0.0</text>
<line x1="1918.2" y1="1462" x2="1918.2" y2="1466" stroke="#000" stroke-width="2.3"/>
<text x="1918.2" y="1489" font-size="20" text-anchor="middle" textLength="27.8" lengthAdjust="spacingAndGlyphs">0.1</text>
<line x1="2004.1" y1="1462" x2="2004.1" y2="1466" stroke="#000" stroke-width="2.3"/>
<text x="2004.1" y="1489" font-size="20" text-anchor="middle" textLength="27.8" lengthAdjust="spacingAndGlyphs">0.2</text>
<line x1="2090" y1="1462" x2="2090" y2="1466" stroke="#000" stroke-width="2.3"/>
<text x="2090" y="1489" font-size="20" text-anchor="middle" textLength="27.8" lengthAdjust="spacingAndGlyphs">0.3</text>
<text x="1929" y="1515.2" font-size="20">|log<tspan font-size="14" dy="4">10</tspan><tspan dy="-4">(FC)|</tspan></text>
<text x="1626" y="1564.3" font-size="32" font-weight="bold">g</text>
<text x="1712" y="1600.3" font-size="27.11" textLength="359.5" lengthAdjust="spacingAndGlyphs">Number of altered metabolites</text>
<text x="1835" y="1631.3" font-size="24.5" textLength="114.8" lengthAdjust="spacingAndGlyphs">(<tspan font-style="italic">p</tspan> &lt; 0.05)</text>
<line x1="1684.3" y1="1659.5" x2="2111" y2="1659.5" stroke="#000" stroke-width="2.4"/>
<line x1="1684.3" y1="1688.8" x2="2111" y2="1688.8" stroke="#000" stroke-width="2.4"/>
<line x1="1684.3" y1="1773.7" x2="2111" y2="1773.7" stroke="#000" stroke-width="2.4"/>
<text x="1761.8" y="1683.8" font-size="19.5" text-anchor="middle" textLength="91.66" lengthAdjust="spacingAndGlyphs">Treatment</text>
<text x="1889" y="1683.8" font-size="19.5" text-anchor="middle" textLength="67.62" lengthAdjust="spacingAndGlyphs">Plasma</text>
<text x="1976" y="1683.8" font-size="19.5" text-anchor="middle" textLength="69.11" lengthAdjust="spacingAndGlyphs">Tumour</text>
<text x="2061.8" y="1683.8" font-size="19.5" text-anchor="middle" textLength="43.95" lengthAdjust="spacingAndGlyphs">Liver</text>
<text x="1761.8" y="1711.5" font-size="19.5" text-anchor="middle" textLength="31.54" lengthAdjust="spacingAndGlyphs">MR</text>
<text x="1889" y="1711.5" font-size="19.5" text-anchor="middle" textLength="22.56" lengthAdjust="spacingAndGlyphs">26</text>
<text x="1976" y="1711.5" font-size="19.5" text-anchor="middle" textLength="22.56" lengthAdjust="spacingAndGlyphs">32</text>
<text x="2061.8" y="1711.5" font-size="19.5" text-anchor="middle" textLength="22.56" lengthAdjust="spacingAndGlyphs">51</text>
<text x="1761.8" y="1740.5" font-size="19.5" text-anchor="middle" textLength="85.68" lengthAdjust="spacingAndGlyphs">Radiation</text>
<text x="1889" y="1740.5" font-size="19.5" text-anchor="middle" textLength="22.56" lengthAdjust="spacingAndGlyphs">24</text>
<text x="1976" y="1740.5" font-size="19.5" text-anchor="middle" textLength="22.56" lengthAdjust="spacingAndGlyphs">24</text>
<text x="2061.8" y="1740.5" font-size="19.5" text-anchor="middle" textLength="22.56" lengthAdjust="spacingAndGlyphs">23</text>
<text x="1761.8" y="1768.2" font-size="19.5" text-anchor="middle" textLength="129.06" lengthAdjust="spacingAndGlyphs">MR+Radiation</text>
<text x="1889" y="1768.2" font-size="19.5" text-anchor="middle" textLength="22.56" lengthAdjust="spacingAndGlyphs">42</text>
<text x="1976" y="1768.2" font-size="19.5" text-anchor="middle" textLength="22.56" lengthAdjust="spacingAndGlyphs">57</text>
<text x="2061.8" y="1768.2" font-size="19.5" text-anchor="middle" textLength="22.56" lengthAdjust="spacingAndGlyphs">77</text>
<text x="20.3" y="1922.3" font-size="32" font-weight="bold">d</text>
<text x="119.3" y="1970.9" font-size="20.99" textLength="198.7" lengthAdjust="spacingAndGlyphs">Spearman correlation</text>
<rect x="100.7" y="1988.6" width="73.8" height="71.4" fill="#67001f"/>
<rect x="174.5" y="1988.6" width="74.4" height="71.4" fill="#f4a582"/>
<rect x="248.9" y="1988.6" width="75" height="71.4" fill="#fddbc7"/>
<rect x="100.7" y="2060" width="73.8" height="71" fill="#f4a582"/>
<rect x="174.5" y="2060" width="74.4" height="71" fill="#67001f"/>
<rect x="248.9" y="2060" width="75" height="71" fill="#fddbc7"/>
<rect x="100.7" y="2131" width="73.8" height="71.7" fill="#fddbc7"/>
<rect x="174.5" y="2131" width="74.4" height="71.7" fill="#fddbc7"/>
<rect x="248.9" y="2131" width="75" height="71.7" fill="#67001f"/>
<text x="137.6" y="2031.1" font-size="20.4" text-anchor="middle" textLength="51" lengthAdjust="spacingAndGlyphs">1.000</text>
<text x="211.7" y="2031.1" font-size="20.4" text-anchor="middle" textLength="51" lengthAdjust="spacingAndGlyphs">0.367</text>
<text x="286.4" y="2031.1" font-size="20.4" text-anchor="middle" textLength="51" lengthAdjust="spacingAndGlyphs">0.186</text>
<text x="137.6" y="2102.7" font-size="20.4" text-anchor="middle" textLength="51" lengthAdjust="spacingAndGlyphs">0.367</text>
<text x="211.7" y="2102.7" font-size="20.4" text-anchor="middle" textLength="51" lengthAdjust="spacingAndGlyphs">1.000</text>
<text x="286.4" y="2102.7" font-size="20.4" text-anchor="middle" textLength="51" lengthAdjust="spacingAndGlyphs">0.203</text>
<text x="137.6" y="2174.3" font-size="20.4" text-anchor="middle" textLength="51" lengthAdjust="spacingAndGlyphs">0.186</text>
<text x="211.7" y="2174.3" font-size="20.4" text-anchor="middle" textLength="51" lengthAdjust="spacingAndGlyphs">0.203</text>
<text x="286.4" y="2174.3" font-size="20.4" text-anchor="middle" textLength="51" lengthAdjust="spacingAndGlyphs">1.000</text>
<line x1="174.5" y1="1988.6" x2="174.5" y2="2202.7" stroke="#000" stroke-width="2.7" stroke-dasharray="2.7 2.6"/>
<line x1="100.7" y1="2060" x2="323.9" y2="2060" stroke="#000" stroke-width="2.7" stroke-dasharray="2.7 2.6"/>
<line x1="248.9" y1="1988.6" x2="248.9" y2="2202.7" stroke="#000" stroke-width="2.7" stroke-dasharray="2.7 2.6"/>
<line x1="100.7" y1="2131" x2="323.9" y2="2131" stroke="#000" stroke-width="2.7" stroke-dasharray="2.7 2.6"/>
<rect x="100.7" y="1988.6" width="223.2" height="214.1" fill="none" stroke="#1a1a1a" stroke-width="2.6" rx="1.5"/>
<rect x="335.2" y="1988.6" width="24.3" height="19.66" fill="#67001f"/>
<rect x="335.2" y="2007.96" width="24.3" height="19.66" fill="#b2182b"/>
<rect x="335.2" y="2027.33" width="24.3" height="19.66" fill="#d6604d"/>
<rect x="335.2" y="2046.69" width="24.3" height="19.66" fill="#f4a582"/>
<rect x="335.2" y="2066.05" width="24.3" height="19.66" fill="#fddbc7"/>
<rect x="335.2" y="2085.42" width="24.3" height="19.66" fill="#f7f7f7"/>
<rect x="335.2" y="2104.78" width="24.3" height="19.66" fill="#d1e5f0"/>
<rect x="335.2" y="2124.15" width="24.3" height="19.66" fill="#92c5de"/>
<rect x="335.2" y="2143.51" width="24.3" height="19.66" fill="#4393c3"/>
<rect x="335.2" y="2162.87" width="24.3" height="19.66" fill="#2166ac"/>
<rect x="335.2" y="2182.24" width="24.3" height="19.66" fill="#053061"/>
<rect x="335.2" y="1988.6" width="24.3" height="213" fill="none" stroke="#1a1a1a" stroke-width="2.6" rx="2"/>
<text x="366.4" y="1997" font-size="20" textLength="11.68" lengthAdjust="spacingAndGlyphs">1</text>
<text x="366.4" y="2049.3" font-size="20" textLength="29.19" lengthAdjust="spacingAndGlyphs">0.5</text>
<text x="366.4" y="2101.6" font-size="20" textLength="11.68" lengthAdjust="spacingAndGlyphs">0</text>
<text x="366.4" y="2155" font-size="20" textLength="36.18" lengthAdjust="spacingAndGlyphs">-0.5</text>
<text x="366.4" y="2208.4" font-size="20" textLength="18.67" lengthAdjust="spacingAndGlyphs">-1</text>
<text x="95.5" y="2031.1" font-size="20" text-anchor="end" textLength="38.5" lengthAdjust="spacingAndGlyphs">liver</text>
<text x="91" y="2103.9" font-size="20" text-anchor="end" textLength="67.69" lengthAdjust="spacingAndGlyphs">plasma</text>
<text x="93.5" y="2174.3" font-size="20" text-anchor="end" textLength="65.35" lengthAdjust="spacingAndGlyphs">tumour</text>
<text x="158" y="2223.5" font-size="20" text-anchor="end" textLength="38.5" lengthAdjust="spacingAndGlyphs" transform="rotate(-45 158 2223.5)">liver</text>
<text x="233" y="2223.5" font-size="20" text-anchor="end" textLength="67.69" lengthAdjust="spacingAndGlyphs" transform="rotate(-45 233 2223.5)">plasma</text>
<text x="300" y="2223.5" font-size="20" text-anchor="end" textLength="71.57" lengthAdjust="spacingAndGlyphs" transform="rotate(-45 300 2223.5)">Tumour</text>
<circle cx="591.77" cy="2100.07" r="4.6" fill="#d95319"/>
<circle cx="624.35" cy="2100.93" r="4.6" fill="#d95319"/>
<circle cx="590.23" cy="2106.82" r="4.6" fill="#d95319"/>
<circle cx="616.76" cy="2081.07" r="4.6" fill="#d95319"/>
<circle cx="591.89" cy="2123.42" r="4.6" fill="#d95319"/>
<circle cx="620.1" cy="2088.62" r="4.6" fill="#d95319"/>
<circle cx="632.26" cy="2077.17" r="4.6" fill="#d95319"/>
<circle cx="608.24" cy="2103.32" r="4.6" fill="#d95319"/>
<circle cx="647.48" cy="2089.54" r="4.6" fill="#d95319"/>
<circle cx="598.21" cy="2119" r="4.6" fill="#d95319"/>
<circle cx="611.14" cy="2096.42" r="4.6" fill="#d95319"/>
<circle cx="604.68" cy="2101.63" r="4.6" fill="#d95319"/>
<circle cx="613.75" cy="2087.82" r="4.6" fill="#d95319"/>
<circle cx="625.84" cy="2090.27" r="4.6" fill="#d95319"/>
<circle cx="583.46" cy="2098.49" r="4.6" fill="#d95319"/>
<circle cx="588.89" cy="2108.78" r="4.6" fill="#d95319"/>
<circle cx="588.1" cy="2106.63" r="4.6" fill="#d95319"/>
<circle cx="598.31" cy="2100.03" r="4.6" fill="#d95319"/>
<circle cx="658.19" cy="2082.36" r="4.6" fill="#d95319"/>
<circle cx="622.11" cy="2113.07" r="4.6" fill="#d95319"/>
<circle cx="605.51" cy="2091.18" r="4.6" fill="#d95319"/>
<circle cx="608.38" cy="2094.25" r="4.6" fill="#d95319"/>
<circle cx="611.26" cy="2112.5" r="4.6" fill="#d95319"/>
<circle cx="618.02" cy="2107.37" r="4.6" fill="#d95319"/>
<circle cx="637.22" cy="2096.23" r="4.6" fill="#d95319"/>
<circle cx="619.81" cy="2095.33" r="4.6" fill="#d95319"/>
<circle cx="623.72" cy="2102.4" r="4.6" fill="#d95319"/>
<circle cx="624.4" cy="2095.46" r="4.6" fill="#d95319"/>
<circle cx="628.29" cy="2083.6" r="4.6" fill="#d95319"/>
<circle cx="611.81" cy="2109.14" r="4.6" fill="#d95319"/>
<circle cx="621.01" cy="2088.38" r="4.6" fill="#d95319"/>
<circle cx="633.84" cy="2095.64" r="4.6" fill="#d95319"/>
<circle cx="617.88" cy="2088.93" r="4.6" fill="#d95319"/>
<circle cx="613.89" cy="2094.55" r="4.6" fill="#d95319"/>
<circle cx="612.41" cy="2106.38" r="4.6" fill="#d95319"/>
<circle cx="594.84" cy="2109.81" r="4.6" fill="#d95319"/>
<circle cx="618.41" cy="2074.7" r="4.6" fill="#d95319"/>
<circle cx="624.08" cy="2079.09" r="4.6" fill="#d95319"/>
<circle cx="621.15" cy="2085.1" r="4.6" fill="#d95319"/>
<circle cx="612.43" cy="2087.19" r="4.6" fill="#d95319"/>
<circle cx="635.78" cy="2094.26" r="4.6" fill="#d95319"/>
<circle cx="599.55" cy="2075.13" r="4.6" fill="#d95319"/>
<circle cx="613.33" cy="2084.07" r="4.6" fill="#d95319"/>
<circle cx="622.57" cy="2110.28" r="4.6" fill="#d95319"/>
<circle cx="645.47" cy="2061.35" r="4.6" fill="#d95319"/>
<circle cx="612.34" cy="2087.49" r="4.6" fill="#d95319"/>
<circle cx="611.6" cy="2110.67" r="4.6" fill="#d95319"/>
<circle cx="608.09" cy="2094.3" r="4.6" fill="#d95319"/>
<circle cx="626.12" cy="2083.18" r="4.6" fill="#d95319"/>
<circle cx="610.61" cy="2079.67" r="4.6" fill="#d95319"/>
<circle cx="598.57" cy="2091.83" r="4.6" fill="#d95319"/>
<circle cx="626.07" cy="2097.22" r="4.6" fill="#d95319"/>
<circle cx="583.45" cy="2121.01" r="4.6" fill="#d95319"/>
<circle cx="613.22" cy="2090.32" r="4.6" fill="#d95319"/>
<circle cx="632.47" cy="2104.91" r="4.6" fill="#d95319"/>
<circle cx="609.77" cy="2089.85" r="4.6" fill="#d95319"/>
<circle cx="607.42" cy="2132.96" r="4.6" fill="#d95319"/>
<circle cx="621.58" cy="2062.35" r="4.6" fill="#d95319"/>
<circle cx="624.48" cy="2106.54" r="4.6" fill="#d95319"/>
<circle cx="603.68" cy="2098" r="4.6" fill="#d95319"/>
<circle cx="646.28" cy="2077.28" r="4.6" fill="#d95319"/>
<circle cx="611.41" cy="2076.54" r="4.6" fill="#d95319"/>
<circle cx="608.54" cy="2073.31" r="4.6" fill="#d95319"/>
<circle cx="599.68" cy="2109.18" r="4.6" fill="#d95319"/>
<circle cx="620.32" cy="2075.23" r="4.6" fill="#d95319"/>
<circle cx="619.34" cy="2091.3" r="4.6" fill="#d95319"/>
<circle cx="582.99" cy="2118.46" r="4.6" fill="#d95319"/>
<circle cx="600.77" cy="2109.62" r="4.6" fill="#d95319"/>
<circle cx="618.35" cy="2100.58" r="4.6" fill="#d95319"/>
<circle cx="621.3" cy="2093.68" r="4.6" fill="#d95319"/>
<circle cx="604.85" cy="2099.04" r="4.6" fill="#d95319"/>
<circle cx="616.03" cy="2084.69" r="4.6" fill="#d95319"/>
<circle cx="602.73" cy="2104.71" r="4.6" fill="#d95319"/>
<circle cx="589.72" cy="2083.62" r="4.6" fill="#d95319"/>
<circle cx="631.05" cy="2093.86" r="4.6" fill="#d95319"/>
<circle cx="602.71" cy="2118.76" r="4.6" fill="#d95319"/>
<circle cx="612.23" cy="2095.17" r="4.6" fill="#d95319"/>
<circle cx="641.77" cy="2084.08" r="4.6" fill="#d95319"/>
<circle cx="598.32" cy="2137.26" r="4.6" fill="#d95319"/>
<circle cx="630.43" cy="2088.92" r="4.6" fill="#d95319"/>
<circle cx="586.11" cy="2104.84" r="4.6" fill="#d95319"/>
<circle cx="586.12" cy="2058.63" r="4.6" fill="#d95319"/>
<circle cx="626.17" cy="2085.08" r="4.6" fill="#d95319"/>
<circle cx="607.17" cy="2129.83" r="4.6" fill="#d95319"/>
<circle cx="607.88" cy="2121.38" r="4.6" fill="#d95319"/>
<circle cx="618.49" cy="2125.78" r="4.6" fill="#d95319"/>
<circle cx="596.41" cy="2086.62" r="4.6" fill="#d95319"/>
<circle cx="633.87" cy="2106.89" r="4.6" fill="#d95319"/>
<circle cx="587.22" cy="2094.66" r="4.6" fill="#d95319"/>
<circle cx="622.26" cy="2108.3" r="4.6" fill="#d95319"/>
<circle cx="599.54" cy="2112.3" r="4.6" fill="#d95319"/>
<circle cx="592.28" cy="2114.7" r="4.6" fill="#d95319"/>
<circle cx="628.1" cy="2082.75" r="4.6" fill="#d95319"/>
<circle cx="639.93" cy="2089.4" r="4.6" fill="#d95319"/>
<circle cx="607.75" cy="2113.42" r="4.6" fill="#d95319"/>
<circle cx="607.92" cy="2117.99" r="4.6" fill="#d95319"/>
<circle cx="583.64" cy="2098.49" r="4.6" fill="#d95319"/>
<circle cx="630.88" cy="2079.69" r="4.6" fill="#d95319"/>
<circle cx="629.3" cy="2088.44" r="4.6" fill="#d95319"/>
<circle cx="599.19" cy="2101.5" r="4.6" fill="#d95319"/>
<circle cx="604.25" cy="2116.47" r="4.6" fill="#d95319"/>
<circle cx="584.89" cy="2128.57" r="4.6" fill="#d95319"/>
<circle cx="609.66" cy="2096.87" r="4.6" fill="#d95319"/>
<circle cx="602.77" cy="2081.42" r="4.6" fill="#d95319"/>
<circle cx="612.37" cy="2089.85" r="4.6" fill="#d95319"/>
<circle cx="627.63" cy="2104.06" r="4.6" fill="#d95319"/>
<circle cx="580.82" cy="2098.72" r="4.6" fill="#d95319"/>
<circle cx="599.63" cy="2084.19" r="4.6" fill="#d95319"/>
<circle cx="614.69" cy="2083.09" r="4.6" fill="#d95319"/>
<circle cx="620.95" cy="2124.09" r="4.6" fill="#d95319"/>
<circle cx="620.3" cy="2104.61" r="4.6" fill="#d95319"/>
<circle cx="598.64" cy="2109" r="4.6" fill="#d95319"/>
<circle cx="621.02" cy="2082.55" r="4.6" fill="#d95319"/>
<circle cx="624.59" cy="2116.9" r="4.6" fill="#d95319"/>
<circle cx="601.07" cy="2135.31" r="4.6" fill="#d95319"/>
<circle cx="608.24" cy="2091.08" r="4.6" fill="#d95319"/>
<circle cx="598.52" cy="2099.52" r="4.6" fill="#d95319"/>
<circle cx="613.14" cy="2083.63" r="4.6" fill="#d95319"/>
<circle cx="597.68" cy="2114.86" r="4.6" fill="#d95319"/>
<circle cx="598.53" cy="2078.4" r="4.6" fill="#d95319"/>
<circle cx="625.75" cy="2094.97" r="4.6" fill="#d95319"/>
<circle cx="613.05" cy="2096.17" r="4.6" fill="#d95319"/>
<circle cx="612.72" cy="2100.81" r="4.6" fill="#d95319"/>
<circle cx="604.83" cy="2118.3" r="4.6" fill="#d95319"/>
<circle cx="600.32" cy="2079.2" r="4.6" fill="#d95319"/>
<circle cx="617.62" cy="2095.24" r="4.6" fill="#d95319"/>
<circle cx="606.58" cy="2099.2" r="4.6" fill="#d95319"/>
<circle cx="614.93" cy="2106.15" r="4.6" fill="#d95319"/>
<circle cx="612.62" cy="2094.56" r="4.6" fill="#d95319"/>
<circle cx="598.75" cy="2113.92" r="4.6" fill="#d95319"/>
<circle cx="595.07" cy="2119.07" r="4.6" fill="#d95319"/>
<circle cx="622.8" cy="2127.35" r="4.6" fill="#d95319"/>
<circle cx="605.82" cy="2108.9" r="4.6" fill="#d95319"/>
<circle cx="600.64" cy="2100.83" r="4.6" fill="#d95319"/>
<circle cx="626.3" cy="2091.98" r="4.6" fill="#d95319"/>
<circle cx="607.68" cy="2108.26" r="4.6" fill="#d95319"/>
<circle cx="607.85" cy="2086.85" r="4.6" fill="#d95319"/>
<circle cx="603.95" cy="2117.07" r="4.6" fill="#d95319"/>
<circle cx="591.18" cy="2121.06" r="4.6" fill="#d95319"/>
<circle cx="589.33" cy="2090.83" r="4.6" fill="#d95319"/>
<circle cx="614.95" cy="2100.42" r="4.6" fill="#d95319"/>
<circle cx="631.17" cy="2100.53" r="4.6" fill="#d95319"/>
<circle cx="620.79" cy="2083.79" r="4.6" fill="#d95319"/>
<circle cx="587.04" cy="2128.85" r="4.6" fill="#d95319"/>
<circle cx="596.12" cy="2091.1" r="4.6" fill="#d95319"/>
<circle cx="628.77" cy="2109.36" r="4.6" fill="#d95319"/>
<circle cx="625.13" cy="2098.83" r="4.6" fill="#d95319"/>
<circle cx="603.96" cy="2108.73" r="4.6" fill="#d95319"/>
<circle cx="604.98" cy="2126.11" r="4.6" fill="#d95319"/>
<circle cx="595.04" cy="2121.49" r="4.6" fill="#d95319"/>
<circle cx="616.94" cy="2067.13" r="4.6" fill="#d95319"/>
<circle cx="649.85" cy="2089.37" r="4.6" fill="#d95319"/>
<circle cx="584.47" cy="2113.66" r="4.6" fill="#d95319"/>
<circle cx="595.95" cy="2076.09" r="4.6" fill="#d95319"/>
<circle cx="618.12" cy="2106.17" r="4.6" fill="#d95319"/>
<circle cx="623.48" cy="2086.55" r="4.6" fill="#d95319"/>
<circle cx="585.88" cy="2114.9" r="4.6" fill="#d95319"/>
<circle cx="606.22" cy="2099.94" r="4.6" fill="#d95319"/>
<circle cx="611.68" cy="2103.01" r="4.6" fill="#d95319"/>
<circle cx="612.53" cy="2106.17" r="4.6" fill="#d95319"/>
<circle cx="596.58" cy="2082.41" r="4.6" fill="#d95319"/>
<circle cx="615.03" cy="2090.93" r="4.6" fill="#d95319"/>
<circle cx="586.32" cy="2109.62" r="4.6" fill="#d95319"/>
<circle cx="621.77" cy="2112.75" r="4.6" fill="#d95319"/>
<circle cx="625.86" cy="2098.66" r="4.6" fill="#d95319"/>
<circle cx="615.65" cy="2098.71" r="4.6" fill="#d95319"/>
<circle cx="612.95" cy="2080.95" r="4.6" fill="#d95319"/>
<circle cx="603.82" cy="2079.15" r="4.6" fill="#d95319"/>
<circle cx="598.26" cy="2116.09" r="4.6" fill="#d95319"/>
<circle cx="620.18" cy="2110.16" r="4.6" fill="#d95319"/>
<circle cx="604.3" cy="2088.18" r="4.6" fill="#d95319"/>
<circle cx="627.51" cy="2117.47" r="4.6" fill="#d95319"/>
<circle cx="617.17" cy="2069.92" r="4.6" fill="#d95319"/>
<circle cx="627.28" cy="2096.06" r="4.6" fill="#d95319"/>
<circle cx="600.92" cy="2106.25" r="4.6" fill="#d95319"/>
<circle cx="592.81" cy="2108.69" r="4.6" fill="#d95319"/>
<circle cx="606.99" cy="2101.97" r="4.6" fill="#d95319"/>
<circle cx="627.1" cy="2095.99" r="4.6" fill="#d95319"/>
<circle cx="588.34" cy="2091.86" r="4.6" fill="#d95319"/>
<circle cx="593.99" cy="2110.83" r="4.6" fill="#d95319"/>
<circle cx="607.77" cy="2104.47" r="4.6" fill="#d95319"/>
<circle cx="595.01" cy="2107.68" r="4.6" fill="#d95319"/>
<circle cx="641.81" cy="2096.02" r="4.6" fill="#d95319"/>
<circle cx="607.74" cy="2083.92" r="4.6" fill="#d95319"/>
<circle cx="620.67" cy="2084.36" r="4.6" fill="#d95319"/>
<circle cx="622.4" cy="2122" r="4.6" fill="#d95319"/>
<circle cx="597.05" cy="2101.67" r="4.6" fill="#d95319"/>
<circle cx="617.06" cy="2078.21" r="4.6" fill="#d95319"/>
<circle cx="616.63" cy="2099.83" r="4.6" fill="#d95319"/>
<circle cx="610.32" cy="2101.7" r="4.6" fill="#d95319"/>
<circle cx="613.37" cy="2088.22" r="4.6" fill="#d95319"/>
<circle cx="604.75" cy="2112.12" r="4.6" fill="#d95319"/>
<circle cx="597.19" cy="2088.06" r="4.6" fill="#d95319"/>
<circle cx="628.55" cy="2078.35" r="4.6" fill="#d95319"/>
<circle cx="622.32" cy="2082.8" r="4.6" fill="#d95319"/>
<circle cx="609.7" cy="2089.67" r="4.6" fill="#d95319"/>
<circle cx="594.29" cy="2107.3" r="4.6" fill="#d95319"/>
<circle cx="598.97" cy="2092.61" r="4.6" fill="#d95319"/>
<circle cx="601.22" cy="2103.5" r="4.6" fill="#d95319"/>
<circle cx="615.62" cy="2077.88" r="4.6" fill="#d95319"/>
<circle cx="598.11" cy="2116.24" r="4.6" fill="#d95319"/>
<circle cx="621.74" cy="2110.17" r="4.6" fill="#d95319"/>
<circle cx="616.38" cy="2104.57" r="4.6" fill="#d95319"/>
<circle cx="608.19" cy="2125" r="4.6" fill="#d95319"/>
<circle cx="620.21" cy="2102.22" r="4.6" fill="#d95319"/>
<circle cx="596.54" cy="2074.56" r="4.6" fill="#d95319"/>
<circle cx="620.19" cy="2046.09" r="4.6" fill="#d95319"/>
<circle cx="615.73" cy="2101.69" r="4.6" fill="#d95319"/>
<circle cx="611.32" cy="2075.88" r="4.6" fill="#d95319"/>
<circle cx="609.34" cy="2092.78" r="4.6" fill="#d95319"/>
<circle cx="617.32" cy="2108.99" r="4.6" fill="#d95319"/>
<circle cx="611.63" cy="2105.32" r="4.6" fill="#d95319"/>
<circle cx="591.45" cy="2093.25" r="4.6" fill="#d95319"/>
<circle cx="619.51" cy="2094.42" r="4.6" fill="#d95319"/>
<circle cx="596.42" cy="2131.79" r="4.6" fill="#d95319"/>
<circle cx="616.87" cy="2097.78" r="4.6" fill="#d95319"/>
<circle cx="585.02" cy="2108.6" r="4.6" fill="#d95319"/>
<circle cx="587.4" cy="2107.28" r="4.6" fill="#d95319"/>
<circle cx="611.84" cy="2093.23" r="4.6" fill="#d95319"/>
<circle cx="612.92" cy="2095.42" r="4.6" fill="#d95319"/>
<circle cx="593" cy="2110.29" r="4.6" fill="#d95319"/>
<circle cx="602.23" cy="2104.93" r="4.6" fill="#d95319"/>
<circle cx="613.7" cy="2088.87" r="4.6" fill="#d95319"/>
<circle cx="633.74" cy="2126.37" r="4.6" fill="#d95319"/>
<circle cx="615.63" cy="2099.63" r="4.6" fill="#d95319"/>
<circle cx="643.16" cy="2073.97" r="4.6" fill="#d95319"/>
<circle cx="585.47" cy="2101.98" r="4.6" fill="#d95319"/>
<circle cx="602.09" cy="2087.76" r="4.6" fill="#d95319"/>
<circle cx="594.24" cy="2105.9" r="4.6" fill="#d95319"/>
<circle cx="607.81" cy="2100.99" r="4.6" fill="#d95319"/>
<circle cx="601.16" cy="2127.75" r="4.6" fill="#d95319"/>
<circle cx="616.5" cy="2082.55" r="4.6" fill="#d95319"/>
<circle cx="608.74" cy="2113.55" r="4.6" fill="#d95319"/>
<circle cx="612.72" cy="2089.97" r="4.6" fill="#d95319"/>
<circle cx="607.16" cy="2100.06" r="4.6" fill="#d95319"/>
<circle cx="630.42" cy="2107.25" r="4.6" fill="#d95319"/>
<circle cx="601.55" cy="2128.56" r="4.6" fill="#d95319"/>
<circle cx="599.46" cy="2112.97" r="4.6" fill="#d95319"/>
<circle cx="595.64" cy="2113.69" r="4.6" fill="#d95319"/>
<circle cx="636.12" cy="2092.3" r="4.6" fill="#d95319"/>
<circle cx="608.06" cy="2068.76" r="4.6" fill="#d95319"/>
<circle cx="608.85" cy="2123.55" r="4.6" fill="#d95319"/>
<circle cx="615.66" cy="2109.96" r="4.6" fill="#d95319"/>
<circle cx="633.8" cy="2107.82" r="4.6" fill="#d95319"/>
<circle cx="601.22" cy="2124.48" r="4.6" fill="#d95319"/>
<circle cx="611.17" cy="2112.66" r="4.6" fill="#d95319"/>
<circle cx="608.78" cy="2104.57" r="4.6" fill="#d95319"/>
<circle cx="600.74" cy="2088.95" r="4.6" fill="#d95319"/>
<circle cx="623.47" cy="2093.18" r="4.6" fill="#d95319"/>
<circle cx="596.52" cy="2118.65" r="4.6" fill="#d95319"/>
<circle cx="613.7" cy="2064.05" r="4.6" fill="#d95319"/>
<circle cx="603.03" cy="2112.33" r="4.6" fill="#d95319"/>
<circle cx="599.5" cy="2117.94" r="4.6" fill="#d95319"/>
<circle cx="595.46" cy="2106.91" r="4.6" fill="#d95319"/>
<circle cx="630.79" cy="2091.46" r="4.6" fill="#d95319"/>
<circle cx="602.24" cy="2124.24" r="4.6" fill="#d95319"/>
<circle cx="612.87" cy="2098.21" r="4.6" fill="#d95319"/>
<circle cx="591.73" cy="2120.59" r="4.6" fill="#d95319"/>
<circle cx="609.12" cy="2084.99" r="4.6" fill="#d95319"/>
<circle cx="618.94" cy="2092.79" r="4.6" fill="#d95319"/>
<circle cx="604.99" cy="2096.15" r="4.6" fill="#d95319"/>
<circle cx="609.56" cy="2068.58" r="4.6" fill="#d95319"/>
<circle cx="593.11" cy="2110.03" r="4.6" fill="#d95319"/>
<circle cx="628.36" cy="2096.03" r="4.6" fill="#d95319"/>
<circle cx="630.66" cy="2092.11" r="4.6" fill="#d95319"/>
<circle cx="611.87" cy="2103.38" r="4.6" fill="#d95319"/>
<circle cx="589.47" cy="2119.77" r="4.6" fill="#d95319"/>
<circle cx="642.26" cy="2078.32" r="4.6" fill="#d95319"/>
<circle cx="618.63" cy="2082.42" r="4.6" fill="#d95319"/>
<circle cx="618.1" cy="2081.66" r="4.6" fill="#d95319"/>
<circle cx="605.83" cy="2103.47" r="4.6" fill="#d95319"/>
<circle cx="624.18" cy="2098.74" r="4.6" fill="#d95319"/>
<circle cx="590.2" cy="2109.08" r="4.6" fill="#d95319"/>
<circle cx="601.74" cy="2093.21" r="4.6" fill="#d95319"/>
<circle cx="599.17" cy="2117.58" r="4.6" fill="#d95319"/>
<circle cx="604.86" cy="2078.94" r="4.6" fill="#d95319"/>
<circle cx="609.03" cy="2096.95" r="4.6" fill="#d95319"/>
<circle cx="609.87" cy="2094.76" r="4.6" fill="#d95319"/>
<circle cx="623.37" cy="2074.55" r="4.6" fill="#d95319"/>
<circle cx="585.6" cy="2088.49" r="4.6" fill="#d95319"/>
<circle cx="609.69" cy="2103.46" r="4.6" fill="#d95319"/>
<circle cx="644.95" cy="2088.77" r="4.6" fill="#d95319"/>
<circle cx="638.29" cy="2075.22" r="4.6" fill="#d95319"/>
<circle cx="594.62" cy="2097.5" r="4.6" fill="#d95319"/>
<circle cx="620.56" cy="2096.85" r="4.6" fill="#d95319"/>
<circle cx="575.56" cy="2115.95" r="4.6" fill="#d95319"/>
<circle cx="606.93" cy="2115.46" r="4.6" fill="#d95319"/>
<circle cx="636.54" cy="2092.82" r="4.6" fill="#d95319"/>
<circle cx="603.96" cy="2105.21" r="4.6" fill="#d95319"/>
<circle cx="598.23" cy="2113.92" r="4.6" fill="#d95319"/>
<circle cx="611.12" cy="2094.07" r="4.6" fill="#d95319"/>
<circle cx="602.29" cy="2102.87" r="4.6" fill="#d95319"/>
<circle cx="589.33" cy="2098.92" r="4.6" fill="#d95319"/>
<circle cx="598.73" cy="2099.86" r="4.6" fill="#d95319"/>
<circle cx="596.42" cy="2110.91" r="4.6" fill="#d95319"/>
<circle cx="612.9" cy="2114.79" r="4.6" fill="#d95319"/>
<circle cx="646" cy="2086.54" r="4.6" fill="#d95319"/>
<circle cx="608.67" cy="2109.62" r="4.6" fill="#d95319"/>
<circle cx="633.15" cy="2071.2" r="4.6" fill="#d95319"/>
<circle cx="614.14" cy="2116.54" r="4.6" fill="#d95319"/>
<circle cx="666.01" cy="2002.76" r="4.6" fill="#d95319"/>
<circle cx="644.67" cy="2049.87" r="4.6" fill="#d95319"/>
<circle cx="627.37" cy="2052.44" r="4.6" fill="#d95319"/>
<circle cx="636.2" cy="2059.8" r="4.6" fill="#d95319"/>
<circle cx="640.99" cy="2062.38" r="4.6" fill="#d95319"/>
<circle cx="673.37" cy="2058.7" r="4.6" fill="#d95319"/>
<circle cx="720.84" cy="2050.6" r="4.6" fill="#d95319"/>
<circle cx="731.14" cy="2084.46" r="4.6" fill="#d95319"/>
<circle cx="720.1" cy="2124.94" r="4.6" fill="#d95319"/>
<circle cx="529.49" cy="2112.06" r="4.6" fill="#d95319"/>
<circle cx="514.04" cy="2150.7" r="4.6" fill="#d95319"/>
<circle cx="550.84" cy="2161" r="4.6" fill="#d95319"/>
<circle cx="595.73" cy="2162.11" r="4.6" fill="#d95319"/>
<circle cx="640.99" cy="2138.19" r="4.6" fill="#d95319"/>
<circle cx="663.07" cy="2096.6" r="4.6" fill="#d95319"/>
<circle cx="629.95" cy="2069" r="4.6" fill="#d95319"/>
<circle cx="642.83" cy="2075.63" r="4.6" fill="#d95319"/>
<circle cx="655.71" cy="2078.2" r="4.6" fill="#d95319"/>
<circle cx="661.23" cy="2079.31" r="4.6" fill="#d95319"/>
<circle cx="563.71" cy="2082.99" r="4.6" fill="#d95319"/>
<circle cx="560.77" cy="2099.18" r="4.6" fill="#d95319"/>
<circle cx="567.39" cy="2116.84" r="4.6" fill="#d95319"/>
<circle cx="580.27" cy="2137.08" r="4.6" fill="#d95319"/>
<circle cx="585.79" cy="2144.44" r="4.6" fill="#d95319"/>
<circle cx="598.67" cy="2142.6" r="4.6" fill="#d95319"/>
<circle cx="604.19" cy="2145.55" r="4.6" fill="#d95319"/>
<circle cx="618.91" cy="2140.03" r="4.6" fill="#d95319"/>
<circle cx="648.35" cy="2087.4" r="4.6" fill="#d95319"/>
<circle cx="650.19" cy="2098.44" r="4.6" fill="#d95319"/>
<circle cx="646.51" cy="2102.12" r="4.6" fill="#d95319"/>
<circle cx="571.07" cy="2091.08" r="4.6" fill="#d95319"/>
<circle cx="574.75" cy="2094.76" r="4.6" fill="#d95319"/>
<rect x="498.4" y="1980.5" width="244.7" height="230" fill="none" stroke="#111" stroke-width="2.6"/>
<line x1="559.58" y1="2210.5" x2="559.58" y2="2207.5" stroke="#000" stroke-width="2"/>
<line x1="559.58" y1="1980.5" x2="559.58" y2="1983.5" stroke="#000" stroke-width="2"/>
<line x1="498.4" y1="2153" x2="501.4" y2="2153" stroke="#000" stroke-width="2"/>
<line x1="743.1" y1="2153" x2="740.1" y2="2153" stroke="#000" stroke-width="2"/>
<line x1="620.75" y1="2210.5" x2="620.75" y2="2207.5" stroke="#000" stroke-width="2"/>
<line x1="620.75" y1="1980.5" x2="620.75" y2="1983.5" stroke="#000" stroke-width="2"/>
<line x1="498.4" y1="2095.5" x2="501.4" y2="2095.5" stroke="#000" stroke-width="2"/>
<line x1="743.1" y1="2095.5" x2="740.1" y2="2095.5" stroke="#000" stroke-width="2"/>
<line x1="681.92" y1="2210.5" x2="681.92" y2="2207.5" stroke="#000" stroke-width="2"/>
<line x1="681.92" y1="1980.5" x2="681.92" y2="1983.5" stroke="#000" stroke-width="2"/>
<line x1="498.4" y1="2038" x2="501.4" y2="2038" stroke="#000" stroke-width="2"/>
<line x1="743.1" y1="2038" x2="740.1" y2="2038" stroke="#000" stroke-width="2"/>
<text x="498.4" y="2237.3" font-size="20.5" text-anchor="middle" textLength="18.77" lengthAdjust="spacingAndGlyphs">-1</text>
<text x="494.4" y="2217.88" font-size="20.5" text-anchor="end" textLength="18.77" lengthAdjust="spacingAndGlyphs">-1</text>
<text x="559.58" y="2237.3" font-size="20.5" text-anchor="middle" textLength="36.38" lengthAdjust="spacingAndGlyphs">-0.5</text>
<text x="494.4" y="2160.38" font-size="20.5" text-anchor="end" textLength="36.38" lengthAdjust="spacingAndGlyphs">-0.5</text>
<text x="620.75" y="2237.3" font-size="20.5" text-anchor="middle" textLength="11.74" lengthAdjust="spacingAndGlyphs">0</text>
<text x="494.4" y="2102.88" font-size="20.5" text-anchor="end" textLength="11.74" lengthAdjust="spacingAndGlyphs">0</text>
<text x="681.92" y="2237.3" font-size="20.5" text-anchor="middle" textLength="29.35" lengthAdjust="spacingAndGlyphs">0.5</text>
<text x="494.4" y="2045.38" font-size="20.5" text-anchor="end" textLength="29.35" lengthAdjust="spacingAndGlyphs">0.5</text>
<text x="743.1" y="2237.3" font-size="20.5" text-anchor="middle" textLength="11.74" lengthAdjust="spacingAndGlyphs">1</text>
<text x="494.4" y="1987.88" font-size="20.5" text-anchor="end" textLength="11.74" lengthAdjust="spacingAndGlyphs">1</text>
<text x="620.75" y="1973.9" font-size="19.5" text-anchor="middle" textLength="138.16" lengthAdjust="spacingAndGlyphs">Liver vs plasma</text>
<text x="620.75" y="2264" font-size="19.5" text-anchor="middle" textLength="37.54" lengthAdjust="spacingAndGlyphs">liver</text>
<text x="452" y="2095.5" font-size="19.5" text-anchor="middle" textLength="66" lengthAdjust="spacingAndGlyphs" transform="rotate(-90 452 2095.5)">plasma</text>
<text x="524.9" y="2021.7" font-size="19.5"><tspan font-style="italic">&#961;</tspan>=0.37</text>
<text x="524.9" y="2048.6" font-size="19.5" textLength="106.7" lengthAdjust="spacingAndGlyphs">p=2.86e-10</text>
<circle cx="917.49" cy="2090.36" r="4.6" fill="#d95319"/>
<circle cx="933.13" cy="2099.96" r="4.6" fill="#d95319"/>
<circle cx="949.81" cy="2085.08" r="4.6" fill="#d95319"/>
<circle cx="933.18" cy="2056.05" r="4.6" fill="#d95319"/>
<circle cx="930.23" cy="2115.78" r="4.6" fill="#d95319"/>
<circle cx="918.44" cy="2104.7" r="4.6" fill="#d95319"/>
<circle cx="945.68" cy="2071.04" r="4.6" fill="#d95319"/>
<circle cx="952.11" cy="2050.12" r="4.6" fill="#d95319"/>
<circle cx="959.95" cy="2070.84" r="4.6" fill="#d95319"/>
<circle cx="955.07" cy="2071.72" r="4.6" fill="#d95319"/>
<circle cx="929.76" cy="2074.88" r="4.6" fill="#d95319"/>
<circle cx="938.28" cy="2092.49" r="4.6" fill="#d95319"/>
<circle cx="964.46" cy="2066.58" r="4.6" fill="#d95319"/>
<circle cx="931.01" cy="2091.76" r="4.6" fill="#d95319"/>
<circle cx="969.19" cy="2085.02" r="4.6" fill="#d95319"/>
<circle cx="947.54" cy="2073.84" r="4.6" fill="#d95319"/>
<circle cx="944.52" cy="2075.24" r="4.6" fill="#d95319"/>
<circle cx="931.07" cy="2099.21" r="4.6" fill="#d95319"/>
<circle cx="935.43" cy="2096.02" r="4.6" fill="#d95319"/>
<circle cx="948.56" cy="2055.55" r="4.6" fill="#d95319"/>
<circle cx="925.54" cy="2081" r="4.6" fill="#d95319"/>
<circle cx="924.3" cy="2105.46" r="4.6" fill="#d95319"/>
<circle cx="934.36" cy="2087.23" r="4.6" fill="#d95319"/>
<circle cx="931.66" cy="2140.89" r="4.6" fill="#d95319"/>
<circle cx="956.41" cy="2088.82" r="4.6" fill="#d95319"/>
<circle cx="928.97" cy="2077.48" r="4.6" fill="#d95319"/>
<circle cx="929.49" cy="2118.46" r="4.6" fill="#d95319"/>
<circle cx="944.26" cy="2078.58" r="4.6" fill="#d95319"/>
<circle cx="926.38" cy="2075.08" r="4.6" fill="#d95319"/>
<circle cx="942.67" cy="2109.27" r="4.6" fill="#d95319"/>
<circle cx="961.38" cy="2077.02" r="4.6" fill="#d95319"/>
<circle cx="922.18" cy="2083.72" r="4.6" fill="#d95319"/>
<circle cx="939.32" cy="2069.11" r="4.6" fill="#d95319"/>
<circle cx="919.27" cy="2073.01" r="4.6" fill="#d95319"/>
<circle cx="950.39" cy="2071.59" r="4.6" fill="#d95319"/>
<circle cx="945.89" cy="2060.69" r="4.6" fill="#d95319"/>
<circle cx="947.35" cy="2083.44" r="4.6" fill="#d95319"/>
<circle cx="926.22" cy="2069.82" r="4.6" fill="#d95319"/>
<circle cx="950.93" cy="2079.2" r="4.6" fill="#d95319"/>
<circle cx="939.65" cy="2073.89" r="4.6" fill="#d95319"/>
<circle cx="903.4" cy="2091.32" r="4.6" fill="#d95319"/>
<circle cx="903.62" cy="2092.76" r="4.6" fill="#d95319"/>
<circle cx="951.93" cy="2047.84" r="4.6" fill="#d95319"/>
<circle cx="931.15" cy="2081.86" r="4.6" fill="#d95319"/>
<circle cx="936.58" cy="2132.22" r="4.6" fill="#d95319"/>
<circle cx="947.44" cy="2086.33" r="4.6" fill="#d95319"/>
<circle cx="938.44" cy="2106.77" r="4.6" fill="#d95319"/>
<circle cx="936.95" cy="2087.2" r="4.6" fill="#d95319"/>
<circle cx="954.89" cy="2078.37" r="4.6" fill="#d95319"/>
<circle cx="984.91" cy="2084.17" r="4.6" fill="#d95319"/>
<circle cx="933.91" cy="2090.62" r="4.6" fill="#d95319"/>
<circle cx="926.49" cy="2062.08" r="4.6" fill="#d95319"/>
<circle cx="946.28" cy="2111.18" r="4.6" fill="#d95319"/>
<circle cx="938.96" cy="2065.85" r="4.6" fill="#d95319"/>
<circle cx="918.23" cy="2090.82" r="4.6" fill="#d95319"/>
<circle cx="934.27" cy="2044.01" r="4.6" fill="#d95319"/>
<circle cx="943.13" cy="2095.15" r="4.6" fill="#d95319"/>
<circle cx="929.87" cy="2053.82" r="4.6" fill="#d95319"/>
<circle cx="931.17" cy="2045.81" r="4.6" fill="#d95319"/>
<circle cx="916.27" cy="2097.98" r="4.6" fill="#d95319"/>
<circle cx="934.24" cy="2103.25" r="4.6" fill="#d95319"/>
<circle cx="934.61" cy="2075.94" r="4.6" fill="#d95319"/>
<circle cx="928.46" cy="2118.99" r="4.6" fill="#d95319"/>
<circle cx="955.76" cy="2055.25" r="4.6" fill="#d95319"/>
<circle cx="928.12" cy="2085.19" r="4.6" fill="#d95319"/>
<circle cx="902.55" cy="2077.55" r="4.6" fill="#d95319"/>
<circle cx="919.41" cy="2104.23" r="4.6" fill="#d95319"/>
<circle cx="966.87" cy="2105.58" r="4.6" fill="#d95319"/>
<circle cx="937.77" cy="2109.47" r="4.6" fill="#d95319"/>
<circle cx="912.38" cy="2117.99" r="4.6" fill="#d95319"/>
<circle cx="941.16" cy="2113.19" r="4.6" fill="#d95319"/>
<circle cx="929.47" cy="2076.6" r="4.6" fill="#d95319"/>
<circle cx="935.32" cy="2114.81" r="4.6" fill="#d95319"/>
<circle cx="957.82" cy="2081" r="4.6" fill="#d95319"/>
<circle cx="956.57" cy="2104.11" r="4.6" fill="#d95319"/>
<circle cx="960.39" cy="2108.94" r="4.6" fill="#d95319"/>
<circle cx="913.78" cy="2103.2" r="4.6" fill="#d95319"/>
<circle cx="932.43" cy="2084.9" r="4.6" fill="#d95319"/>
<circle cx="929.86" cy="2078.33" r="4.6" fill="#d95319"/>
<circle cx="955.6" cy="2096.67" r="4.6" fill="#d95319"/>
<circle cx="918.8" cy="2101.43" r="4.6" fill="#d95319"/>
<circle cx="948.59" cy="2069.89" r="4.6" fill="#d95319"/>
<circle cx="932.76" cy="2109.16" r="4.6" fill="#d95319"/>
<circle cx="937.22" cy="2070.01" r="4.6" fill="#d95319"/>
<circle cx="927.77" cy="2065.97" r="4.6" fill="#d95319"/>
<circle cx="940.53" cy="2082.27" r="4.6" fill="#d95319"/>
<circle cx="928.95" cy="2064.42" r="4.6" fill="#d95319"/>
<circle cx="938.04" cy="2117.61" r="4.6" fill="#d95319"/>
<circle cx="948.58" cy="2093.99" r="4.6" fill="#d95319"/>
<circle cx="952.08" cy="2081.62" r="4.6" fill="#d95319"/>
<circle cx="928.95" cy="2087.64" r="4.6" fill="#d95319"/>
<circle cx="930.78" cy="2106.6" r="4.6" fill="#d95319"/>
<circle cx="937.73" cy="2072.44" r="4.6" fill="#d95319"/>
<circle cx="938.42" cy="2090.17" r="4.6" fill="#d95319"/>
<circle cx="929.92" cy="2079.59" r="4.6" fill="#d95319"/>
<circle cx="941.15" cy="2069.1" r="4.6" fill="#d95319"/>
<circle cx="942.41" cy="2045.93" r="4.6" fill="#d95319"/>
<circle cx="916.12" cy="2095.39" r="4.6" fill="#d95319"/>
<circle cx="944.69" cy="2069.37" r="4.6" fill="#d95319"/>
<circle cx="916.64" cy="2118.02" r="4.6" fill="#d95319"/>
<circle cx="936.87" cy="2068.41" r="4.6" fill="#d95319"/>
<circle cx="952.34" cy="2114.39" r="4.6" fill="#d95319"/>
<circle cx="939.2" cy="2065.47" r="4.6" fill="#d95319"/>
<circle cx="937.81" cy="2108.74" r="4.6" fill="#d95319"/>
<circle cx="927.7" cy="2117.3" r="4.6" fill="#d95319"/>
<circle cx="953.62" cy="2089.56" r="4.6" fill="#d95319"/>
<circle cx="931.61" cy="2107.32" r="4.6" fill="#d95319"/>
<circle cx="935.54" cy="2106.95" r="4.6" fill="#d95319"/>
<circle cx="924.18" cy="2093.07" r="4.6" fill="#d95319"/>
<circle cx="934.31" cy="2080.69" r="4.6" fill="#d95319"/>
<circle cx="939.41" cy="2065.25" r="4.6" fill="#d95319"/>
<circle cx="936.81" cy="2083.87" r="4.6" fill="#d95319"/>
<circle cx="940.49" cy="2103.68" r="4.6" fill="#d95319"/>
<circle cx="953.52" cy="2095.52" r="4.6" fill="#d95319"/>
<circle cx="915.98" cy="2070.15" r="4.6" fill="#d95319"/>
<circle cx="946.27" cy="2097.46" r="4.6" fill="#d95319"/>
<circle cx="950.34" cy="2066.64" r="4.6" fill="#d95319"/>
<circle cx="946.95" cy="2109.09" r="4.6" fill="#d95319"/>
<circle cx="939.81" cy="2108.35" r="4.6" fill="#d95319"/>
<circle cx="929.12" cy="2101.92" r="4.6" fill="#d95319"/>
<circle cx="925.94" cy="2082.24" r="4.6" fill="#d95319"/>
<circle cx="926.72" cy="2079.53" r="4.6" fill="#d95319"/>
<circle cx="939.73" cy="2099.98" r="4.6" fill="#d95319"/>
<circle cx="939.72" cy="2074.84" r="4.6" fill="#d95319"/>
<circle cx="952.88" cy="2089.77" r="4.6" fill="#d95319"/>
<circle cx="960.91" cy="2071.51" r="4.6" fill="#d95319"/>
<circle cx="954.27" cy="2110.64" r="4.6" fill="#d95319"/>
<circle cx="923.07" cy="2069.08" r="4.6" fill="#d95319"/>
<circle cx="934.37" cy="2080.58" r="4.6" fill="#d95319"/>
<circle cx="953.65" cy="2112.59" r="4.6" fill="#d95319"/>
<circle cx="943.51" cy="2049.59" r="4.6" fill="#d95319"/>
<circle cx="948.23" cy="2084.22" r="4.6" fill="#d95319"/>
<circle cx="945.04" cy="2086.64" r="4.6" fill="#d95319"/>
<circle cx="947.87" cy="2060.77" r="4.6" fill="#d95319"/>
<circle cx="934.35" cy="2078.45" r="4.6" fill="#d95319"/>
<circle cx="941.52" cy="2073.3" r="4.6" fill="#d95319"/>
<circle cx="948.72" cy="2106.65" r="4.6" fill="#d95319"/>
<circle cx="953.15" cy="2067.94" r="4.6" fill="#d95319"/>
<circle cx="922.62" cy="2098.23" r="4.6" fill="#d95319"/>
<circle cx="917.69" cy="2099.6" r="4.6" fill="#d95319"/>
<circle cx="941.84" cy="2110.11" r="4.6" fill="#d95319"/>
<circle cx="926.95" cy="2108.59" r="4.6" fill="#d95319"/>
<circle cx="928.01" cy="2106.31" r="4.6" fill="#d95319"/>
<circle cx="922.96" cy="2081.58" r="4.6" fill="#d95319"/>
<circle cx="934.5" cy="2105.53" r="4.6" fill="#d95319"/>
<circle cx="950.73" cy="2096.28" r="4.6" fill="#d95319"/>
<circle cx="949.48" cy="2109.64" r="4.6" fill="#d95319"/>
<circle cx="956.39" cy="2092.51" r="4.6" fill="#d95319"/>
<circle cx="924.6" cy="2084.26" r="4.6" fill="#d95319"/>
<circle cx="919.36" cy="2114.51" r="4.6" fill="#d95319"/>
<circle cx="940.6" cy="2097.34" r="4.6" fill="#d95319"/>
<circle cx="942.78" cy="2084.68" r="4.6" fill="#d95319"/>
<circle cx="940.8" cy="2085.4" r="4.6" fill="#d95319"/>
<circle cx="946.99" cy="2086.32" r="4.6" fill="#d95319"/>
<circle cx="952.29" cy="2066.61" r="4.6" fill="#d95319"/>
<circle cx="910.88" cy="2129.79" r="4.6" fill="#d95319"/>
<circle cx="958.38" cy="2091.92" r="4.6" fill="#d95319"/>
<circle cx="939.89" cy="2090.38" r="4.6" fill="#d95319"/>
<circle cx="941.08" cy="2045.16" r="4.6" fill="#d95319"/>
<circle cx="927.85" cy="2090.11" r="4.6" fill="#d95319"/>
<circle cx="937.46" cy="2109.76" r="4.6" fill="#d95319"/>
<circle cx="925.61" cy="2097.19" r="4.6" fill="#d95319"/>
<circle cx="937.15" cy="2081.47" r="4.6" fill="#d95319"/>
<circle cx="910.94" cy="2126.11" r="4.6" fill="#d95319"/>
<circle cx="959.59" cy="2086.51" r="4.6" fill="#d95319"/>
<circle cx="948.47" cy="2094.11" r="4.6" fill="#d95319"/>
<circle cx="927.8" cy="2050.51" r="4.6" fill="#d95319"/>
<circle cx="920.74" cy="2110.81" r="4.6" fill="#d95319"/>
<circle cx="946.48" cy="2086.13" r="4.6" fill="#d95319"/>
<circle cx="915.28" cy="2091.98" r="4.6" fill="#d95319"/>
<circle cx="947.19" cy="2115.79" r="4.6" fill="#d95319"/>
<circle cx="929.84" cy="2075.65" r="4.6" fill="#d95319"/>
<circle cx="963.11" cy="2127.06" r="4.6" fill="#d95319"/>
<circle cx="928.08" cy="2090.86" r="4.6" fill="#d95319"/>
<circle cx="925.08" cy="2109.63" r="4.6" fill="#d95319"/>
<circle cx="930.6" cy="2080.76" r="4.6" fill="#d95319"/>
<circle cx="922.99" cy="2075.93" r="4.6" fill="#d95319"/>
<circle cx="948.54" cy="2069.52" r="4.6" fill="#d95319"/>
<circle cx="958.02" cy="2093.58" r="4.6" fill="#d95319"/>
<circle cx="936.67" cy="2069.78" r="4.6" fill="#d95319"/>
<circle cx="954.38" cy="2066.3" r="4.6" fill="#d95319"/>
<circle cx="931.28" cy="2099.95" r="4.6" fill="#d95319"/>
<circle cx="919.64" cy="2101.97" r="4.6" fill="#d95319"/>
<circle cx="925.3" cy="2101.53" r="4.6" fill="#d95319"/>
<circle cx="932.25" cy="2074.21" r="4.6" fill="#d95319"/>
<circle cx="948.85" cy="2086.86" r="4.6" fill="#d95319"/>
<circle cx="921.99" cy="2093.99" r="4.6" fill="#d95319"/>
<circle cx="943.15" cy="2070.9" r="4.6" fill="#d95319"/>
<circle cx="940.16" cy="2072.59" r="4.6" fill="#d95319"/>
<circle cx="928.51" cy="2078.71" r="4.6" fill="#d95319"/>
<circle cx="947.26" cy="2093.15" r="4.6" fill="#d95319"/>
<circle cx="927.15" cy="2067.83" r="4.6" fill="#d95319"/>
<circle cx="923.97" cy="2079.2" r="4.6" fill="#d95319"/>
<circle cx="933.71" cy="2096.59" r="4.6" fill="#d95319"/>
<circle cx="933.93" cy="2098.34" r="4.6" fill="#d95319"/>
<circle cx="936.82" cy="2054.72" r="4.6" fill="#d95319"/>
<circle cx="956.87" cy="2086.38" r="4.6" fill="#d95319"/>
<circle cx="943.66" cy="2069.76" r="4.6" fill="#d95319"/>
<circle cx="931.62" cy="2055.01" r="4.6" fill="#d95319"/>
<circle cx="937.79" cy="2076.86" r="4.6" fill="#d95319"/>
<circle cx="924.52" cy="2113.88" r="4.6" fill="#d95319"/>
<circle cx="923.93" cy="2104.88" r="4.6" fill="#d95319"/>
<circle cx="951.21" cy="2091.4" r="4.6" fill="#d95319"/>
<circle cx="949.18" cy="2093.9" r="4.6" fill="#d95319"/>
<circle cx="924.51" cy="2089.07" r="4.6" fill="#d95319"/>
<circle cx="932" cy="2122.35" r="4.6" fill="#d95319"/>
<circle cx="937.97" cy="2066.01" r="4.6" fill="#d95319"/>
<circle cx="934.53" cy="2112.81" r="4.6" fill="#d95319"/>
<circle cx="927.16" cy="2114.98" r="4.6" fill="#d95319"/>
<circle cx="934.07" cy="2108.05" r="4.6" fill="#d95319"/>
<circle cx="935.81" cy="2086" r="4.6" fill="#d95319"/>
<circle cx="955.12" cy="2106.55" r="4.6" fill="#d95319"/>
<circle cx="909.83" cy="2064.87" r="4.6" fill="#d95319"/>
<circle cx="943.14" cy="2094.44" r="4.6" fill="#d95319"/>
<circle cx="944.11" cy="2105.04" r="4.6" fill="#d95319"/>
<circle cx="932.78" cy="2077.12" r="4.6" fill="#d95319"/>
<circle cx="933.11" cy="2087.5" r="4.6" fill="#d95319"/>
<circle cx="943.2" cy="2085.1" r="4.6" fill="#d95319"/>
<circle cx="934.08" cy="2079.91" r="4.6" fill="#d95319"/>
<circle cx="955.1" cy="2059.79" r="4.6" fill="#d95319"/>
<circle cx="925.54" cy="2077.4" r="4.6" fill="#d95319"/>
<circle cx="911.8" cy="2122.89" r="4.6" fill="#d95319"/>
<circle cx="942.71" cy="2077.22" r="4.6" fill="#d95319"/>
<circle cx="955.63" cy="2117.25" r="4.6" fill="#d95319"/>
<circle cx="951.8" cy="2095.62" r="4.6" fill="#d95319"/>
<circle cx="931.04" cy="2082.06" r="4.6" fill="#d95319"/>
<circle cx="956.17" cy="2102.11" r="4.6" fill="#d95319"/>
<circle cx="914.37" cy="2106.51" r="4.6" fill="#d95319"/>
<circle cx="935.74" cy="2066.34" r="4.6" fill="#d95319"/>
<circle cx="942.2" cy="2093.45" r="4.6" fill="#d95319"/>
<circle cx="930.51" cy="2099.7" r="4.6" fill="#d95319"/>
<circle cx="950.28" cy="2117.54" r="4.6" fill="#d95319"/>
<circle cx="928" cy="2108.26" r="4.6" fill="#d95319"/>
<circle cx="952.35" cy="2082.66" r="4.6" fill="#d95319"/>
<circle cx="928.28" cy="2076.96" r="4.6" fill="#d95319"/>
<circle cx="963.47" cy="2062.47" r="4.6" fill="#d95319"/>
<circle cx="919.81" cy="2097.63" r="4.6" fill="#d95319"/>
<circle cx="952.49" cy="2119.89" r="4.6" fill="#d95319"/>
<circle cx="920.88" cy="2101.35" r="4.6" fill="#d95319"/>
<circle cx="944.26" cy="2103.02" r="4.6" fill="#d95319"/>
<circle cx="939.27" cy="2091.62" r="4.6" fill="#d95319"/>
<circle cx="941.55" cy="2111.09" r="4.6" fill="#d95319"/>
<circle cx="907.5" cy="2138.23" r="4.6" fill="#d95319"/>
<circle cx="939.44" cy="2069.75" r="4.6" fill="#d95319"/>
<circle cx="943.67" cy="2118.3" r="4.6" fill="#d95319"/>
<circle cx="913.91" cy="2100.83" r="4.6" fill="#d95319"/>
<circle cx="924.93" cy="2127.69" r="4.6" fill="#d95319"/>
<circle cx="929.38" cy="2106.51" r="4.6" fill="#d95319"/>
<circle cx="935.59" cy="2082.34" r="4.6" fill="#d95319"/>
<circle cx="939.68" cy="2085.04" r="4.6" fill="#d95319"/>
<circle cx="944.15" cy="2089.45" r="4.6" fill="#d95319"/>
<circle cx="931.12" cy="2097.47" r="4.6" fill="#d95319"/>
<circle cx="953.01" cy="2090.51" r="4.6" fill="#d95319"/>
<circle cx="947.95" cy="2054.55" r="4.6" fill="#d95319"/>
<circle cx="960.46" cy="2124.44" r="4.6" fill="#d95319"/>
<circle cx="939.12" cy="2069.91" r="4.6" fill="#d95319"/>
<circle cx="931.05" cy="2104.55" r="4.6" fill="#d95319"/>
<circle cx="917.98" cy="2107.32" r="4.6" fill="#d95319"/>
<circle cx="937.1" cy="2125.53" r="4.6" fill="#d95319"/>
<circle cx="936.92" cy="2105.5" r="4.6" fill="#d95319"/>
<circle cx="937.35" cy="2110.11" r="4.6" fill="#d95319"/>
<circle cx="938.19" cy="2085.96" r="4.6" fill="#d95319"/>
<circle cx="927.79" cy="2104.71" r="4.6" fill="#d95319"/>
<circle cx="949.77" cy="2073.93" r="4.6" fill="#d95319"/>
<circle cx="926.63" cy="2083.74" r="4.6" fill="#d95319"/>
<circle cx="921.61" cy="2103.43" r="4.6" fill="#d95319"/>
<circle cx="897.97" cy="2110.54" r="4.6" fill="#d95319"/>
<circle cx="946.18" cy="2096.43" r="4.6" fill="#d95319"/>
<circle cx="944.94" cy="2099.68" r="4.6" fill="#d95319"/>
<circle cx="941.11" cy="2091.19" r="4.6" fill="#d95319"/>
<circle cx="923.98" cy="2052.57" r="4.6" fill="#d95319"/>
<circle cx="925.78" cy="2118.23" r="4.6" fill="#d95319"/>
<circle cx="938.78" cy="2079.85" r="4.6" fill="#d95319"/>
<circle cx="941.65" cy="2090.27" r="4.6" fill="#d95319"/>
<circle cx="943.28" cy="2069.85" r="4.6" fill="#d95319"/>
<circle cx="945.37" cy="2113.82" r="4.6" fill="#d95319"/>
<circle cx="960.14" cy="2083.97" r="4.6" fill="#d95319"/>
<circle cx="909.62" cy="2080.64" r="4.6" fill="#d95319"/>
<circle cx="935.08" cy="2084.5" r="4.6" fill="#d95319"/>
<circle cx="963.62" cy="2092.74" r="4.6" fill="#d95319"/>
<circle cx="928.67" cy="2110.49" r="4.6" fill="#d95319"/>
<circle cx="939.56" cy="2076.08" r="4.6" fill="#d95319"/>
<circle cx="942.28" cy="2084.81" r="4.6" fill="#d95319"/>
<circle cx="908.58" cy="2091.81" r="4.6" fill="#d95319"/>
<circle cx="951.52" cy="2095.44" r="4.6" fill="#d95319"/>
<circle cx="929.9" cy="2110.73" r="4.6" fill="#d95319"/>
<circle cx="940.29" cy="2118.54" r="4.6" fill="#d95319"/>
<circle cx="962.64" cy="2086.51" r="4.6" fill="#d95319"/>
<circle cx="929.02" cy="2114.91" r="4.6" fill="#d95319"/>
<circle cx="944.26" cy="2068.86" r="4.6" fill="#d95319"/>
<circle cx="929.52" cy="2088.08" r="4.6" fill="#d95319"/>
<circle cx="940.98" cy="2069.78" r="4.6" fill="#d95319"/>
<circle cx="945.28" cy="2063.5" r="4.6" fill="#d95319"/>
<circle cx="918.11" cy="2044.27" r="4.6" fill="#d95319"/>
<circle cx="930.36" cy="2112.69" r="4.6" fill="#d95319"/>
<circle cx="924.63" cy="2085.22" r="4.6" fill="#d95319"/>
<circle cx="947.4" cy="2040.01" r="4.6" fill="#d95319"/>
<circle cx="953.48" cy="2099.78" r="4.6" fill="#d95319"/>
<circle cx="932.47" cy="2099.59" r="4.6" fill="#d95319"/>
<circle cx="929.03" cy="2094.8" r="4.6" fill="#d95319"/>
<circle cx="906.49" cy="2013.07" r="4.6" fill="#d95319"/>
<circle cx="918.63" cy="2039.56" r="4.6" fill="#d95319"/>
<circle cx="942.55" cy="2044.35" r="4.6" fill="#d95319"/>
<circle cx="897.29" cy="2057.23" r="4.6" fill="#d95319"/>
<circle cx="889.93" cy="2066.43" r="4.6" fill="#d95319"/>
<circle cx="880" cy="2067.16" r="4.6" fill="#d95319"/>
<circle cx="960.95" cy="2050.6" r="4.6" fill="#d95319"/>
<circle cx="970.15" cy="2050.6" r="4.6" fill="#d95319"/>
<circle cx="968.31" cy="2068.27" r="4.6" fill="#d95319"/>
<circle cx="1045.59" cy="2060.54" r="4.6" fill="#d95319"/>
<circle cx="1056.62" cy="2112.43" r="4.6" fill="#d95319"/>
<circle cx="1046.32" cy="2130.46" r="4.6" fill="#d95319"/>
<circle cx="989.29" cy="2106.91" r="4.6" fill="#d95319"/>
<circle cx="981.19" cy="2095.87" r="4.6" fill="#d95319"/>
<circle cx="999.59" cy="2139.66" r="4.6" fill="#d95319"/>
<circle cx="958.01" cy="2157.32" r="4.6" fill="#d95319"/>
<circle cx="913.85" cy="2163.95" r="4.6" fill="#d95319"/>
<circle cx="917.9" cy="2175.72" r="4.6" fill="#d95319"/>
<circle cx="928.94" cy="2175.72" r="4.6" fill="#d95319"/>
<circle cx="855.34" cy="2106.54" r="4.6" fill="#d95319"/>
<circle cx="886.62" cy="2089.24" r="4.6" fill="#d95319"/>
<circle cx="887.36" cy="2117.58" r="4.6" fill="#d95319"/>
<circle cx="839.52" cy="2195.96" r="4.6" fill="#d95319"/>
<circle cx="877.05" cy="2205.9" r="4.6" fill="#d95319"/>
<circle cx="963.89" cy="2118.68" r="4.6" fill="#d95319"/>
<circle cx="967.57" cy="2132.67" r="4.6" fill="#d95319"/>
<circle cx="975.67" cy="2129.72" r="4.6" fill="#d95319"/>
<circle cx="985.61" cy="2127.88" r="4.6" fill="#d95319"/>
<circle cx="909.43" cy="2130.83" r="4.6" fill="#d95319"/>
<circle cx="907.59" cy="2141.87" r="4.6" fill="#d95319"/>
<circle cx="909.43" cy="2050.6" r="4.6" fill="#d95319"/>
<circle cx="927.83" cy="2046.92" r="4.6" fill="#d95319"/>
<circle cx="894.72" cy="2076.36" r="4.6" fill="#d95319"/>
<circle cx="898.4" cy="2102.12" r="4.6" fill="#d95319"/>
<circle cx="894.72" cy="2113.16" r="4.6" fill="#d95319"/>
<circle cx="971.99" cy="2080.04" r="4.6" fill="#d95319"/>
<circle cx="975.67" cy="2087.4" r="4.6" fill="#d95319"/>
<rect x="824.8" y="1980.5" width="243.6" height="230" fill="none" stroke="#111" stroke-width="2.6"/>
<line x1="885.7" y1="2210.5" x2="885.7" y2="2207.5" stroke="#000" stroke-width="2"/>
<line x1="885.7" y1="1980.5" x2="885.7" y2="1983.5" stroke="#000" stroke-width="2"/>
<line x1="824.8" y1="2153" x2="827.8" y2="2153" stroke="#000" stroke-width="2"/>
<line x1="1068.4" y1="2153" x2="1065.4" y2="2153" stroke="#000" stroke-width="2"/>
<line x1="946.6" y1="2210.5" x2="946.6" y2="2207.5" stroke="#000" stroke-width="2"/>
<line x1="946.6" y1="1980.5" x2="946.6" y2="1983.5" stroke="#000" stroke-width="2"/>
<line x1="824.8" y1="2095.5" x2="827.8" y2="2095.5" stroke="#000" stroke-width="2"/>
<line x1="1068.4" y1="2095.5" x2="1065.4" y2="2095.5" stroke="#000" stroke-width="2"/>
<line x1="1007.5" y1="2210.5" x2="1007.5" y2="2207.5" stroke="#000" stroke-width="2"/>
<line x1="1007.5" y1="1980.5" x2="1007.5" y2="1983.5" stroke="#000" stroke-width="2"/>
<line x1="824.8" y1="2038" x2="827.8" y2="2038" stroke="#000" stroke-width="2"/>
<line x1="1068.4" y1="2038" x2="1065.4" y2="2038" stroke="#000" stroke-width="2"/>
<text x="824.8" y="2237.3" font-size="20.5" text-anchor="middle" textLength="18.77" lengthAdjust="spacingAndGlyphs">-1</text>
<text x="820.8" y="2217.88" font-size="20.5" text-anchor="end" textLength="18.77" lengthAdjust="spacingAndGlyphs">-1</text>
<text x="885.7" y="2237.3" font-size="20.5" text-anchor="middle" textLength="36.38" lengthAdjust="spacingAndGlyphs">-0.5</text>
<text x="820.8" y="2160.38" font-size="20.5" text-anchor="end" textLength="36.38" lengthAdjust="spacingAndGlyphs">-0.5</text>
<text x="946.6" y="2237.3" font-size="20.5" text-anchor="middle" textLength="11.74" lengthAdjust="spacingAndGlyphs">0</text>
<text x="820.8" y="2102.88" font-size="20.5" text-anchor="end" textLength="11.74" lengthAdjust="spacingAndGlyphs">0</text>
<text x="1007.5" y="2237.3" font-size="20.5" text-anchor="middle" textLength="29.35" lengthAdjust="spacingAndGlyphs">0.5</text>
<text x="820.8" y="2045.38" font-size="20.5" text-anchor="end" textLength="29.35" lengthAdjust="spacingAndGlyphs">0.5</text>
<text x="1068.4" y="2237.3" font-size="20.5" text-anchor="middle" textLength="11.74" lengthAdjust="spacingAndGlyphs">1</text>
<text x="820.8" y="1987.88" font-size="20.5" text-anchor="end" textLength="11.74" lengthAdjust="spacingAndGlyphs">1</text>
<text x="946.6" y="1973.9" font-size="19.5" text-anchor="middle" textLength="135.95" lengthAdjust="spacingAndGlyphs">Liver vs tumour</text>
<text x="946.6" y="2264" font-size="19.5" text-anchor="middle" textLength="37.54" lengthAdjust="spacingAndGlyphs">liver</text>
<text x="782.5" y="2095.5" font-size="19.5" text-anchor="middle" textLength="63.72" lengthAdjust="spacingAndGlyphs" transform="rotate(-90 782.5 2095.5)">tumour</text>
<text x="856" y="2017.3" font-size="19.5"><tspan font-style="italic">&#961;</tspan>=0.18</text>
<text x="856" y="2040.4" font-size="19.5" textLength="88.3" lengthAdjust="spacingAndGlyphs">p=0.0019</text>
<circle cx="1266.03" cy="2062.98" r="4.6" fill="#d95319"/>
<circle cx="1255.85" cy="2132.54" r="4.6" fill="#d95319"/>
<circle cx="1271.44" cy="2078.68" r="4.6" fill="#d95319"/>
<circle cx="1273.56" cy="2080.01" r="4.6" fill="#d95319"/>
<circle cx="1266.51" cy="2104.15" r="4.6" fill="#d95319"/>
<circle cx="1257.35" cy="2098.86" r="4.6" fill="#d95319"/>
<circle cx="1262.99" cy="2073.88" r="4.6" fill="#d95319"/>
<circle cx="1277.75" cy="2113.93" r="4.6" fill="#d95319"/>
<circle cx="1278.96" cy="2088.54" r="4.6" fill="#d95319"/>
<circle cx="1285.15" cy="2055.65" r="4.6" fill="#d95319"/>
<circle cx="1276.98" cy="2124.63" r="4.6" fill="#d95319"/>
<circle cx="1278.42" cy="2119.79" r="4.6" fill="#d95319"/>
<circle cx="1291.92" cy="2097.59" r="4.6" fill="#d95319"/>
<circle cx="1266.09" cy="2054.32" r="4.6" fill="#d95319"/>
<circle cx="1242.88" cy="2097.39" r="4.6" fill="#d95319"/>
<circle cx="1253.06" cy="2105.73" r="4.6" fill="#d95319"/>
<circle cx="1257.11" cy="2080.04" r="4.6" fill="#d95319"/>
<circle cx="1264.44" cy="2084.81" r="4.6" fill="#d95319"/>
<circle cx="1278.35" cy="2122.94" r="4.6" fill="#d95319"/>
<circle cx="1289.56" cy="2089.79" r="4.6" fill="#d95319"/>
<circle cx="1244.43" cy="2110.99" r="4.6" fill="#d95319"/>
<circle cx="1281.81" cy="2066.43" r="4.6" fill="#d95319"/>
<circle cx="1258.75" cy="2091.33" r="4.6" fill="#d95319"/>
<circle cx="1272.49" cy="2068.34" r="4.6" fill="#d95319"/>
<circle cx="1266.95" cy="2070.99" r="4.6" fill="#d95319"/>
<circle cx="1255.73" cy="2109.06" r="4.6" fill="#d95319"/>
<circle cx="1278.83" cy="2072.85" r="4.6" fill="#d95319"/>
<circle cx="1268.26" cy="2078.28" r="4.6" fill="#d95319"/>
<circle cx="1272.05" cy="2073.81" r="4.6" fill="#d95319"/>
<circle cx="1286.27" cy="2074.91" r="4.6" fill="#d95319"/>
<circle cx="1281.18" cy="2095.15" r="4.6" fill="#d95319"/>
<circle cx="1260.69" cy="2141.27" r="4.6" fill="#d95319"/>
<circle cx="1275.06" cy="2088.11" r="4.6" fill="#d95319"/>
<circle cx="1276.9" cy="2126.79" r="4.6" fill="#d95319"/>
<circle cx="1261.75" cy="2104.01" r="4.6" fill="#d95319"/>
<circle cx="1242.13" cy="2079.37" r="4.6" fill="#d95319"/>
<circle cx="1287.16" cy="2111.59" r="4.6" fill="#d95319"/>
<circle cx="1275.6" cy="2053.04" r="4.6" fill="#d95319"/>
<circle cx="1250.92" cy="2075.21" r="4.6" fill="#d95319"/>
<circle cx="1292.64" cy="2045.29" r="4.6" fill="#d95319"/>
<circle cx="1248.67" cy="2118.17" r="4.6" fill="#d95319"/>
<circle cx="1272.1" cy="2064.74" r="4.6" fill="#d95319"/>
<circle cx="1250.22" cy="2111.28" r="4.6" fill="#d95319"/>
<circle cx="1252.35" cy="2072.33" r="4.6" fill="#d95319"/>
<circle cx="1260.65" cy="2080.98" r="4.6" fill="#d95319"/>
<circle cx="1278.63" cy="2063.75" r="4.6" fill="#d95319"/>
<circle cx="1275.23" cy="2081.69" r="4.6" fill="#d95319"/>
<circle cx="1286.3" cy="2075.71" r="4.6" fill="#d95319"/>
<circle cx="1250.13" cy="2106.9" r="4.6" fill="#d95319"/>
<circle cx="1282.53" cy="2083.75" r="4.6" fill="#d95319"/>
<circle cx="1263.73" cy="2086.88" r="4.6" fill="#d95319"/>
<circle cx="1318.57" cy="2077.49" r="4.6" fill="#d95319"/>
<circle cx="1276.22" cy="2078.94" r="4.6" fill="#d95319"/>
<circle cx="1264.95" cy="2066.9" r="4.6" fill="#d95319"/>
<circle cx="1281.82" cy="2078.55" r="4.6" fill="#d95319"/>
<circle cx="1248.75" cy="2070.06" r="4.6" fill="#d95319"/>
<circle cx="1280.46" cy="2088.93" r="4.6" fill="#d95319"/>
<circle cx="1228.67" cy="2103.06" r="4.6" fill="#d95319"/>
<circle cx="1250.82" cy="2100.36" r="4.6" fill="#d95319"/>
<circle cx="1261.35" cy="2109.81" r="4.6" fill="#d95319"/>
<circle cx="1284.16" cy="2083.81" r="4.6" fill="#d95319"/>
<circle cx="1287.5" cy="2105.26" r="4.6" fill="#d95319"/>
<circle cx="1266.13" cy="2063" r="4.6" fill="#d95319"/>
<circle cx="1273.87" cy="2104.14" r="4.6" fill="#d95319"/>
<circle cx="1255.64" cy="2106.55" r="4.6" fill="#d95319"/>
<circle cx="1267.72" cy="2076.56" r="4.6" fill="#d95319"/>
<circle cx="1271.16" cy="2074.21" r="4.6" fill="#d95319"/>
<circle cx="1281.56" cy="2084.45" r="4.6" fill="#d95319"/>
<circle cx="1288.32" cy="2069.71" r="4.6" fill="#d95319"/>
<circle cx="1266.21" cy="2094.69" r="4.6" fill="#d95319"/>
<circle cx="1268.7" cy="2105.9" r="4.6" fill="#d95319"/>
<circle cx="1248.85" cy="2095.41" r="4.6" fill="#d95319"/>
<circle cx="1261.28" cy="2080.51" r="4.6" fill="#d95319"/>
<circle cx="1260.01" cy="2091" r="4.6" fill="#d95319"/>
<circle cx="1271.94" cy="2099.44" r="4.6" fill="#d95319"/>
<circle cx="1271.85" cy="2104.72" r="4.6" fill="#d95319"/>
<circle cx="1262.52" cy="2075.73" r="4.6" fill="#d95319"/>
<circle cx="1274.77" cy="2088.99" r="4.6" fill="#d95319"/>
<circle cx="1257.16" cy="2079.44" r="4.6" fill="#d95319"/>
<circle cx="1298.84" cy="2127.3" r="4.6" fill="#d95319"/>
<circle cx="1284.68" cy="2081.63" r="4.6" fill="#d95319"/>
<circle cx="1285.39" cy="2061.71" r="4.6" fill="#d95319"/>
<circle cx="1253.67" cy="2058.82" r="4.6" fill="#d95319"/>
<circle cx="1260.03" cy="2098.31" r="4.6" fill="#d95319"/>
<circle cx="1278.3" cy="2089.72" r="4.6" fill="#d95319"/>
<circle cx="1272.9" cy="2100.21" r="4.6" fill="#d95319"/>
<circle cx="1253.33" cy="2094.68" r="4.6" fill="#d95319"/>
<circle cx="1252.53" cy="2067.4" r="4.6" fill="#d95319"/>
<circle cx="1272.53" cy="2060.48" r="4.6" fill="#d95319"/>
<circle cx="1250.19" cy="2139.09" r="4.6" fill="#d95319"/>
<circle cx="1234.69" cy="2108.19" r="4.6" fill="#d95319"/>
<circle cx="1249.55" cy="2088.69" r="4.6" fill="#d95319"/>
<circle cx="1247" cy="2125.62" r="4.6" fill="#d95319"/>
<circle cx="1273.07" cy="2097.68" r="4.6" fill="#d95319"/>
<circle cx="1279.03" cy="2071.04" r="4.6" fill="#d95319"/>
<circle cx="1274.18" cy="2114.43" r="4.6" fill="#d95319"/>
<circle cx="1255.86" cy="2047.36" r="4.6" fill="#d95319"/>
<circle cx="1265.44" cy="2085.6" r="4.6" fill="#d95319"/>
<circle cx="1270.72" cy="2090.72" r="4.6" fill="#d95319"/>
<circle cx="1266.28" cy="2103.11" r="4.6" fill="#d95319"/>
<circle cx="1261.1" cy="2134.69" r="4.6" fill="#d95319"/>
<circle cx="1293.85" cy="2085.89" r="4.6" fill="#d95319"/>
<circle cx="1249.18" cy="2085.52" r="4.6" fill="#d95319"/>
<circle cx="1278.84" cy="2117.83" r="4.6" fill="#d95319"/>
<circle cx="1261.07" cy="2061.92" r="4.6" fill="#d95319"/>
<circle cx="1276.97" cy="2079.55" r="4.6" fill="#d95319"/>
<circle cx="1283.76" cy="2089.21" r="4.6" fill="#d95319"/>
<circle cx="1264.43" cy="2058.91" r="4.6" fill="#d95319"/>
<circle cx="1266.09" cy="2093.11" r="4.6" fill="#d95319"/>
<circle cx="1278.4" cy="2087.31" r="4.6" fill="#d95319"/>
<circle cx="1250.37" cy="2056.7" r="4.6" fill="#d95319"/>
<circle cx="1267.77" cy="2053.8" r="4.6" fill="#d95319"/>
<circle cx="1276.45" cy="2107.4" r="4.6" fill="#d95319"/>
<circle cx="1291.99" cy="2087.78" r="4.6" fill="#d95319"/>
<circle cx="1255.98" cy="2094.93" r="4.6" fill="#d95319"/>
<circle cx="1236.75" cy="2091.39" r="4.6" fill="#d95319"/>
<circle cx="1257.95" cy="2098.98" r="4.6" fill="#d95319"/>
<circle cx="1255.5" cy="2080.44" r="4.6" fill="#d95319"/>
<circle cx="1274.21" cy="2066.79" r="4.6" fill="#d95319"/>
<circle cx="1293.75" cy="2077.83" r="4.6" fill="#d95319"/>
<circle cx="1270.23" cy="2083.99" r="4.6" fill="#d95319"/>
<circle cx="1256.68" cy="2105.48" r="4.6" fill="#d95319"/>
<circle cx="1280.13" cy="2105.32" r="4.6" fill="#d95319"/>
<circle cx="1239.84" cy="2106.2" r="4.6" fill="#d95319"/>
<circle cx="1272.65" cy="2059.2" r="4.6" fill="#d95319"/>
<circle cx="1258.13" cy="2113.11" r="4.6" fill="#d95319"/>
<circle cx="1270.27" cy="2093.54" r="4.6" fill="#d95319"/>
<circle cx="1272.55" cy="2100.38" r="4.6" fill="#d95319"/>
<circle cx="1271.79" cy="2101.9" r="4.6" fill="#d95319"/>
<circle cx="1283.52" cy="2080.85" r="4.6" fill="#d95319"/>
<circle cx="1277.35" cy="2097.47" r="4.6" fill="#d95319"/>
<circle cx="1247.38" cy="2096.59" r="4.6" fill="#d95319"/>
<circle cx="1268" cy="2068.28" r="4.6" fill="#d95319"/>
<circle cx="1283.2" cy="2087.48" r="4.6" fill="#d95319"/>
<circle cx="1268.1" cy="2111.46" r="4.6" fill="#d95319"/>
<circle cx="1268.15" cy="2086.65" r="4.6" fill="#d95319"/>
<circle cx="1262.58" cy="2114.95" r="4.6" fill="#d95319"/>
<circle cx="1287.85" cy="2104.56" r="4.6" fill="#d95319"/>
<circle cx="1293.41" cy="2059.51" r="4.6" fill="#d95319"/>
<circle cx="1291.76" cy="2101.85" r="4.6" fill="#d95319"/>
<circle cx="1278.08" cy="2116.92" r="4.6" fill="#d95319"/>
<circle cx="1263.34" cy="2123.9" r="4.6" fill="#d95319"/>
<circle cx="1257.81" cy="2104.4" r="4.6" fill="#d95319"/>
<circle cx="1282.98" cy="2064.67" r="4.6" fill="#d95319"/>
<circle cx="1263.19" cy="2098.39" r="4.6" fill="#d95319"/>
<circle cx="1254.68" cy="2118.43" r="4.6" fill="#d95319"/>
<circle cx="1242.14" cy="2102.95" r="4.6" fill="#d95319"/>
<circle cx="1277.48" cy="2104.31" r="4.6" fill="#d95319"/>
<circle cx="1274.08" cy="2113.22" r="4.6" fill="#d95319"/>
<circle cx="1253.71" cy="2106.26" r="4.6" fill="#d95319"/>
<circle cx="1281.73" cy="2098.18" r="4.6" fill="#d95319"/>
<circle cx="1279.96" cy="2095.14" r="4.6" fill="#d95319"/>
<circle cx="1252.17" cy="2137" r="4.6" fill="#d95319"/>
<circle cx="1261.55" cy="2112.85" r="4.6" fill="#d95319"/>
<circle cx="1281.99" cy="2078.33" r="4.6" fill="#d95319"/>
<circle cx="1244.3" cy="2080.79" r="4.6" fill="#d95319"/>
<circle cx="1276.43" cy="2148.49" r="4.6" fill="#d95319"/>
<circle cx="1253.08" cy="2090.62" r="4.6" fill="#d95319"/>
<circle cx="1244.94" cy="2112.83" r="4.6" fill="#d95319"/>
<circle cx="1276.2" cy="2084.01" r="4.6" fill="#d95319"/>
<circle cx="1275.16" cy="2076.88" r="4.6" fill="#d95319"/>
<circle cx="1255.46" cy="2046.15" r="4.6" fill="#d95319"/>
<circle cx="1276.2" cy="2045.38" r="4.6" fill="#d95319"/>
<circle cx="1264.56" cy="2080.96" r="4.6" fill="#d95319"/>
<circle cx="1273.51" cy="2092.95" r="4.6" fill="#d95319"/>
<circle cx="1273.1" cy="2084.76" r="4.6" fill="#d95319"/>
<circle cx="1280.46" cy="2081.43" r="4.6" fill="#d95319"/>
<circle cx="1269.3" cy="2081.17" r="4.6" fill="#d95319"/>
<circle cx="1289.77" cy="2083.88" r="4.6" fill="#d95319"/>
<circle cx="1277.37" cy="2085.99" r="4.6" fill="#d95319"/>
<circle cx="1239.54" cy="2117.9" r="4.6" fill="#d95319"/>
<circle cx="1254.93" cy="2123.55" r="4.6" fill="#d95319"/>
<circle cx="1259.31" cy="2129.93" r="4.6" fill="#d95319"/>
<circle cx="1272.39" cy="2101.22" r="4.6" fill="#d95319"/>
<circle cx="1286.46" cy="2078.51" r="4.6" fill="#d95319"/>
<circle cx="1249.7" cy="2101.17" r="4.6" fill="#d95319"/>
<circle cx="1269.08" cy="2105.06" r="4.6" fill="#d95319"/>
<circle cx="1263.09" cy="2115" r="4.6" fill="#d95319"/>
<circle cx="1257.65" cy="2088.87" r="4.6" fill="#d95319"/>
<circle cx="1263.5" cy="2068.31" r="4.6" fill="#d95319"/>
<circle cx="1237.3" cy="2116.43" r="4.6" fill="#d95319"/>
<circle cx="1262.92" cy="2063.06" r="4.6" fill="#d95319"/>
<circle cx="1284.68" cy="2071.59" r="4.6" fill="#d95319"/>
<circle cx="1282.62" cy="2055.19" r="4.6" fill="#d95319"/>
<circle cx="1278.2" cy="2093.58" r="4.6" fill="#d95319"/>
<circle cx="1270.96" cy="2105.56" r="4.6" fill="#d95319"/>
<circle cx="1264.96" cy="2085.1" r="4.6" fill="#d95319"/>
<circle cx="1260.89" cy="2091.71" r="4.6" fill="#d95319"/>
<circle cx="1261.88" cy="2120.21" r="4.6" fill="#d95319"/>
<circle cx="1247.15" cy="2083.7" r="4.6" fill="#d95319"/>
<circle cx="1268.65" cy="2074.88" r="4.6" fill="#d95319"/>
<circle cx="1266.67" cy="2092.51" r="4.6" fill="#d95319"/>
<circle cx="1272.04" cy="2097.63" r="4.6" fill="#d95319"/>
<circle cx="1288.29" cy="2065.92" r="4.6" fill="#d95319"/>
<circle cx="1273.91" cy="2111.45" r="4.6" fill="#d95319"/>
<circle cx="1260.25" cy="2090.05" r="4.6" fill="#d95319"/>
<circle cx="1284.98" cy="2088.12" r="4.6" fill="#d95319"/>
<circle cx="1267.61" cy="2081.66" r="4.6" fill="#d95319"/>
<circle cx="1269.67" cy="2094.86" r="4.6" fill="#d95319"/>
<circle cx="1251.49" cy="2072.1" r="4.6" fill="#d95319"/>
<circle cx="1267.14" cy="2102.96" r="4.6" fill="#d95319"/>
<circle cx="1266.35" cy="2119.56" r="4.6" fill="#d95319"/>
<circle cx="1243.33" cy="2135.37" r="4.6" fill="#d95319"/>
<circle cx="1273.22" cy="2117.7" r="4.6" fill="#d95319"/>
<circle cx="1269.4" cy="2116.04" r="4.6" fill="#d95319"/>
<circle cx="1241.77" cy="2112.41" r="4.6" fill="#d95319"/>
<circle cx="1256.91" cy="2109.64" r="4.6" fill="#d95319"/>
<circle cx="1292.85" cy="2081.52" r="4.6" fill="#d95319"/>
<circle cx="1258.99" cy="2077.6" r="4.6" fill="#d95319"/>
<circle cx="1262.94" cy="2069.52" r="4.6" fill="#d95319"/>
<circle cx="1244.8" cy="2077.33" r="4.6" fill="#d95319"/>
<circle cx="1251.79" cy="2112.09" r="4.6" fill="#d95319"/>
<circle cx="1270.52" cy="2113.71" r="4.6" fill="#d95319"/>
<circle cx="1243.6" cy="2107.64" r="4.6" fill="#d95319"/>
<circle cx="1263.14" cy="2127.33" r="4.6" fill="#d95319"/>
<circle cx="1281.72" cy="2105.58" r="4.6" fill="#d95319"/>
<circle cx="1258.41" cy="2100.25" r="4.6" fill="#d95319"/>
<circle cx="1268.15" cy="2071.52" r="4.6" fill="#d95319"/>
<circle cx="1236.01" cy="2101.82" r="4.6" fill="#d95319"/>
<circle cx="1280.34" cy="2084.66" r="4.6" fill="#d95319"/>
<circle cx="1266.28" cy="2115.95" r="4.6" fill="#d95319"/>
<circle cx="1272.28" cy="2101.62" r="4.6" fill="#d95319"/>
<circle cx="1269.33" cy="2114.01" r="4.6" fill="#d95319"/>
<circle cx="1262.73" cy="2097.45" r="4.6" fill="#d95319"/>
<circle cx="1245.73" cy="2078.52" r="4.6" fill="#d95319"/>
<circle cx="1265.53" cy="2119.73" r="4.6" fill="#d95319"/>
<circle cx="1263.64" cy="2091.68" r="4.6" fill="#d95319"/>
<circle cx="1262.3" cy="2115.58" r="4.6" fill="#d95319"/>
<circle cx="1264.02" cy="2121.67" r="4.6" fill="#d95319"/>
<circle cx="1242.99" cy="2076.4" r="4.6" fill="#d95319"/>
<circle cx="1292.19" cy="2048.56" r="4.6" fill="#d95319"/>
<circle cx="1300.3" cy="2056.54" r="4.6" fill="#d95319"/>
<circle cx="1253.69" cy="2108.58" r="4.6" fill="#d95319"/>
<circle cx="1283.37" cy="2098.27" r="4.6" fill="#d95319"/>
<circle cx="1262.16" cy="2095.13" r="4.6" fill="#d95319"/>
<circle cx="1273.43" cy="2119.15" r="4.6" fill="#d95319"/>
<circle cx="1267.75" cy="2083.27" r="4.6" fill="#d95319"/>
<circle cx="1237.35" cy="2079.01" r="4.6" fill="#d95319"/>
<circle cx="1278.51" cy="2106.57" r="4.6" fill="#d95319"/>
<circle cx="1294.03" cy="2077.28" r="4.6" fill="#d95319"/>
<circle cx="1274.29" cy="2060.05" r="4.6" fill="#d95319"/>
<circle cx="1229.7" cy="2103.74" r="4.6" fill="#d95319"/>
<circle cx="1282.84" cy="2060.18" r="4.6" fill="#d95319"/>
<circle cx="1266.78" cy="2097.16" r="4.6" fill="#d95319"/>
<circle cx="1256.1" cy="2103.22" r="4.6" fill="#d95319"/>
<circle cx="1254.74" cy="2145.39" r="4.6" fill="#d95319"/>
<circle cx="1258.71" cy="2116.12" r="4.6" fill="#d95319"/>
<circle cx="1258.51" cy="2105.06" r="4.6" fill="#d95319"/>
<circle cx="1260.17" cy="2093.29" r="4.6" fill="#d95319"/>
<circle cx="1266.3" cy="2100.91" r="4.6" fill="#d95319"/>
<circle cx="1258.23" cy="2098.01" r="4.6" fill="#d95319"/>
<circle cx="1262.69" cy="2097.27" r="4.6" fill="#d95319"/>
<circle cx="1287.42" cy="2082.76" r="4.6" fill="#d95319"/>
<circle cx="1261.46" cy="2136.49" r="4.6" fill="#d95319"/>
<circle cx="1246.04" cy="2159.15" r="4.6" fill="#d95319"/>
<circle cx="1280.11" cy="2067.45" r="4.6" fill="#d95319"/>
<circle cx="1261.34" cy="2104.47" r="4.6" fill="#d95319"/>
<circle cx="1274.19" cy="2079.81" r="4.6" fill="#d95319"/>
<circle cx="1241.88" cy="2105.68" r="4.6" fill="#d95319"/>
<circle cx="1262.67" cy="2120.15" r="4.6" fill="#d95319"/>
<circle cx="1287.92" cy="2072.34" r="4.6" fill="#d95319"/>
<circle cx="1258.41" cy="2096.77" r="4.6" fill="#d95319"/>
<circle cx="1259.21" cy="2105.86" r="4.6" fill="#d95319"/>
<circle cx="1261.51" cy="2074.29" r="4.6" fill="#d95319"/>
<circle cx="1267.34" cy="2102.9" r="4.6" fill="#d95319"/>
<circle cx="1257.29" cy="2090.9" r="4.6" fill="#d95319"/>
<circle cx="1254.5" cy="2129.61" r="4.6" fill="#d95319"/>
<circle cx="1265.22" cy="2061.78" r="4.6" fill="#d95319"/>
<circle cx="1257.32" cy="2092.95" r="4.6" fill="#d95319"/>
<circle cx="1264.38" cy="2069.34" r="4.6" fill="#d95319"/>
<circle cx="1274.2" cy="2117.05" r="4.6" fill="#d95319"/>
<circle cx="1292.74" cy="2085.99" r="4.6" fill="#d95319"/>
<circle cx="1253.89" cy="2107.32" r="4.6" fill="#d95319"/>
<circle cx="1268.16" cy="2071.3" r="4.6" fill="#d95319"/>
<circle cx="1263.15" cy="2109.5" r="4.6" fill="#d95319"/>
<circle cx="1286.63" cy="2056.12" r="4.6" fill="#d95319"/>
<circle cx="1262.06" cy="2092.03" r="4.6" fill="#d95319"/>
<circle cx="1272.72" cy="2097.94" r="4.6" fill="#d95319"/>
<circle cx="1253.88" cy="2076.01" r="4.6" fill="#d95319"/>
<circle cx="1251.25" cy="2134.99" r="4.6" fill="#d95319"/>
<circle cx="1275.79" cy="2067.46" r="4.6" fill="#d95319"/>
<circle cx="1279.19" cy="2105.54" r="4.6" fill="#d95319"/>
<circle cx="1263.67" cy="2116.43" r="4.6" fill="#d95319"/>
<circle cx="1259.59" cy="2145.24" r="4.6" fill="#d95319"/>
<circle cx="1254.52" cy="2069" r="4.6" fill="#d95319"/>
<circle cx="1250.15" cy="2063.18" r="4.6" fill="#d95319"/>
<circle cx="1269.82" cy="2132.36" r="4.6" fill="#d95319"/>
<circle cx="1281.07" cy="2108.78" r="4.6" fill="#d95319"/>
<circle cx="1275.36" cy="2094.62" r="4.6" fill="#d95319"/>
<circle cx="1262.15" cy="2098.31" r="4.6" fill="#d95319"/>
<circle cx="1248" cy="2114.14" r="4.6" fill="#d95319"/>
<circle cx="1261.43" cy="2058.91" r="4.6" fill="#d95319"/>
<circle cx="1258.88" cy="2089.03" r="4.6" fill="#d95319"/>
<circle cx="1273.97" cy="2066.53" r="4.6" fill="#d95319"/>
<circle cx="1263.91" cy="2090.1" r="4.6" fill="#d95319"/>
<circle cx="1253.69" cy="2045.7" r="4.6" fill="#d95319"/>
<circle cx="1245.48" cy="2094.17" r="4.6" fill="#d95319"/>
<circle cx="1262.26" cy="2091.27" r="4.6" fill="#d95319"/>
<circle cx="1259.65" cy="2104.46" r="4.6" fill="#d95319"/>
<circle cx="1281.84" cy="2069.75" r="4.6" fill="#d95319"/>
<circle cx="1272.63" cy="2012.3" r="4.6" fill="#d95319"/>
<circle cx="1248.11" cy="2037.76" r="4.6" fill="#d95319"/>
<circle cx="1260.01" cy="2042.05" r="4.6" fill="#d95319"/>
<circle cx="1306.43" cy="2050.38" r="4.6" fill="#d95319"/>
<circle cx="1321.19" cy="2050.85" r="4.6" fill="#d95319"/>
<circle cx="1219.54" cy="2070.61" r="4.6" fill="#d95319"/>
<circle cx="1239.77" cy="2057.52" r="4.6" fill="#d95319"/>
<circle cx="1304.05" cy="2070.61" r="4.6" fill="#d95319"/>
<circle cx="1289.77" cy="2056.33" r="4.6" fill="#d95319"/>
<circle cx="1202.16" cy="2126.54" r="4.6" fill="#d95319"/>
<circle cx="1218.35" cy="2151.06" r="4.6" fill="#d95319"/>
<circle cx="1226.68" cy="2135.59" r="4.6" fill="#d95319"/>
<circle cx="1235.73" cy="2123.68" r="4.6" fill="#d95319"/>
<circle cx="1239.77" cy="2143.2" r="4.6" fill="#d95319"/>
<circle cx="1255.25" cy="2143.2" r="4.6" fill="#d95319"/>
<circle cx="1270.72" cy="2147.96" r="4.6" fill="#d95319"/>
<circle cx="1280.24" cy="2145.58" r="4.6" fill="#d95319"/>
<circle cx="1289.05" cy="2142.73" r="4.6" fill="#d95319"/>
<circle cx="1279.05" cy="2158.2" r="4.6" fill="#d95319"/>
<circle cx="1284.29" cy="2163.91" r="4.6" fill="#d95319"/>
<circle cx="1264.06" cy="2176.52" r="4.6" fill="#d95319"/>
<circle cx="1271.44" cy="2176.52" r="4.6" fill="#d95319"/>
<circle cx="1213.59" cy="2196.04" r="4.6" fill="#d95319"/>
<circle cx="1202.4" cy="2206.75" r="4.6" fill="#d95319"/>
<circle cx="1311.19" cy="2140.35" r="4.6" fill="#d95319"/>
<circle cx="1320.71" cy="2130.82" r="4.6" fill="#d95319"/>
<circle cx="1317.86" cy="2102.03" r="4.6" fill="#d95319"/>
<circle cx="1309.29" cy="2089.65" r="4.6" fill="#d95319"/>
<circle cx="1298.1" cy="2120.59" r="4.6" fill="#d95319"/>
<circle cx="1300.48" cy="2122.49" r="4.6" fill="#d95319"/>
<circle cx="1279.05" cy="2129.4" r="4.6" fill="#d95319"/>
<circle cx="1289.77" cy="2126.54" r="4.6" fill="#d95319"/>
<circle cx="1221.92" cy="2102.74" r="4.6" fill="#d95319"/>
<circle cx="1224.3" cy="2107.5" r="4.6" fill="#d95319"/>
<circle cx="1226.68" cy="2095.6" r="4.6" fill="#d95319"/>
<circle cx="1240.96" cy="2058.71" r="4.6" fill="#d95319"/>
<circle cx="1245.73" cy="2058.71" r="4.6" fill="#d95319"/>
<circle cx="1257.63" cy="2056.33" r="4.6" fill="#d95319"/>
<circle cx="1295.72" cy="2051.57" r="4.6" fill="#d95319"/>
<circle cx="1283.82" cy="2044.43" r="4.6" fill="#d95319"/>
<circle cx="1226.68" cy="2082.51" r="4.6" fill="#d95319"/>
<circle cx="1231.44" cy="2077.75" r="4.6" fill="#d95319"/>
<rect x="1150.5" y="1981" width="243.3" height="229.2" fill="none" stroke="#111" stroke-width="2.6"/>
<line x1="1211.33" y1="2210.2" x2="1211.33" y2="2207.2" stroke="#000" stroke-width="2"/>
<line x1="1211.33" y1="1981" x2="1211.33" y2="1984" stroke="#000" stroke-width="2"/>
<line x1="1150.5" y1="2152.9" x2="1153.5" y2="2152.9" stroke="#000" stroke-width="2"/>
<line x1="1393.8" y1="2152.9" x2="1390.8" y2="2152.9" stroke="#000" stroke-width="2"/>
<line x1="1272.15" y1="2210.2" x2="1272.15" y2="2207.2" stroke="#000" stroke-width="2"/>
<line x1="1272.15" y1="1981" x2="1272.15" y2="1984" stroke="#000" stroke-width="2"/>
<line x1="1150.5" y1="2095.6" x2="1153.5" y2="2095.6" stroke="#000" stroke-width="2"/>
<line x1="1393.8" y1="2095.6" x2="1390.8" y2="2095.6" stroke="#000" stroke-width="2"/>
<line x1="1332.98" y1="2210.2" x2="1332.98" y2="2207.2" stroke="#000" stroke-width="2"/>
<line x1="1332.98" y1="1981" x2="1332.98" y2="1984" stroke="#000" stroke-width="2"/>
<line x1="1150.5" y1="2038.3" x2="1153.5" y2="2038.3" stroke="#000" stroke-width="2"/>
<line x1="1393.8" y1="2038.3" x2="1390.8" y2="2038.3" stroke="#000" stroke-width="2"/>
<text x="1150.5" y="2237.3" font-size="20.5" text-anchor="middle" textLength="18.77" lengthAdjust="spacingAndGlyphs">-1</text>
<text x="1146.5" y="2217.58" font-size="20.5" text-anchor="end" textLength="18.77" lengthAdjust="spacingAndGlyphs">-1</text>
<text x="1211.33" y="2237.3" font-size="20.5" text-anchor="middle" textLength="36.38" lengthAdjust="spacingAndGlyphs">-0.5</text>
<text x="1146.5" y="2160.28" font-size="20.5" text-anchor="end" textLength="36.38" lengthAdjust="spacingAndGlyphs">-0.5</text>
<text x="1272.15" y="2237.3" font-size="20.5" text-anchor="middle" textLength="11.74" lengthAdjust="spacingAndGlyphs">0</text>
<text x="1146.5" y="2102.98" font-size="20.5" text-anchor="end" textLength="11.74" lengthAdjust="spacingAndGlyphs">0</text>
<text x="1332.98" y="2237.3" font-size="20.5" text-anchor="middle" textLength="29.35" lengthAdjust="spacingAndGlyphs">0.5</text>
<text x="1146.5" y="2045.68" font-size="20.5" text-anchor="end" textLength="29.35" lengthAdjust="spacingAndGlyphs">0.5</text>
<text x="1393.8" y="2237.3" font-size="20.5" text-anchor="middle" textLength="11.74" lengthAdjust="spacingAndGlyphs">1</text>
<text x="1146.5" y="1988.38" font-size="20.5" text-anchor="end" textLength="11.74" lengthAdjust="spacingAndGlyphs">1</text>
<text x="1272.15" y="1974.5" font-size="19.5" text-anchor="middle" textLength="159.16" lengthAdjust="spacingAndGlyphs">Plasma vs tumour</text>
<text x="1272.15" y="2262" font-size="19.5" text-anchor="middle" textLength="66" lengthAdjust="spacingAndGlyphs">plasma</text>
<text x="1106.4" y="2095.6" font-size="19.5" text-anchor="middle" textLength="63.72" lengthAdjust="spacingAndGlyphs" transform="rotate(-90 1106.4 2095.6)">tumour</text>
<text x="1180.2" y="2011.4" font-size="19.5"><tspan font-style="italic">&#961;</tspan>=0.20</text>
<text x="1180.2" y="2034" font-size="19.5" textLength="94" lengthAdjust="spacingAndGlyphs">p=6.71e-4</text>
</svg></body></html>
